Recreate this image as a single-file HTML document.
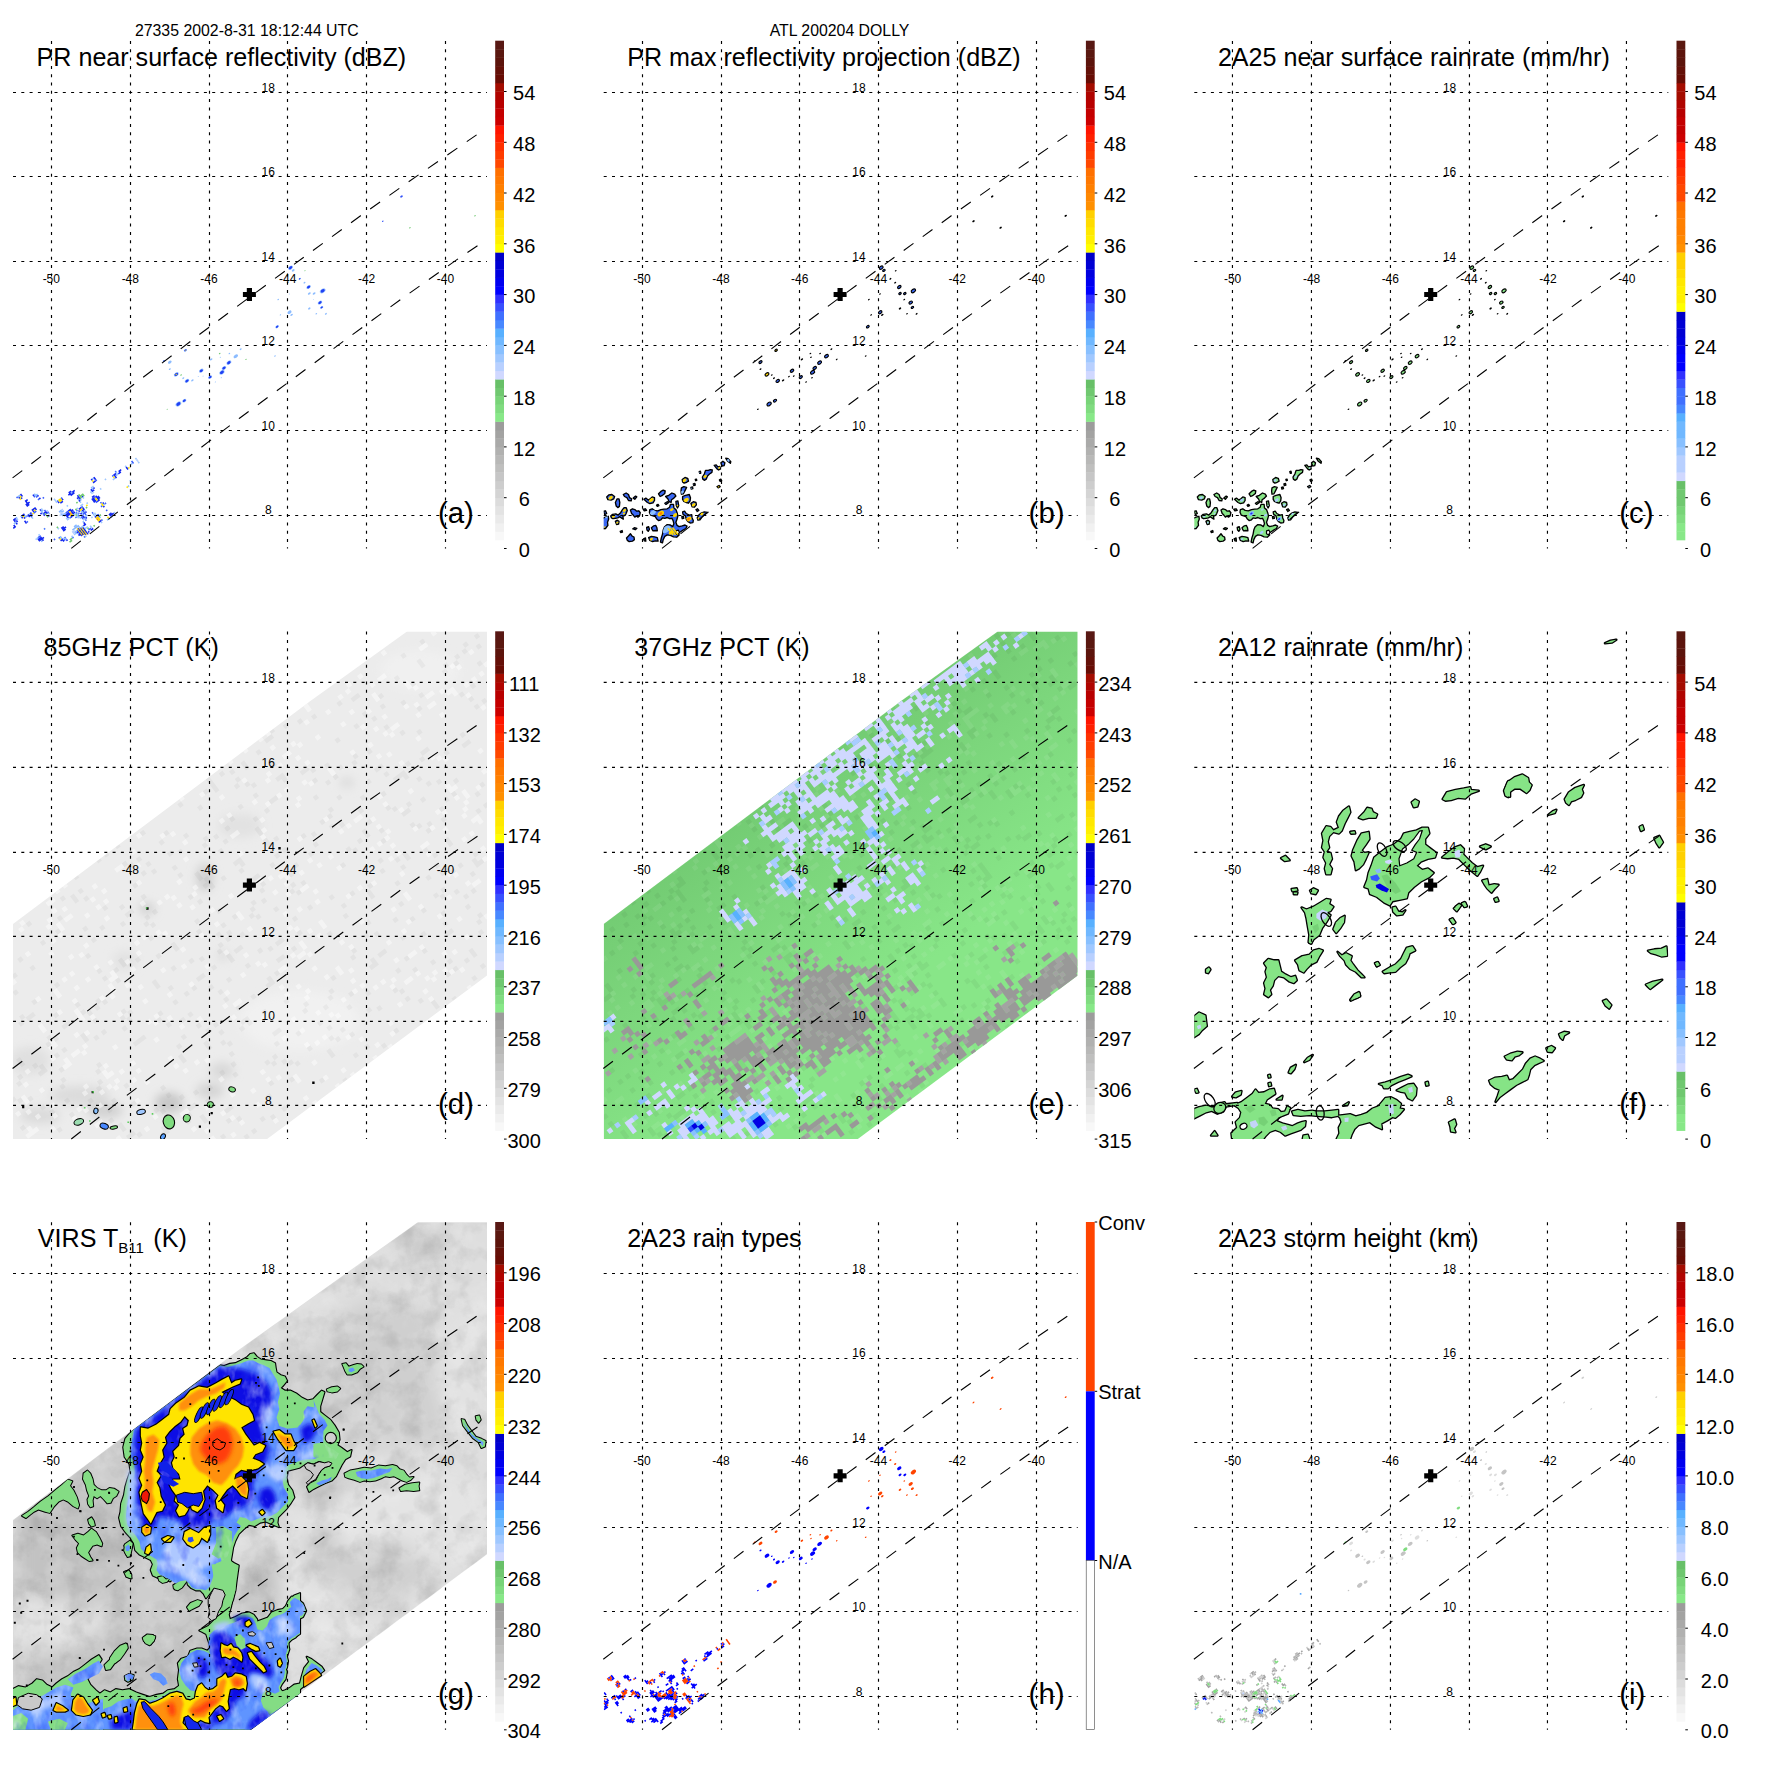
<!DOCTYPE html>
<html><head><meta charset="utf-8"><title>TRMM overpass</title>
<style>
html,body{margin:0;padding:0;background:#fff;}
svg{display:block;font-family:"Liberation Sans",sans-serif;}
.g{stroke:#000;stroke-width:1.15;stroke-dasharray:3 5.3;fill:none}
.sw{stroke:#000;stroke-width:1.1;stroke-dasharray:12.1 11.45;fill:none;stroke-linejoin:round}
.tk{stroke:#000;stroke-width:1}
.gl{font-size:12px;fill:#000}
.cl{font-size:20px;fill:#000}
.tt{font-size:25.1px;fill:#000}
.pl{font-size:29.4px;fill:#000}
.hd{font-size:15.85px;fill:#000}
</style></head><body>
<svg width="1771" height="1771" viewBox="0 0 1771 1771">
<rect width="1771" height="1771" fill="#fff"/>
<defs><clipPath id="cp"><rect x="13" y="41" width="474" height="507.5"/></clipPath>
<filter id="nzd" x="0" y="0" width="100%" height="100%"><feTurbulence type="fractalNoise" baseFrequency="0.045" numOctaves="4" seed="4"/><feColorMatrix type="matrix" values="0 0 0 0 0  0 0 0 0 0  0 0 0 0 0  2.2 0 0 0 -0.95"/></filter>
<filter id="nzl" x="0" y="0" width="100%" height="100%"><feTurbulence type="fractalNoise" baseFrequency="0.045" numOctaves="4" seed="11"/><feColorMatrix type="matrix" values="0 0 0 0 1  0 0 0 0 1  0 0 0 0 1  0 2.2 0 0 -0.95"/></filter>
<filter id="nzb" x="0" y="0" width="100%" height="100%"><feTurbulence type="fractalNoise" baseFrequency="0.09 0.05" numOctaves="3" seed="7"/><feColorMatrix type="matrix" values="0 0 0 0 0.82  0 0 0 0 0.88  0 0 0 0 1  2.6 0 0 0 -1.25"/></filter>
<filter id="nzk" x="0" y="0" width="100%" height="100%"><feTurbulence type="fractalNoise" baseFrequency="0.08 0.05" numOctaves="3" seed="21"/><feColorMatrix type="matrix" values="0 0 0 0 0.02  0 0 0 0 0.05  0 0 0 0 0.9  0 2.6 0 0 -1.3"/></filter>
<filter id="b1" x="-20%" y="-20%" width="140%" height="140%"><feGaussianBlur stdDeviation="1"/></filter>
<filter id="b2" x="-20%" y="-20%" width="140%" height="140%"><feGaussianBlur stdDeviation="2.2"/></filter>
<filter id="b5" x="-30%" y="-30%" width="160%" height="160%"><feGaussianBlur stdDeviation="5"/></filter>
<filter id="b9" x="-40%" y="-40%" width="180%" height="180%"><feGaussianBlur stdDeviation="9"/></filter></defs>

<g transform="translate(0,0)">
<g clip-path="url(#cp)">
<g transform="rotate(-36.76)"><path d="M-284.8 408.0h1.6v1.6h-1.6zM-270.4 417.6h1.6v1.6h-1.6zM-268.8 419.2h1.6v1.6h-1.6zM-268.8 422.4h1.6v1.6h-1.6zM-264.0 424.0h1.6v1.6h-1.6zM-299.2 425.6h1.6v1.6h-1.6zM-283.2 430.4h1.6v1.6h-1.6zM-280.0 430.4h3.2v1.6h-3.2zM-284.8 432.0h1.6v1.6h-1.6zM-291.2 433.6h1.6v1.6h-1.6zM-270.4 435.2h1.6v1.6h-1.6zM-254.4 435.2h1.6v1.6h-1.6zM-249.6 435.2h1.6v1.6h-1.6zM-273.6 436.8h1.6v1.6h-1.6zM-268.8 438.4h1.6v1.6h-1.6zM-211.2 441.6h1.6v1.6h-1.6zM-195.2 448.0h1.6v1.6h-1.6zM-171.2 448.0h1.6v1.6h-1.6zM-254.4 449.6h3.2v1.6h-3.2zM-171.2 449.6h1.6v1.6h-1.6zM-291.2 452.8h3.2v1.6h-3.2zM-248.0 452.8h1.6v1.6h-1.6zM-238.4 454.4h1.6v1.6h-1.6zM-222.4 454.4h1.6v1.6h-1.6zM-254.4 456.0h1.6v1.6h-1.6zM-251.2 456.0h1.6v1.6h-1.6zM-240.0 459.2h1.6v1.6h-1.6zM-224.0 459.2h1.6v1.6h-1.6zM-241.6 460.8h3.2v1.6h-3.2zM-244.8 462.4h1.6v1.6h-1.6zM-240.0 462.4h1.6v1.6h-1.6zM-220.8 462.4h1.6v1.6h-1.6zM-280.0 464.0h1.6v1.6h-1.6zM-244.8 464.0h1.6v1.6h-1.6zM-275.2 465.6h1.6v1.6h-1.6zM-233.6 465.6h1.6v1.6h-1.6zM-222.4 465.6h1.6v1.6h-1.6zM-217.6 465.6h1.6v1.6h-1.6zM-272.0 470.4h1.6v1.6h-1.6zM-256.0 470.4h1.6v1.6h-1.6zM-232.0 470.4h1.6v1.6h-1.6zM-220.8 472.0h1.6v1.6h-1.6zM-246.4 476.8h3.2v1.6h-3.2zM-230.4 476.8h1.6v1.6h-1.6z" fill="#3c60ff"/><path d="M-283.2 408.0h3.2v1.6h-3.2zM-268.8 416.0h1.6v1.6h-1.6zM-268.8 417.6h3.2v1.6h-3.2zM-292.8 425.6h1.6v1.6h-1.6zM-302.4 427.2h3.2v1.6h-3.2zM-289.6 427.2h1.6v1.6h-1.6zM-289.6 428.8h1.6v1.6h-1.6zM-284.8 428.8h1.6v1.6h-1.6zM-273.6 433.6h3.2v1.6h-3.2zM-273.6 435.2h1.6v1.6h-1.6zM-238.4 436.8h1.6v1.6h-1.6zM-212.8 438.4h1.6v1.6h-1.6zM-268.8 440.0h1.6v1.6h-1.6zM-219.2 444.8h1.6v1.6h-1.6zM-236.8 446.4h1.6v1.6h-1.6zM-219.2 446.4h1.6v1.6h-1.6zM-235.2 448.0h1.6v1.6h-1.6zM-192.0 449.6h1.6v1.6h-1.6zM-172.8 449.6h1.6v1.6h-1.6zM-195.2 451.2h1.6v1.6h-1.6zM-292.8 452.8h1.6v1.6h-1.6zM-249.6 456.0h1.6v1.6h-1.6zM-291.2 457.6h1.6v1.6h-1.6zM-241.6 457.6h1.6v1.6h-1.6zM-241.6 459.2h1.6v1.6h-1.6zM-243.2 460.8h1.6v1.6h-1.6zM-184.0 462.4h1.6v1.6h-1.6zM-241.6 464.0h3.2v1.6h-3.2zM-273.6 465.6h1.6v1.6h-1.6zM-243.2 465.6h1.6v1.6h-1.6zM-219.2 465.6h1.6v1.6h-1.6zM-188.8 465.6h1.6v1.6h-1.6zM-273.6 467.2h1.6v1.6h-1.6zM-246.4 467.2h1.6v1.6h-1.6zM-233.6 467.2h1.6v1.6h-1.6zM-270.4 470.4h1.6v1.6h-1.6zM-257.6 473.6h1.6v1.6h-1.6zM-252.8 473.6h1.6v1.6h-1.6zM-230.4 473.6h1.6v1.6h-1.6zM-225.6 480.0h3.2v1.6h-3.2z" fill="#8cbcff"/><path d="M-280.0 408.0h1.6v1.6h-1.6zM-283.2 409.6h1.6v1.6h-1.6zM-280.0 409.6h1.6v1.6h-1.6zM-281.6 411.2h1.6v1.6h-1.6zM-280.0 416.0h3.2v1.6h-3.2zM-270.4 416.0h1.6v1.6h-1.6zM-280.0 417.6h1.6v1.6h-1.6zM-281.6 419.2h4.8v1.6h-4.8zM-267.2 419.2h1.6v1.6h-1.6zM-281.6 420.8h3.2v1.6h-3.2zM-267.2 422.4h1.6v1.6h-1.6zM-300.8 424.0h3.2v1.6h-3.2zM-300.8 425.6h1.6v1.6h-1.6zM-291.2 425.6h3.2v1.6h-3.2zM-299.2 427.2h1.6v1.6h-1.6zM-292.8 427.2h1.6v1.6h-1.6zM-280.0 427.2h4.8v1.6h-4.8zM-304.0 428.8h1.6v1.6h-1.6zM-300.8 428.8h1.6v1.6h-1.6zM-291.2 428.8h1.6v1.6h-1.6zM-286.4 428.8h1.6v1.6h-1.6zM-283.2 428.8h1.6v1.6h-1.6zM-280.0 428.8h1.6v1.6h-1.6zM-276.8 428.8h1.6v1.6h-1.6zM-305.6 430.4h3.2v1.6h-3.2zM-286.4 430.4h3.2v1.6h-3.2zM-292.8 432.0h1.6v1.6h-1.6zM-273.6 432.0h1.6v1.6h-1.6zM-292.8 433.6h1.6v1.6h-1.6zM-275.2 435.2h1.6v1.6h-1.6zM-240.0 435.2h3.2v1.6h-3.2zM-272.0 436.8h3.2v1.6h-3.2zM-254.4 436.8h1.6v1.6h-1.6zM-249.6 436.8h1.6v1.6h-1.6zM-241.6 436.8h3.2v1.6h-3.2zM-236.8 436.8h3.2v1.6h-3.2zM-273.6 438.4h1.6v1.6h-1.6zM-270.4 438.4h1.6v1.6h-1.6zM-252.8 438.4h3.2v1.6h-3.2zM-240.0 438.4h4.8v1.6h-4.8zM-214.4 438.4h1.6v1.6h-1.6zM-211.2 438.4h1.6v1.6h-1.6zM-211.2 440.0h1.6v1.6h-1.6zM-270.4 441.6h1.6v1.6h-1.6zM-214.4 441.6h3.2v1.6h-3.2zM-235.2 443.2h1.6v1.6h-1.6zM-236.8 444.8h3.2v1.6h-3.2zM-235.2 446.4h1.6v1.6h-1.6zM-232.0 446.4h1.6v1.6h-1.6zM-220.8 446.4h1.6v1.6h-1.6zM-217.6 446.4h1.6v1.6h-1.6zM-236.8 448.0h1.6v1.6h-1.6zM-220.8 448.0h3.2v1.6h-3.2zM-193.6 448.0h3.2v1.6h-3.2zM-187.2 448.0h3.2v1.6h-3.2zM-251.2 449.6h3.2v1.6h-3.2zM-193.6 449.6h1.6v1.6h-1.6zM-188.8 449.6h3.2v1.6h-3.2zM-179.2 449.6h1.6v1.6h-1.6zM-256.0 451.2h4.8v1.6h-4.8zM-249.6 451.2h3.2v1.6h-3.2zM-193.6 451.2h1.6v1.6h-1.6zM-179.2 451.2h1.6v1.6h-1.6zM-256.0 452.8h4.8v1.6h-4.8zM-249.6 452.8h1.6v1.6h-1.6zM-224.0 452.8h3.2v1.6h-3.2zM-292.8 454.4h4.8v1.6h-4.8zM-256.0 454.4h1.6v1.6h-1.6zM-249.6 454.4h3.2v1.6h-3.2zM-241.6 454.4h3.2v1.6h-3.2zM-225.6 454.4h3.2v1.6h-3.2zM-220.8 454.4h1.6v1.6h-1.6zM-292.8 456.0h6.4v1.6h-6.4zM-252.8 456.0h1.6v1.6h-1.6zM-243.2 456.0h1.6v1.6h-1.6zM-238.4 456.0h1.6v1.6h-1.6zM-225.6 456.0h3.2v1.6h-3.2zM-220.8 456.0h3.2v1.6h-3.2zM-289.6 457.6h1.6v1.6h-1.6zM-240.0 457.6h3.2v1.6h-3.2zM-225.6 457.6h3.2v1.6h-3.2zM-220.8 457.6h3.2v1.6h-3.2zM-267.2 459.2h3.2v1.6h-3.2zM-243.2 459.2h1.6v1.6h-1.6zM-222.4 459.2h3.2v1.6h-3.2zM-267.2 460.8h4.8v1.6h-4.8zM-238.4 460.8h1.6v1.6h-1.6zM-267.2 462.4h3.2v1.6h-3.2zM-243.2 462.4h1.6v1.6h-1.6zM-243.2 464.0h1.6v1.6h-1.6zM-219.2 464.0h1.6v1.6h-1.6zM-241.6 465.6h1.6v1.6h-1.6zM-220.8 467.2h1.6v1.6h-1.6zM-275.2 468.8h3.2v1.6h-3.2zM-246.4 468.8h1.6v1.6h-1.6zM-273.6 470.4h1.6v1.6h-1.6zM-248.0 470.4h3.2v1.6h-3.2zM-233.6 470.4h1.6v1.6h-1.6zM-230.4 470.4h1.6v1.6h-1.6zM-270.4 472.0h1.6v1.6h-1.6zM-257.6 472.0h6.4v1.6h-6.4zM-230.4 472.0h1.6v1.6h-1.6zM-256.0 473.6h1.6v1.6h-1.6zM-257.6 475.2h3.2v1.6h-3.2zM-252.8 475.2h3.2v1.6h-3.2zM-256.0 476.8h4.8v1.6h-4.8zM-233.6 476.8h3.2v1.6h-3.2zM-220.8 476.8h3.2v1.6h-3.2zM-248.0 478.4h1.6v1.6h-1.6zM-244.8 478.4h3.2v1.6h-3.2zM-220.8 478.4h4.8v1.6h-4.8z" fill="#1428f0"/><path d="M-281.6 409.6h1.6v1.6h-1.6zM-283.2 411.2h1.6v1.6h-1.6zM-291.2 427.2h1.6v1.6h-1.6zM-278.4 428.8h1.6v1.6h-1.6zM-281.6 430.4h1.6v1.6h-1.6zM-252.8 435.2h3.2v1.6h-3.2zM-252.8 436.8h3.2v1.6h-3.2zM-214.4 440.0h1.6v1.6h-1.6zM-195.2 449.6h1.6v1.6h-1.6zM-177.6 451.2h1.6v1.6h-1.6zM-241.6 456.0h3.2v1.6h-3.2zM-233.6 456.0h1.6v1.6h-1.6zM-222.4 456.0h1.6v1.6h-1.6zM-222.4 457.6h1.6v1.6h-1.6zM-220.8 464.0h1.6v1.6h-1.6zM-220.8 465.6h1.6v1.6h-1.6zM-190.4 465.6h1.6v1.6h-1.6zM-275.2 467.2h1.6v1.6h-1.6zM-254.4 473.6h1.6v1.6h-1.6zM-224.0 478.4h1.6v1.6h-1.6z" fill="#ffe400"/><path d="M-297.6 424.0h1.6v1.6h-1.6zM-259.2 444.8h3.2v1.6h-3.2zM-257.6 446.4h3.2v1.6h-3.2zM-259.2 448.0h1.6v1.6h-1.6zM-222.4 448.0h1.6v1.6h-1.6zM-259.2 449.6h4.8v1.6h-4.8zM-256.0 465.6h3.2v1.6h-3.2zM-259.2 467.2h8.0v1.6h-8.0zM-252.8 468.8h1.6v1.6h-1.6zM-259.2 470.4h3.2v1.6h-3.2zM-252.8 470.4h1.6v1.6h-1.6zM-259.2 472.0h1.6v1.6h-1.6z" fill="#88b8ff"/><path d="M-297.6 425.6h1.6v1.6h-1.6zM-272.0 432.0h1.6v1.6h-1.6zM-256.0 432.0h1.6v1.6h-1.6zM-284.8 433.6h1.6v1.6h-1.6zM-256.0 433.6h1.6v1.6h-1.6zM-256.0 435.2h1.6v1.6h-1.6zM-268.8 436.8h1.6v1.6h-1.6zM-249.6 444.8h1.6v1.6h-1.6zM-217.6 444.8h1.6v1.6h-1.6zM-203.2 446.4h1.6v1.6h-1.6zM-232.0 448.0h1.6v1.6h-1.6zM-190.4 448.0h1.6v1.6h-1.6zM-179.2 448.0h1.6v1.6h-1.6zM-166.4 448.0h1.6v1.6h-1.6zM-236.8 449.6h1.6v1.6h-1.6zM-190.4 449.6h1.6v1.6h-1.6zM-289.6 451.2h1.6v1.6h-1.6zM-257.6 451.2h1.6v1.6h-1.6zM-212.8 451.2h1.6v1.6h-1.6zM-196.8 451.2h1.6v1.6h-1.6zM-294.4 452.8h1.6v1.6h-1.6zM-243.2 452.8h1.6v1.6h-1.6zM-238.4 452.8h3.2v1.6h-3.2zM-166.4 452.8h1.6v1.6h-1.6zM-257.6 454.4h1.6v1.6h-1.6zM-232.0 454.4h1.6v1.6h-1.6zM-257.6 456.0h3.2v1.6h-3.2zM-248.0 456.0h1.6v1.6h-1.6zM-270.4 457.6h1.6v1.6h-1.6zM-246.4 457.6h1.6v1.6h-1.6zM-248.0 459.2h1.6v1.6h-1.6zM-238.4 459.2h1.6v1.6h-1.6zM-248.0 460.8h3.2v1.6h-3.2zM-246.4 462.4h1.6v1.6h-1.6zM-244.8 465.6h1.6v1.6h-1.6zM-232.0 467.2h1.6v1.6h-1.6zM-272.0 468.8h1.6v1.6h-1.6zM-236.8 468.8h1.6v1.6h-1.6zM-233.6 468.8h3.2v1.6h-3.2zM-251.2 470.4h3.2v1.6h-3.2zM-264.0 472.0h1.6v1.6h-1.6zM-260.8 472.0h1.6v1.6h-1.6zM-249.6 472.0h1.6v1.6h-1.6zM-249.6 473.6h4.8v1.6h-4.8zM-249.6 475.2h1.6v1.6h-1.6zM-243.2 475.2h1.6v1.6h-1.6zM-243.2 476.8h1.6v1.6h-1.6zM-232.0 478.4h1.6v1.6h-1.6zM-216.0 478.4h1.6v1.6h-1.6zM-252.8 480.0h1.6v1.6h-1.6zM-220.8 480.0h1.6v1.6h-1.6z" fill="#a0c8ff"/><path d="M-288.0 428.8h1.6v1.6h-1.6zM-190.4 446.4h1.6v1.6h-1.6zM-281.6 449.6h1.6v1.6h-1.6zM-244.8 454.4h1.6v1.6h-1.6zM-246.4 456.0h1.6v1.6h-1.6zM-244.8 457.6h1.6v1.6h-1.6zM-249.6 459.2h1.6v1.6h-1.6zM-246.4 459.2h1.6v1.6h-1.6zM-243.2 467.2h1.6v1.6h-1.6zM-270.4 468.8h1.6v1.6h-1.6zM-264.0 473.6h1.6v1.6h-1.6zM-254.4 480.0h1.6v1.6h-1.6z" fill="#4878ff"/><path d="M-272.0 438.4h1.6v1.6h-1.6zM-272.0 441.6h1.6v1.6h-1.6zM-233.6 443.2h1.6v1.6h-1.6zM-233.6 444.8h4.8v1.6h-4.8zM-233.6 446.4h1.6v1.6h-1.6zM-230.4 446.4h1.6v1.6h-1.6zM-240.0 448.0h1.6v1.6h-1.6zM-244.8 452.8h1.6v1.6h-1.6zM-270.4 456.0h1.6v1.6h-1.6zM-248.0 457.6h1.6v1.6h-1.6zM-235.2 457.6h1.6v1.6h-1.6zM-251.2 472.0h1.6v1.6h-1.6zM-228.8 472.0h1.6v1.6h-1.6zM-267.2 473.6h3.2v1.6h-3.2zM-268.8 475.2h3.2v1.6h-3.2zM-246.4 475.2h1.6v1.6h-1.6zM-240.0 476.8h1.6v1.6h-1.6z" fill="#70c870"/><path d="M-256.0 444.8h1.6v1.6h-1.6zM-259.2 446.4h1.6v1.6h-1.6zM-260.8 448.0h1.6v1.6h-1.6zM-257.6 448.0h1.6v1.6h-1.6zM-222.4 449.6h3.2v1.6h-3.2zM-166.4 449.6h1.6v1.6h-1.6zM-166.4 451.2h1.6v1.6h-1.6zM-260.8 468.8h3.2v1.6h-3.2zM-254.4 468.8h1.6v1.6h-1.6zM-260.8 470.4h1.6v1.6h-1.6z" fill="#b8d0ff"/><path d="M-251.2 451.2h1.6v1.6h-1.6zM-252.8 454.4h3.2v1.6h-3.2zM-233.6 472.0h3.2v1.6h-3.2zM-232.0 473.6h1.6v1.6h-1.6zM-233.6 475.2h3.2v1.6h-3.2z" fill="#ffd800"/><path d="M-251.2 452.8h1.6v1.6h-1.6zM-233.6 473.6h1.6v1.6h-1.6z" fill="#ff9000"/></g>
<polygon points="76.5,528.5 77.4,528.1 82.8,534.9 81.9,535.5" fill="#ffd800"/>
<polygon points="77.7,528.4 78.6,527.9 84.0,534.7 83.1,535.3" fill="#0a1ce0"/>
<polygon points="78.9,528.2 79.8,527.7 85.2,534.5 84.2,535.2" fill="#ffd800"/>
<polygon points="80.1,528.1 81.0,527.6 86.4,534.4 85.4,535.0" fill="#0a1ce0"/>
<polygon points="81.2,527.9 82.2,527.4 87.6,534.2 86.6,534.9" fill="#ffd800"/>
<polygon points="82.4,527.7 83.4,527.3 88.7,534.1 87.8,534.7" fill="#0a1ce0"/>
<ellipse cx="185.4" cy="350.3" rx="1.78" ry="1.14" transform="rotate(-35 185.4 350.3)" fill="#9cc4ff"/>
<ellipse cx="185.4" cy="350.3" rx="1.28" ry="0.82" transform="rotate(-35 185.4 350.3)" fill="#2040f4"/>
<ellipse cx="185.4" cy="350.3" rx="0.56" ry="0.36" transform="rotate(-35 185.4 350.3)" fill="#ffe000"/>
<ellipse cx="163.9" cy="361.0" rx="1.27" ry="0.82" transform="rotate(-35 163.9 361.0)" fill="#9cc4ff"/>
<ellipse cx="163.9" cy="361.0" rx="0.91" ry="0.58" transform="rotate(-35 163.9 361.0)" fill="#2040f4"/>
<ellipse cx="169.8" cy="362.1" rx="2.05" ry="1.31" transform="rotate(-35 169.8 362.1)" fill="#8cbcff"/>
<ellipse cx="169.8" cy="369.1" rx="1.14" ry="0.73" transform="rotate(-35 169.8 369.1)" fill="#8cbcff"/>
<ellipse cx="176.3" cy="374.4" rx="2.8" ry="1.79" transform="rotate(-35 176.3 374.4)" fill="#9cc4ff"/>
<ellipse cx="176.3" cy="374.4" rx="2.01" ry="1.28" transform="rotate(-35 176.3 374.4)" fill="#2040f4"/>
<ellipse cx="176.3" cy="374.4" rx="0.89" ry="0.57" transform="rotate(-35 176.3 374.4)" fill="#ffe000"/>
<ellipse cx="181.1" cy="375.0" rx="0.91" ry="0.58" transform="rotate(-35 181.1 375.0)" fill="#70c870"/>
<ellipse cx="183.3" cy="378.2" rx="1.14" ry="0.73" transform="rotate(-35 183.3 378.2)" fill="#8cbcff"/>
<ellipse cx="187.0" cy="380.9" rx="2.55" ry="1.63" transform="rotate(-35 187.0 380.9)" fill="#9cc4ff"/>
<ellipse cx="187.0" cy="380.9" rx="1.82" ry="1.17" transform="rotate(-35 187.0 380.9)" fill="#2040f4"/>
<ellipse cx="192.4" cy="380.4" rx="1.37" ry="0.88" transform="rotate(-35 192.4 380.4)" fill="#8cbcff"/>
<ellipse cx="201.3" cy="370.7" rx="2.55" ry="1.63" transform="rotate(-35 201.3 370.7)" fill="#9cc4ff"/>
<ellipse cx="201.3" cy="370.7" rx="1.82" ry="1.17" transform="rotate(-35 201.3 370.7)" fill="#2040f4"/>
<ellipse cx="210.1" cy="377.1" rx="2.29" ry="1.47" transform="rotate(-35 210.1 377.1)" fill="#9cc4ff"/>
<ellipse cx="210.1" cy="377.1" rx="1.64" ry="1.05" transform="rotate(-35 210.1 377.1)" fill="#2040f4"/>
<ellipse cx="211.2" cy="359.4" rx="1.37" ry="0.88" transform="rotate(-35 211.2 359.4)" fill="#8cbcff"/>
<ellipse cx="219.7" cy="353.5" rx="0.91" ry="0.58" transform="rotate(-35 219.7 353.5)" fill="#70c870"/>
<ellipse cx="220.3" cy="357.3" rx="0.68" ry="0.44" transform="rotate(-35 220.3 357.3)" fill="#8cbcff"/>
<ellipse cx="221.9" cy="372.3" rx="3.06" ry="1.96" transform="rotate(-35 221.9 372.3)" fill="#9cc4ff"/>
<ellipse cx="221.9" cy="372.3" rx="2.19" ry="1.4" transform="rotate(-35 221.9 372.3)" fill="#2040f4"/>
<ellipse cx="224.0" cy="368.0" rx="2.55" ry="1.63" transform="rotate(-35 224.0 368.0)" fill="#9cc4ff"/>
<ellipse cx="224.0" cy="368.0" rx="1.82" ry="1.17" transform="rotate(-35 224.0 368.0)" fill="#2040f4"/>
<ellipse cx="228.9" cy="362.6" rx="2.8" ry="1.79" transform="rotate(-35 228.9 362.6)" fill="#9cc4ff"/>
<ellipse cx="228.9" cy="362.6" rx="2.01" ry="1.28" transform="rotate(-35 228.9 362.6)" fill="#2040f4"/>
<ellipse cx="229.4" cy="353.5" rx="0.91" ry="0.58" transform="rotate(-35 229.4 353.5)" fill="#8cbcff"/>
<ellipse cx="235.8" cy="356.2" rx="2.51" ry="1.6" transform="rotate(-35 235.8 356.2)" fill="#8cbcff"/>
<ellipse cx="240.7" cy="349.2" rx="1.14" ry="0.73" transform="rotate(-35 240.7 349.2)" fill="#8cbcff"/>
<ellipse cx="246.0" cy="359.4" rx="0.8" ry="0.51" transform="rotate(-35 246.0 359.4)" fill="#70c870"/>
<ellipse cx="215.4" cy="382.0" rx="0.68" ry="0.44" transform="rotate(-35 215.4 382.0)" fill="#8cbcff"/>
<ellipse cx="221.3" cy="377.7" rx="0.68" ry="0.44" transform="rotate(-35 221.3 377.7)" fill="#8cbcff"/>
<ellipse cx="198.3" cy="376.6" rx="0.57" ry="0.36" transform="rotate(-35 198.3 376.6)" fill="#8cbcff"/>
<ellipse cx="203.1" cy="376.1" rx="0.57" ry="0.36" transform="rotate(-35 203.1 376.1)" fill="#8cbcff"/>
<ellipse cx="178.4" cy="404.0" rx="3.19" ry="2.04" transform="rotate(-35 178.4 404.0)" fill="#9cc4ff"/>
<ellipse cx="178.4" cy="404.0" rx="2.28" ry="1.46" transform="rotate(-35 178.4 404.0)" fill="#2040f4"/>
<ellipse cx="184.3" cy="400.7" rx="2.29" ry="1.47" transform="rotate(-35 184.3 400.7)" fill="#9cc4ff"/>
<ellipse cx="184.3" cy="400.7" rx="1.64" ry="1.05" transform="rotate(-35 184.3 400.7)" fill="#2040f4"/>
<ellipse cx="167.2" cy="409.3" rx="0.68" ry="0.44" transform="rotate(-35 167.2 409.3)" fill="#70c870"/>
<ellipse cx="290.5" cy="267.7" rx="2.8" ry="1.79" transform="rotate(-35 290.5 267.7)" fill="#9cc4ff"/>
<ellipse cx="290.5" cy="267.7" rx="2.01" ry="1.28" transform="rotate(-35 290.5 267.7)" fill="#2040f4"/>
<ellipse cx="293.2" cy="270.4" rx="1.6" ry="1.02" transform="rotate(-35 293.2 270.4)" fill="#8cbcff"/>
<ellipse cx="305.0" cy="270.7" rx="0.68" ry="0.44" transform="rotate(-35 305.0 270.7)" fill="#70c870"/>
<ellipse cx="299.7" cy="278.8" rx="1.27" ry="0.82" transform="rotate(-35 299.7 278.8)" fill="#9cc4ff"/>
<ellipse cx="299.7" cy="278.8" rx="0.91" ry="0.58" transform="rotate(-35 299.7 278.8)" fill="#2040f4"/>
<ellipse cx="304.5" cy="282.7" rx="1.14" ry="0.73" transform="rotate(-35 304.5 282.7)" fill="#8cbcff"/>
<ellipse cx="308.6" cy="287.0" rx="2.55" ry="1.63" transform="rotate(-35 308.6 287.0)" fill="#9cc4ff"/>
<ellipse cx="308.6" cy="287.0" rx="1.82" ry="1.17" transform="rotate(-35 308.6 287.0)" fill="#2040f4"/>
<ellipse cx="309.3" cy="293.5" rx="1.6" ry="1.02" transform="rotate(-35 309.3 293.5)" fill="#8cbcff"/>
<ellipse cx="314.1" cy="293.5" rx="1.6" ry="1.02" transform="rotate(-35 314.1 293.5)" fill="#8cbcff"/>
<ellipse cx="322.7" cy="290.8" rx="3.19" ry="2.04" transform="rotate(-35 322.7 290.8)" fill="#9cc4ff"/>
<ellipse cx="322.7" cy="290.8" rx="2.28" ry="1.46" transform="rotate(-35 322.7 290.8)" fill="#2040f4"/>
<ellipse cx="320.0" cy="302.6" rx="2.55" ry="1.63" transform="rotate(-35 320.0 302.6)" fill="#9cc4ff"/>
<ellipse cx="320.0" cy="302.6" rx="1.82" ry="1.17" transform="rotate(-35 320.0 302.6)" fill="#2040f4"/>
<ellipse cx="321.7" cy="307.4" rx="1.78" ry="1.14" transform="rotate(-35 321.7 307.4)" fill="#9cc4ff"/>
<ellipse cx="321.7" cy="307.4" rx="1.28" ry="0.82" transform="rotate(-35 321.7 307.4)" fill="#2040f4"/>
<ellipse cx="309.3" cy="308.5" rx="1.37" ry="0.88" transform="rotate(-35 309.3 308.5)" fill="#8cbcff"/>
<ellipse cx="316.3" cy="313.8" rx="0.91" ry="0.58" transform="rotate(-35 316.3 313.8)" fill="#8cbcff"/>
<ellipse cx="325.9" cy="313.8" rx="1.14" ry="0.73" transform="rotate(-35 325.9 313.8)" fill="#8cbcff"/>
<ellipse cx="289.5" cy="312.2" rx="2.28" ry="1.46" transform="rotate(-35 289.5 312.2)" fill="#8cbcff"/>
<ellipse cx="291.6" cy="314.9" rx="1.37" ry="0.88" transform="rotate(-35 291.6 314.9)" fill="#8cbcff"/>
<ellipse cx="280.4" cy="314.9" rx="0.8" ry="0.51" transform="rotate(-35 280.4 314.9)" fill="#8cbcff"/>
<ellipse cx="278.2" cy="299.6" rx="0.91" ry="0.58" transform="rotate(-35 278.2 299.6)" fill="#8cbcff"/>
<ellipse cx="289.3" cy="294.0" rx="0.57" ry="0.36" transform="rotate(-35 289.3 294.0)" fill="#8cbcff"/>
<ellipse cx="277.1" cy="326.7" rx="2.04" ry="1.3" transform="rotate(-35 277.1 326.7)" fill="#9cc4ff"/>
<ellipse cx="277.1" cy="326.7" rx="1.46" ry="0.93" transform="rotate(-35 277.1 326.7)" fill="#2040f4"/>
<ellipse cx="275.0" cy="356.0" rx="0.91" ry="0.58" transform="rotate(-35 275.0 356.0)" fill="#8cbcff"/>
<ellipse cx="313.6" cy="299.6" rx="0.46" ry="0.29" transform="rotate(-35 313.6 299.6)" fill="#8cbcff"/>
<ellipse cx="401.5" cy="196.5" rx="1.48" ry="0.95" transform="rotate(-35 401.5 196.5)" fill="#3050f8"/>
<ellipse cx="382.8" cy="221.2" rx="0.85" ry="0.54" transform="rotate(-35 382.8 221.2)" fill="#3050f8"/>
<ellipse cx="409.9" cy="227.7" rx="0.85" ry="0.54" transform="rotate(-35 409.9 227.7)" fill="#70c870"/>
<ellipse cx="475.0" cy="215.8" rx="0.85" ry="0.54" transform="rotate(-35 475.0 215.8)" fill="#70c870"/>
</g>
<line x1="51.50" y1="41" x2="51.50" y2="548.5" class="g"/>
<line x1="130.50" y1="41" x2="130.50" y2="548.5" class="g"/>
<line x1="209.50" y1="41" x2="209.50" y2="548.5" class="g"/>
<line x1="287.50" y1="41" x2="287.50" y2="548.5" class="g"/>
<line x1="366.50" y1="41" x2="366.50" y2="548.5" class="g"/>
<line x1="445.50" y1="41" x2="445.50" y2="548.5" class="g"/>
<line x1="13" y1="92.50" x2="487" y2="92.50" class="g"/>
<line x1="13" y1="176.50" x2="487" y2="176.50" class="g"/>
<line x1="13" y1="261.50" x2="487" y2="261.50" class="g"/>
<line x1="13" y1="345.50" x2="487" y2="345.50" class="g"/>
<line x1="13" y1="430.50" x2="487" y2="430.50" class="g"/>
<line x1="13" y1="515.50" x2="487" y2="515.50" class="g"/>
<polyline points="12.6,477.9 59.5,442.4 96.7,413 134,384.2 171.3,356 199.7,334.3 246.3,299.6 303.8,257.2 360.6,215.7 418.2,175.1 476.6,134.9" class="sw"/>
<polyline points="71.3,548.4 127.2,504.5 154.9,483.6 192.2,454.2 239.5,418.2 286.9,383.4 343.7,341.1 400.4,299.6 458,258.9 477.5,245.7" class="sw"/>
<text x="51.3" y="283.3" class="gl" text-anchor="middle">-50</text>
<text x="130.3" y="283.3" class="gl" text-anchor="middle">-48</text>
<text x="209" y="283.3" class="gl" text-anchor="middle">-46</text>
<text x="287.7" y="283.3" class="gl" text-anchor="middle">-44</text>
<text x="366.6" y="283.3" class="gl" text-anchor="middle">-42</text>
<text x="445.5" y="283.3" class="gl" text-anchor="middle">-40</text>
<text x="268.3" y="91.7" class="gl" text-anchor="middle">18</text>
<text x="268.3" y="176.2" class="gl" text-anchor="middle">16</text>
<text x="268.3" y="260.8" class="gl" text-anchor="middle">14</text>
<text x="268.3" y="345.3" class="gl" text-anchor="middle">12</text>
<text x="268.3" y="429.9" class="gl" text-anchor="middle">10</text>
<text x="268.3" y="514.4" class="gl" text-anchor="middle">8</text>
<path d="M242.9 294.5H255.9M249.4 288V301" stroke="#000" stroke-width="5.2" fill="none"/>
<text x="36.6" y="65.9" class="tt">PR near surface reflectivity (dBZ)</text>
<text x="437.9" y="523.0" class="pl">(a)</text>
<rect x="495.2" y="531.57" width="8.8" height="8.76" fill="#f8f8f8"/>
<rect x="495.2" y="523.11" width="8.8" height="8.76" fill="#f1f1f1"/>
<rect x="495.2" y="514.65" width="8.8" height="8.76" fill="#eaeaea"/>
<rect x="495.2" y="506.18" width="8.8" height="8.76" fill="#e3e3e3"/>
<rect x="495.2" y="497.72" width="8.8" height="8.76" fill="#dcdcdc"/>
<rect x="495.2" y="489.26" width="8.8" height="8.76" fill="#d4d4d4"/>
<rect x="495.2" y="480.79" width="8.8" height="8.76" fill="#cdcdcd"/>
<rect x="495.2" y="472.33" width="8.8" height="8.76" fill="#c6c6c6"/>
<rect x="495.2" y="463.87" width="8.8" height="8.76" fill="#bfbfbe"/>
<rect x="495.2" y="455.40" width="8.8" height="8.76" fill="#b8b8b7"/>
<rect x="495.2" y="446.94" width="8.8" height="8.76" fill="#b1b1b0"/>
<rect x="495.2" y="438.48" width="8.8" height="8.76" fill="#aaaaa9"/>
<rect x="495.2" y="430.01" width="8.8" height="8.76" fill="#a3a3a2"/>
<rect x="495.2" y="421.55" width="8.8" height="8.76" fill="#9c9c9b"/>
<rect x="495.2" y="413.09" width="8.8" height="8.76" fill="#88e888"/>
<rect x="495.2" y="404.62" width="8.8" height="8.76" fill="#80dc80"/>
<rect x="495.2" y="396.16" width="8.8" height="8.76" fill="#78d478"/>
<rect x="495.2" y="387.70" width="8.8" height="8.76" fill="#70c870"/>
<rect x="495.2" y="379.23" width="8.8" height="8.76" fill="#68c068"/>
<rect x="495.2" y="370.77" width="8.8" height="8.76" fill="#d0d8ff"/>
<rect x="495.2" y="362.31" width="8.8" height="8.76" fill="#b8d0ff"/>
<rect x="495.2" y="353.84" width="8.8" height="8.76" fill="#a0c8ff"/>
<rect x="495.2" y="345.38" width="8.8" height="8.76" fill="#88c0ff"/>
<rect x="495.2" y="336.92" width="8.8" height="8.76" fill="#70b8ff"/>
<rect x="495.2" y="328.45" width="8.8" height="8.76" fill="#58b0ff"/>
<rect x="495.2" y="319.99" width="8.8" height="8.76" fill="#4888ff"/>
<rect x="495.2" y="311.53" width="8.8" height="8.76" fill="#4070ff"/>
<rect x="495.2" y="303.06" width="8.8" height="8.76" fill="#3850ff"/>
<rect x="495.2" y="294.60" width="8.8" height="8.76" fill="#3030ff"/>
<rect x="495.2" y="286.14" width="8.8" height="8.76" fill="#0000ff"/>
<rect x="495.2" y="277.67" width="8.8" height="8.76" fill="#0000f0"/>
<rect x="495.2" y="269.21" width="8.8" height="8.76" fill="#0000e0"/>
<rect x="495.2" y="260.75" width="8.8" height="8.76" fill="#0000d4"/>
<rect x="495.2" y="252.28" width="8.8" height="8.76" fill="#0000c8"/>
<rect x="495.2" y="243.82" width="8.8" height="8.76" fill="#ffff00"/>
<rect x="495.2" y="235.36" width="8.8" height="8.76" fill="#fff000"/>
<rect x="495.2" y="226.89" width="8.8" height="8.76" fill="#ffe800"/>
<rect x="495.2" y="218.43" width="8.8" height="8.76" fill="#ffdc00"/>
<rect x="495.2" y="209.97" width="8.8" height="8.76" fill="#ffd000"/>
<rect x="495.2" y="201.50" width="8.8" height="8.76" fill="#ff9000"/>
<rect x="495.2" y="193.04" width="8.8" height="8.76" fill="#ff8800"/>
<rect x="495.2" y="184.58" width="8.8" height="8.76" fill="#ff8000"/>
<rect x="495.2" y="176.11" width="8.8" height="8.76" fill="#ff7800"/>
<rect x="495.2" y="167.65" width="8.8" height="8.76" fill="#ff7000"/>
<rect x="495.2" y="159.19" width="8.8" height="8.76" fill="#ff4800"/>
<rect x="495.2" y="150.72" width="8.8" height="8.76" fill="#ff3c00"/>
<rect x="495.2" y="142.26" width="8.8" height="8.76" fill="#ff3000"/>
<rect x="495.2" y="133.80" width="8.8" height="8.76" fill="#ff2000"/>
<rect x="495.2" y="125.33" width="8.8" height="8.76" fill="#ff1400"/>
<rect x="495.2" y="116.87" width="8.8" height="8.76" fill="#cc0000"/>
<rect x="495.2" y="108.41" width="8.8" height="8.76" fill="#c40000"/>
<rect x="495.2" y="99.94" width="8.8" height="8.76" fill="#b80000"/>
<rect x="495.2" y="91.48" width="8.8" height="8.76" fill="#b00400"/>
<rect x="495.2" y="83.02" width="8.8" height="8.76" fill="#a40c00"/>
<rect x="495.2" y="74.55" width="8.8" height="8.76" fill="#680c04"/>
<rect x="495.2" y="66.09" width="8.8" height="8.76" fill="#641008"/>
<rect x="495.2" y="57.63" width="8.8" height="8.76" fill="#5c140c"/>
<rect x="495.2" y="49.16" width="8.8" height="8.76" fill="#5a1810"/>
<rect x="495.2" y="40.70" width="8.8" height="8.76" fill="#581814"/>
<line x1="504" y1="548.5" x2="506.6" y2="548.5" class="tk"/>
<text x="524.2" y="557.2" class="cl" text-anchor="middle">0</text>
<line x1="504" y1="497.7" x2="506.6" y2="497.7" class="tk"/>
<text x="524.2" y="506.4" class="cl" text-anchor="middle">6</text>
<line x1="504" y1="446.9" x2="506.6" y2="446.9" class="tk"/>
<text x="524.2" y="455.6" class="cl" text-anchor="middle">12</text>
<line x1="504" y1="396.2" x2="506.6" y2="396.2" class="tk"/>
<text x="524.2" y="404.9" class="cl" text-anchor="middle">18</text>
<line x1="504" y1="345.4" x2="506.6" y2="345.4" class="tk"/>
<text x="524.2" y="354.1" class="cl" text-anchor="middle">24</text>
<line x1="504" y1="294.6" x2="506.6" y2="294.6" class="tk"/>
<text x="524.2" y="303.3" class="cl" text-anchor="middle">30</text>
<line x1="504" y1="243.8" x2="506.6" y2="243.8" class="tk"/>
<text x="524.2" y="252.5" class="cl" text-anchor="middle">36</text>
<line x1="504" y1="193.0" x2="506.6" y2="193.0" class="tk"/>
<text x="524.2" y="201.7" class="cl" text-anchor="middle">42</text>
<line x1="504" y1="142.3" x2="506.6" y2="142.3" class="tk"/>
<text x="524.2" y="151.0" class="cl" text-anchor="middle">48</text>
<line x1="504" y1="91.5" x2="506.6" y2="91.5" class="tk"/>
<text x="524.2" y="100.2" class="cl" text-anchor="middle">54</text>
</g>
<g transform="translate(590.7,0)">
<g clip-path="url(#cp)">
<polygon points="16.0,496.9 18.0,494.9 21.2,494.5 23.9,496.5 23.1,498.9 20.4,500.1 17.2,499.7" fill="#3a68f4" stroke="#000" stroke-width="1.35" stroke-linejoin="round"/>
<polygon points="32.6,494.5 35.4,493.0 37.8,494.5 38.9,497.7 40.9,498.9 40.5,500.9 37.8,500.5 36.2,497.7 33.8,496.5" fill="#3a68f4" stroke="#000" stroke-width="1.35" stroke-linejoin="round"/>
<polygon points="42.5,498.1 44.9,496.1 46.1,496.9 44.1,499.3" fill="#3a68f4" stroke="#000" stroke-width="1.35" stroke-linejoin="round"/>
<polygon points="24.7,502.5 26.3,498.9 28.3,498.9 29.1,502.5 28.7,506.4 27.1,507.6 25.5,506.0" fill="#3a68f4" stroke="#000" stroke-width="1.35" stroke-linejoin="round"/>
<polygon points="20.0,515.9 21.9,514.3 25.1,513.9 27.5,515.1 29.9,512.7 31.8,509.6 33.4,507.6 35.4,507.6 36.6,510.4 35.4,513.5 34.6,515.1 32.2,516.3 32.6,519.1 30.6,517.9 29.1,516.7 27.1,517.9 24.7,518.3 22.3,518.7 20.8,517.9" fill="#3a68f4" stroke="#000" stroke-width="1.35" stroke-linejoin="round"/>
<polygon points="39.7,510.0 41.7,508.8 44.1,509.6 45.7,511.1 48.0,510.8 49.6,512.7 48.8,515.9 47.2,517.1 45.7,515.9 44.1,517.1 42.5,515.1 40.9,513.5" fill="#3a68f4" stroke="#000" stroke-width="1.35" stroke-linejoin="round"/>
<polygon points="12.9,511.1 14.8,510.8 16.0,513.5 14.0,514.7" fill="#3a68f4" stroke="#000" stroke-width="1.35" stroke-linejoin="round"/>
<polygon points="11.7,518.3 14.8,517.1 17.6,516.3 18.0,519.1 16.8,522.2 17.2,525.4 14.8,528.5 11.7,528.9" fill="#3a68f4" stroke="#000" stroke-width="1.35" stroke-linejoin="round"/>
<polygon points="24.7,521.4 26.3,520.2 28.3,521.4 27.9,524.2 25.9,524.6" fill="#3a68f4" stroke="#000" stroke-width="1.35" stroke-linejoin="round"/>
<polygon points="53.2,499.3 55.1,498.1 57.5,500.1 59.9,498.5 61.5,496.9 63.8,497.7 63.8,500.5 62.3,502.8 59.1,503.6 56.7,502.5" fill="#3a68f4" stroke="#000" stroke-width="1.35" stroke-linejoin="round"/>
<polygon points="67.8,493.8 70.2,491.4 72.5,490.2 74.5,491.0 74.1,493.4 71.8,495.3 69.4,496.5" fill="#3a68f4" stroke="#000" stroke-width="1.35" stroke-linejoin="round"/>
<polygon points="74.9,496.5 78.1,495.3 81.2,493.0 84.0,494.2 85.2,496.1 83.2,498.1 80.8,499.7 80.4,502.5 78.1,501.3 77.3,498.9" fill="#3a68f4" stroke="#000" stroke-width="1.35" stroke-linejoin="round"/>
<polygon points="74.1,503.2 76.5,501.7 78.1,502.5 75.3,504.4" fill="#3a68f4" stroke="#000" stroke-width="1.35" stroke-linejoin="round"/>
<polygon points="65.8,505.2 67.4,504.4 68.2,505.6 66.6,506.4" fill="#3a68f4" stroke="#000" stroke-width="1.35" stroke-linejoin="round"/>
<polygon points="59.1,509.6 61.5,508.8 63.8,510.4 67.0,510.8 70.2,509.6 73.3,509.2 76.5,508.8 78.9,507.2 79.7,504.4 82.8,504.4 83.2,508.0 85.2,509.6 86.4,512.7 87.2,515.9 86.4,519.1 85.2,522.2 86.4,525.4 88.4,526.6 91.5,525.8 94.3,525.0 96.3,526.2 95.1,528.5 92.3,530.1 89.9,531.7 87.6,533.3 88.4,534.9 86.0,537.2 82.8,536.8 79.7,535.3 76.5,534.9 74.1,536.4 72.5,539.6 71.8,542.8 69.8,542.0 70.6,538.0 71.8,534.1 72.5,530.1 73.7,527.0 76.5,524.6 79.7,525.0 82.0,526.6 83.2,523.8 82.4,520.6 81.2,518.3 78.9,518.7 76.5,517.5 74.1,518.3 71.8,517.9 70.2,519.8 67.8,520.6 65.8,518.7 64.6,516.7 62.3,515.9 59.9,515.1 58.7,512.3" fill="#3a68f4" stroke="#000" stroke-width="1.35" stroke-linejoin="round"/>
<polygon points="85.2,501.3 87.2,500.9 88.0,505.6 86.8,508.0 85.6,505.6" fill="#3a68f4" stroke="#000" stroke-width="1.35" stroke-linejoin="round"/>
<polygon points="91.5,479.5 94.3,477.5 97.0,478.3 97.8,481.1 95.9,482.3 93.5,483.1 91.9,481.9" fill="#3a68f4" stroke="#000" stroke-width="1.35" stroke-linejoin="round"/>
<polygon points="90.7,487.8 93.1,486.6 95.9,487.4 94.3,490.6 92.7,493.8 90.7,494.2 90.3,491.0" fill="#3a68f4" stroke="#000" stroke-width="1.35" stroke-linejoin="round"/>
<polygon points="91.9,496.5 94.7,495.3 98.6,494.5 99.8,497.7 99.4,500.9 97.8,503.2 95.5,502.5 93.1,501.3 91.9,499.3" fill="#3a68f4" stroke="#000" stroke-width="1.35" stroke-linejoin="round"/>
<polygon points="100.2,503.2 102.6,501.7 105.3,502.5 105.7,504.8 103.8,507.2 101.4,506.8" fill="#3a68f4" stroke="#000" stroke-width="1.35" stroke-linejoin="round"/>
<polygon points="105.3,509.6 106.9,508.8 108.1,510.4 106.5,511.5" fill="#3a68f4" stroke="#000" stroke-width="1.35" stroke-linejoin="round"/>
<polygon points="91.9,511.9 93.9,511.1 95.5,513.5 98.6,515.1 101.0,514.7 101.4,517.9 102.6,520.6 102.2,522.6 99.4,523.0 97.0,521.4 95.5,519.1 94.7,515.9 92.3,514.3" fill="#3a68f4" stroke="#000" stroke-width="1.35" stroke-linejoin="round"/>
<polygon points="106.5,517.9 108.1,515.1 110.5,513.1 113.6,511.9 116.8,512.3 113.6,514.7 111.3,517.1 109.3,519.8 107.3,520.2" fill="#3a68f4" stroke="#000" stroke-width="1.35" stroke-linejoin="round"/>
<polygon points="91.1,516.7 92.7,516.3 93.1,518.3 91.5,518.7" fill="#3a68f4" stroke="#000" stroke-width="1.35" stroke-linejoin="round"/>
<polygon points="111.7,477.2 113.6,474.0 114.8,470.4 117.6,470.4 119.6,469.6 121.6,470.0 121.2,472.4 118.8,474.0 116.8,476.0 115.6,479.1 113.6,480.3 112.1,479.1" fill="#3a68f4" stroke="#000" stroke-width="1.35" stroke-linejoin="round"/>
<polygon points="108.5,471.6 109.7,471.2 110.1,473.2 108.9,473.2" fill="#3a68f4" stroke="#000" stroke-width="1.35" stroke-linejoin="round"/>
<polygon points="123.5,465.3 125.5,464.9 127.1,466.9 129.1,466.5 129.9,468.9 127.9,470.0 126.3,468.9" fill="#3a68f4" stroke="#000" stroke-width="1.35" stroke-linejoin="round"/>
<polygon points="130.2,462.9 132.2,461.3 134.2,462.9 133.4,465.7 131.4,466.1" fill="#3a68f4" stroke="#000" stroke-width="1.35" stroke-linejoin="round"/>
<polygon points="135.0,458.2 137.4,458.6 140.1,461.7 139.7,463.3 137.0,461.3" fill="#3a68f4" stroke="#000" stroke-width="1.35" stroke-linejoin="round"/>
<polygon points="128.7,479.9 130.2,479.1 131.0,480.7 129.5,481.5" fill="#3a68f4" stroke="#000" stroke-width="1.35" stroke-linejoin="round"/>
<polygon points="126.3,486.6 128.3,485.5 129.5,486.6 127.5,487.8" fill="#3a68f4" stroke="#000" stroke-width="1.35" stroke-linejoin="round"/>
<polygon points="104.6,479.5 105.7,479.1 106.1,480.3 105.0,480.7" fill="#3a68f4" stroke="#000" stroke-width="1.35" stroke-linejoin="round"/>
<polygon points="102.6,483.9 104.2,483.5 104.6,485.1 103.0,485.5" fill="#3a68f4" stroke="#000" stroke-width="1.35" stroke-linejoin="round"/>
<polygon points="100.2,487.4 101.8,487.0 102.2,488.6 100.6,489.0" fill="#3a68f4" stroke="#000" stroke-width="1.35" stroke-linejoin="round"/>
<polygon points="35.8,538.0 37.8,536.0 39.7,533.7 41.3,536.0 43.3,537.2 43.7,539.6 41.7,541.2 38.5,541.6 36.6,540.4" fill="#3a68f4" stroke="#000" stroke-width="1.35" stroke-linejoin="round"/>
<polygon points="55.9,527.4 57.9,526.6 58.7,529.3 57.5,531.3 56.3,530.1" fill="#3a68f4" stroke="#000" stroke-width="1.35" stroke-linejoin="round"/>
<polygon points="60.7,527.7 63.1,525.8 65.0,525.4 66.2,527.7 66.6,530.9 64.6,530.5 62.3,530.9 61.5,529.7" fill="#3a68f4" stroke="#000" stroke-width="1.35" stroke-linejoin="round"/>
<polygon points="57.9,537.6 60.7,536.4 63.8,536.8 66.6,537.6 67.4,541.2 64.6,540.8 61.9,541.6 59.1,540.4" fill="#3a68f4" stroke="#000" stroke-width="1.35" stroke-linejoin="round"/>
<polygon points="52.8,538.8 54.8,538.0 55.1,541.2 53.6,540.8" fill="#3a68f4" stroke="#000" stroke-width="1.35" stroke-linejoin="round"/>
<polygon points="42.1,528.9 43.7,527.7 46.1,528.5 44.5,529.7" fill="#3a68f4" stroke="#000" stroke-width="1.35" stroke-linejoin="round"/>
<polygon points="29.5,531.3 31.4,530.5 31.8,532.1 30.0,532.6" fill="#3a68f4" stroke="#000" stroke-width="1.35" stroke-linejoin="round"/>
<polygon points="52.4,509.2 54.8,508.8 55.9,510.4 53.6,510.8" fill="#3a68f4" stroke="#000" stroke-width="1.35" stroke-linejoin="round"/>
<polygon points="85.2,530.9 87.6,530.1 88.7,532.5 87.2,534.9 85.2,533.7" fill="#fff" stroke="#000" stroke-width="1.2" stroke-linejoin="round"/>
<clipPath id="cpb"><polygon points="16.0,496.9 18.0,494.9 21.2,494.5 23.9,496.5 23.1,498.9 20.4,500.1 17.2,499.7"/> <polygon points="32.6,494.5 35.4,493.0 37.8,494.5 38.9,497.7 40.9,498.9 40.5,500.9 37.8,500.5 36.2,497.7 33.8,496.5"/> <polygon points="42.5,498.1 44.9,496.1 46.1,496.9 44.1,499.3"/> <polygon points="24.7,502.5 26.3,498.9 28.3,498.9 29.1,502.5 28.7,506.4 27.1,507.6 25.5,506.0"/> <polygon points="20.0,515.9 21.9,514.3 25.1,513.9 27.5,515.1 29.9,512.7 31.8,509.6 33.4,507.6 35.4,507.6 36.6,510.4 35.4,513.5 34.6,515.1 32.2,516.3 32.6,519.1 30.6,517.9 29.1,516.7 27.1,517.9 24.7,518.3 22.3,518.7 20.8,517.9"/> <polygon points="39.7,510.0 41.7,508.8 44.1,509.6 45.7,511.1 48.0,510.8 49.6,512.7 48.8,515.9 47.2,517.1 45.7,515.9 44.1,517.1 42.5,515.1 40.9,513.5"/> <polygon points="12.9,511.1 14.8,510.8 16.0,513.5 14.0,514.7"/> <polygon points="11.7,518.3 14.8,517.1 17.6,516.3 18.0,519.1 16.8,522.2 17.2,525.4 14.8,528.5 11.7,528.9"/> <polygon points="24.7,521.4 26.3,520.2 28.3,521.4 27.9,524.2 25.9,524.6"/> <polygon points="53.2,499.3 55.1,498.1 57.5,500.1 59.9,498.5 61.5,496.9 63.8,497.7 63.8,500.5 62.3,502.8 59.1,503.6 56.7,502.5"/> <polygon points="67.8,493.8 70.2,491.4 72.5,490.2 74.5,491.0 74.1,493.4 71.8,495.3 69.4,496.5"/> <polygon points="74.9,496.5 78.1,495.3 81.2,493.0 84.0,494.2 85.2,496.1 83.2,498.1 80.8,499.7 80.4,502.5 78.1,501.3 77.3,498.9"/> <polygon points="74.1,503.2 76.5,501.7 78.1,502.5 75.3,504.4"/> <polygon points="65.8,505.2 67.4,504.4 68.2,505.6 66.6,506.4"/> <polygon points="59.1,509.6 61.5,508.8 63.8,510.4 67.0,510.8 70.2,509.6 73.3,509.2 76.5,508.8 78.9,507.2 79.7,504.4 82.8,504.4 83.2,508.0 85.2,509.6 86.4,512.7 87.2,515.9 86.4,519.1 85.2,522.2 86.4,525.4 88.4,526.6 91.5,525.8 94.3,525.0 96.3,526.2 95.1,528.5 92.3,530.1 89.9,531.7 87.6,533.3 88.4,534.9 86.0,537.2 82.8,536.8 79.7,535.3 76.5,534.9 74.1,536.4 72.5,539.6 71.8,542.8 69.8,542.0 70.6,538.0 71.8,534.1 72.5,530.1 73.7,527.0 76.5,524.6 79.7,525.0 82.0,526.6 83.2,523.8 82.4,520.6 81.2,518.3 78.9,518.7 76.5,517.5 74.1,518.3 71.8,517.9 70.2,519.8 67.8,520.6 65.8,518.7 64.6,516.7 62.3,515.9 59.9,515.1 58.7,512.3"/> <polygon points="85.2,501.3 87.2,500.9 88.0,505.6 86.8,508.0 85.6,505.6"/> <polygon points="91.5,479.5 94.3,477.5 97.0,478.3 97.8,481.1 95.9,482.3 93.5,483.1 91.9,481.9"/> <polygon points="90.7,487.8 93.1,486.6 95.9,487.4 94.3,490.6 92.7,493.8 90.7,494.2 90.3,491.0"/> <polygon points="91.9,496.5 94.7,495.3 98.6,494.5 99.8,497.7 99.4,500.9 97.8,503.2 95.5,502.5 93.1,501.3 91.9,499.3"/> <polygon points="100.2,503.2 102.6,501.7 105.3,502.5 105.7,504.8 103.8,507.2 101.4,506.8"/> <polygon points="105.3,509.6 106.9,508.8 108.1,510.4 106.5,511.5"/> <polygon points="91.9,511.9 93.9,511.1 95.5,513.5 98.6,515.1 101.0,514.7 101.4,517.9 102.6,520.6 102.2,522.6 99.4,523.0 97.0,521.4 95.5,519.1 94.7,515.9 92.3,514.3"/> <polygon points="106.5,517.9 108.1,515.1 110.5,513.1 113.6,511.9 116.8,512.3 113.6,514.7 111.3,517.1 109.3,519.8 107.3,520.2"/> <polygon points="91.1,516.7 92.7,516.3 93.1,518.3 91.5,518.7"/> <polygon points="111.7,477.2 113.6,474.0 114.8,470.4 117.6,470.4 119.6,469.6 121.6,470.0 121.2,472.4 118.8,474.0 116.8,476.0 115.6,479.1 113.6,480.3 112.1,479.1"/> <polygon points="108.5,471.6 109.7,471.2 110.1,473.2 108.9,473.2"/> <polygon points="123.5,465.3 125.5,464.9 127.1,466.9 129.1,466.5 129.9,468.9 127.9,470.0 126.3,468.9"/> <polygon points="130.2,462.9 132.2,461.3 134.2,462.9 133.4,465.7 131.4,466.1"/> <polygon points="135.0,458.2 137.4,458.6 140.1,461.7 139.7,463.3 137.0,461.3"/> <polygon points="128.7,479.9 130.2,479.1 131.0,480.7 129.5,481.5"/> <polygon points="126.3,486.6 128.3,485.5 129.5,486.6 127.5,487.8"/> <polygon points="104.6,479.5 105.7,479.1 106.1,480.3 105.0,480.7"/> <polygon points="102.6,483.9 104.2,483.5 104.6,485.1 103.0,485.5"/> <polygon points="100.2,487.4 101.8,487.0 102.2,488.6 100.6,489.0"/> <polygon points="35.8,538.0 37.8,536.0 39.7,533.7 41.3,536.0 43.3,537.2 43.7,539.6 41.7,541.2 38.5,541.6 36.6,540.4"/> <polygon points="55.9,527.4 57.9,526.6 58.7,529.3 57.5,531.3 56.3,530.1"/> <polygon points="60.7,527.7 63.1,525.8 65.0,525.4 66.2,527.7 66.6,530.9 64.6,530.5 62.3,530.9 61.5,529.7"/> <polygon points="57.9,537.6 60.7,536.4 63.8,536.8 66.6,537.6 67.4,541.2 64.6,540.8 61.9,541.6 59.1,540.4"/> <polygon points="52.8,538.8 54.8,538.0 55.1,541.2 53.6,540.8"/> <polygon points="42.1,528.9 43.7,527.7 46.1,528.5 44.5,529.7"/> <polygon points="29.5,531.3 31.4,530.5 31.8,532.1 30.0,532.6"/> <polygon points="52.4,509.2 54.8,508.8 55.9,510.4 53.6,510.8"/></clipPath><g clip-path="url(#cpb)">
<ellipse cx="19.9" cy="497.7" rx="2.45" ry="1.57" transform="rotate(-35 19.9 497.7)" fill="#ffd800"/>
<ellipse cx="33.7" cy="510.4" rx="1.9" ry="1.22" transform="rotate(-35 33.7 510.4)" fill="#ffd800"/>
<ellipse cx="23.0" cy="516.3" rx="1.9" ry="1.22" transform="rotate(-35 23.0 516.3)" fill="#ffd800"/>
<ellipse cx="33.3" cy="513.5" rx="1.36" ry="0.87" transform="rotate(-35 33.3 513.5)" fill="#ffd800"/>
<ellipse cx="26.6" cy="522.6" rx="1.36" ry="0.87" transform="rotate(-35 26.6 522.6)" fill="#ffd800"/>
<ellipse cx="14.0" cy="527.0" rx="0.98" ry="0.63" transform="rotate(-35 14.0 527.0)" fill="#ffd800"/>
<ellipse cx="15.9" cy="517.1" rx="1.58" ry="1.01" transform="rotate(-35 15.9 517.1)" fill="#8cc0ff"/>
<ellipse cx="60.6" cy="500.1" rx="2.72" ry="1.74" transform="rotate(-35 60.6 500.1)" fill="#ffd800"/>
<ellipse cx="93.8" cy="480.3" rx="2.17" ry="1.39" transform="rotate(-35 93.8 480.3)" fill="#ffd800"/>
<ellipse cx="91.4" cy="492.2" rx="1.98" ry="1.26" transform="rotate(-35 91.4 492.2)" fill="#8cc0ff"/>
<ellipse cx="114.4" cy="476.4" rx="1.9" ry="1.22" transform="rotate(-35 114.4 476.4)" fill="#ffd800"/>
<ellipse cx="128.6" cy="467.7" rx="1.36" ry="0.87" transform="rotate(-35 128.6 467.7)" fill="#ffd800"/>
<ellipse cx="137.3" cy="460.6" rx="1.98" ry="1.26" transform="rotate(-35 137.3 460.6)" fill="#8cc0ff"/>
<ellipse cx="127.8" cy="487.0" rx="0.98" ry="0.63" transform="rotate(-35 127.8 487.0)" fill="#ffd800"/>
<ellipse cx="95.4" cy="500.1" rx="2.99" ry="1.91" transform="rotate(-35 95.4 500.1)" fill="#ffd800"/>
<ellipse cx="102.9" cy="504.8" rx="2.17" ry="1.39" transform="rotate(-35 102.9 504.8)" fill="#ffd800"/>
<ellipse cx="111.2" cy="513.9" rx="1.9" ry="1.22" transform="rotate(-35 111.2 513.9)" fill="#ffd800"/>
<ellipse cx="108.0" cy="518.3" rx="1.36" ry="0.87" transform="rotate(-35 108.0 518.3)" fill="#ffd800"/>
<ellipse cx="70.1" cy="513.5" rx="3.56" ry="2.28" transform="rotate(-35 70.1 513.5)" fill="#ffd000"/>
<ellipse cx="70.1" cy="513.5" rx="1.78" ry="1.14" transform="rotate(-35 70.1 513.5)" fill="#ff8000"/>
<ellipse cx="62.2" cy="512.7" rx="3.16" ry="2.02" transform="rotate(-35 62.2 512.7)" fill="#8cc0ff"/>
<ellipse cx="81.1" cy="509.6" rx="1.9" ry="1.22" transform="rotate(-35 81.1 509.6)" fill="#ffd800"/>
<ellipse cx="84.3" cy="515.1" rx="2.45" ry="1.57" transform="rotate(-35 84.3 515.1)" fill="#ffd800"/>
<ellipse cx="86.7" cy="505.6" rx="1.09" ry="0.7" transform="rotate(-35 86.7 505.6)" fill="#ffd800"/>
<ellipse cx="97.8" cy="519.1" rx="3.26" ry="2.09" transform="rotate(-35 97.8 519.1)" fill="#ffd000"/>
<ellipse cx="97.8" cy="519.1" rx="1.63" ry="1.04" transform="rotate(-35 97.8 519.1)" fill="#ff8000"/>
<ellipse cx="75.6" cy="529.3" rx="4.74" ry="3.04" transform="rotate(-35 75.6 529.3)" fill="#8cc0ff"/>
<ellipse cx="80.4" cy="532.5" rx="2.72" ry="1.74" transform="rotate(-35 80.4 532.5)" fill="#ffd800"/>
<ellipse cx="89.8" cy="534.9" rx="1.09" ry="0.7" transform="rotate(-35 89.8 534.9)" fill="#ffd800"/>
<ellipse cx="60.6" cy="539.2" rx="1.9" ry="1.22" transform="rotate(-35 60.6 539.2)" fill="#ffd800"/>
<ellipse cx="42.4" cy="529.7" rx="0.79" ry="0.51" transform="rotate(-35 42.4 529.7)" fill="#8cc0ff"/>
<ellipse cx="102.5" cy="485.1" rx="0.79" ry="0.51" transform="rotate(-35 102.5 485.1)" fill="#8cc0ff"/>
<ellipse cx="100.9" cy="488.2" rx="0.79" ry="0.51" transform="rotate(-35 100.9 488.2)" fill="#8cc0ff"/>
<ellipse cx="108.8" cy="472.4" rx="0.79" ry="0.51" transform="rotate(-35 108.8 472.4)" fill="#8cc0ff"/>
<polygon points="76.5,528.5 77.8,527.9 83.1,534.7 81.9,535.5" fill="#ffd800"/>
<polygon points="78.9,528.2 80.1,527.6 85.5,534.4 84.2,535.2" fill="#ffd800"/>
<polygon points="81.2,527.9 82.5,527.3 87.9,534.1 86.6,534.9" fill="#ffd800"/>
</g>
<ellipse cx="185.4" cy="350.3" rx="1.35" ry="0.87" transform="rotate(-35 185.4 350.3)" fill="#ffd800" stroke="#000" stroke-width="1.15"/>
<ellipse cx="163.9" cy="361.0" rx="1.14" ry="0.73" transform="rotate(-35 163.9 361.0)" fill="#000"/>
<ellipse cx="169.8" cy="362.1" rx="1.74" ry="1.11" transform="rotate(-35 169.8 362.1)" fill="#3a68f4" stroke="#000" stroke-width="1.15"/>
<ellipse cx="169.8" cy="369.1" rx="1.14" ry="0.73" transform="rotate(-35 169.8 369.1)" fill="#000"/>
<ellipse cx="176.3" cy="374.4" rx="2.12" ry="1.36" transform="rotate(-35 176.3 374.4)" fill="#ffd800" stroke="#000" stroke-width="1.15"/>
<ellipse cx="181.1" cy="375.0" rx="1.0" ry="0.64" transform="rotate(-35 181.1 375.0)" fill="#000"/>
<ellipse cx="183.3" cy="378.2" rx="1.14" ry="0.73" transform="rotate(-35 183.3 378.2)" fill="#000"/>
<ellipse cx="187.0" cy="380.9" rx="1.93" ry="1.24" transform="rotate(-35 187.0 380.9)" fill="#3a68f4" stroke="#000" stroke-width="1.15"/>
<ellipse cx="192.4" cy="380.4" rx="1.37" ry="0.88" transform="rotate(-35 192.4 380.4)" fill="#000"/>
<ellipse cx="201.3" cy="370.7" rx="1.93" ry="1.24" transform="rotate(-35 201.3 370.7)" fill="#3a68f4" stroke="#000" stroke-width="1.15"/>
<ellipse cx="210.1" cy="377.1" rx="1.74" ry="1.11" transform="rotate(-35 210.1 377.1)" fill="#3a68f4" stroke="#000" stroke-width="1.15"/>
<ellipse cx="211.2" cy="359.4" rx="1.37" ry="0.88" transform="rotate(-35 211.2 359.4)" fill="#000"/>
<ellipse cx="219.7" cy="353.5" rx="1.0" ry="0.64" transform="rotate(-35 219.7 353.5)" fill="#000"/>
<ellipse cx="220.3" cy="357.3" rx="1.0" ry="0.64" transform="rotate(-35 220.3 357.3)" fill="#000"/>
<ellipse cx="221.9" cy="372.3" rx="2.32" ry="1.48" transform="rotate(-35 221.9 372.3)" fill="#3a68f4" stroke="#000" stroke-width="1.15"/>
<ellipse cx="224.0" cy="368.0" rx="1.93" ry="1.24" transform="rotate(-35 224.0 368.0)" fill="#3a68f4" stroke="#000" stroke-width="1.15"/>
<ellipse cx="228.9" cy="362.6" rx="2.12" ry="1.36" transform="rotate(-35 228.9 362.6)" fill="#3a68f4" stroke="#000" stroke-width="1.15"/>
<ellipse cx="229.4" cy="353.5" rx="1.0" ry="0.64" transform="rotate(-35 229.4 353.5)" fill="#000"/>
<ellipse cx="235.8" cy="356.2" rx="2.12" ry="1.36" transform="rotate(-35 235.8 356.2)" fill="#3a68f4" stroke="#000" stroke-width="1.15"/>
<ellipse cx="240.7" cy="349.2" rx="1.14" ry="0.73" transform="rotate(-35 240.7 349.2)" fill="#000"/>
<ellipse cx="246.0" cy="359.4" rx="1.0" ry="0.64" transform="rotate(-35 246.0 359.4)" fill="#000"/>
<ellipse cx="215.4" cy="382.0" rx="1.0" ry="0.64" transform="rotate(-35 215.4 382.0)" fill="#000"/>
<ellipse cx="221.3" cy="377.7" rx="1.0" ry="0.64" transform="rotate(-35 221.3 377.7)" fill="#000"/>
<ellipse cx="198.3" cy="376.6" rx="1.0" ry="0.64" transform="rotate(-35 198.3 376.6)" fill="#000"/>
<ellipse cx="203.1" cy="376.1" rx="1.0" ry="0.64" transform="rotate(-35 203.1 376.1)" fill="#000"/>
<ellipse cx="178.4" cy="404.0" rx="2.41" ry="1.54" transform="rotate(-35 178.4 404.0)" fill="#3a68f4" stroke="#000" stroke-width="1.15"/>
<ellipse cx="184.3" cy="400.7" rx="1.74" ry="1.11" transform="rotate(-35 184.3 400.7)" fill="#3a68f4" stroke="#000" stroke-width="1.15"/>
<ellipse cx="167.2" cy="409.3" rx="1.0" ry="0.64" transform="rotate(-35 167.2 409.3)" fill="#000"/>
<ellipse cx="290.5" cy="267.7" rx="2.12" ry="1.36" transform="rotate(-35 290.5 267.7)" fill="#3a68f4" stroke="#000" stroke-width="1.15"/>
<ellipse cx="293.2" cy="270.4" rx="1.35" ry="0.87" transform="rotate(-35 293.2 270.4)" fill="#3a68f4" stroke="#000" stroke-width="1.15"/>
<ellipse cx="305.0" cy="270.7" rx="1.0" ry="0.64" transform="rotate(-35 305.0 270.7)" fill="#000"/>
<ellipse cx="299.7" cy="278.8" rx="1.14" ry="0.73" transform="rotate(-35 299.7 278.8)" fill="#000"/>
<ellipse cx="304.5" cy="282.7" rx="1.14" ry="0.73" transform="rotate(-35 304.5 282.7)" fill="#000"/>
<ellipse cx="308.6" cy="287.0" rx="1.93" ry="1.24" transform="rotate(-35 308.6 287.0)" fill="#3a68f4" stroke="#000" stroke-width="1.15"/>
<ellipse cx="309.3" cy="293.5" rx="1.35" ry="0.87" transform="rotate(-35 309.3 293.5)" fill="#3a68f4" stroke="#000" stroke-width="1.15"/>
<ellipse cx="314.1" cy="293.5" rx="1.35" ry="0.87" transform="rotate(-35 314.1 293.5)" fill="#3a68f4" stroke="#000" stroke-width="1.15"/>
<ellipse cx="322.7" cy="290.8" rx="2.41" ry="1.54" transform="rotate(-35 322.7 290.8)" fill="#3a68f4" stroke="#000" stroke-width="1.15"/>
<ellipse cx="320.0" cy="302.6" rx="1.93" ry="1.24" transform="rotate(-35 320.0 302.6)" fill="#3a68f4" stroke="#000" stroke-width="1.15"/>
<ellipse cx="321.7" cy="307.4" rx="1.35" ry="0.87" transform="rotate(-35 321.7 307.4)" fill="#3a68f4" stroke="#000" stroke-width="1.15"/>
<ellipse cx="309.3" cy="308.5" rx="1.37" ry="0.88" transform="rotate(-35 309.3 308.5)" fill="#000"/>
<ellipse cx="316.3" cy="313.8" rx="1.0" ry="0.64" transform="rotate(-35 316.3 313.8)" fill="#000"/>
<ellipse cx="325.9" cy="313.8" rx="1.14" ry="0.73" transform="rotate(-35 325.9 313.8)" fill="#000"/>
<ellipse cx="289.5" cy="312.2" rx="1.93" ry="1.24" transform="rotate(-35 289.5 312.2)" fill="#3a68f4" stroke="#000" stroke-width="1.15"/>
<ellipse cx="291.6" cy="314.9" rx="1.37" ry="0.88" transform="rotate(-35 291.6 314.9)" fill="#000"/>
<ellipse cx="280.4" cy="314.9" rx="1.0" ry="0.64" transform="rotate(-35 280.4 314.9)" fill="#000"/>
<ellipse cx="278.2" cy="299.6" rx="1.0" ry="0.64" transform="rotate(-35 278.2 299.6)" fill="#000"/>
<ellipse cx="289.3" cy="294.0" rx="1.0" ry="0.64" transform="rotate(-35 289.3 294.0)" fill="#000"/>
<ellipse cx="277.1" cy="326.7" rx="1.54" ry="0.99" transform="rotate(-35 277.1 326.7)" fill="#3a68f4" stroke="#000" stroke-width="1.15"/>
<ellipse cx="275.0" cy="356.0" rx="1.0" ry="0.64" transform="rotate(-35 275.0 356.0)" fill="#000"/>
<ellipse cx="313.6" cy="299.6" rx="1.0" ry="0.64" transform="rotate(-35 313.6 299.6)" fill="#000"/>
<ellipse cx="401.5" cy="196.5" rx="1.38" ry="0.88" transform="rotate(-35 401.5 196.5)" fill="#000"/>
<ellipse cx="382.8" cy="221.2" rx="1.38" ry="0.88" transform="rotate(-35 382.8 221.2)" fill="#000"/>
<ellipse cx="409.9" cy="227.7" rx="1.38" ry="0.88" transform="rotate(-35 409.9 227.7)" fill="#000"/>
<ellipse cx="475.0" cy="215.8" rx="1.38" ry="0.88" transform="rotate(-35 475.0 215.8)" fill="#000"/>
</g>
<line x1="51.80" y1="41" x2="51.80" y2="548.5" class="g"/>
<line x1="130.80" y1="41" x2="130.80" y2="548.5" class="g"/>
<line x1="208.80" y1="41" x2="208.80" y2="548.5" class="g"/>
<line x1="287.80" y1="41" x2="287.80" y2="548.5" class="g"/>
<line x1="366.80" y1="41" x2="366.80" y2="548.5" class="g"/>
<line x1="445.80" y1="41" x2="445.80" y2="548.5" class="g"/>
<line x1="13" y1="92.50" x2="487" y2="92.50" class="g"/>
<line x1="13" y1="176.50" x2="487" y2="176.50" class="g"/>
<line x1="13" y1="261.50" x2="487" y2="261.50" class="g"/>
<line x1="13" y1="345.50" x2="487" y2="345.50" class="g"/>
<line x1="13" y1="430.50" x2="487" y2="430.50" class="g"/>
<line x1="13" y1="515.50" x2="487" y2="515.50" class="g"/>
<polyline points="12.6,477.9 59.5,442.4 96.7,413 134,384.2 171.3,356 199.7,334.3 246.3,299.6 303.8,257.2 360.6,215.7 418.2,175.1 476.6,134.9" class="sw"/>
<polyline points="71.3,548.4 127.2,504.5 154.9,483.6 192.2,454.2 239.5,418.2 286.9,383.4 343.7,341.1 400.4,299.6 458,258.9 477.5,245.7" class="sw"/>
<text x="51.3" y="283.3" class="gl" text-anchor="middle">-50</text>
<text x="130.3" y="283.3" class="gl" text-anchor="middle">-48</text>
<text x="209" y="283.3" class="gl" text-anchor="middle">-46</text>
<text x="287.7" y="283.3" class="gl" text-anchor="middle">-44</text>
<text x="366.6" y="283.3" class="gl" text-anchor="middle">-42</text>
<text x="445.5" y="283.3" class="gl" text-anchor="middle">-40</text>
<text x="268.3" y="91.7" class="gl" text-anchor="middle">18</text>
<text x="268.3" y="176.2" class="gl" text-anchor="middle">16</text>
<text x="268.3" y="260.8" class="gl" text-anchor="middle">14</text>
<text x="268.3" y="345.3" class="gl" text-anchor="middle">12</text>
<text x="268.3" y="429.9" class="gl" text-anchor="middle">10</text>
<text x="268.3" y="514.4" class="gl" text-anchor="middle">8</text>
<path d="M242.9 294.5H255.9M249.4 288V301" stroke="#000" stroke-width="5.2" fill="none"/>
<text x="36.6" y="65.9" class="tt">PR max reflectivity projection (dBZ)</text>
<text x="437.9" y="523.0" class="pl">(b)</text>
<rect x="495.2" y="531.57" width="8.8" height="8.76" fill="#f8f8f8"/>
<rect x="495.2" y="523.11" width="8.8" height="8.76" fill="#f1f1f1"/>
<rect x="495.2" y="514.65" width="8.8" height="8.76" fill="#eaeaea"/>
<rect x="495.2" y="506.18" width="8.8" height="8.76" fill="#e3e3e3"/>
<rect x="495.2" y="497.72" width="8.8" height="8.76" fill="#dcdcdc"/>
<rect x="495.2" y="489.26" width="8.8" height="8.76" fill="#d4d4d4"/>
<rect x="495.2" y="480.79" width="8.8" height="8.76" fill="#cdcdcd"/>
<rect x="495.2" y="472.33" width="8.8" height="8.76" fill="#c6c6c6"/>
<rect x="495.2" y="463.87" width="8.8" height="8.76" fill="#bfbfbe"/>
<rect x="495.2" y="455.40" width="8.8" height="8.76" fill="#b8b8b7"/>
<rect x="495.2" y="446.94" width="8.8" height="8.76" fill="#b1b1b0"/>
<rect x="495.2" y="438.48" width="8.8" height="8.76" fill="#aaaaa9"/>
<rect x="495.2" y="430.01" width="8.8" height="8.76" fill="#a3a3a2"/>
<rect x="495.2" y="421.55" width="8.8" height="8.76" fill="#9c9c9b"/>
<rect x="495.2" y="413.09" width="8.8" height="8.76" fill="#88e888"/>
<rect x="495.2" y="404.62" width="8.8" height="8.76" fill="#80dc80"/>
<rect x="495.2" y="396.16" width="8.8" height="8.76" fill="#78d478"/>
<rect x="495.2" y="387.70" width="8.8" height="8.76" fill="#70c870"/>
<rect x="495.2" y="379.23" width="8.8" height="8.76" fill="#68c068"/>
<rect x="495.2" y="370.77" width="8.8" height="8.76" fill="#d0d8ff"/>
<rect x="495.2" y="362.31" width="8.8" height="8.76" fill="#b8d0ff"/>
<rect x="495.2" y="353.84" width="8.8" height="8.76" fill="#a0c8ff"/>
<rect x="495.2" y="345.38" width="8.8" height="8.76" fill="#88c0ff"/>
<rect x="495.2" y="336.92" width="8.8" height="8.76" fill="#70b8ff"/>
<rect x="495.2" y="328.45" width="8.8" height="8.76" fill="#58b0ff"/>
<rect x="495.2" y="319.99" width="8.8" height="8.76" fill="#4888ff"/>
<rect x="495.2" y="311.53" width="8.8" height="8.76" fill="#4070ff"/>
<rect x="495.2" y="303.06" width="8.8" height="8.76" fill="#3850ff"/>
<rect x="495.2" y="294.60" width="8.8" height="8.76" fill="#3030ff"/>
<rect x="495.2" y="286.14" width="8.8" height="8.76" fill="#0000ff"/>
<rect x="495.2" y="277.67" width="8.8" height="8.76" fill="#0000f0"/>
<rect x="495.2" y="269.21" width="8.8" height="8.76" fill="#0000e0"/>
<rect x="495.2" y="260.75" width="8.8" height="8.76" fill="#0000d4"/>
<rect x="495.2" y="252.28" width="8.8" height="8.76" fill="#0000c8"/>
<rect x="495.2" y="243.82" width="8.8" height="8.76" fill="#ffff00"/>
<rect x="495.2" y="235.36" width="8.8" height="8.76" fill="#fff000"/>
<rect x="495.2" y="226.89" width="8.8" height="8.76" fill="#ffe800"/>
<rect x="495.2" y="218.43" width="8.8" height="8.76" fill="#ffdc00"/>
<rect x="495.2" y="209.97" width="8.8" height="8.76" fill="#ffd000"/>
<rect x="495.2" y="201.50" width="8.8" height="8.76" fill="#ff9000"/>
<rect x="495.2" y="193.04" width="8.8" height="8.76" fill="#ff8800"/>
<rect x="495.2" y="184.58" width="8.8" height="8.76" fill="#ff8000"/>
<rect x="495.2" y="176.11" width="8.8" height="8.76" fill="#ff7800"/>
<rect x="495.2" y="167.65" width="8.8" height="8.76" fill="#ff7000"/>
<rect x="495.2" y="159.19" width="8.8" height="8.76" fill="#ff4800"/>
<rect x="495.2" y="150.72" width="8.8" height="8.76" fill="#ff3c00"/>
<rect x="495.2" y="142.26" width="8.8" height="8.76" fill="#ff3000"/>
<rect x="495.2" y="133.80" width="8.8" height="8.76" fill="#ff2000"/>
<rect x="495.2" y="125.33" width="8.8" height="8.76" fill="#ff1400"/>
<rect x="495.2" y="116.87" width="8.8" height="8.76" fill="#cc0000"/>
<rect x="495.2" y="108.41" width="8.8" height="8.76" fill="#c40000"/>
<rect x="495.2" y="99.94" width="8.8" height="8.76" fill="#b80000"/>
<rect x="495.2" y="91.48" width="8.8" height="8.76" fill="#b00400"/>
<rect x="495.2" y="83.02" width="8.8" height="8.76" fill="#a40c00"/>
<rect x="495.2" y="74.55" width="8.8" height="8.76" fill="#680c04"/>
<rect x="495.2" y="66.09" width="8.8" height="8.76" fill="#641008"/>
<rect x="495.2" y="57.63" width="8.8" height="8.76" fill="#5c140c"/>
<rect x="495.2" y="49.16" width="8.8" height="8.76" fill="#5a1810"/>
<rect x="495.2" y="40.70" width="8.8" height="8.76" fill="#581814"/>
<line x1="504" y1="548.5" x2="506.6" y2="548.5" class="tk"/>
<text x="524.2" y="557.2" class="cl" text-anchor="middle">0</text>
<line x1="504" y1="497.7" x2="506.6" y2="497.7" class="tk"/>
<text x="524.2" y="506.4" class="cl" text-anchor="middle">6</text>
<line x1="504" y1="446.9" x2="506.6" y2="446.9" class="tk"/>
<text x="524.2" y="455.6" class="cl" text-anchor="middle">12</text>
<line x1="504" y1="396.2" x2="506.6" y2="396.2" class="tk"/>
<text x="524.2" y="404.9" class="cl" text-anchor="middle">18</text>
<line x1="504" y1="345.4" x2="506.6" y2="345.4" class="tk"/>
<text x="524.2" y="354.1" class="cl" text-anchor="middle">24</text>
<line x1="504" y1="294.6" x2="506.6" y2="294.6" class="tk"/>
<text x="524.2" y="303.3" class="cl" text-anchor="middle">30</text>
<line x1="504" y1="243.8" x2="506.6" y2="243.8" class="tk"/>
<text x="524.2" y="252.5" class="cl" text-anchor="middle">36</text>
<line x1="504" y1="193.0" x2="506.6" y2="193.0" class="tk"/>
<text x="524.2" y="201.7" class="cl" text-anchor="middle">42</text>
<line x1="504" y1="142.3" x2="506.6" y2="142.3" class="tk"/>
<text x="524.2" y="151.0" class="cl" text-anchor="middle">48</text>
<line x1="504" y1="91.5" x2="506.6" y2="91.5" class="tk"/>
<text x="524.2" y="100.2" class="cl" text-anchor="middle">54</text>
</g>
<g transform="translate(1181.3,0)">
<g clip-path="url(#cp)">
<polygon points="16.0,496.9 18.0,494.9 21.2,494.5 23.9,496.5 23.1,498.9 20.4,500.1 17.2,499.7" fill="#86e486" stroke="#000" stroke-width="1.35" stroke-linejoin="round"/>
<polygon points="32.6,494.5 35.4,493.0 37.8,494.5 38.9,497.7 40.9,498.9 40.5,500.9 37.8,500.5 36.2,497.7 33.8,496.5" fill="#86e486" stroke="#000" stroke-width="1.35" stroke-linejoin="round"/>
<polygon points="42.5,498.1 44.9,496.1 46.1,496.9 44.1,499.3" fill="#86e486" stroke="#000" stroke-width="1.35" stroke-linejoin="round"/>
<polygon points="24.7,502.5 26.3,498.9 28.3,498.9 29.1,502.5 28.7,506.4 27.1,507.6 25.5,506.0" fill="#86e486" stroke="#000" stroke-width="1.35" stroke-linejoin="round"/>
<polygon points="20.0,515.9 21.9,514.3 25.1,513.9 27.5,515.1 29.9,512.7 31.8,509.6 33.4,507.6 35.4,507.6 36.6,510.4 35.4,513.5 34.6,515.1 32.2,516.3 32.6,519.1 30.6,517.9 29.1,516.7 27.1,517.9 24.7,518.3 22.3,518.7 20.8,517.9" fill="#86e486" stroke="#000" stroke-width="1.35" stroke-linejoin="round"/>
<polygon points="39.7,510.0 41.7,508.8 44.1,509.6 45.7,511.1 48.0,510.8 49.6,512.7 48.8,515.9 47.2,517.1 45.7,515.9 44.1,517.1 42.5,515.1 40.9,513.5" fill="#86e486" stroke="#000" stroke-width="1.35" stroke-linejoin="round"/>
<polygon points="12.9,511.1 14.8,510.8 16.0,513.5 14.0,514.7" fill="#86e486" stroke="#000" stroke-width="1.35" stroke-linejoin="round"/>
<polygon points="11.7,518.3 14.8,517.1 17.6,516.3 18.0,519.1 16.8,522.2 17.2,525.4 14.8,528.5 11.7,528.9" fill="#86e486" stroke="#000" stroke-width="1.35" stroke-linejoin="round"/>
<polygon points="24.7,521.4 26.3,520.2 28.3,521.4 27.9,524.2 25.9,524.6" fill="#86e486" stroke="#000" stroke-width="1.35" stroke-linejoin="round"/>
<polygon points="53.2,499.3 55.1,498.1 57.5,500.1 59.9,498.5 61.5,496.9 63.8,497.7 63.8,500.5 62.3,502.8 59.1,503.6 56.7,502.5" fill="#86e486" stroke="#000" stroke-width="1.35" stroke-linejoin="round"/>
<polygon points="67.8,493.8 70.2,491.4 72.5,490.2 74.5,491.0 74.1,493.4 71.8,495.3 69.4,496.5" fill="#86e486" stroke="#000" stroke-width="1.35" stroke-linejoin="round"/>
<polygon points="74.9,496.5 78.1,495.3 81.2,493.0 84.0,494.2 85.2,496.1 83.2,498.1 80.8,499.7 80.4,502.5 78.1,501.3 77.3,498.9" fill="#86e486" stroke="#000" stroke-width="1.35" stroke-linejoin="round"/>
<polygon points="74.1,503.2 76.5,501.7 78.1,502.5 75.3,504.4" fill="#86e486" stroke="#000" stroke-width="1.35" stroke-linejoin="round"/>
<polygon points="65.8,505.2 67.4,504.4 68.2,505.6 66.6,506.4" fill="#86e486" stroke="#000" stroke-width="1.35" stroke-linejoin="round"/>
<polygon points="59.1,509.6 61.5,508.8 63.8,510.4 67.0,510.8 70.2,509.6 73.3,509.2 76.5,508.8 78.9,507.2 79.7,504.4 82.8,504.4 83.2,508.0 85.2,509.6 86.4,512.7 87.2,515.9 86.4,519.1 85.2,522.2 86.4,525.4 88.4,526.6 91.5,525.8 94.3,525.0 96.3,526.2 95.1,528.5 92.3,530.1 89.9,531.7 87.6,533.3 88.4,534.9 86.0,537.2 82.8,536.8 79.7,535.3 76.5,534.9 74.1,536.4 72.5,539.6 71.8,542.8 69.8,542.0 70.6,538.0 71.8,534.1 72.5,530.1 73.7,527.0 76.5,524.6 79.7,525.0 82.0,526.6 83.2,523.8 82.4,520.6 81.2,518.3 78.9,518.7 76.5,517.5 74.1,518.3 71.8,517.9 70.2,519.8 67.8,520.6 65.8,518.7 64.6,516.7 62.3,515.9 59.9,515.1 58.7,512.3" fill="#86e486" stroke="#000" stroke-width="1.35" stroke-linejoin="round"/>
<polygon points="85.2,501.3 87.2,500.9 88.0,505.6 86.8,508.0 85.6,505.6" fill="#86e486" stroke="#000" stroke-width="1.35" stroke-linejoin="round"/>
<polygon points="91.5,479.5 94.3,477.5 97.0,478.3 97.8,481.1 95.9,482.3 93.5,483.1 91.9,481.9" fill="#86e486" stroke="#000" stroke-width="1.35" stroke-linejoin="round"/>
<polygon points="90.7,487.8 93.1,486.6 95.9,487.4 94.3,490.6 92.7,493.8 90.7,494.2 90.3,491.0" fill="#86e486" stroke="#000" stroke-width="1.35" stroke-linejoin="round"/>
<polygon points="91.9,496.5 94.7,495.3 98.6,494.5 99.8,497.7 99.4,500.9 97.8,503.2 95.5,502.5 93.1,501.3 91.9,499.3" fill="#86e486" stroke="#000" stroke-width="1.35" stroke-linejoin="round"/>
<polygon points="100.2,503.2 102.6,501.7 105.3,502.5 105.7,504.8 103.8,507.2 101.4,506.8" fill="#86e486" stroke="#000" stroke-width="1.35" stroke-linejoin="round"/>
<polygon points="105.3,509.6 106.9,508.8 108.1,510.4 106.5,511.5" fill="#86e486" stroke="#000" stroke-width="1.35" stroke-linejoin="round"/>
<polygon points="91.9,511.9 93.9,511.1 95.5,513.5 98.6,515.1 101.0,514.7 101.4,517.9 102.6,520.6 102.2,522.6 99.4,523.0 97.0,521.4 95.5,519.1 94.7,515.9 92.3,514.3" fill="#86e486" stroke="#000" stroke-width="1.35" stroke-linejoin="round"/>
<polygon points="106.5,517.9 108.1,515.1 110.5,513.1 113.6,511.9 116.8,512.3 113.6,514.7 111.3,517.1 109.3,519.8 107.3,520.2" fill="#86e486" stroke="#000" stroke-width="1.35" stroke-linejoin="round"/>
<polygon points="91.1,516.7 92.7,516.3 93.1,518.3 91.5,518.7" fill="#86e486" stroke="#000" stroke-width="1.35" stroke-linejoin="round"/>
<polygon points="111.7,477.2 113.6,474.0 114.8,470.4 117.6,470.4 119.6,469.6 121.6,470.0 121.2,472.4 118.8,474.0 116.8,476.0 115.6,479.1 113.6,480.3 112.1,479.1" fill="#86e486" stroke="#000" stroke-width="1.35" stroke-linejoin="round"/>
<polygon points="108.5,471.6 109.7,471.2 110.1,473.2 108.9,473.2" fill="#86e486" stroke="#000" stroke-width="1.35" stroke-linejoin="round"/>
<polygon points="123.5,465.3 125.5,464.9 127.1,466.9 129.1,466.5 129.9,468.9 127.9,470.0 126.3,468.9" fill="#86e486" stroke="#000" stroke-width="1.35" stroke-linejoin="round"/>
<polygon points="130.2,462.9 132.2,461.3 134.2,462.9 133.4,465.7 131.4,466.1" fill="#86e486" stroke="#000" stroke-width="1.35" stroke-linejoin="round"/>
<polygon points="135.0,458.2 137.4,458.6 140.1,461.7 139.7,463.3 137.0,461.3" fill="#86e486" stroke="#000" stroke-width="1.35" stroke-linejoin="round"/>
<polygon points="128.7,479.9 130.2,479.1 131.0,480.7 129.5,481.5" fill="#86e486" stroke="#000" stroke-width="1.35" stroke-linejoin="round"/>
<polygon points="126.3,486.6 128.3,485.5 129.5,486.6 127.5,487.8" fill="#86e486" stroke="#000" stroke-width="1.35" stroke-linejoin="round"/>
<polygon points="104.6,479.5 105.7,479.1 106.1,480.3 105.0,480.7" fill="#86e486" stroke="#000" stroke-width="1.35" stroke-linejoin="round"/>
<polygon points="102.6,483.9 104.2,483.5 104.6,485.1 103.0,485.5" fill="#86e486" stroke="#000" stroke-width="1.35" stroke-linejoin="round"/>
<polygon points="100.2,487.4 101.8,487.0 102.2,488.6 100.6,489.0" fill="#86e486" stroke="#000" stroke-width="1.35" stroke-linejoin="round"/>
<polygon points="35.8,538.0 37.8,536.0 39.7,533.7 41.3,536.0 43.3,537.2 43.7,539.6 41.7,541.2 38.5,541.6 36.6,540.4" fill="#86e486" stroke="#000" stroke-width="1.35" stroke-linejoin="round"/>
<polygon points="55.9,527.4 57.9,526.6 58.7,529.3 57.5,531.3 56.3,530.1" fill="#86e486" stroke="#000" stroke-width="1.35" stroke-linejoin="round"/>
<polygon points="60.7,527.7 63.1,525.8 65.0,525.4 66.2,527.7 66.6,530.9 64.6,530.5 62.3,530.9 61.5,529.7" fill="#86e486" stroke="#000" stroke-width="1.35" stroke-linejoin="round"/>
<polygon points="57.9,537.6 60.7,536.4 63.8,536.8 66.6,537.6 67.4,541.2 64.6,540.8 61.9,541.6 59.1,540.4" fill="#86e486" stroke="#000" stroke-width="1.35" stroke-linejoin="round"/>
<polygon points="52.8,538.8 54.8,538.0 55.1,541.2 53.6,540.8" fill="#86e486" stroke="#000" stroke-width="1.35" stroke-linejoin="round"/>
<polygon points="42.1,528.9 43.7,527.7 46.1,528.5 44.5,529.7" fill="#86e486" stroke="#000" stroke-width="1.35" stroke-linejoin="round"/>
<polygon points="29.5,531.3 31.4,530.5 31.8,532.1 30.0,532.6" fill="#86e486" stroke="#000" stroke-width="1.35" stroke-linejoin="round"/>
<polygon points="52.4,509.2 54.8,508.8 55.9,510.4 53.6,510.8" fill="#86e486" stroke="#000" stroke-width="1.35" stroke-linejoin="round"/>
<polygon points="85.2,530.9 87.6,530.1 88.7,532.5 87.2,534.9 85.2,533.7" fill="#fff" stroke="#000" stroke-width="1.2" stroke-linejoin="round"/>
<clipPath id="cpc"><polygon points="16.0,496.9 18.0,494.9 21.2,494.5 23.9,496.5 23.1,498.9 20.4,500.1 17.2,499.7"/> <polygon points="32.6,494.5 35.4,493.0 37.8,494.5 38.9,497.7 40.9,498.9 40.5,500.9 37.8,500.5 36.2,497.7 33.8,496.5"/> <polygon points="42.5,498.1 44.9,496.1 46.1,496.9 44.1,499.3"/> <polygon points="24.7,502.5 26.3,498.9 28.3,498.9 29.1,502.5 28.7,506.4 27.1,507.6 25.5,506.0"/> <polygon points="20.0,515.9 21.9,514.3 25.1,513.9 27.5,515.1 29.9,512.7 31.8,509.6 33.4,507.6 35.4,507.6 36.6,510.4 35.4,513.5 34.6,515.1 32.2,516.3 32.6,519.1 30.6,517.9 29.1,516.7 27.1,517.9 24.7,518.3 22.3,518.7 20.8,517.9"/> <polygon points="39.7,510.0 41.7,508.8 44.1,509.6 45.7,511.1 48.0,510.8 49.6,512.7 48.8,515.9 47.2,517.1 45.7,515.9 44.1,517.1 42.5,515.1 40.9,513.5"/> <polygon points="12.9,511.1 14.8,510.8 16.0,513.5 14.0,514.7"/> <polygon points="11.7,518.3 14.8,517.1 17.6,516.3 18.0,519.1 16.8,522.2 17.2,525.4 14.8,528.5 11.7,528.9"/> <polygon points="24.7,521.4 26.3,520.2 28.3,521.4 27.9,524.2 25.9,524.6"/> <polygon points="53.2,499.3 55.1,498.1 57.5,500.1 59.9,498.5 61.5,496.9 63.8,497.7 63.8,500.5 62.3,502.8 59.1,503.6 56.7,502.5"/> <polygon points="67.8,493.8 70.2,491.4 72.5,490.2 74.5,491.0 74.1,493.4 71.8,495.3 69.4,496.5"/> <polygon points="74.9,496.5 78.1,495.3 81.2,493.0 84.0,494.2 85.2,496.1 83.2,498.1 80.8,499.7 80.4,502.5 78.1,501.3 77.3,498.9"/> <polygon points="74.1,503.2 76.5,501.7 78.1,502.5 75.3,504.4"/> <polygon points="65.8,505.2 67.4,504.4 68.2,505.6 66.6,506.4"/> <polygon points="59.1,509.6 61.5,508.8 63.8,510.4 67.0,510.8 70.2,509.6 73.3,509.2 76.5,508.8 78.9,507.2 79.7,504.4 82.8,504.4 83.2,508.0 85.2,509.6 86.4,512.7 87.2,515.9 86.4,519.1 85.2,522.2 86.4,525.4 88.4,526.6 91.5,525.8 94.3,525.0 96.3,526.2 95.1,528.5 92.3,530.1 89.9,531.7 87.6,533.3 88.4,534.9 86.0,537.2 82.8,536.8 79.7,535.3 76.5,534.9 74.1,536.4 72.5,539.6 71.8,542.8 69.8,542.0 70.6,538.0 71.8,534.1 72.5,530.1 73.7,527.0 76.5,524.6 79.7,525.0 82.0,526.6 83.2,523.8 82.4,520.6 81.2,518.3 78.9,518.7 76.5,517.5 74.1,518.3 71.8,517.9 70.2,519.8 67.8,520.6 65.8,518.7 64.6,516.7 62.3,515.9 59.9,515.1 58.7,512.3"/> <polygon points="85.2,501.3 87.2,500.9 88.0,505.6 86.8,508.0 85.6,505.6"/> <polygon points="91.5,479.5 94.3,477.5 97.0,478.3 97.8,481.1 95.9,482.3 93.5,483.1 91.9,481.9"/> <polygon points="90.7,487.8 93.1,486.6 95.9,487.4 94.3,490.6 92.7,493.8 90.7,494.2 90.3,491.0"/> <polygon points="91.9,496.5 94.7,495.3 98.6,494.5 99.8,497.7 99.4,500.9 97.8,503.2 95.5,502.5 93.1,501.3 91.9,499.3"/> <polygon points="100.2,503.2 102.6,501.7 105.3,502.5 105.7,504.8 103.8,507.2 101.4,506.8"/> <polygon points="105.3,509.6 106.9,508.8 108.1,510.4 106.5,511.5"/> <polygon points="91.9,511.9 93.9,511.1 95.5,513.5 98.6,515.1 101.0,514.7 101.4,517.9 102.6,520.6 102.2,522.6 99.4,523.0 97.0,521.4 95.5,519.1 94.7,515.9 92.3,514.3"/> <polygon points="106.5,517.9 108.1,515.1 110.5,513.1 113.6,511.9 116.8,512.3 113.6,514.7 111.3,517.1 109.3,519.8 107.3,520.2"/> <polygon points="91.1,516.7 92.7,516.3 93.1,518.3 91.5,518.7"/> <polygon points="111.7,477.2 113.6,474.0 114.8,470.4 117.6,470.4 119.6,469.6 121.6,470.0 121.2,472.4 118.8,474.0 116.8,476.0 115.6,479.1 113.6,480.3 112.1,479.1"/> <polygon points="108.5,471.6 109.7,471.2 110.1,473.2 108.9,473.2"/> <polygon points="123.5,465.3 125.5,464.9 127.1,466.9 129.1,466.5 129.9,468.9 127.9,470.0 126.3,468.9"/> <polygon points="130.2,462.9 132.2,461.3 134.2,462.9 133.4,465.7 131.4,466.1"/> <polygon points="135.0,458.2 137.4,458.6 140.1,461.7 139.7,463.3 137.0,461.3"/> <polygon points="128.7,479.9 130.2,479.1 131.0,480.7 129.5,481.5"/> <polygon points="126.3,486.6 128.3,485.5 129.5,486.6 127.5,487.8"/> <polygon points="104.6,479.5 105.7,479.1 106.1,480.3 105.0,480.7"/> <polygon points="102.6,483.9 104.2,483.5 104.6,485.1 103.0,485.5"/> <polygon points="100.2,487.4 101.8,487.0 102.2,488.6 100.6,489.0"/> <polygon points="35.8,538.0 37.8,536.0 39.7,533.7 41.3,536.0 43.3,537.2 43.7,539.6 41.7,541.2 38.5,541.6 36.6,540.4"/> <polygon points="55.9,527.4 57.9,526.6 58.7,529.3 57.5,531.3 56.3,530.1"/> <polygon points="60.7,527.7 63.1,525.8 65.0,525.4 66.2,527.7 66.6,530.9 64.6,530.5 62.3,530.9 61.5,529.7"/> <polygon points="57.9,537.6 60.7,536.4 63.8,536.8 66.6,537.6 67.4,541.2 64.6,540.8 61.9,541.6 59.1,540.4"/> <polygon points="52.8,538.8 54.8,538.0 55.1,541.2 53.6,540.8"/> <polygon points="42.1,528.9 43.7,527.7 46.1,528.5 44.5,529.7"/> <polygon points="29.5,531.3 31.4,530.5 31.8,532.1 30.0,532.6"/> <polygon points="52.4,509.2 54.8,508.8 55.9,510.4 53.6,510.8"/></clipPath><g clip-path="url(#cpc)">
<ellipse cx="19.9" cy="497.7" rx="1.78" ry="1.14" transform="rotate(-35 19.9 497.7)" fill="#a8ccff"/>
<ellipse cx="33.7" cy="510.4" rx="1.38" ry="0.89" transform="rotate(-35 33.7 510.4)" fill="#a8ccff"/>
<ellipse cx="23.0" cy="516.3" rx="1.38" ry="0.89" transform="rotate(-35 23.0 516.3)" fill="#a8ccff"/>
<ellipse cx="33.3" cy="513.5" rx="0.99" ry="0.63" transform="rotate(-35 33.3 513.5)" fill="#a8ccff"/>
<ellipse cx="26.6" cy="522.6" rx="0.99" ry="0.63" transform="rotate(-35 26.6 522.6)" fill="#a8ccff"/>
<ellipse cx="14.0" cy="527.0" rx="0.71" ry="0.46" transform="rotate(-35 14.0 527.0)" fill="#a8ccff"/>
<ellipse cx="60.6" cy="500.1" rx="1.98" ry="1.26" transform="rotate(-35 60.6 500.1)" fill="#a8ccff"/>
<ellipse cx="93.8" cy="480.3" rx="1.58" ry="1.01" transform="rotate(-35 93.8 480.3)" fill="#a8ccff"/>
<ellipse cx="114.4" cy="476.4" rx="1.38" ry="0.89" transform="rotate(-35 114.4 476.4)" fill="#a8ccff"/>
<ellipse cx="128.6" cy="467.7" rx="0.99" ry="0.63" transform="rotate(-35 128.6 467.7)" fill="#a8ccff"/>
<ellipse cx="127.8" cy="487.0" rx="0.71" ry="0.46" transform="rotate(-35 127.8 487.0)" fill="#a8ccff"/>
<ellipse cx="95.4" cy="500.1" rx="2.17" ry="1.39" transform="rotate(-35 95.4 500.1)" fill="#a8ccff"/>
<ellipse cx="102.9" cy="504.8" rx="1.58" ry="1.01" transform="rotate(-35 102.9 504.8)" fill="#a8ccff"/>
<ellipse cx="111.2" cy="513.9" rx="1.38" ry="0.89" transform="rotate(-35 111.2 513.9)" fill="#a8ccff"/>
<ellipse cx="108.0" cy="518.3" rx="0.99" ry="0.63" transform="rotate(-35 108.0 518.3)" fill="#a8ccff"/>
<ellipse cx="70.1" cy="513.5" rx="2.96" ry="1.9" transform="rotate(-35 70.1 513.5)" fill="#88b8ff"/>
<ellipse cx="70.1" cy="513.5" rx="1.3" ry="0.83" transform="rotate(-35 70.1 513.5)" fill="#2030f0"/>
<ellipse cx="81.1" cy="509.6" rx="1.38" ry="0.89" transform="rotate(-35 81.1 509.6)" fill="#a8ccff"/>
<ellipse cx="84.3" cy="515.1" rx="1.78" ry="1.14" transform="rotate(-35 84.3 515.1)" fill="#a8ccff"/>
<ellipse cx="86.7" cy="505.6" rx="0.79" ry="0.51" transform="rotate(-35 86.7 505.6)" fill="#a8ccff"/>
<ellipse cx="97.8" cy="519.1" rx="2.72" ry="1.74" transform="rotate(-35 97.8 519.1)" fill="#88b8ff"/>
<ellipse cx="97.8" cy="519.1" rx="1.2" ry="0.77" transform="rotate(-35 97.8 519.1)" fill="#2030f0"/>
<ellipse cx="80.4" cy="532.5" rx="1.98" ry="1.26" transform="rotate(-35 80.4 532.5)" fill="#a8ccff"/>
<ellipse cx="89.8" cy="534.9" rx="0.79" ry="0.51" transform="rotate(-35 89.8 534.9)" fill="#a8ccff"/>
<ellipse cx="60.6" cy="539.2" rx="1.38" ry="0.89" transform="rotate(-35 60.6 539.2)" fill="#a8ccff"/>
</g>
<ellipse cx="185.4" cy="350.3" rx="1.35" ry="0.87" transform="rotate(-35 185.4 350.3)" fill="#86e486" stroke="#000" stroke-width="1.15"/>
<ellipse cx="163.9" cy="361.0" rx="1.14" ry="0.73" transform="rotate(-35 163.9 361.0)" fill="#000"/>
<ellipse cx="169.8" cy="362.1" rx="1.74" ry="1.11" transform="rotate(-35 169.8 362.1)" fill="#86e486" stroke="#000" stroke-width="1.15"/>
<ellipse cx="169.8" cy="369.1" rx="1.14" ry="0.73" transform="rotate(-35 169.8 369.1)" fill="#000"/>
<ellipse cx="176.3" cy="374.4" rx="2.12" ry="1.36" transform="rotate(-35 176.3 374.4)" fill="#86e486" stroke="#000" stroke-width="1.15"/>
<ellipse cx="181.1" cy="375.0" rx="1.0" ry="0.64" transform="rotate(-35 181.1 375.0)" fill="#000"/>
<ellipse cx="183.3" cy="378.2" rx="1.14" ry="0.73" transform="rotate(-35 183.3 378.2)" fill="#000"/>
<ellipse cx="187.0" cy="380.9" rx="1.93" ry="1.24" transform="rotate(-35 187.0 380.9)" fill="#86e486" stroke="#000" stroke-width="1.15"/>
<ellipse cx="192.4" cy="380.4" rx="1.37" ry="0.88" transform="rotate(-35 192.4 380.4)" fill="#000"/>
<ellipse cx="201.3" cy="370.7" rx="1.93" ry="1.24" transform="rotate(-35 201.3 370.7)" fill="#86e486" stroke="#000" stroke-width="1.15"/>
<ellipse cx="210.1" cy="377.1" rx="1.74" ry="1.11" transform="rotate(-35 210.1 377.1)" fill="#86e486" stroke="#000" stroke-width="1.15"/>
<ellipse cx="211.2" cy="359.4" rx="1.37" ry="0.88" transform="rotate(-35 211.2 359.4)" fill="#000"/>
<ellipse cx="219.7" cy="353.5" rx="1.0" ry="0.64" transform="rotate(-35 219.7 353.5)" fill="#000"/>
<ellipse cx="220.3" cy="357.3" rx="1.0" ry="0.64" transform="rotate(-35 220.3 357.3)" fill="#000"/>
<ellipse cx="221.9" cy="372.3" rx="2.32" ry="1.48" transform="rotate(-35 221.9 372.3)" fill="#86e486" stroke="#000" stroke-width="1.15"/>
<ellipse cx="224.0" cy="368.0" rx="1.93" ry="1.24" transform="rotate(-35 224.0 368.0)" fill="#86e486" stroke="#000" stroke-width="1.15"/>
<ellipse cx="228.9" cy="362.6" rx="2.12" ry="1.36" transform="rotate(-35 228.9 362.6)" fill="#86e486" stroke="#000" stroke-width="1.15"/>
<ellipse cx="229.4" cy="353.5" rx="1.0" ry="0.64" transform="rotate(-35 229.4 353.5)" fill="#000"/>
<ellipse cx="235.8" cy="356.2" rx="2.12" ry="1.36" transform="rotate(-35 235.8 356.2)" fill="#86e486" stroke="#000" stroke-width="1.15"/>
<ellipse cx="240.7" cy="349.2" rx="1.14" ry="0.73" transform="rotate(-35 240.7 349.2)" fill="#000"/>
<ellipse cx="246.0" cy="359.4" rx="1.0" ry="0.64" transform="rotate(-35 246.0 359.4)" fill="#000"/>
<ellipse cx="215.4" cy="382.0" rx="1.0" ry="0.64" transform="rotate(-35 215.4 382.0)" fill="#000"/>
<ellipse cx="221.3" cy="377.7" rx="1.0" ry="0.64" transform="rotate(-35 221.3 377.7)" fill="#000"/>
<ellipse cx="198.3" cy="376.6" rx="1.0" ry="0.64" transform="rotate(-35 198.3 376.6)" fill="#000"/>
<ellipse cx="203.1" cy="376.1" rx="1.0" ry="0.64" transform="rotate(-35 203.1 376.1)" fill="#000"/>
<ellipse cx="178.4" cy="404.0" rx="2.41" ry="1.54" transform="rotate(-35 178.4 404.0)" fill="#86e486" stroke="#000" stroke-width="1.15"/>
<ellipse cx="184.3" cy="400.7" rx="1.74" ry="1.11" transform="rotate(-35 184.3 400.7)" fill="#86e486" stroke="#000" stroke-width="1.15"/>
<ellipse cx="167.2" cy="409.3" rx="1.0" ry="0.64" transform="rotate(-35 167.2 409.3)" fill="#000"/>
<ellipse cx="290.5" cy="267.7" rx="2.12" ry="1.36" transform="rotate(-35 290.5 267.7)" fill="#86e486" stroke="#000" stroke-width="1.15"/>
<ellipse cx="293.2" cy="270.4" rx="1.35" ry="0.87" transform="rotate(-35 293.2 270.4)" fill="#86e486" stroke="#000" stroke-width="1.15"/>
<ellipse cx="305.0" cy="270.7" rx="1.0" ry="0.64" transform="rotate(-35 305.0 270.7)" fill="#000"/>
<ellipse cx="299.7" cy="278.8" rx="1.14" ry="0.73" transform="rotate(-35 299.7 278.8)" fill="#000"/>
<ellipse cx="304.5" cy="282.7" rx="1.14" ry="0.73" transform="rotate(-35 304.5 282.7)" fill="#000"/>
<ellipse cx="308.6" cy="287.0" rx="1.93" ry="1.24" transform="rotate(-35 308.6 287.0)" fill="#86e486" stroke="#000" stroke-width="1.15"/>
<ellipse cx="309.3" cy="293.5" rx="1.35" ry="0.87" transform="rotate(-35 309.3 293.5)" fill="#86e486" stroke="#000" stroke-width="1.15"/>
<ellipse cx="314.1" cy="293.5" rx="1.35" ry="0.87" transform="rotate(-35 314.1 293.5)" fill="#86e486" stroke="#000" stroke-width="1.15"/>
<ellipse cx="322.7" cy="290.8" rx="2.41" ry="1.54" transform="rotate(-35 322.7 290.8)" fill="#86e486" stroke="#000" stroke-width="1.15"/>
<ellipse cx="320.0" cy="302.6" rx="1.93" ry="1.24" transform="rotate(-35 320.0 302.6)" fill="#86e486" stroke="#000" stroke-width="1.15"/>
<ellipse cx="321.7" cy="307.4" rx="1.35" ry="0.87" transform="rotate(-35 321.7 307.4)" fill="#86e486" stroke="#000" stroke-width="1.15"/>
<ellipse cx="309.3" cy="308.5" rx="1.37" ry="0.88" transform="rotate(-35 309.3 308.5)" fill="#000"/>
<ellipse cx="316.3" cy="313.8" rx="1.0" ry="0.64" transform="rotate(-35 316.3 313.8)" fill="#000"/>
<ellipse cx="325.9" cy="313.8" rx="1.14" ry="0.73" transform="rotate(-35 325.9 313.8)" fill="#000"/>
<ellipse cx="289.5" cy="312.2" rx="1.93" ry="1.24" transform="rotate(-35 289.5 312.2)" fill="#86e486" stroke="#000" stroke-width="1.15"/>
<ellipse cx="291.6" cy="314.9" rx="1.37" ry="0.88" transform="rotate(-35 291.6 314.9)" fill="#000"/>
<ellipse cx="280.4" cy="314.9" rx="1.0" ry="0.64" transform="rotate(-35 280.4 314.9)" fill="#000"/>
<ellipse cx="278.2" cy="299.6" rx="1.0" ry="0.64" transform="rotate(-35 278.2 299.6)" fill="#000"/>
<ellipse cx="289.3" cy="294.0" rx="1.0" ry="0.64" transform="rotate(-35 289.3 294.0)" fill="#000"/>
<ellipse cx="277.1" cy="326.7" rx="1.54" ry="0.99" transform="rotate(-35 277.1 326.7)" fill="#86e486" stroke="#000" stroke-width="1.15"/>
<ellipse cx="275.0" cy="356.0" rx="1.0" ry="0.64" transform="rotate(-35 275.0 356.0)" fill="#000"/>
<ellipse cx="313.6" cy="299.6" rx="1.0" ry="0.64" transform="rotate(-35 313.6 299.6)" fill="#000"/>
<ellipse cx="401.5" cy="196.5" rx="1.38" ry="0.88" transform="rotate(-35 401.5 196.5)" fill="#000"/>
<ellipse cx="382.8" cy="221.2" rx="1.38" ry="0.88" transform="rotate(-35 382.8 221.2)" fill="#000"/>
<ellipse cx="409.9" cy="227.7" rx="1.38" ry="0.88" transform="rotate(-35 409.9 227.7)" fill="#000"/>
<ellipse cx="475.0" cy="215.8" rx="1.38" ry="0.88" transform="rotate(-35 475.0 215.8)" fill="#000"/>
</g>
<line x1="51.15" y1="41" x2="51.15" y2="548.5" class="g"/>
<line x1="130.15" y1="41" x2="130.15" y2="548.5" class="g"/>
<line x1="209.15" y1="41" x2="209.15" y2="548.5" class="g"/>
<line x1="288.15" y1="41" x2="288.15" y2="548.5" class="g"/>
<line x1="366.15" y1="41" x2="366.15" y2="548.5" class="g"/>
<line x1="445.15" y1="41" x2="445.15" y2="548.5" class="g"/>
<line x1="13" y1="92.50" x2="487" y2="92.50" class="g"/>
<line x1="13" y1="176.50" x2="487" y2="176.50" class="g"/>
<line x1="13" y1="261.50" x2="487" y2="261.50" class="g"/>
<line x1="13" y1="345.50" x2="487" y2="345.50" class="g"/>
<line x1="13" y1="430.50" x2="487" y2="430.50" class="g"/>
<line x1="13" y1="515.50" x2="487" y2="515.50" class="g"/>
<polyline points="12.6,477.9 59.5,442.4 96.7,413 134,384.2 171.3,356 199.7,334.3 246.3,299.6 303.8,257.2 360.6,215.7 418.2,175.1 476.6,134.9" class="sw"/>
<polyline points="71.3,548.4 127.2,504.5 154.9,483.6 192.2,454.2 239.5,418.2 286.9,383.4 343.7,341.1 400.4,299.6 458,258.9 477.5,245.7" class="sw"/>
<text x="51.3" y="283.3" class="gl" text-anchor="middle">-50</text>
<text x="130.3" y="283.3" class="gl" text-anchor="middle">-48</text>
<text x="209" y="283.3" class="gl" text-anchor="middle">-46</text>
<text x="287.7" y="283.3" class="gl" text-anchor="middle">-44</text>
<text x="366.6" y="283.3" class="gl" text-anchor="middle">-42</text>
<text x="445.5" y="283.3" class="gl" text-anchor="middle">-40</text>
<text x="268.3" y="91.7" class="gl" text-anchor="middle">18</text>
<text x="268.3" y="176.2" class="gl" text-anchor="middle">16</text>
<text x="268.3" y="260.8" class="gl" text-anchor="middle">14</text>
<text x="268.3" y="345.3" class="gl" text-anchor="middle">12</text>
<text x="268.3" y="429.9" class="gl" text-anchor="middle">10</text>
<text x="268.3" y="514.4" class="gl" text-anchor="middle">8</text>
<path d="M242.9 294.5H255.9M249.4 288V301" stroke="#000" stroke-width="5.2" fill="none"/>
<text x="36.6" y="65.9" class="tt">2A25 near surface rainrate (mm/hr)</text>
<text x="437.9" y="523.0" class="pl">(c)</text>
<rect x="495.2" y="531.57" width="8.8" height="8.76" fill="#88e888"/>
<rect x="495.2" y="523.11" width="8.8" height="8.76" fill="#88e888"/>
<rect x="495.2" y="514.65" width="8.8" height="8.76" fill="#80dc80"/>
<rect x="495.2" y="506.18" width="8.8" height="8.76" fill="#78d478"/>
<rect x="495.2" y="497.72" width="8.8" height="8.76" fill="#70c870"/>
<rect x="495.2" y="489.26" width="8.8" height="8.76" fill="#70c870"/>
<rect x="495.2" y="480.79" width="8.8" height="8.76" fill="#68c068"/>
<rect x="495.2" y="472.33" width="8.8" height="8.76" fill="#d0d8ff"/>
<rect x="495.2" y="463.87" width="8.8" height="8.76" fill="#b8d0ff"/>
<rect x="495.2" y="455.40" width="8.8" height="8.76" fill="#b8d0ff"/>
<rect x="495.2" y="446.94" width="8.8" height="8.76" fill="#a0c8ff"/>
<rect x="495.2" y="438.48" width="8.8" height="8.76" fill="#88c0ff"/>
<rect x="495.2" y="430.01" width="8.8" height="8.76" fill="#70b8ff"/>
<rect x="495.2" y="421.55" width="8.8" height="8.76" fill="#70b8ff"/>
<rect x="495.2" y="413.09" width="8.8" height="8.76" fill="#58b0ff"/>
<rect x="495.2" y="404.62" width="8.8" height="8.76" fill="#4888ff"/>
<rect x="495.2" y="396.16" width="8.8" height="8.76" fill="#4070ff"/>
<rect x="495.2" y="387.70" width="8.8" height="8.76" fill="#4070ff"/>
<rect x="495.2" y="379.23" width="8.8" height="8.76" fill="#3850ff"/>
<rect x="495.2" y="370.77" width="8.8" height="8.76" fill="#3030ff"/>
<rect x="495.2" y="362.31" width="8.8" height="8.76" fill="#0000ff"/>
<rect x="495.2" y="353.84" width="8.8" height="8.76" fill="#0000ff"/>
<rect x="495.2" y="345.38" width="8.8" height="8.76" fill="#0000f0"/>
<rect x="495.2" y="336.92" width="8.8" height="8.76" fill="#0000e0"/>
<rect x="495.2" y="328.45" width="8.8" height="8.76" fill="#0000d4"/>
<rect x="495.2" y="319.99" width="8.8" height="8.76" fill="#0000d4"/>
<rect x="495.2" y="311.53" width="8.8" height="8.76" fill="#0000c8"/>
<rect x="495.2" y="303.06" width="8.8" height="8.76" fill="#ffff00"/>
<rect x="495.2" y="294.60" width="8.8" height="8.76" fill="#fff000"/>
<rect x="495.2" y="286.14" width="8.8" height="8.76" fill="#fff000"/>
<rect x="495.2" y="277.67" width="8.8" height="8.76" fill="#ffe800"/>
<rect x="495.2" y="269.21" width="8.8" height="8.76" fill="#ffdc00"/>
<rect x="495.2" y="260.75" width="8.8" height="8.76" fill="#ffd000"/>
<rect x="495.2" y="252.28" width="8.8" height="8.76" fill="#ffd000"/>
<rect x="495.2" y="243.82" width="8.8" height="8.76" fill="#ff9000"/>
<rect x="495.2" y="235.36" width="8.8" height="8.76" fill="#ff8800"/>
<rect x="495.2" y="226.89" width="8.8" height="8.76" fill="#ff8000"/>
<rect x="495.2" y="218.43" width="8.8" height="8.76" fill="#ff8000"/>
<rect x="495.2" y="209.97" width="8.8" height="8.76" fill="#ff7800"/>
<rect x="495.2" y="201.50" width="8.8" height="8.76" fill="#ff7000"/>
<rect x="495.2" y="193.04" width="8.8" height="8.76" fill="#ff4800"/>
<rect x="495.2" y="184.58" width="8.8" height="8.76" fill="#ff4800"/>
<rect x="495.2" y="176.11" width="8.8" height="8.76" fill="#ff3c00"/>
<rect x="495.2" y="167.65" width="8.8" height="8.76" fill="#ff3000"/>
<rect x="495.2" y="159.19" width="8.8" height="8.76" fill="#ff2000"/>
<rect x="495.2" y="150.72" width="8.8" height="8.76" fill="#ff2000"/>
<rect x="495.2" y="142.26" width="8.8" height="8.76" fill="#ff1400"/>
<rect x="495.2" y="133.80" width="8.8" height="8.76" fill="#cc0000"/>
<rect x="495.2" y="125.33" width="8.8" height="8.76" fill="#c40000"/>
<rect x="495.2" y="116.87" width="8.8" height="8.76" fill="#c40000"/>
<rect x="495.2" y="108.41" width="8.8" height="8.76" fill="#b80000"/>
<rect x="495.2" y="99.94" width="8.8" height="8.76" fill="#b00400"/>
<rect x="495.2" y="91.48" width="8.8" height="8.76" fill="#a40c00"/>
<rect x="495.2" y="83.02" width="8.8" height="8.76" fill="#a40c00"/>
<rect x="495.2" y="74.55" width="8.8" height="8.76" fill="#680c04"/>
<rect x="495.2" y="66.09" width="8.8" height="8.76" fill="#641008"/>
<rect x="495.2" y="57.63" width="8.8" height="8.76" fill="#5c140c"/>
<rect x="495.2" y="49.16" width="8.8" height="8.76" fill="#5c140c"/>
<rect x="495.2" y="40.70" width="8.8" height="8.76" fill="#5a1810"/>
<line x1="504" y1="548.5" x2="506.6" y2="548.5" class="tk"/>
<text x="524.2" y="557.2" class="cl" text-anchor="middle">0</text>
<line x1="504" y1="497.7" x2="506.6" y2="497.7" class="tk"/>
<text x="524.2" y="506.4" class="cl" text-anchor="middle">6</text>
<line x1="504" y1="446.9" x2="506.6" y2="446.9" class="tk"/>
<text x="524.2" y="455.6" class="cl" text-anchor="middle">12</text>
<line x1="504" y1="396.2" x2="506.6" y2="396.2" class="tk"/>
<text x="524.2" y="404.9" class="cl" text-anchor="middle">18</text>
<line x1="504" y1="345.4" x2="506.6" y2="345.4" class="tk"/>
<text x="524.2" y="354.1" class="cl" text-anchor="middle">24</text>
<line x1="504" y1="294.6" x2="506.6" y2="294.6" class="tk"/>
<text x="524.2" y="303.3" class="cl" text-anchor="middle">30</text>
<line x1="504" y1="243.8" x2="506.6" y2="243.8" class="tk"/>
<text x="524.2" y="252.5" class="cl" text-anchor="middle">36</text>
<line x1="504" y1="193.0" x2="506.6" y2="193.0" class="tk"/>
<text x="524.2" y="201.7" class="cl" text-anchor="middle">42</text>
<line x1="504" y1="142.3" x2="506.6" y2="142.3" class="tk"/>
<text x="524.2" y="151.0" class="cl" text-anchor="middle">48</text>
<line x1="504" y1="91.5" x2="506.6" y2="91.5" class="tk"/>
<text x="524.2" y="100.2" class="cl" text-anchor="middle">54</text>
</g>
<g transform="translate(0,590.6)">
<g clip-path="url(#cp)">
<clipPath id="swd"><polygon points="13.0,333.5 309.7,110.9 407.0,41.0 487.0,41.0 487.0,385.0 267.0,548.5 13.0,548.5"/></clipPath>
<polygon points="13.0,333.5 309.7,110.9 407.0,41.0 487.0,41.0 487.0,385.0 267.0,548.5 13.0,548.5" fill="#ececec"/>
<g clip-path="url(#swd)">
<g filter="url(#b5)">
<ellipse cx="205" cy="287" rx="9" ry="14" fill="#d2d2d2"/>
<ellipse cx="147" cy="318" rx="8" ry="6" fill="#d0d0d0"/>
<ellipse cx="347" cy="192" rx="7" ry="5" fill="#dadada"/>
<ellipse cx="223" cy="365" rx="6" ry="5" fill="#dcdcdc"/>
<ellipse cx="240" cy="235" rx="22" ry="12" fill="#e2e2e2"/>
<ellipse cx="169" cy="512" rx="14" ry="10" fill="#c8c8c8"/>
<ellipse cx="222" cy="480" rx="12" ry="8" fill="#d8d8d8"/>
<ellipse cx="80" cy="505" rx="30" ry="10" fill="#dcdcdc"/>
<ellipse cx="105" cy="520" rx="18" ry="8" fill="#d2d2d2"/>
<ellipse cx="30" cy="470" rx="20" ry="14" fill="#e0e0e0"/>
<ellipse cx="125" cy="370" rx="12" ry="10" fill="#e2e2e2"/>
<ellipse cx="210" cy="500" rx="14" ry="8" fill="#d4d4d4"/>
<ellipse cx="40" cy="525" rx="20" ry="8" fill="#dadada"/>
<ellipse cx="420" cy="80" rx="40" ry="20" fill="#f0f0f0"/>
<ellipse cx="300" cy="430" rx="60" ry="30" fill="#f1f1f1"/>
</g>
<g transform="rotate(-36.76)">
<path d="M-112.8 272.6h4.7v4.7h-4.7zM-84.6 272.6h4.7v4.7h-4.7zM-75.2 272.6h4.7v4.7h-4.7zM-61.1 272.6h4.7v4.7h-4.7zM51.7 272.6h4.7v4.7h-4.7zM131.6 272.6h4.7v4.7h-4.7zM-32.9 277.3h4.7v4.7h-4.7zM14.1 277.3h4.7v4.7h-4.7zM51.7 277.3h4.7v4.7h-4.7zM65.8 277.3h4.7v4.7h-4.7zM122.2 277.3h9.4v4.7h-9.4zM145.7 277.3h4.7v4.7h-4.7zM-178.6 282.0h4.7v4.7h-4.7zM-136.3 282.0h4.7v4.7h-4.7zM42.3 282.0h4.7v4.7h-4.7zM51.7 282.0h4.7v4.7h-4.7zM75.2 282.0h4.7v4.7h-4.7zM89.3 282.0h4.7v4.7h-4.7zM108.1 282.0h4.7v4.7h-4.7zM159.8 282.0h4.7v4.7h-4.7zM-126.9 286.7h4.7v4.7h-4.7zM-117.5 286.7h4.7v4.7h-4.7zM51.7 286.7h4.7v4.7h-4.7zM89.3 286.7h4.7v4.7h-4.7zM173.9 286.7h4.7v4.7h-4.7zM-126.9 291.4h4.7v4.7h-4.7zM-65.8 291.4h4.7v4.7h-4.7zM-14.1 291.4h4.7v4.7h-4.7zM28.2 291.4h4.7v4.7h-4.7zM75.2 291.4h4.7v4.7h-4.7zM202.1 291.4h4.7v4.7h-4.7zM282.0 291.4h4.7v4.7h-4.7zM305.5 291.4h4.7v4.7h-4.7zM-150.4 296.1h4.7v4.7h-4.7zM-117.5 296.1h4.7v4.7h-4.7zM-61.1 296.1h4.7v4.7h-4.7zM-51.7 296.1h4.7v4.7h-4.7zM-23.5 296.1h4.7v4.7h-4.7zM70.5 296.1h4.7v4.7h-4.7zM216.2 296.1h9.4v4.7h-9.4zM79.9 300.8h4.7v4.7h-4.7zM112.8 300.8h4.7v4.7h-4.7zM-206.8 305.5h4.7v4.7h-4.7zM-178.6 305.5h4.7v4.7h-4.7zM-159.8 305.5h4.7v4.7h-4.7zM-47.0 305.5h4.7v4.7h-4.7zM0.0 305.5h4.7v4.7h-4.7zM84.6 305.5h4.7v4.7h-4.7zM263.2 305.5h4.7v4.7h-4.7zM291.4 305.5h4.7v4.7h-4.7zM-56.4 310.2h4.7v4.7h-4.7zM-23.5 310.2h4.7v4.7h-4.7zM239.7 310.2h4.7v4.7h-4.7zM291.4 310.2h4.7v4.7h-4.7zM-220.9 314.9h4.7v4.7h-4.7zM-108.1 314.9h4.7v4.7h-4.7zM-70.5 314.9h4.7v4.7h-4.7zM-47.0 314.9h4.7v4.7h-4.7zM-14.1 314.9h4.7v4.7h-4.7zM61.1 314.9h4.7v4.7h-4.7zM79.9 314.9h4.7v4.7h-4.7zM108.1 314.9h9.4v4.7h-9.4zM216.2 314.9h4.7v4.7h-4.7zM-202.1 319.6h4.7v4.7h-4.7zM-136.3 319.6h4.7v4.7h-4.7zM14.1 319.6h4.7v4.7h-4.7zM47.0 319.6h4.7v4.7h-4.7zM112.8 319.6h4.7v4.7h-4.7zM178.6 319.6h4.7v4.7h-4.7zM202.1 319.6h4.7v4.7h-4.7zM235.0 319.6h4.7v4.7h-4.7zM272.6 319.6h4.7v4.7h-4.7zM338.4 319.6h4.7v4.7h-4.7zM352.5 319.6h4.7v4.7h-4.7zM-94.0 324.3h4.7v4.7h-4.7zM-28.2 324.3h4.7v4.7h-4.7zM9.4 324.3h4.7v4.7h-4.7zM23.5 324.3h4.7v4.7h-4.7zM37.6 324.3h4.7v4.7h-4.7zM131.6 324.3h9.4v4.7h-9.4zM220.9 324.3h4.7v4.7h-4.7zM310.2 324.3h4.7v4.7h-4.7zM324.3 324.3h4.7v4.7h-4.7zM333.7 324.3h4.7v4.7h-4.7zM-230.3 329.0h4.7v4.7h-4.7zM-122.2 329.0h4.7v4.7h-4.7zM-70.5 329.0h4.7v4.7h-4.7zM89.3 329.0h9.4v4.7h-9.4zM141.0 329.0h4.7v4.7h-4.7zM253.8 329.0h4.7v4.7h-4.7zM305.5 329.0h4.7v4.7h-4.7zM319.6 329.0h4.7v4.7h-4.7zM347.8 329.0h4.7v4.7h-4.7zM-136.3 333.7h4.7v4.7h-4.7zM-94.0 333.7h9.4v4.7h-9.4zM-28.2 333.7h4.7v4.7h-4.7zM28.2 333.7h4.7v4.7h-4.7zM65.8 333.7h4.7v4.7h-4.7zM79.9 333.7h4.7v4.7h-4.7zM155.1 333.7h4.7v4.7h-4.7zM272.6 333.7h4.7v4.7h-4.7zM-103.4 338.4h4.7v4.7h-4.7zM18.8 338.4h4.7v4.7h-4.7zM136.3 338.4h4.7v4.7h-4.7zM225.6 338.4h4.7v4.7h-4.7zM-150.4 343.1h4.7v4.7h-4.7zM-14.1 343.1h4.7v4.7h-4.7zM61.1 343.1h4.7v4.7h-4.7zM164.5 343.1h4.7v4.7h-4.7zM183.3 343.1h4.7v4.7h-4.7zM263.2 343.1h4.7v4.7h-4.7zM338.4 343.1h4.7v4.7h-4.7zM-220.9 347.8h4.7v4.7h-4.7zM-192.7 347.8h4.7v4.7h-4.7zM-79.9 347.8h4.7v4.7h-4.7zM-70.5 347.8h4.7v4.7h-4.7zM-14.1 347.8h4.7v4.7h-4.7zM0.0 347.8h4.7v4.7h-4.7zM61.1 347.8h4.7v4.7h-4.7zM145.7 347.8h4.7v4.7h-4.7zM155.1 347.8h4.7v4.7h-4.7zM178.6 347.8h4.7v4.7h-4.7zM197.4 347.8h4.7v4.7h-4.7zM-239.7 352.5h4.7v4.7h-4.7zM-84.6 352.5h4.7v4.7h-4.7zM-9.4 352.5h4.7v4.7h-4.7zM126.9 352.5h4.7v4.7h-4.7zM235.0 352.5h4.7v4.7h-4.7zM-244.4 357.2h4.7v4.7h-4.7zM-235.0 357.2h9.4v4.7h-9.4zM-79.9 357.2h4.7v4.7h-4.7zM-32.9 357.2h4.7v4.7h-4.7zM-14.1 357.2h9.4v4.7h-9.4zM23.5 357.2h9.4v4.7h-9.4zM61.1 357.2h4.7v4.7h-4.7zM305.5 357.2h4.7v4.7h-4.7zM319.6 357.2h4.7v4.7h-4.7zM-150.4 361.9h4.7v4.7h-4.7zM-9.4 361.9h4.7v4.7h-4.7zM4.7 361.9h4.7v4.7h-4.7zM28.2 361.9h4.7v4.7h-4.7zM61.1 361.9h4.7v4.7h-4.7zM70.5 361.9h4.7v4.7h-4.7zM249.1 361.9h4.7v4.7h-4.7zM-126.9 366.6h4.7v4.7h-4.7zM-89.3 366.6h4.7v4.7h-4.7zM-28.2 366.6h4.7v4.7h-4.7zM23.5 366.6h4.7v4.7h-4.7zM145.7 366.6h4.7v4.7h-4.7zM192.7 366.6h9.4v4.7h-9.4zM310.2 366.6h4.7v4.7h-4.7zM-211.5 371.3h4.7v4.7h-4.7zM-150.4 371.3h4.7v4.7h-4.7zM-136.3 371.3h4.7v4.7h-4.7zM-126.9 371.3h4.7v4.7h-4.7zM131.6 371.3h4.7v4.7h-4.7zM178.6 371.3h4.7v4.7h-4.7zM-188.0 376.0h4.7v4.7h-4.7zM-112.8 376.0h4.7v4.7h-4.7zM61.1 376.0h4.7v4.7h-4.7zM70.5 376.0h4.7v4.7h-4.7zM94.0 376.0h4.7v4.7h-4.7zM117.5 376.0h4.7v4.7h-4.7zM126.9 376.0h4.7v4.7h-4.7zM197.4 376.0h4.7v4.7h-4.7zM310.2 376.0h4.7v4.7h-4.7zM319.6 376.0h4.7v4.7h-4.7zM-141.0 380.7h4.7v4.7h-4.7zM-42.3 380.7h4.7v4.7h-4.7zM28.2 380.7h9.4v4.7h-9.4zM51.7 380.7h4.7v4.7h-4.7zM103.4 380.7h4.7v4.7h-4.7zM164.5 380.7h4.7v4.7h-4.7zM220.9 380.7h4.7v4.7h-4.7zM239.7 380.7h9.4v4.7h-9.4zM-267.9 385.4h4.7v4.7h-4.7zM-230.3 385.4h4.7v4.7h-4.7zM-211.5 385.4h9.4v4.7h-9.4zM-188.0 385.4h4.7v4.7h-4.7zM-169.2 385.4h4.7v4.7h-4.7zM-94.0 385.4h4.7v4.7h-4.7zM-75.2 385.4h4.7v4.7h-4.7zM-18.8 385.4h4.7v4.7h-4.7zM122.2 385.4h4.7v4.7h-4.7zM202.1 385.4h14.1v4.7h-14.1zM235.0 385.4h4.7v4.7h-4.7zM-267.9 390.1h4.7v4.7h-4.7zM-235.0 390.1h4.7v4.7h-4.7zM-225.6 390.1h4.7v4.7h-4.7zM-183.3 390.1h4.7v4.7h-4.7zM-173.9 390.1h4.7v4.7h-4.7zM-164.5 390.1h4.7v4.7h-4.7zM-75.2 390.1h4.7v4.7h-4.7zM-47.0 390.1h4.7v4.7h-4.7zM32.9 390.1h4.7v4.7h-4.7zM98.7 390.1h4.7v4.7h-4.7zM131.6 390.1h4.7v4.7h-4.7zM155.1 390.1h4.7v4.7h-4.7zM183.3 390.1h4.7v4.7h-4.7zM211.5 390.1h4.7v4.7h-4.7zM282.0 390.1h4.7v4.7h-4.7zM28.2 394.8h4.7v4.7h-4.7zM70.5 394.8h4.7v4.7h-4.7zM89.3 394.8h4.7v4.7h-4.7zM258.5 394.8h4.7v4.7h-4.7zM-277.3 399.5h4.7v4.7h-4.7zM-258.5 399.5h4.7v4.7h-4.7zM-183.3 399.5h4.7v4.7h-4.7zM-23.5 399.5h4.7v4.7h-4.7zM-9.4 399.5h4.7v4.7h-4.7zM14.1 399.5h4.7v4.7h-4.7zM61.1 399.5h4.7v4.7h-4.7zM220.9 399.5h4.7v4.7h-4.7zM277.3 399.5h9.4v4.7h-9.4zM-282.0 404.2h4.7v4.7h-4.7zM-253.8 404.2h4.7v4.7h-4.7zM-235.0 404.2h4.7v4.7h-4.7zM-225.6 404.2h4.7v4.7h-4.7zM-202.1 404.2h4.7v4.7h-4.7zM-112.8 404.2h4.7v4.7h-4.7zM-89.3 404.2h4.7v4.7h-4.7zM-32.9 404.2h4.7v4.7h-4.7zM9.4 404.2h4.7v4.7h-4.7zM23.5 404.2h4.7v4.7h-4.7zM155.1 404.2h4.7v4.7h-4.7zM178.6 404.2h4.7v4.7h-4.7zM-258.5 408.9h9.4v4.7h-9.4zM-202.1 408.9h4.7v4.7h-4.7zM-155.1 408.9h4.7v4.7h-4.7zM-112.8 408.9h4.7v4.7h-4.7zM-70.5 408.9h4.7v4.7h-4.7zM-23.5 408.9h4.7v4.7h-4.7zM4.7 408.9h4.7v4.7h-4.7zM56.4 408.9h4.7v4.7h-4.7zM145.7 408.9h4.7v4.7h-4.7zM183.3 408.9h4.7v4.7h-4.7zM225.6 408.9h4.7v4.7h-4.7zM-296.1 413.6h4.7v4.7h-4.7zM-192.7 413.6h4.7v4.7h-4.7zM-183.3 413.6h4.7v4.7h-4.7zM-159.8 413.6h4.7v4.7h-4.7zM-150.4 413.6h4.7v4.7h-4.7zM-61.1 413.6h4.7v4.7h-4.7zM-37.6 413.6h4.7v4.7h-4.7zM-28.2 413.6h4.7v4.7h-4.7zM9.4 413.6h4.7v4.7h-4.7zM51.7 413.6h4.7v4.7h-4.7zM65.8 413.6h4.7v4.7h-4.7zM122.2 413.6h4.7v4.7h-4.7zM136.3 413.6h4.7v4.7h-4.7zM145.7 413.6h4.7v4.7h-4.7zM197.4 413.6h4.7v4.7h-4.7zM235.0 413.6h4.7v4.7h-4.7zM-291.4 418.3h4.7v4.7h-4.7zM-239.7 418.3h4.7v4.7h-4.7zM-155.1 418.3h4.7v4.7h-4.7zM-103.4 418.3h4.7v4.7h-4.7zM-42.3 418.3h4.7v4.7h-4.7zM-14.1 418.3h4.7v4.7h-4.7zM28.2 418.3h4.7v4.7h-4.7zM56.4 418.3h4.7v4.7h-4.7zM126.9 418.3h4.7v4.7h-4.7zM159.8 418.3h4.7v4.7h-4.7zM188.0 418.3h9.4v4.7h-9.4zM211.5 418.3h4.7v4.7h-4.7zM-282.0 423.0h4.7v4.7h-4.7zM-164.5 423.0h4.7v4.7h-4.7zM108.1 423.0h4.7v4.7h-4.7zM249.1 423.0h4.7v4.7h-4.7zM-244.4 427.7h4.7v4.7h-4.7zM-75.2 427.7h9.4v4.7h-9.4zM-56.4 427.7h4.7v4.7h-4.7zM-37.6 427.7h4.7v4.7h-4.7zM-28.2 427.7h9.4v4.7h-9.4zM155.1 427.7h4.7v4.7h-4.7zM-249.1 432.4h4.7v4.7h-4.7zM-126.9 432.4h4.7v4.7h-4.7zM-108.1 432.4h4.7v4.7h-4.7zM-94.0 432.4h4.7v4.7h-4.7zM-84.6 432.4h4.7v4.7h-4.7zM-37.6 432.4h4.7v4.7h-4.7zM188.0 432.4h4.7v4.7h-4.7zM230.3 432.4h4.7v4.7h-4.7zM239.7 432.4h4.7v4.7h-4.7zM-277.3 437.1h4.7v4.7h-4.7zM-206.8 437.1h4.7v4.7h-4.7zM-131.6 437.1h4.7v4.7h-4.7zM37.6 437.1h4.7v4.7h-4.7zM56.4 437.1h4.7v4.7h-4.7zM192.7 437.1h4.7v4.7h-4.7zM220.9 437.1h4.7v4.7h-4.7zM-305.5 441.8h4.7v4.7h-4.7zM-211.5 441.8h4.7v4.7h-4.7zM-164.5 441.8h14.1v4.7h-14.1zM-70.5 441.8h4.7v4.7h-4.7zM-9.4 441.8h4.7v4.7h-4.7zM79.9 441.8h4.7v4.7h-4.7zM141.0 441.8h4.7v4.7h-4.7zM202.1 441.8h4.7v4.7h-4.7zM267.9 441.8h4.7v4.7h-4.7zM-272.6 446.5h4.7v4.7h-4.7zM-253.8 446.5h4.7v4.7h-4.7zM-126.9 446.5h4.7v4.7h-4.7zM-51.7 446.5h4.7v4.7h-4.7zM-28.2 446.5h4.7v4.7h-4.7zM0.0 446.5h4.7v4.7h-4.7zM9.4 446.5h9.4v4.7h-9.4zM197.4 446.5h4.7v4.7h-4.7zM216.2 446.5h4.7v4.7h-4.7zM258.5 446.5h4.7v4.7h-4.7zM-216.2 451.2h4.7v4.7h-4.7zM-112.8 451.2h4.7v4.7h-4.7zM-103.4 451.2h4.7v4.7h-4.7zM-65.8 451.2h4.7v4.7h-4.7zM32.9 451.2h4.7v4.7h-4.7zM98.7 451.2h4.7v4.7h-4.7zM136.3 451.2h4.7v4.7h-4.7zM155.1 451.2h4.7v4.7h-4.7zM164.5 451.2h4.7v4.7h-4.7zM-220.9 455.9h4.7v4.7h-4.7zM84.6 455.9h4.7v4.7h-4.7zM117.5 455.9h4.7v4.7h-4.7zM164.5 455.9h4.7v4.7h-4.7zM-258.5 460.6h4.7v4.7h-4.7zM-235.0 460.6h4.7v4.7h-4.7zM-65.8 460.6h4.7v4.7h-4.7zM0.0 460.6h9.4v4.7h-9.4zM18.8 460.6h4.7v4.7h-4.7zM112.8 460.6h4.7v4.7h-4.7zM155.1 460.6h4.7v4.7h-4.7zM183.3 460.6h4.7v4.7h-4.7zM249.1 460.6h4.7v4.7h-4.7zM258.5 460.6h4.7v4.7h-4.7zM-277.3 465.3h4.7v4.7h-4.7zM-122.2 465.3h4.7v4.7h-4.7zM-103.4 465.3h4.7v4.7h-4.7zM79.9 465.3h4.7v4.7h-4.7zM112.8 465.3h4.7v4.7h-4.7zM206.8 465.3h4.7v4.7h-4.7zM-197.4 470.0h4.7v4.7h-4.7zM-131.6 470.0h4.7v4.7h-4.7zM-18.8 470.0h4.7v4.7h-4.7zM-9.4 470.0h4.7v4.7h-4.7zM56.4 470.0h4.7v4.7h-4.7zM141.0 470.0h4.7v4.7h-4.7zM188.0 470.0h4.7v4.7h-4.7zM206.8 470.0h4.7v4.7h-4.7zM-216.2 474.7h4.7v4.7h-4.7zM-98.7 474.7h4.7v4.7h-4.7zM-89.3 474.7h4.7v4.7h-4.7zM-61.1 474.7h4.7v4.7h-4.7zM-42.3 474.7h4.7v4.7h-4.7zM-23.5 474.7h9.4v4.7h-9.4zM-225.6 479.4h4.7v4.7h-4.7zM-136.3 479.4h4.7v4.7h-4.7zM183.3 479.4h4.7v4.7h-4.7zM-136.3 484.1h4.7v4.7h-4.7zM-108.1 484.1h4.7v4.7h-4.7zM-89.3 484.1h4.7v4.7h-4.7zM94.0 484.1h4.7v4.7h-4.7zM169.2 484.1h4.7v4.7h-4.7zM-239.7 488.8h4.7v4.7h-4.7zM-230.3 488.8h4.7v4.7h-4.7zM-202.1 488.8h4.7v4.7h-4.7zM-108.1 488.8h4.7v4.7h-4.7zM-65.8 488.8h9.4v4.7h-9.4zM131.6 488.8h4.7v4.7h-4.7zM183.3 488.8h9.4v4.7h-9.4zM-169.2 493.5h4.7v4.7h-4.7zM-94.0 493.5h4.7v4.7h-4.7zM-70.5 493.5h4.7v4.7h-4.7zM-61.1 493.5h4.7v4.7h-4.7zM-42.3 493.5h4.7v4.7h-4.7zM84.6 493.5h4.7v4.7h-4.7zM192.7 493.5h4.7v4.7h-4.7zM202.1 493.5h4.7v4.7h-4.7zM220.9 493.5h4.7v4.7h-4.7zM-225.6 498.2h4.7v4.7h-4.7zM-89.3 498.2h4.7v4.7h-4.7zM-18.8 498.2h4.7v4.7h-4.7zM65.8 498.2h4.7v4.7h-4.7zM94.0 498.2h4.7v4.7h-4.7zM117.5 498.2h4.7v4.7h-4.7zM216.2 498.2h4.7v4.7h-4.7zM-225.6 502.9h4.7v4.7h-4.7zM-169.2 502.9h4.7v4.7h-4.7zM61.1 502.9h4.7v4.7h-4.7zM164.5 502.9h4.7v4.7h-4.7zM173.9 502.9h4.7v4.7h-4.7zM216.2 502.9h9.4v4.7h-9.4zM-188.0 507.6h4.7v4.7h-4.7zM-94.0 507.6h4.7v4.7h-4.7zM32.9 507.6h4.7v4.7h-4.7zM131.6 507.6h4.7v4.7h-4.7zM145.7 507.6h4.7v4.7h-4.7zM169.2 507.6h4.7v4.7h-4.7zM206.8 507.6h4.7v4.7h-4.7zM-225.6 512.3h9.4v4.7h-9.4zM-183.3 512.3h4.7v4.7h-4.7zM-159.8 512.3h4.7v4.7h-4.7zM-4.7 512.3h4.7v4.7h-4.7zM183.3 512.3h4.7v4.7h-4.7zM-216.2 517.0h4.7v4.7h-4.7zM-145.7 517.0h4.7v4.7h-4.7zM-112.8 517.0h4.7v4.7h-4.7zM-98.7 517.0h4.7v4.7h-4.7zM-47.0 517.0h9.4v4.7h-9.4zM-9.4 517.0h4.7v4.7h-4.7zM23.5 517.0h4.7v4.7h-4.7zM75.2 517.0h4.7v4.7h-4.7zM84.6 517.0h9.4v4.7h-9.4zM112.8 517.0h4.7v4.7h-4.7zM-188.0 521.7h4.7v4.7h-4.7zM-131.6 521.7h4.7v4.7h-4.7zM18.8 521.7h4.7v4.7h-4.7zM70.5 521.7h9.4v4.7h-9.4zM159.8 521.7h4.7v4.7h-4.7zM188.0 521.7h4.7v4.7h-4.7zM197.4 521.7h4.7v4.7h-4.7zM-192.7 526.4h4.7v4.7h-4.7zM-159.8 526.4h9.4v4.7h-9.4zM-103.4 526.4h4.7v4.7h-4.7zM-51.7 526.4h4.7v4.7h-4.7zM9.4 526.4h4.7v4.7h-4.7zM131.6 526.4h4.7v4.7h-4.7zM-197.4 531.1h9.4v4.7h-9.4zM-164.5 531.1h4.7v4.7h-4.7zM-141.0 531.1h4.7v4.7h-4.7zM-28.2 531.1h4.7v4.7h-4.7zM37.6 531.1h4.7v4.7h-4.7zM155.1 531.1h4.7v4.7h-4.7zM183.3 531.1h4.7v4.7h-4.7zM-169.2 535.8h4.7v4.7h-4.7zM-70.5 535.8h4.7v4.7h-4.7zM-61.1 535.8h4.7v4.7h-4.7zM-4.7 535.8h4.7v4.7h-4.7zM103.4 535.8h4.7v4.7h-4.7zM-155.1 540.5h4.7v4.7h-4.7zM-65.8 540.5h4.7v4.7h-4.7zM28.2 540.5h4.7v4.7h-4.7zM51.7 540.5h4.7v4.7h-4.7zM89.3 540.5h4.7v4.7h-4.7zM122.2 540.5h4.7v4.7h-4.7zM150.4 540.5h9.4v4.7h-9.4zM-155.1 545.2h4.7v4.7h-4.7zM-56.4 545.2h4.7v4.7h-4.7zM0.0 545.2h4.7v4.7h-4.7zM188.0 545.2h4.7v4.7h-4.7zM-131.6 549.9h9.4v4.7h-9.4zM-51.7 549.9h4.7v4.7h-4.7zM-28.2 549.9h4.7v4.7h-4.7zM103.4 549.9h4.7v4.7h-4.7zM183.3 549.9h4.7v4.7h-4.7zM-79.9 554.6h4.7v4.7h-4.7zM-47.0 554.6h4.7v4.7h-4.7zM-4.7 554.6h4.7v4.7h-4.7zM9.4 554.6h4.7v4.7h-4.7zM42.3 554.6h4.7v4.7h-4.7zM75.2 554.6h4.7v4.7h-4.7zM122.2 554.6h4.7v4.7h-4.7zM-136.3 559.3h4.7v4.7h-4.7zM0.0 559.3h4.7v4.7h-4.7zM51.7 559.3h4.7v4.7h-4.7zM79.9 559.3h4.7v4.7h-4.7zM178.6 559.3h4.7v4.7h-4.7zM-126.9 564.0h4.7v4.7h-4.7zM-89.3 564.0h4.7v4.7h-4.7zM-61.1 564.0h4.7v4.7h-4.7zM-14.1 564.0h4.7v4.7h-4.7zM14.1 564.0h4.7v4.7h-4.7zM136.3 564.0h4.7v4.7h-4.7zM-150.4 568.7h4.7v4.7h-4.7zM-14.1 568.7h4.7v4.7h-4.7zM79.9 568.7h4.7v4.7h-4.7zM159.8 568.7h4.7v4.7h-4.7zM126.9 573.4h4.7v4.7h-4.7zM136.3 573.4h4.7v4.7h-4.7zM150.4 573.4h4.7v4.7h-4.7zM159.8 573.4h4.7v4.7h-4.7zM-108.1 578.1h4.7v4.7h-4.7zM89.3 578.1h4.7v4.7h-4.7zM-131.6 582.8h4.7v4.7h-4.7zM-122.2 582.8h4.7v4.7h-4.7zM-98.7 582.8h4.7v4.7h-4.7zM-84.6 582.8h4.7v4.7h-4.7zM-37.6 582.8h4.7v4.7h-4.7zM4.7 582.8h4.7v4.7h-4.7zM18.8 582.8h4.7v4.7h-4.7zM51.7 587.5h4.7v4.7h-4.7zM98.7 587.5h4.7v4.7h-4.7zM159.8 587.5h4.7v4.7h-4.7zM32.9 592.2h4.7v4.7h-4.7zM98.7 592.2h4.7v4.7h-4.7zM145.7 592.2h4.7v4.7h-4.7zM-18.8 596.9h4.7v4.7h-4.7zM117.5 596.9h4.7v4.7h-4.7z" fill="#000" opacity="0.035"/>
<path d="M-136.3 272.6h4.7v4.7h-4.7zM-126.9 272.6h4.7v4.7h-4.7zM18.8 272.6h4.7v4.7h-4.7zM79.9 272.6h4.7v4.7h-4.7zM98.7 272.6h4.7v4.7h-4.7zM117.5 272.6h4.7v4.7h-4.7zM126.9 272.6h4.7v4.7h-4.7zM173.9 272.6h4.7v4.7h-4.7zM-183.3 277.3h4.7v4.7h-4.7zM-150.4 277.3h9.4v4.7h-9.4zM-37.6 277.3h4.7v4.7h-4.7zM173.9 277.3h4.7v4.7h-4.7zM267.9 277.3h4.7v4.7h-4.7zM-188.0 282.0h4.7v4.7h-4.7zM37.6 282.0h4.7v4.7h-4.7zM220.9 282.0h4.7v4.7h-4.7zM235.0 282.0h4.7v4.7h-4.7zM-150.4 286.7h4.7v4.7h-4.7zM-51.7 286.7h4.7v4.7h-4.7zM122.2 286.7h4.7v4.7h-4.7zM164.5 286.7h4.7v4.7h-4.7zM206.8 286.7h4.7v4.7h-4.7zM216.2 286.7h4.7v4.7h-4.7zM-159.8 291.4h4.7v4.7h-4.7zM-141.0 291.4h4.7v4.7h-4.7zM-103.4 291.4h4.7v4.7h-4.7zM-75.2 291.4h9.4v4.7h-9.4zM-18.8 291.4h4.7v4.7h-4.7zM188.0 291.4h4.7v4.7h-4.7zM319.6 291.4h4.7v4.7h-4.7zM-164.5 296.1h4.7v4.7h-4.7zM-9.4 296.1h4.7v4.7h-4.7zM51.7 296.1h4.7v4.7h-4.7zM79.9 296.1h4.7v4.7h-4.7zM141.0 296.1h4.7v4.7h-4.7zM239.7 296.1h4.7v4.7h-4.7zM249.1 296.1h9.4v4.7h-9.4zM300.8 296.1h9.4v4.7h-9.4zM-155.1 300.8h4.7v4.7h-4.7zM-145.7 300.8h9.4v4.7h-9.4zM-112.8 300.8h4.7v4.7h-4.7zM-98.7 300.8h4.7v4.7h-4.7zM-56.4 300.8h4.7v4.7h-4.7zM126.9 300.8h9.4v4.7h-9.4zM145.7 300.8h4.7v4.7h-4.7zM-197.4 305.5h4.7v4.7h-4.7zM-155.1 305.5h4.7v4.7h-4.7zM103.4 305.5h4.7v4.7h-4.7zM117.5 305.5h4.7v4.7h-4.7zM164.5 305.5h4.7v4.7h-4.7zM206.8 305.5h4.7v4.7h-4.7zM235.0 305.5h4.7v4.7h-4.7zM-169.2 310.2h4.7v4.7h-4.7zM-159.8 310.2h4.7v4.7h-4.7zM-126.9 310.2h4.7v4.7h-4.7zM-112.8 310.2h4.7v4.7h-4.7zM-103.4 310.2h4.7v4.7h-4.7zM-4.7 310.2h4.7v4.7h-4.7zM98.7 310.2h4.7v4.7h-4.7zM136.3 310.2h4.7v4.7h-4.7zM192.7 310.2h4.7v4.7h-4.7zM235.0 310.2h4.7v4.7h-4.7zM-65.8 314.9h4.7v4.7h-4.7zM37.6 314.9h4.7v4.7h-4.7zM47.0 314.9h4.7v4.7h-4.7zM220.9 314.9h4.7v4.7h-4.7zM267.9 314.9h4.7v4.7h-4.7zM-225.6 319.6h4.7v4.7h-4.7zM-178.6 319.6h4.7v4.7h-4.7zM75.2 319.6h4.7v4.7h-4.7zM141.0 319.6h4.7v4.7h-4.7zM267.9 319.6h4.7v4.7h-4.7zM-112.8 324.3h4.7v4.7h-4.7zM-14.1 324.3h4.7v4.7h-4.7zM206.8 324.3h4.7v4.7h-4.7zM272.6 324.3h4.7v4.7h-4.7zM84.6 329.0h4.7v4.7h-4.7zM98.7 329.0h4.7v4.7h-4.7zM108.1 329.0h4.7v4.7h-4.7zM230.3 329.0h4.7v4.7h-4.7zM314.9 329.0h4.7v4.7h-4.7zM338.4 329.0h4.7v4.7h-4.7zM-164.5 333.7h4.7v4.7h-4.7zM-145.7 333.7h4.7v4.7h-4.7zM-75.2 333.7h4.7v4.7h-4.7zM37.6 333.7h9.4v4.7h-9.4zM126.9 333.7h4.7v4.7h-4.7zM216.2 333.7h4.7v4.7h-4.7zM253.8 333.7h4.7v4.7h-4.7zM319.6 333.7h4.7v4.7h-4.7zM-155.1 338.4h4.7v4.7h-4.7zM-32.9 338.4h4.7v4.7h-4.7zM70.5 338.4h4.7v4.7h-4.7zM131.6 338.4h4.7v4.7h-4.7zM155.1 338.4h4.7v4.7h-4.7zM183.3 338.4h4.7v4.7h-4.7zM263.2 338.4h4.7v4.7h-4.7zM277.3 338.4h9.4v4.7h-9.4zM-61.1 343.1h4.7v4.7h-4.7zM-51.7 343.1h4.7v4.7h-4.7zM112.8 343.1h4.7v4.7h-4.7zM155.1 343.1h4.7v4.7h-4.7zM202.1 343.1h4.7v4.7h-4.7zM220.9 343.1h4.7v4.7h-4.7zM230.3 343.1h9.4v4.7h-9.4zM291.4 343.1h4.7v4.7h-4.7zM-216.2 347.8h4.7v4.7h-4.7zM-183.3 347.8h4.7v4.7h-4.7zM-173.9 347.8h4.7v4.7h-4.7zM-47.0 347.8h4.7v4.7h-4.7zM65.8 347.8h4.7v4.7h-4.7zM108.1 347.8h4.7v4.7h-4.7zM225.6 347.8h4.7v4.7h-4.7zM258.5 347.8h4.7v4.7h-4.7zM272.6 347.8h9.4v4.7h-9.4zM296.1 347.8h9.4v4.7h-9.4zM343.1 347.8h4.7v4.7h-4.7zM-197.4 352.5h4.7v4.7h-4.7zM-23.5 352.5h4.7v4.7h-4.7zM32.9 352.5h4.7v4.7h-4.7zM61.1 352.5h4.7v4.7h-4.7zM300.8 352.5h4.7v4.7h-4.7zM314.9 352.5h4.7v4.7h-4.7zM324.3 352.5h4.7v4.7h-4.7zM333.7 352.5h4.7v4.7h-4.7zM-197.4 357.2h4.7v4.7h-4.7zM-150.4 357.2h4.7v4.7h-4.7zM-47.0 357.2h4.7v4.7h-4.7zM-28.2 357.2h4.7v4.7h-4.7zM202.1 357.2h4.7v4.7h-4.7zM-178.6 361.9h4.7v4.7h-4.7zM-164.5 361.9h4.7v4.7h-4.7zM-136.3 361.9h4.7v4.7h-4.7zM-103.4 361.9h4.7v4.7h-4.7zM-94.0 361.9h4.7v4.7h-4.7zM211.5 361.9h4.7v4.7h-4.7zM277.3 361.9h4.7v4.7h-4.7zM310.2 361.9h4.7v4.7h-4.7zM-79.9 366.6h4.7v4.7h-4.7zM-37.6 366.6h4.7v4.7h-4.7zM244.4 366.6h4.7v4.7h-4.7zM-230.3 371.3h4.7v4.7h-4.7zM-206.8 371.3h4.7v4.7h-4.7zM-188.0 371.3h4.7v4.7h-4.7zM-141.0 371.3h4.7v4.7h-4.7zM-122.2 371.3h4.7v4.7h-4.7zM-108.1 371.3h4.7v4.7h-4.7zM-75.2 371.3h4.7v4.7h-4.7zM-230.3 376.0h4.7v4.7h-4.7zM-145.7 376.0h9.4v4.7h-9.4zM89.3 376.0h4.7v4.7h-4.7zM122.2 376.0h4.7v4.7h-4.7zM216.2 376.0h4.7v4.7h-4.7zM-192.7 380.7h4.7v4.7h-4.7zM-150.4 380.7h4.7v4.7h-4.7zM-122.2 380.7h4.7v4.7h-4.7zM-23.5 380.7h4.7v4.7h-4.7zM0.0 380.7h4.7v4.7h-4.7zM314.9 380.7h4.7v4.7h-4.7zM-192.7 385.4h4.7v4.7h-4.7zM-164.5 385.4h4.7v4.7h-4.7zM-150.4 385.4h4.7v4.7h-4.7zM32.9 385.4h4.7v4.7h-4.7zM-230.3 390.1h4.7v4.7h-4.7zM-192.7 390.1h4.7v4.7h-4.7zM-155.1 390.1h4.7v4.7h-4.7zM-136.3 390.1h4.7v4.7h-4.7zM42.3 390.1h4.7v4.7h-4.7zM178.6 390.1h4.7v4.7h-4.7zM244.4 390.1h4.7v4.7h-4.7zM-235.0 394.8h9.4v4.7h-9.4zM-183.3 394.8h4.7v4.7h-4.7zM-70.5 394.8h4.7v4.7h-4.7zM-47.0 394.8h4.7v4.7h-4.7zM-28.2 394.8h4.7v4.7h-4.7zM51.7 394.8h9.4v4.7h-9.4zM126.9 394.8h4.7v4.7h-4.7zM136.3 394.8h4.7v4.7h-4.7zM145.7 394.8h9.4v4.7h-9.4zM249.1 394.8h4.7v4.7h-4.7zM-267.9 399.5h4.7v4.7h-4.7zM-206.8 399.5h4.7v4.7h-4.7zM-126.9 399.5h4.7v4.7h-4.7zM-98.7 399.5h4.7v4.7h-4.7zM-4.7 399.5h4.7v4.7h-4.7zM56.4 399.5h4.7v4.7h-4.7zM84.6 399.5h4.7v4.7h-4.7zM178.6 399.5h4.7v4.7h-4.7zM253.8 399.5h4.7v4.7h-4.7zM-239.7 404.2h4.7v4.7h-4.7zM-197.4 404.2h4.7v4.7h-4.7zM-4.7 404.2h4.7v4.7h-4.7zM37.6 404.2h4.7v4.7h-4.7zM51.7 404.2h4.7v4.7h-4.7zM70.5 404.2h4.7v4.7h-4.7zM159.8 404.2h4.7v4.7h-4.7zM206.8 404.2h4.7v4.7h-4.7zM-277.3 408.9h4.7v4.7h-4.7zM-159.8 408.9h4.7v4.7h-4.7zM-79.9 408.9h4.7v4.7h-4.7zM89.3 408.9h4.7v4.7h-4.7zM103.4 408.9h4.7v4.7h-4.7zM-230.3 413.6h4.7v4.7h-4.7zM-220.9 413.6h9.4v4.7h-9.4zM-206.8 413.6h4.7v4.7h-4.7zM-131.6 413.6h4.7v4.7h-4.7zM47.0 413.6h4.7v4.7h-4.7zM159.8 413.6h4.7v4.7h-4.7zM188.0 413.6h4.7v4.7h-4.7zM286.7 413.6h4.7v4.7h-4.7zM-286.7 418.3h4.7v4.7h-4.7zM-235.0 418.3h9.4v4.7h-9.4zM-211.5 418.3h4.7v4.7h-4.7zM-4.7 418.3h4.7v4.7h-4.7zM61.1 418.3h9.4v4.7h-9.4zM-286.7 423.0h4.7v4.7h-4.7zM-267.9 423.0h4.7v4.7h-4.7zM-108.1 423.0h4.7v4.7h-4.7zM-61.1 423.0h4.7v4.7h-4.7zM-37.6 423.0h4.7v4.7h-4.7zM103.4 423.0h4.7v4.7h-4.7zM164.5 423.0h4.7v4.7h-4.7zM239.7 423.0h4.7v4.7h-4.7zM-300.8 427.7h4.7v4.7h-4.7zM-84.6 427.7h4.7v4.7h-4.7zM32.9 427.7h4.7v4.7h-4.7zM70.5 427.7h4.7v4.7h-4.7zM141.0 427.7h4.7v4.7h-4.7zM150.4 427.7h4.7v4.7h-4.7zM159.8 427.7h4.7v4.7h-4.7zM239.7 427.7h9.4v4.7h-9.4zM-291.4 432.4h4.7v4.7h-4.7zM-183.3 432.4h4.7v4.7h-4.7zM-141.0 432.4h4.7v4.7h-4.7zM-131.6 432.4h4.7v4.7h-4.7zM47.0 432.4h4.7v4.7h-4.7zM277.3 432.4h4.7v4.7h-4.7zM-136.3 437.1h4.7v4.7h-4.7zM-23.5 437.1h4.7v4.7h-4.7zM65.8 437.1h4.7v4.7h-4.7zM159.8 437.1h4.7v4.7h-4.7zM188.0 437.1h4.7v4.7h-4.7zM216.2 437.1h4.7v4.7h-4.7zM239.7 437.1h4.7v4.7h-4.7zM249.1 437.1h4.7v4.7h-4.7zM-286.7 441.8h4.7v4.7h-4.7zM-267.9 441.8h4.7v4.7h-4.7zM-202.1 441.8h4.7v4.7h-4.7zM-122.2 441.8h4.7v4.7h-4.7zM28.2 441.8h4.7v4.7h-4.7zM220.9 441.8h4.7v4.7h-4.7zM249.1 441.8h4.7v4.7h-4.7zM263.2 441.8h4.7v4.7h-4.7zM-300.8 446.5h4.7v4.7h-4.7zM-230.3 446.5h4.7v4.7h-4.7zM-206.8 446.5h4.7v4.7h-4.7zM32.9 446.5h4.7v4.7h-4.7zM150.4 446.5h4.7v4.7h-4.7zM159.8 446.5h4.7v4.7h-4.7zM202.1 446.5h4.7v4.7h-4.7zM244.4 446.5h4.7v4.7h-4.7zM-305.5 451.2h14.1v4.7h-14.1zM-272.6 451.2h4.7v4.7h-4.7zM-235.0 451.2h4.7v4.7h-4.7zM-206.8 451.2h9.4v4.7h-9.4zM-145.7 451.2h4.7v4.7h-4.7zM-37.6 451.2h4.7v4.7h-4.7zM-18.8 451.2h4.7v4.7h-4.7zM94.0 451.2h4.7v4.7h-4.7zM108.1 451.2h4.7v4.7h-4.7zM239.7 451.2h4.7v4.7h-4.7zM-192.7 455.9h4.7v4.7h-4.7zM-178.6 455.9h4.7v4.7h-4.7zM-117.5 455.9h4.7v4.7h-4.7zM-61.1 455.9h4.7v4.7h-4.7zM-14.1 455.9h4.7v4.7h-4.7zM14.1 455.9h4.7v4.7h-4.7zM42.3 455.9h4.7v4.7h-4.7zM56.4 455.9h4.7v4.7h-4.7zM122.2 455.9h4.7v4.7h-4.7zM183.3 455.9h9.4v4.7h-9.4zM211.5 455.9h4.7v4.7h-4.7zM235.0 455.9h4.7v4.7h-4.7zM-282.0 460.6h4.7v4.7h-4.7zM-249.1 460.6h4.7v4.7h-4.7zM-220.9 460.6h4.7v4.7h-4.7zM-211.5 460.6h4.7v4.7h-4.7zM-202.1 460.6h4.7v4.7h-4.7zM-98.7 460.6h4.7v4.7h-4.7zM28.2 460.6h4.7v4.7h-4.7zM56.4 460.6h4.7v4.7h-4.7zM-258.5 465.3h4.7v4.7h-4.7zM-244.4 465.3h4.7v4.7h-4.7zM-206.8 465.3h4.7v4.7h-4.7zM-178.6 465.3h4.7v4.7h-4.7zM-70.5 465.3h4.7v4.7h-4.7zM14.1 465.3h4.7v4.7h-4.7zM28.2 465.3h4.7v4.7h-4.7zM47.0 465.3h4.7v4.7h-4.7zM150.4 465.3h4.7v4.7h-4.7zM183.3 465.3h4.7v4.7h-4.7zM239.7 465.3h9.4v4.7h-9.4zM-230.3 470.0h4.7v4.7h-4.7zM-188.0 470.0h4.7v4.7h-4.7zM-61.1 470.0h9.4v4.7h-9.4zM-4.7 470.0h9.4v4.7h-9.4zM18.8 470.0h9.4v4.7h-9.4zM244.4 470.0h4.7v4.7h-4.7zM-145.7 474.7h4.7v4.7h-4.7zM28.2 474.7h4.7v4.7h-4.7zM220.9 474.7h4.7v4.7h-4.7zM230.3 474.7h4.7v4.7h-4.7zM-178.6 479.4h4.7v4.7h-4.7zM-70.5 479.4h4.7v4.7h-4.7zM89.3 479.4h4.7v4.7h-4.7zM-244.4 484.1h9.4v4.7h-9.4zM-145.7 484.1h4.7v4.7h-4.7zM-14.1 484.1h4.7v4.7h-4.7zM61.1 484.1h4.7v4.7h-4.7zM141.0 484.1h4.7v4.7h-4.7zM-197.4 488.8h4.7v4.7h-4.7zM23.5 488.8h4.7v4.7h-4.7zM122.2 488.8h4.7v4.7h-4.7zM141.0 488.8h4.7v4.7h-4.7zM-141.0 493.5h4.7v4.7h-4.7zM-126.9 493.5h4.7v4.7h-4.7zM-14.1 493.5h4.7v4.7h-4.7zM0.0 493.5h4.7v4.7h-4.7zM65.8 493.5h4.7v4.7h-4.7zM188.0 493.5h4.7v4.7h-4.7zM230.3 493.5h4.7v4.7h-4.7zM-117.5 498.2h4.7v4.7h-4.7zM-47.0 498.2h4.7v4.7h-4.7zM192.7 498.2h4.7v4.7h-4.7zM4.7 502.9h4.7v4.7h-4.7zM28.2 502.9h4.7v4.7h-4.7zM42.3 502.9h4.7v4.7h-4.7zM145.7 502.9h4.7v4.7h-4.7zM225.6 502.9h4.7v4.7h-4.7zM-235.0 507.6h4.7v4.7h-4.7zM0.0 507.6h4.7v4.7h-4.7zM42.3 507.6h4.7v4.7h-4.7zM126.9 507.6h4.7v4.7h-4.7zM-192.7 512.3h4.7v4.7h-4.7zM51.7 512.3h4.7v4.7h-4.7zM98.7 512.3h4.7v4.7h-4.7zM117.5 512.3h4.7v4.7h-4.7zM173.9 512.3h4.7v4.7h-4.7zM197.4 512.3h4.7v4.7h-4.7zM-206.8 517.0h4.7v4.7h-4.7zM-23.5 517.0h4.7v4.7h-4.7zM202.1 517.0h9.4v4.7h-9.4zM-117.5 521.7h4.7v4.7h-4.7zM47.0 521.7h4.7v4.7h-4.7zM155.1 521.7h4.7v4.7h-4.7zM-169.2 526.4h9.4v4.7h-9.4zM-42.3 526.4h4.7v4.7h-4.7zM0.0 526.4h4.7v4.7h-4.7zM-23.5 531.1h4.7v4.7h-4.7zM28.2 531.1h4.7v4.7h-4.7zM42.3 531.1h4.7v4.7h-4.7zM51.7 531.1h4.7v4.7h-4.7zM94.0 531.1h4.7v4.7h-4.7zM-145.7 535.8h4.7v4.7h-4.7zM9.4 535.8h4.7v4.7h-4.7zM108.1 535.8h9.4v4.7h-9.4zM122.2 535.8h4.7v4.7h-4.7zM169.2 535.8h4.7v4.7h-4.7zM-117.5 540.5h4.7v4.7h-4.7zM-79.9 540.5h4.7v4.7h-4.7zM14.1 540.5h4.7v4.7h-4.7zM61.1 540.5h4.7v4.7h-4.7zM70.5 540.5h4.7v4.7h-4.7zM-169.2 545.2h4.7v4.7h-4.7zM-28.2 545.2h4.7v4.7h-4.7zM79.9 545.2h4.7v4.7h-4.7zM-136.3 549.9h4.7v4.7h-4.7zM-98.7 549.9h4.7v4.7h-4.7zM-79.9 549.9h4.7v4.7h-4.7zM-18.8 549.9h4.7v4.7h-4.7zM-9.4 549.9h4.7v4.7h-4.7zM75.2 549.9h4.7v4.7h-4.7zM192.7 549.9h4.7v4.7h-4.7zM-159.8 554.6h4.7v4.7h-4.7zM-70.5 554.6h4.7v4.7h-4.7zM89.3 554.6h9.4v4.7h-9.4zM103.4 554.6h4.7v4.7h-4.7zM136.3 554.6h4.7v4.7h-4.7zM164.5 554.6h4.7v4.7h-4.7zM-131.6 559.3h4.7v4.7h-4.7zM145.7 559.3h4.7v4.7h-4.7zM-159.8 564.0h4.7v4.7h-4.7zM-103.4 564.0h4.7v4.7h-4.7zM-56.4 564.0h4.7v4.7h-4.7zM-32.9 564.0h4.7v4.7h-4.7zM9.4 564.0h4.7v4.7h-4.7zM108.1 564.0h4.7v4.7h-4.7zM117.5 564.0h4.7v4.7h-4.7zM-126.9 568.7h4.7v4.7h-4.7zM-56.4 568.7h4.7v4.7h-4.7zM70.5 568.7h4.7v4.7h-4.7zM112.8 568.7h4.7v4.7h-4.7zM126.9 568.7h4.7v4.7h-4.7zM-141.0 573.4h4.7v4.7h-4.7zM18.8 573.4h4.7v4.7h-4.7zM98.7 573.4h4.7v4.7h-4.7zM131.6 573.4h4.7v4.7h-4.7zM51.7 578.1h4.7v4.7h-4.7zM141.0 578.1h4.7v4.7h-4.7zM-32.9 582.8h4.7v4.7h-4.7zM98.7 582.8h4.7v4.7h-4.7zM-98.7 587.5h4.7v4.7h-4.7zM-61.1 587.5h4.7v4.7h-4.7zM-14.1 587.5h4.7v4.7h-4.7zM28.2 587.5h4.7v4.7h-4.7zM47.0 587.5h4.7v4.7h-4.7zM-56.4 596.9h4.7v4.7h-4.7zM-28.2 596.9h4.7v4.7h-4.7zM-9.4 596.9h4.7v4.7h-4.7zM18.8 596.9h4.7v4.7h-4.7zM37.6 596.9h4.7v4.7h-4.7zM136.3 596.9h4.7v4.7h-4.7z" fill="#fff" opacity="0.45"/>
</g></g>
<ellipse cx="78.8" cy="531.3" rx="5" ry="3" transform="rotate(-20 78.8 531.3)" fill="#9adcb0" stroke="#000" stroke-width="1.0"/>
<ellipse cx="95.9" cy="520.3" rx="2.2" ry="2.8" transform="rotate(10 95.9 520.3)" fill="#88c0ff" stroke="#000" stroke-width="1.0"/>
<ellipse cx="104.2" cy="535.5" rx="4.3" ry="2.8" transform="rotate(20 104.2 535.5)" fill="#4888ff" stroke="#000" stroke-width="1.0"/>
<ellipse cx="113.8" cy="536.9" rx="3.8" ry="1.5" transform="rotate(-10 113.8 536.9)" fill="#80dc80" stroke="#000" stroke-width="1.0"/>
<ellipse cx="141.1" cy="521.3" rx="4.4" ry="2.4" transform="rotate(-15 141.1 521.3)" fill="#a0c8ff" stroke="#000" stroke-width="1.0"/>
<ellipse cx="168.9" cy="531.3" rx="5.6" ry="7" transform="rotate(-15 168.9 531.3)" fill="#80dc80" stroke="#000" stroke-width="1.1"/>
<ellipse cx="186.8" cy="527.6" rx="3.5" ry="3.8" transform="rotate(20 186.8 527.6)" fill="#80dc80" stroke="#000" stroke-width="1.0"/>
<ellipse cx="210.4" cy="514.0" rx="3.2" ry="3" transform="rotate(0 210.4 514.0)" fill="#80dc80" stroke="#000" stroke-width="1.0"/>
<ellipse cx="232.1" cy="498.8" rx="3.4" ry="2.4" transform="rotate(20 232.1 498.8)" fill="#80dc80" stroke="#000" stroke-width="1.0"/>
<ellipse cx="163.0" cy="546.0" rx="2.2" ry="3" transform="rotate(30 163.0 546.0)" fill="#58a0ff" stroke="#000" stroke-width="1.0"/>
<path d="M22.1 515.4h2.2v2.2h-2.2zM198.8 534.9h2.2v2.2h-2.2zM210.6 521.4h2.2v2.2h-2.2zM91.6 500.5h2.2v2.2h-2.2z" fill="#000"/>
<path d="M83.9 516.4h1.6v1.6h-1.6zM89.0 529.6h1.6v1.6h-1.6zM127.4 530.8h1.6v1.6h-1.6zM151.7 522.5h1.6v1.6h-1.6z" fill="#60d060"/>
<path d="M278.3 256.4h2.4v2.4h-2.4zM146.2 316.7h2.4v2.4h-2.4zM312.2 490.9h2.4v2.4h-2.4z" fill="#000"/>
<path d="M92.4 500.5h1.6v1.6h-1.6zM145.8 316.6h1.6v1.6h-1.6z" fill="#50c850"/>
</g>
<line x1="51.50" y1="41" x2="51.50" y2="548.5" class="g"/>
<line x1="130.50" y1="41" x2="130.50" y2="548.5" class="g"/>
<line x1="209.50" y1="41" x2="209.50" y2="548.5" class="g"/>
<line x1="287.50" y1="41" x2="287.50" y2="548.5" class="g"/>
<line x1="366.50" y1="41" x2="366.50" y2="548.5" class="g"/>
<line x1="445.50" y1="41" x2="445.50" y2="548.5" class="g"/>
<line x1="13" y1="91.85" x2="487" y2="91.85" class="g"/>
<line x1="13" y1="176.85" x2="487" y2="176.85" class="g"/>
<line x1="13" y1="261.85" x2="487" y2="261.85" class="g"/>
<line x1="13" y1="345.85" x2="487" y2="345.85" class="g"/>
<line x1="13" y1="430.85" x2="487" y2="430.85" class="g"/>
<line x1="13" y1="514.85" x2="487" y2="514.85" class="g"/>
<polyline points="12.6,477.9 59.5,442.4 96.7,413 134,384.2 171.3,356 199.7,334.3 246.3,299.6 303.8,257.2 360.6,215.7 418.2,175.1 476.6,134.9" class="sw"/>
<polyline points="71.3,548.4 127.2,504.5 154.9,483.6 192.2,454.2 239.5,418.2 286.9,383.4 343.7,341.1 400.4,299.6 458,258.9 477.5,245.7" class="sw"/>
<text x="51.3" y="283.3" class="gl" text-anchor="middle">-50</text>
<text x="130.3" y="283.3" class="gl" text-anchor="middle">-48</text>
<text x="209" y="283.3" class="gl" text-anchor="middle">-46</text>
<text x="287.7" y="283.3" class="gl" text-anchor="middle">-44</text>
<text x="366.6" y="283.3" class="gl" text-anchor="middle">-42</text>
<text x="445.5" y="283.3" class="gl" text-anchor="middle">-40</text>
<text x="268.3" y="91.7" class="gl" text-anchor="middle">18</text>
<text x="268.3" y="176.2" class="gl" text-anchor="middle">16</text>
<text x="268.3" y="260.8" class="gl" text-anchor="middle">14</text>
<text x="268.3" y="345.3" class="gl" text-anchor="middle">12</text>
<text x="268.3" y="429.9" class="gl" text-anchor="middle">10</text>
<text x="268.3" y="514.4" class="gl" text-anchor="middle">8</text>
<path d="M242.9 294.5H255.9M249.4 288V301" stroke="#000" stroke-width="5.2" fill="none"/>
<text x="43.6" y="65.9" class="tt">85GHz PCT (K)</text>
<text x="437.9" y="523.0" class="pl">(d)</text>
<rect x="495.2" y="531.57" width="8.8" height="8.76" fill="#f8f8f8"/>
<rect x="495.2" y="523.11" width="8.8" height="8.76" fill="#f1f1f1"/>
<rect x="495.2" y="514.65" width="8.8" height="8.76" fill="#eaeaea"/>
<rect x="495.2" y="506.18" width="8.8" height="8.76" fill="#e3e3e3"/>
<rect x="495.2" y="497.72" width="8.8" height="8.76" fill="#dcdcdc"/>
<rect x="495.2" y="489.26" width="8.8" height="8.76" fill="#d4d4d4"/>
<rect x="495.2" y="480.79" width="8.8" height="8.76" fill="#cdcdcd"/>
<rect x="495.2" y="472.33" width="8.8" height="8.76" fill="#c6c6c6"/>
<rect x="495.2" y="463.87" width="8.8" height="8.76" fill="#bfbfbe"/>
<rect x="495.2" y="455.40" width="8.8" height="8.76" fill="#b8b8b7"/>
<rect x="495.2" y="446.94" width="8.8" height="8.76" fill="#b1b1b0"/>
<rect x="495.2" y="438.48" width="8.8" height="8.76" fill="#aaaaa9"/>
<rect x="495.2" y="430.01" width="8.8" height="8.76" fill="#a3a3a2"/>
<rect x="495.2" y="421.55" width="8.8" height="8.76" fill="#9c9c9b"/>
<rect x="495.2" y="413.09" width="8.8" height="8.76" fill="#88e888"/>
<rect x="495.2" y="404.62" width="8.8" height="8.76" fill="#80dc80"/>
<rect x="495.2" y="396.16" width="8.8" height="8.76" fill="#78d478"/>
<rect x="495.2" y="387.70" width="8.8" height="8.76" fill="#70c870"/>
<rect x="495.2" y="379.23" width="8.8" height="8.76" fill="#68c068"/>
<rect x="495.2" y="370.77" width="8.8" height="8.76" fill="#d0d8ff"/>
<rect x="495.2" y="362.31" width="8.8" height="8.76" fill="#b8d0ff"/>
<rect x="495.2" y="353.84" width="8.8" height="8.76" fill="#a0c8ff"/>
<rect x="495.2" y="345.38" width="8.8" height="8.76" fill="#88c0ff"/>
<rect x="495.2" y="336.92" width="8.8" height="8.76" fill="#70b8ff"/>
<rect x="495.2" y="328.45" width="8.8" height="8.76" fill="#58b0ff"/>
<rect x="495.2" y="319.99" width="8.8" height="8.76" fill="#4888ff"/>
<rect x="495.2" y="311.53" width="8.8" height="8.76" fill="#4070ff"/>
<rect x="495.2" y="303.06" width="8.8" height="8.76" fill="#3850ff"/>
<rect x="495.2" y="294.60" width="8.8" height="8.76" fill="#3030ff"/>
<rect x="495.2" y="286.14" width="8.8" height="8.76" fill="#0000ff"/>
<rect x="495.2" y="277.67" width="8.8" height="8.76" fill="#0000f0"/>
<rect x="495.2" y="269.21" width="8.8" height="8.76" fill="#0000e0"/>
<rect x="495.2" y="260.75" width="8.8" height="8.76" fill="#0000d4"/>
<rect x="495.2" y="252.28" width="8.8" height="8.76" fill="#0000c8"/>
<rect x="495.2" y="243.82" width="8.8" height="8.76" fill="#ffff00"/>
<rect x="495.2" y="235.36" width="8.8" height="8.76" fill="#fff000"/>
<rect x="495.2" y="226.89" width="8.8" height="8.76" fill="#ffe800"/>
<rect x="495.2" y="218.43" width="8.8" height="8.76" fill="#ffdc00"/>
<rect x="495.2" y="209.97" width="8.8" height="8.76" fill="#ffd000"/>
<rect x="495.2" y="201.50" width="8.8" height="8.76" fill="#ff9000"/>
<rect x="495.2" y="193.04" width="8.8" height="8.76" fill="#ff8800"/>
<rect x="495.2" y="184.58" width="8.8" height="8.76" fill="#ff8000"/>
<rect x="495.2" y="176.11" width="8.8" height="8.76" fill="#ff7800"/>
<rect x="495.2" y="167.65" width="8.8" height="8.76" fill="#ff7000"/>
<rect x="495.2" y="159.19" width="8.8" height="8.76" fill="#ff4800"/>
<rect x="495.2" y="150.72" width="8.8" height="8.76" fill="#ff3c00"/>
<rect x="495.2" y="142.26" width="8.8" height="8.76" fill="#ff3000"/>
<rect x="495.2" y="133.80" width="8.8" height="8.76" fill="#ff2000"/>
<rect x="495.2" y="125.33" width="8.8" height="8.76" fill="#ff1400"/>
<rect x="495.2" y="116.87" width="8.8" height="8.76" fill="#cc0000"/>
<rect x="495.2" y="108.41" width="8.8" height="8.76" fill="#c40000"/>
<rect x="495.2" y="99.94" width="8.8" height="8.76" fill="#b80000"/>
<rect x="495.2" y="91.48" width="8.8" height="8.76" fill="#b00400"/>
<rect x="495.2" y="83.02" width="8.8" height="8.76" fill="#a40c00"/>
<rect x="495.2" y="74.55" width="8.8" height="8.76" fill="#680c04"/>
<rect x="495.2" y="66.09" width="8.8" height="8.76" fill="#641008"/>
<rect x="495.2" y="57.63" width="8.8" height="8.76" fill="#5c140c"/>
<rect x="495.2" y="49.16" width="8.8" height="8.76" fill="#5a1810"/>
<rect x="495.2" y="40.70" width="8.8" height="8.76" fill="#581814"/>
<line x1="504" y1="548.5" x2="506.6" y2="548.5" class="tk"/>
<text x="524.2" y="557.2" class="cl" text-anchor="middle">300</text>
<line x1="504" y1="497.7" x2="506.6" y2="497.7" class="tk"/>
<text x="524.2" y="506.4" class="cl" text-anchor="middle">279</text>
<line x1="504" y1="446.9" x2="506.6" y2="446.9" class="tk"/>
<text x="524.2" y="455.6" class="cl" text-anchor="middle">258</text>
<line x1="504" y1="396.2" x2="506.6" y2="396.2" class="tk"/>
<text x="524.2" y="404.9" class="cl" text-anchor="middle">237</text>
<line x1="504" y1="345.4" x2="506.6" y2="345.4" class="tk"/>
<text x="524.2" y="354.1" class="cl" text-anchor="middle">216</text>
<line x1="504" y1="294.6" x2="506.6" y2="294.6" class="tk"/>
<text x="524.2" y="303.3" class="cl" text-anchor="middle">195</text>
<line x1="504" y1="243.8" x2="506.6" y2="243.8" class="tk"/>
<text x="524.2" y="252.5" class="cl" text-anchor="middle">174</text>
<line x1="504" y1="193.0" x2="506.6" y2="193.0" class="tk"/>
<text x="524.2" y="201.7" class="cl" text-anchor="middle">153</text>
<line x1="504" y1="142.3" x2="506.6" y2="142.3" class="tk"/>
<text x="524.2" y="151.0" class="cl" text-anchor="middle">132</text>
<line x1="504" y1="91.5" x2="506.6" y2="91.5" class="tk"/>
<text x="524.2" y="100.2" class="cl" text-anchor="middle">111</text>
</g>
<g transform="translate(590.7,590.6)">
<g clip-path="url(#cp)">
<linearGradient id="eg" gradientUnits="userSpaceOnUse" x1="160" y1="180" x2="315.6" y2="388.3"><stop offset="0" stop-color="#70c870"/><stop offset="0.45" stop-color="#7cd67c"/><stop offset="1" stop-color="#88e688"/></linearGradient>
<clipPath id="swe"><polygon points="13.0,333.5 309.7,110.9 407.0,41.0 487.0,41.0 487.0,385.0 267.0,548.5 13.0,548.5"/></clipPath>
<polygon points="13.0,333.5 309.7,110.9 407.0,41.0 487.0,41.0 487.0,385.0 267.0,548.5 13.0,548.5" fill="url(#eg)"/>
<g clip-path="url(#swe)"><g transform="rotate(-36.76)">
<path d="M-155.1 272.6h4.9v4.9h-4.9zM-136.3 272.6h4.9v4.9h-4.9zM4.7 272.6h4.9v4.9h-4.9zM-169.2 277.3h4.9v4.9h-4.9zM-14.1 277.3h4.9v4.9h-4.9zM296.1 277.3h4.9v4.9h-4.9zM-188.0 282.0h4.9v4.9h-4.9zM-145.7 282.0h4.9v4.9h-4.9zM-131.6 282.0h4.9v4.9h-4.9zM-103.4 282.0h4.9v4.9h-4.9zM-61.1 282.0h4.9v4.9h-4.9zM136.3 282.0h4.9v4.9h-4.9zM305.5 282.0h4.9v4.9h-4.9zM-173.9 286.7h4.9v4.9h-4.9zM-159.8 286.7h4.9v4.9h-4.9zM-117.5 286.7h4.9v4.9h-4.9zM-108.1 286.7h9.6v4.9h-9.6zM-61.1 286.7h4.9v4.9h-4.9zM-14.1 286.7h4.9v4.9h-4.9zM188.0 286.7h4.9v4.9h-4.9zM296.1 286.7h4.9v4.9h-4.9zM-155.1 291.4h4.9v4.9h-4.9zM-131.6 291.4h4.9v4.9h-4.9zM-122.2 291.4h4.9v4.9h-4.9zM-112.8 291.4h4.9v4.9h-4.9zM-79.9 291.4h4.9v4.9h-4.9zM-51.7 291.4h4.9v4.9h-4.9zM4.7 291.4h4.9v4.9h-4.9zM112.8 291.4h4.9v4.9h-4.9zM282.0 291.4h4.9v4.9h-4.9zM-188.0 296.1h4.9v4.9h-4.9zM-159.8 296.1h4.9v4.9h-4.9zM-150.4 296.1h4.9v4.9h-4.9zM-112.8 296.1h4.9v4.9h-4.9zM145.7 296.1h4.9v4.9h-4.9zM296.1 296.1h4.9v4.9h-4.9zM324.3 296.1h4.9v4.9h-4.9zM-202.1 300.8h4.9v4.9h-4.9zM-112.8 300.8h4.9v4.9h-4.9zM-84.6 300.8h4.9v4.9h-4.9zM4.7 300.8h4.9v4.9h-4.9zM14.1 300.8h9.6v4.9h-9.6zM98.7 300.8h4.9v4.9h-4.9zM155.1 300.8h4.9v4.9h-4.9zM310.2 300.8h4.9v4.9h-4.9zM324.3 300.8h4.9v4.9h-4.9zM-122.2 305.5h4.9v4.9h-4.9zM-89.3 305.5h4.9v4.9h-4.9zM-32.9 305.5h4.9v4.9h-4.9zM-23.5 305.5h4.9v4.9h-4.9zM117.5 305.5h4.9v4.9h-4.9zM188.0 305.5h4.9v4.9h-4.9zM220.9 305.5h4.9v4.9h-4.9zM244.4 305.5h4.9v4.9h-4.9zM258.5 305.5h4.9v4.9h-4.9zM272.6 305.5h4.9v4.9h-4.9zM296.1 305.5h4.9v4.9h-4.9zM-173.9 310.2h4.9v4.9h-4.9zM-145.7 310.2h4.9v4.9h-4.9zM-9.4 310.2h4.9v4.9h-4.9zM56.4 310.2h4.9v4.9h-4.9zM122.2 310.2h4.9v4.9h-4.9zM272.6 310.2h4.9v4.9h-4.9zM-183.3 314.9h4.9v4.9h-4.9zM-112.8 314.9h4.9v4.9h-4.9zM-94.0 314.9h4.9v4.9h-4.9zM28.2 314.9h4.9v4.9h-4.9zM145.7 314.9h4.9v4.9h-4.9zM169.2 314.9h4.9v4.9h-4.9zM220.9 314.9h4.9v4.9h-4.9zM343.1 314.9h4.9v4.9h-4.9zM-206.8 319.6h4.9v4.9h-4.9zM-164.5 319.6h4.9v4.9h-4.9zM-141.0 319.6h4.9v4.9h-4.9zM-131.6 319.6h4.9v4.9h-4.9zM-122.2 319.6h4.9v4.9h-4.9zM-32.9 319.6h4.9v4.9h-4.9zM56.4 319.6h4.9v4.9h-4.9zM173.9 319.6h4.9v4.9h-4.9zM225.6 319.6h9.6v4.9h-9.6zM253.8 319.6h4.9v4.9h-4.9zM314.9 319.6h4.9v4.9h-4.9zM-225.6 324.3h4.9v4.9h-4.9zM-141.0 324.3h9.6v4.9h-9.6zM42.3 324.3h4.9v4.9h-4.9zM51.7 324.3h4.9v4.9h-4.9zM159.8 324.3h4.9v4.9h-4.9zM169.2 324.3h4.9v4.9h-4.9zM211.5 324.3h4.9v4.9h-4.9zM272.6 324.3h4.9v4.9h-4.9zM-225.6 329.0h4.9v4.9h-4.9zM-145.7 329.0h4.9v4.9h-4.9zM-122.2 329.0h4.9v4.9h-4.9zM-89.3 329.0h9.6v4.9h-9.6zM-70.5 329.0h4.9v4.9h-4.9zM-4.7 329.0h4.9v4.9h-4.9zM23.5 329.0h4.9v4.9h-4.9zM164.5 329.0h14.3v4.9h-14.3zM300.8 329.0h4.9v4.9h-4.9zM310.2 329.0h4.9v4.9h-4.9zM324.3 329.0h4.9v4.9h-4.9zM-235.0 333.7h9.6v4.9h-9.6zM-150.4 333.7h4.9v4.9h-4.9zM-126.9 333.7h4.9v4.9h-4.9zM-9.4 333.7h4.9v4.9h-4.9zM159.8 333.7h4.9v4.9h-4.9zM239.7 333.7h4.9v4.9h-4.9zM272.6 333.7h4.9v4.9h-4.9zM-108.1 338.4h4.9v4.9h-4.9zM-42.3 338.4h4.9v4.9h-4.9zM75.2 338.4h4.9v4.9h-4.9zM112.8 338.4h4.9v4.9h-4.9zM216.2 338.4h9.6v4.9h-9.6zM244.4 338.4h4.9v4.9h-4.9zM296.1 338.4h4.9v4.9h-4.9zM347.8 338.4h4.9v4.9h-4.9zM-206.8 343.1h4.9v4.9h-4.9zM-183.3 343.1h4.9v4.9h-4.9zM-164.5 343.1h4.9v4.9h-4.9zM-155.1 343.1h4.9v4.9h-4.9zM-136.3 343.1h4.9v4.9h-4.9zM-94.0 343.1h4.9v4.9h-4.9zM4.7 343.1h4.9v4.9h-4.9zM112.8 343.1h4.9v4.9h-4.9zM136.3 343.1h4.9v4.9h-4.9zM159.8 343.1h4.9v4.9h-4.9zM202.1 343.1h4.9v4.9h-4.9zM216.2 343.1h4.9v4.9h-4.9zM244.4 343.1h4.9v4.9h-4.9zM296.1 343.1h4.9v4.9h-4.9zM314.9 343.1h4.9v4.9h-4.9zM338.4 343.1h4.9v4.9h-4.9zM-211.5 347.8h4.9v4.9h-4.9zM-188.0 347.8h4.9v4.9h-4.9zM-136.3 347.8h9.6v4.9h-9.6zM-56.4 347.8h4.9v4.9h-4.9zM-47.0 347.8h4.9v4.9h-4.9zM-4.7 347.8h4.9v4.9h-4.9zM202.1 347.8h4.9v4.9h-4.9zM263.2 347.8h4.9v4.9h-4.9zM282.0 347.8h4.9v4.9h-4.9zM310.2 347.8h9.6v4.9h-9.6zM-202.1 352.5h4.9v4.9h-4.9zM-159.8 352.5h9.6v4.9h-9.6zM136.3 352.5h4.9v4.9h-4.9zM169.2 352.5h4.9v4.9h-4.9zM230.3 352.5h4.9v4.9h-4.9zM-192.7 357.2h4.9v4.9h-4.9zM-150.4 357.2h4.9v4.9h-4.9zM94.0 357.2h4.9v4.9h-4.9zM173.9 357.2h4.9v4.9h-4.9zM291.4 357.2h4.9v4.9h-4.9zM314.9 357.2h4.9v4.9h-4.9zM-197.4 361.9h4.9v4.9h-4.9zM-164.5 361.9h4.9v4.9h-4.9zM61.1 361.9h4.9v4.9h-4.9zM122.2 361.9h4.9v4.9h-4.9zM197.4 361.9h4.9v4.9h-4.9zM244.4 361.9h4.9v4.9h-4.9zM324.3 361.9h9.6v4.9h-9.6zM-258.5 366.6h4.9v4.9h-4.9zM-235.0 366.6h4.9v4.9h-4.9zM-192.7 366.6h4.9v4.9h-4.9zM-141.0 366.6h4.9v4.9h-4.9zM65.8 366.6h4.9v4.9h-4.9zM103.4 366.6h4.9v4.9h-4.9zM188.0 366.6h4.9v4.9h-4.9zM-216.2 371.3h4.9v4.9h-4.9zM-192.7 371.3h9.6v4.9h-9.6zM-145.7 371.3h4.9v4.9h-4.9zM-89.3 371.3h4.9v4.9h-4.9zM-42.3 371.3h4.9v4.9h-4.9zM-23.5 371.3h4.9v4.9h-4.9zM56.4 371.3h4.9v4.9h-4.9zM94.0 371.3h4.9v4.9h-4.9zM164.5 371.3h4.9v4.9h-4.9zM178.6 371.3h4.9v4.9h-4.9zM263.2 371.3h4.9v4.9h-4.9zM296.1 371.3h9.6v4.9h-9.6zM-183.3 376.0h4.9v4.9h-4.9zM-173.9 376.0h4.9v4.9h-4.9zM-164.5 376.0h4.9v4.9h-4.9zM-94.0 376.0h4.9v4.9h-4.9zM-37.6 376.0h4.9v4.9h-4.9zM-18.8 376.0h4.9v4.9h-4.9zM-4.7 376.0h4.9v4.9h-4.9zM117.5 376.0h4.9v4.9h-4.9zM164.5 376.0h4.9v4.9h-4.9zM286.7 376.0h9.6v4.9h-9.6zM-206.8 380.7h4.9v4.9h-4.9zM-145.7 380.7h4.9v4.9h-4.9zM-89.3 380.7h4.9v4.9h-4.9zM-32.9 380.7h4.9v4.9h-4.9zM47.0 380.7h4.9v4.9h-4.9zM220.9 380.7h4.9v4.9h-4.9zM282.0 380.7h4.9v4.9h-4.9zM296.1 380.7h4.9v4.9h-4.9zM-188.0 385.4h9.6v4.9h-9.6zM-159.8 385.4h4.9v4.9h-4.9zM-150.4 385.4h4.9v4.9h-4.9zM-94.0 385.4h4.9v4.9h-4.9zM-42.3 385.4h4.9v4.9h-4.9zM70.5 385.4h4.9v4.9h-4.9zM122.2 385.4h4.9v4.9h-4.9zM183.3 385.4h4.9v4.9h-4.9zM192.7 385.4h4.9v4.9h-4.9zM206.8 385.4h4.9v4.9h-4.9zM-192.7 390.1h4.9v4.9h-4.9zM-178.6 390.1h4.9v4.9h-4.9zM89.3 390.1h4.9v4.9h-4.9zM122.2 390.1h9.6v4.9h-9.6zM169.2 390.1h9.6v4.9h-9.6zM244.4 390.1h4.9v4.9h-4.9zM-272.6 394.8h4.9v4.9h-4.9zM-235.0 394.8h4.9v4.9h-4.9zM-122.2 394.8h4.9v4.9h-4.9zM-94.0 394.8h4.9v4.9h-4.9zM-70.5 394.8h9.6v4.9h-9.6zM56.4 394.8h4.9v4.9h-4.9zM103.4 394.8h9.6v4.9h-9.6zM117.5 394.8h4.9v4.9h-4.9zM188.0 394.8h4.9v4.9h-4.9zM206.8 394.8h4.9v4.9h-4.9zM216.2 394.8h4.9v4.9h-4.9zM230.3 394.8h4.9v4.9h-4.9zM-239.7 399.5h4.9v4.9h-4.9zM-173.9 399.5h4.9v4.9h-4.9zM-136.3 399.5h4.9v4.9h-4.9zM-117.5 399.5h4.9v4.9h-4.9zM-61.1 399.5h4.9v4.9h-4.9zM-37.6 399.5h4.9v4.9h-4.9zM-23.5 399.5h4.9v4.9h-4.9zM75.2 399.5h4.9v4.9h-4.9zM98.7 399.5h4.9v4.9h-4.9zM117.5 399.5h9.6v4.9h-9.6zM131.6 399.5h4.9v4.9h-4.9zM197.4 399.5h4.9v4.9h-4.9zM300.8 399.5h4.9v4.9h-4.9zM-202.1 404.2h4.9v4.9h-4.9zM-169.2 404.2h4.9v4.9h-4.9zM-141.0 404.2h4.9v4.9h-4.9zM-4.7 404.2h4.9v4.9h-4.9zM47.0 404.2h4.9v4.9h-4.9zM141.0 404.2h4.9v4.9h-4.9zM197.4 404.2h4.9v4.9h-4.9zM267.9 404.2h4.9v4.9h-4.9zM291.4 404.2h4.9v4.9h-4.9zM-286.7 408.9h4.9v4.9h-4.9zM-272.6 408.9h4.9v4.9h-4.9zM-263.2 408.9h4.9v4.9h-4.9zM-239.7 408.9h4.9v4.9h-4.9zM-220.9 408.9h4.9v4.9h-4.9zM-183.3 408.9h4.9v4.9h-4.9zM-65.8 408.9h9.6v4.9h-9.6zM51.7 408.9h4.9v4.9h-4.9zM164.5 408.9h9.6v4.9h-9.6zM211.5 408.9h4.9v4.9h-4.9zM220.9 408.9h4.9v4.9h-4.9zM-249.1 413.6h4.9v4.9h-4.9zM-131.6 413.6h4.9v4.9h-4.9zM-108.1 413.6h4.9v4.9h-4.9zM-98.7 413.6h4.9v4.9h-4.9zM-84.6 413.6h4.9v4.9h-4.9zM-65.8 413.6h4.9v4.9h-4.9zM-4.7 413.6h4.9v4.9h-4.9zM4.7 413.6h4.9v4.9h-4.9zM47.0 413.6h4.9v4.9h-4.9zM117.5 413.6h4.9v4.9h-4.9zM141.0 413.6h4.9v4.9h-4.9zM211.5 413.6h4.9v4.9h-4.9zM225.6 413.6h4.9v4.9h-4.9zM-253.8 418.3h4.9v4.9h-4.9zM-230.3 418.3h4.9v4.9h-4.9zM-155.1 418.3h4.9v4.9h-4.9zM-136.3 418.3h4.9v4.9h-4.9zM-108.1 418.3h4.9v4.9h-4.9zM-51.7 418.3h4.9v4.9h-4.9zM23.5 418.3h4.9v4.9h-4.9zM75.2 418.3h4.9v4.9h-4.9zM98.7 418.3h4.9v4.9h-4.9zM126.9 418.3h4.9v4.9h-4.9zM141.0 418.3h4.9v4.9h-4.9zM169.2 418.3h4.9v4.9h-4.9zM-267.9 423.0h4.9v4.9h-4.9zM-211.5 423.0h9.6v4.9h-9.6zM-169.2 423.0h4.9v4.9h-4.9zM-141.0 423.0h4.9v4.9h-4.9zM-117.5 423.0h4.9v4.9h-4.9zM9.4 423.0h9.6v4.9h-9.6zM70.5 423.0h9.6v4.9h-9.6zM150.4 423.0h4.9v4.9h-4.9zM178.6 423.0h4.9v4.9h-4.9zM225.6 423.0h4.9v4.9h-4.9zM-305.5 427.7h4.9v4.9h-4.9zM-249.1 427.7h4.9v4.9h-4.9zM-159.8 427.7h4.9v4.9h-4.9zM-141.0 427.7h4.9v4.9h-4.9zM-89.3 427.7h4.9v4.9h-4.9zM42.3 427.7h4.9v4.9h-4.9zM56.4 427.7h4.9v4.9h-4.9zM145.7 427.7h4.9v4.9h-4.9zM159.8 427.7h4.9v4.9h-4.9zM183.3 427.7h4.9v4.9h-4.9zM202.1 427.7h4.9v4.9h-4.9zM253.8 427.7h4.9v4.9h-4.9zM-225.6 432.4h4.9v4.9h-4.9zM-141.0 432.4h4.9v4.9h-4.9zM-9.4 432.4h4.9v4.9h-4.9zM75.2 432.4h4.9v4.9h-4.9zM112.8 432.4h4.9v4.9h-4.9zM141.0 432.4h4.9v4.9h-4.9zM150.4 432.4h9.6v4.9h-9.6zM169.2 432.4h4.9v4.9h-4.9zM272.6 432.4h4.9v4.9h-4.9zM-305.5 437.1h4.9v4.9h-4.9zM-272.6 437.1h4.9v4.9h-4.9zM-258.5 437.1h4.9v4.9h-4.9zM-216.2 437.1h4.9v4.9h-4.9zM-192.7 437.1h4.9v4.9h-4.9zM-159.8 437.1h4.9v4.9h-4.9zM-136.3 437.1h9.6v4.9h-9.6zM-9.4 437.1h4.9v4.9h-4.9zM23.5 437.1h4.9v4.9h-4.9zM89.3 437.1h4.9v4.9h-4.9zM253.8 437.1h4.9v4.9h-4.9zM-173.9 441.8h4.9v4.9h-4.9zM-136.3 441.8h4.9v4.9h-4.9zM-112.8 441.8h4.9v4.9h-4.9zM-94.0 441.8h4.9v4.9h-4.9zM37.6 441.8h4.9v4.9h-4.9zM126.9 441.8h4.9v4.9h-4.9zM244.4 441.8h4.9v4.9h-4.9zM263.2 441.8h4.9v4.9h-4.9zM-267.9 446.5h4.9v4.9h-4.9zM89.3 446.5h4.9v4.9h-4.9zM164.5 446.5h4.9v4.9h-4.9zM183.3 446.5h4.9v4.9h-4.9zM-300.8 451.2h4.9v4.9h-4.9zM-272.6 451.2h4.9v4.9h-4.9zM-197.4 451.2h4.9v4.9h-4.9zM-117.5 451.2h4.9v4.9h-4.9zM18.8 451.2h4.9v4.9h-4.9zM37.6 451.2h9.6v4.9h-9.6zM94.0 451.2h4.9v4.9h-4.9zM136.3 451.2h4.9v4.9h-4.9zM145.7 451.2h4.9v4.9h-4.9zM192.7 451.2h4.9v4.9h-4.9zM263.2 451.2h4.9v4.9h-4.9zM-300.8 455.9h4.9v4.9h-4.9zM-263.2 455.9h4.9v4.9h-4.9zM-235.0 455.9h9.6v4.9h-9.6zM-220.9 455.9h4.9v4.9h-4.9zM-192.7 455.9h4.9v4.9h-4.9zM-4.7 455.9h4.9v4.9h-4.9zM145.7 455.9h4.9v4.9h-4.9zM164.5 455.9h4.9v4.9h-4.9zM197.4 455.9h9.6v4.9h-9.6zM84.6 460.6h4.9v4.9h-4.9zM126.9 460.6h4.9v4.9h-4.9zM136.3 460.6h4.9v4.9h-4.9zM145.7 460.6h4.9v4.9h-4.9zM211.5 460.6h4.9v4.9h-4.9zM235.0 460.6h9.6v4.9h-9.6zM-277.3 465.3h4.9v4.9h-4.9zM-253.8 465.3h4.9v4.9h-4.9zM-220.9 465.3h4.9v4.9h-4.9zM-173.9 465.3h4.9v4.9h-4.9zM-164.5 465.3h4.9v4.9h-4.9zM-18.8 465.3h4.9v4.9h-4.9zM103.4 465.3h4.9v4.9h-4.9zM141.0 465.3h9.6v4.9h-9.6zM249.1 465.3h4.9v4.9h-4.9zM-277.3 470.0h4.9v4.9h-4.9zM-249.1 470.0h14.3v4.9h-14.3zM-164.5 470.0h4.9v4.9h-4.9zM-141.0 470.0h4.9v4.9h-4.9zM18.8 470.0h4.9v4.9h-4.9zM28.2 470.0h4.9v4.9h-4.9zM37.6 470.0h4.9v4.9h-4.9zM65.8 470.0h4.9v4.9h-4.9zM136.3 470.0h4.9v4.9h-4.9zM-272.6 474.7h4.9v4.9h-4.9zM-126.9 474.7h4.9v4.9h-4.9zM-108.1 474.7h4.9v4.9h-4.9zM18.8 474.7h4.9v4.9h-4.9zM42.3 474.7h4.9v4.9h-4.9zM79.9 474.7h4.9v4.9h-4.9zM117.5 474.7h4.9v4.9h-4.9zM220.9 474.7h4.9v4.9h-4.9zM-267.9 479.4h4.9v4.9h-4.9zM-220.9 479.4h4.9v4.9h-4.9zM-211.5 479.4h4.9v4.9h-4.9zM-37.6 479.4h4.9v4.9h-4.9zM150.4 479.4h4.9v4.9h-4.9zM169.2 479.4h4.9v4.9h-4.9zM188.0 479.4h4.9v4.9h-4.9zM216.2 479.4h4.9v4.9h-4.9zM235.0 479.4h4.9v4.9h-4.9zM-159.8 484.1h4.9v4.9h-4.9zM14.1 484.1h4.9v4.9h-4.9zM37.6 484.1h4.9v4.9h-4.9zM65.8 484.1h4.9v4.9h-4.9zM206.8 484.1h9.6v4.9h-9.6zM-216.2 488.8h4.9v4.9h-4.9zM28.2 488.8h4.9v4.9h-4.9zM61.1 488.8h4.9v4.9h-4.9zM108.1 488.8h4.9v4.9h-4.9zM145.7 488.8h4.9v4.9h-4.9zM178.6 488.8h9.6v4.9h-9.6zM-32.9 493.5h4.9v4.9h-4.9zM37.6 493.5h4.9v4.9h-4.9zM94.0 493.5h4.9v4.9h-4.9zM150.4 493.5h4.9v4.9h-4.9zM202.1 493.5h4.9v4.9h-4.9zM-169.2 498.2h4.9v4.9h-4.9zM4.7 498.2h4.9v4.9h-4.9zM18.8 498.2h4.9v4.9h-4.9zM28.2 498.2h4.9v4.9h-4.9zM37.6 498.2h9.6v4.9h-9.6zM117.5 498.2h4.9v4.9h-4.9zM206.8 498.2h9.6v4.9h-9.6zM230.3 498.2h4.9v4.9h-4.9zM-206.8 502.9h4.9v4.9h-4.9zM-108.1 502.9h4.9v4.9h-4.9zM84.6 502.9h4.9v4.9h-4.9zM126.9 502.9h4.9v4.9h-4.9zM136.3 502.9h4.9v4.9h-4.9zM159.8 502.9h4.9v4.9h-4.9zM178.6 502.9h4.9v4.9h-4.9zM-117.5 507.6h4.9v4.9h-4.9zM-4.7 507.6h4.9v4.9h-4.9zM37.6 507.6h4.9v4.9h-4.9zM70.5 507.6h4.9v4.9h-4.9zM173.9 507.6h4.9v4.9h-4.9zM188.0 507.6h4.9v4.9h-4.9zM-197.4 512.3h4.9v4.9h-4.9zM-32.9 512.3h4.9v4.9h-4.9zM0.0 512.3h4.9v4.9h-4.9zM14.1 512.3h4.9v4.9h-4.9zM28.2 512.3h4.9v4.9h-4.9zM108.1 512.3h4.9v4.9h-4.9zM188.0 512.3h4.9v4.9h-4.9zM-155.1 517.0h4.9v4.9h-4.9zM-131.6 517.0h4.9v4.9h-4.9zM-108.1 517.0h4.9v4.9h-4.9zM-14.1 517.0h4.9v4.9h-4.9zM32.9 517.0h4.9v4.9h-4.9zM84.6 517.0h4.9v4.9h-4.9zM112.8 517.0h4.9v4.9h-4.9zM136.3 517.0h4.9v4.9h-4.9zM159.8 517.0h4.9v4.9h-4.9zM173.9 517.0h4.9v4.9h-4.9zM211.5 517.0h4.9v4.9h-4.9zM-216.2 521.7h4.9v4.9h-4.9zM-117.5 521.7h4.9v4.9h-4.9zM-14.1 521.7h4.9v4.9h-4.9zM0.0 521.7h4.9v4.9h-4.9zM122.2 521.7h4.9v4.9h-4.9zM136.3 521.7h4.9v4.9h-4.9zM202.1 521.7h4.9v4.9h-4.9zM-202.1 526.4h4.9v4.9h-4.9zM-159.8 526.4h4.9v4.9h-4.9zM-122.2 526.4h4.9v4.9h-4.9zM-23.5 526.4h4.9v4.9h-4.9zM-14.1 526.4h4.9v4.9h-4.9zM4.7 526.4h4.9v4.9h-4.9zM32.9 526.4h4.9v4.9h-4.9zM89.3 526.4h9.6v4.9h-9.6zM-18.8 531.1h4.9v4.9h-4.9zM-4.7 531.1h9.6v4.9h-9.6zM9.4 531.1h4.9v4.9h-4.9zM164.5 531.1h4.9v4.9h-4.9zM-173.9 535.8h4.9v4.9h-4.9zM-136.3 535.8h14.3v4.9h-14.3zM-65.8 535.8h4.9v4.9h-4.9zM-47.0 535.8h4.9v4.9h-4.9zM-4.7 535.8h4.9v4.9h-4.9zM4.7 535.8h9.6v4.9h-9.6zM32.9 535.8h4.9v4.9h-4.9zM65.8 535.8h4.9v4.9h-4.9zM89.3 535.8h4.9v4.9h-4.9zM112.8 535.8h4.9v4.9h-4.9zM126.9 535.8h4.9v4.9h-4.9zM145.7 535.8h4.9v4.9h-4.9zM155.1 535.8h4.9v4.9h-4.9zM164.5 535.8h4.9v4.9h-4.9zM192.7 535.8h4.9v4.9h-4.9zM-4.7 540.5h4.9v4.9h-4.9zM14.1 540.5h4.9v4.9h-4.9zM32.9 540.5h4.9v4.9h-4.9zM70.5 540.5h4.9v4.9h-4.9zM155.1 540.5h4.9v4.9h-4.9zM169.2 540.5h4.9v4.9h-4.9zM183.3 540.5h4.9v4.9h-4.9zM-145.7 545.2h4.9v4.9h-4.9zM-131.6 545.2h4.9v4.9h-4.9zM-51.7 545.2h4.9v4.9h-4.9zM-28.2 545.2h4.9v4.9h-4.9zM70.5 545.2h4.9v4.9h-4.9zM178.6 545.2h4.9v4.9h-4.9zM-159.8 549.9h4.9v4.9h-4.9zM-32.9 549.9h4.9v4.9h-4.9zM117.5 549.9h4.9v4.9h-4.9zM150.4 549.9h4.9v4.9h-4.9zM169.2 549.9h4.9v4.9h-4.9zM188.0 549.9h4.9v4.9h-4.9zM-79.9 554.6h4.9v4.9h-4.9zM-70.5 554.6h4.9v4.9h-4.9zM-32.9 554.6h9.6v4.9h-9.6zM47.0 554.6h4.9v4.9h-4.9zM79.9 554.6h4.9v4.9h-4.9zM164.5 554.6h4.9v4.9h-4.9zM178.6 554.6h4.9v4.9h-4.9zM-94.0 559.3h4.9v4.9h-4.9zM-23.5 559.3h4.9v4.9h-4.9zM56.4 559.3h4.9v4.9h-4.9zM103.4 559.3h4.9v4.9h-4.9zM37.6 564.0h4.9v4.9h-4.9zM70.5 564.0h4.9v4.9h-4.9zM131.6 564.0h4.9v4.9h-4.9zM169.2 564.0h4.9v4.9h-4.9zM-141.0 568.7h4.9v4.9h-4.9zM-117.5 568.7h4.9v4.9h-4.9zM-98.7 568.7h4.9v4.9h-4.9zM-65.8 568.7h4.9v4.9h-4.9zM65.8 568.7h4.9v4.9h-4.9zM-117.5 573.4h4.9v4.9h-4.9zM-37.6 573.4h4.9v4.9h-4.9zM14.1 573.4h4.9v4.9h-4.9zM-112.8 578.1h4.9v4.9h-4.9zM-75.2 578.1h4.9v4.9h-4.9zM-61.1 578.1h4.9v4.9h-4.9zM-18.8 578.1h4.9v4.9h-4.9zM23.5 582.8h4.9v4.9h-4.9zM-117.5 587.5h4.9v4.9h-4.9zM-89.3 587.5h4.9v4.9h-4.9zM-98.7 592.2h4.9v4.9h-4.9zM-32.9 592.2h4.9v4.9h-4.9zM70.5 596.9h4.9v4.9h-4.9zM94.0 596.9h4.9v4.9h-4.9z" fill="#000" opacity="0.045"/>
<path d="M-103.4 272.6h4.9v4.9h-4.9zM-51.7 272.6h4.9v4.9h-4.9zM-23.5 272.6h4.9v4.9h-4.9zM65.8 272.6h4.9v4.9h-4.9zM173.9 272.6h4.9v4.9h-4.9zM-79.9 277.3h4.9v4.9h-4.9zM-51.7 277.3h4.9v4.9h-4.9zM112.8 277.3h4.9v4.9h-4.9zM136.3 277.3h4.9v4.9h-4.9zM263.2 277.3h4.9v4.9h-4.9zM-112.8 282.0h4.9v4.9h-4.9zM-84.6 282.0h4.9v4.9h-4.9zM-51.7 282.0h4.9v4.9h-4.9zM-14.1 282.0h4.9v4.9h-4.9zM75.2 282.0h4.9v4.9h-4.9zM159.8 282.0h4.9v4.9h-4.9zM-150.4 286.7h4.9v4.9h-4.9zM89.3 286.7h4.9v4.9h-4.9zM131.6 286.7h4.9v4.9h-4.9zM310.2 286.7h4.9v4.9h-4.9zM-141.0 291.4h9.6v4.9h-9.6zM-75.2 291.4h4.9v4.9h-4.9zM-65.8 291.4h4.9v4.9h-4.9zM-37.6 291.4h4.9v4.9h-4.9zM0.0 291.4h4.9v4.9h-4.9zM61.1 291.4h4.9v4.9h-4.9zM131.6 291.4h4.9v4.9h-4.9zM-117.5 296.1h4.9v4.9h-4.9zM-51.7 296.1h4.9v4.9h-4.9zM-42.3 296.1h4.9v4.9h-4.9zM-32.9 296.1h4.9v4.9h-4.9zM-14.1 296.1h4.9v4.9h-4.9zM9.4 296.1h9.6v4.9h-9.6zM32.9 296.1h4.9v4.9h-4.9zM56.4 296.1h4.9v4.9h-4.9zM192.7 296.1h4.9v4.9h-4.9zM-211.5 300.8h4.9v4.9h-4.9zM-192.7 300.8h4.9v4.9h-4.9zM-173.9 300.8h4.9v4.9h-4.9zM159.8 300.8h4.9v4.9h-4.9zM220.9 300.8h4.9v4.9h-4.9zM239.7 300.8h4.9v4.9h-4.9zM-145.7 305.5h4.9v4.9h-4.9zM-131.6 305.5h4.9v4.9h-4.9zM-70.5 305.5h4.9v4.9h-4.9zM-51.7 305.5h4.9v4.9h-4.9zM28.2 305.5h4.9v4.9h-4.9zM75.2 305.5h4.9v4.9h-4.9zM216.2 305.5h4.9v4.9h-4.9zM305.5 305.5h9.6v4.9h-9.6zM-164.5 310.2h4.9v4.9h-4.9zM-94.0 310.2h9.6v4.9h-9.6zM51.7 310.2h4.9v4.9h-4.9zM230.3 310.2h4.9v4.9h-4.9zM319.6 310.2h14.3v4.9h-14.3zM-136.3 314.9h4.9v4.9h-4.9zM-122.2 314.9h4.9v4.9h-4.9zM-75.2 314.9h4.9v4.9h-4.9zM-65.8 314.9h4.9v4.9h-4.9zM-42.3 314.9h4.9v4.9h-4.9zM-18.8 314.9h4.9v4.9h-4.9zM117.5 314.9h4.9v4.9h-4.9zM216.2 314.9h4.9v4.9h-4.9zM253.8 314.9h4.9v4.9h-4.9zM329.0 314.9h4.9v4.9h-4.9zM338.4 314.9h4.9v4.9h-4.9zM-94.0 319.6h4.9v4.9h-4.9zM-9.4 319.6h4.9v4.9h-4.9zM32.9 319.6h9.6v4.9h-9.6zM51.7 319.6h4.9v4.9h-4.9zM84.6 319.6h4.9v4.9h-4.9zM117.5 319.6h4.9v4.9h-4.9zM206.8 319.6h4.9v4.9h-4.9zM347.8 319.6h4.9v4.9h-4.9zM-211.5 324.3h4.9v4.9h-4.9zM-98.7 324.3h4.9v4.9h-4.9zM-42.3 324.3h4.9v4.9h-4.9zM9.4 324.3h4.9v4.9h-4.9zM37.6 324.3h4.9v4.9h-4.9zM94.0 324.3h4.9v4.9h-4.9zM117.5 324.3h4.9v4.9h-4.9zM164.5 324.3h4.9v4.9h-4.9zM220.9 324.3h18.9v4.9h-18.9zM-159.8 329.0h4.9v4.9h-4.9zM-136.3 329.0h9.6v4.9h-9.6zM42.3 329.0h4.9v4.9h-4.9zM197.4 329.0h4.9v4.9h-4.9zM220.9 329.0h4.9v4.9h-4.9zM249.1 329.0h4.9v4.9h-4.9zM277.3 329.0h4.9v4.9h-4.9zM-225.6 333.7h4.9v4.9h-4.9zM-211.5 333.7h4.9v4.9h-4.9zM-197.4 333.7h4.9v4.9h-4.9zM-183.3 333.7h9.6v4.9h-9.6zM-131.6 333.7h4.9v4.9h-4.9zM155.1 333.7h4.9v4.9h-4.9zM220.9 333.7h4.9v4.9h-4.9zM305.5 333.7h4.9v4.9h-4.9zM-230.3 338.4h4.9v4.9h-4.9zM-188.0 338.4h4.9v4.9h-4.9zM-94.0 338.4h4.9v4.9h-4.9zM-47.0 338.4h4.9v4.9h-4.9zM-14.1 338.4h4.9v4.9h-4.9zM9.4 338.4h4.9v4.9h-4.9zM61.1 338.4h4.9v4.9h-4.9zM79.9 338.4h4.9v4.9h-4.9zM235.0 338.4h4.9v4.9h-4.9zM258.5 338.4h9.6v4.9h-9.6zM282.0 338.4h4.9v4.9h-4.9zM319.6 338.4h4.9v4.9h-4.9zM-188.0 343.1h4.9v4.9h-4.9zM-131.6 343.1h4.9v4.9h-4.9zM-122.2 343.1h9.6v4.9h-9.6zM-65.8 343.1h4.9v4.9h-4.9zM-42.3 343.1h4.9v4.9h-4.9zM14.1 343.1h4.9v4.9h-4.9zM220.9 343.1h4.9v4.9h-4.9zM230.3 343.1h4.9v4.9h-4.9zM258.5 343.1h4.9v4.9h-4.9zM267.9 343.1h4.9v4.9h-4.9zM319.6 343.1h4.9v4.9h-4.9zM-239.7 347.8h4.9v4.9h-4.9zM-230.3 347.8h4.9v4.9h-4.9zM-197.4 347.8h4.9v4.9h-4.9zM-126.9 347.8h4.9v4.9h-4.9zM-51.7 347.8h4.9v4.9h-4.9zM-32.9 347.8h4.9v4.9h-4.9zM197.4 347.8h4.9v4.9h-4.9zM206.8 347.8h4.9v4.9h-4.9zM291.4 347.8h4.9v4.9h-4.9zM343.1 347.8h4.9v4.9h-4.9zM-216.2 352.5h4.9v4.9h-4.9zM-178.6 352.5h4.9v4.9h-4.9zM-94.0 352.5h4.9v4.9h-4.9zM-47.0 352.5h14.3v4.9h-14.3zM9.4 352.5h9.6v4.9h-9.6zM28.2 352.5h4.9v4.9h-4.9zM75.2 352.5h4.9v4.9h-4.9zM126.9 352.5h4.9v4.9h-4.9zM202.1 352.5h4.9v4.9h-4.9zM286.7 352.5h4.9v4.9h-4.9zM-183.3 357.2h4.9v4.9h-4.9zM-164.5 357.2h4.9v4.9h-4.9zM-155.1 357.2h4.9v4.9h-4.9zM-117.5 357.2h4.9v4.9h-4.9zM-94.0 357.2h4.9v4.9h-4.9zM-56.4 357.2h4.9v4.9h-4.9zM155.1 357.2h9.6v4.9h-9.6zM206.8 357.2h4.9v4.9h-4.9zM319.6 357.2h9.6v4.9h-9.6zM-206.8 361.9h9.6v4.9h-9.6zM-188.0 361.9h4.9v4.9h-4.9zM-145.7 361.9h9.6v4.9h-9.6zM-131.6 361.9h4.9v4.9h-4.9zM-61.1 361.9h4.9v4.9h-4.9zM-42.3 361.9h4.9v4.9h-4.9zM42.3 361.9h4.9v4.9h-4.9zM136.3 361.9h4.9v4.9h-4.9zM155.1 361.9h4.9v4.9h-4.9zM169.2 361.9h9.6v4.9h-9.6zM267.9 361.9h4.9v4.9h-4.9zM282.0 361.9h9.6v4.9h-9.6zM305.5 361.9h4.9v4.9h-4.9zM314.9 361.9h4.9v4.9h-4.9zM-206.8 366.6h9.6v4.9h-9.6zM-4.7 366.6h4.9v4.9h-4.9zM47.0 366.6h4.9v4.9h-4.9zM112.8 366.6h4.9v4.9h-4.9zM169.2 366.6h4.9v4.9h-4.9zM235.0 366.6h4.9v4.9h-4.9zM18.8 371.3h4.9v4.9h-4.9zM108.1 371.3h4.9v4.9h-4.9zM197.4 371.3h4.9v4.9h-4.9zM244.4 371.3h4.9v4.9h-4.9zM291.4 371.3h4.9v4.9h-4.9zM-178.6 376.0h4.9v4.9h-4.9zM-126.9 376.0h4.9v4.9h-4.9zM-84.6 376.0h4.9v4.9h-4.9zM-32.9 376.0h4.9v4.9h-4.9zM-14.1 376.0h4.9v4.9h-4.9zM75.2 376.0h4.9v4.9h-4.9zM89.3 376.0h4.9v4.9h-4.9zM159.8 376.0h4.9v4.9h-4.9zM178.6 376.0h4.9v4.9h-4.9zM216.2 376.0h4.9v4.9h-4.9zM244.4 376.0h4.9v4.9h-4.9zM258.5 376.0h4.9v4.9h-4.9zM-216.2 380.7h4.9v4.9h-4.9zM-98.7 380.7h4.9v4.9h-4.9zM-65.8 380.7h4.9v4.9h-4.9zM-51.7 380.7h4.9v4.9h-4.9zM0.0 380.7h4.9v4.9h-4.9zM37.6 380.7h4.9v4.9h-4.9zM112.8 380.7h4.9v4.9h-4.9zM164.5 380.7h4.9v4.9h-4.9zM263.2 380.7h4.9v4.9h-4.9zM-32.9 385.4h9.6v4.9h-9.6zM65.8 385.4h4.9v4.9h-4.9zM126.9 385.4h4.9v4.9h-4.9zM216.2 385.4h4.9v4.9h-4.9zM225.6 385.4h4.9v4.9h-4.9zM235.0 385.4h4.9v4.9h-4.9zM277.3 385.4h4.9v4.9h-4.9zM314.9 385.4h4.9v4.9h-4.9zM-141.0 390.1h4.9v4.9h-4.9zM-131.6 390.1h4.9v4.9h-4.9zM-61.1 390.1h9.6v4.9h-9.6zM65.8 390.1h4.9v4.9h-4.9zM141.0 390.1h4.9v4.9h-4.9zM155.1 390.1h4.9v4.9h-4.9zM178.6 390.1h9.6v4.9h-9.6zM192.7 390.1h4.9v4.9h-4.9zM206.8 390.1h9.6v4.9h-9.6zM277.3 390.1h4.9v4.9h-4.9zM-225.6 394.8h4.9v4.9h-4.9zM-155.1 394.8h4.9v4.9h-4.9zM-136.3 394.8h4.9v4.9h-4.9zM-14.1 394.8h4.9v4.9h-4.9zM-4.7 394.8h4.9v4.9h-4.9zM42.3 394.8h4.9v4.9h-4.9zM169.2 394.8h4.9v4.9h-4.9zM192.7 394.8h4.9v4.9h-4.9zM235.0 394.8h4.9v4.9h-4.9zM-164.5 399.5h4.9v4.9h-4.9zM-84.6 399.5h4.9v4.9h-4.9zM-65.8 399.5h4.9v4.9h-4.9zM-18.8 399.5h4.9v4.9h-4.9zM108.1 399.5h4.9v4.9h-4.9zM173.9 399.5h4.9v4.9h-4.9zM244.4 399.5h4.9v4.9h-4.9zM272.6 399.5h9.6v4.9h-9.6zM-206.8 404.2h4.9v4.9h-4.9zM-188.0 404.2h4.9v4.9h-4.9zM-108.1 404.2h4.9v4.9h-4.9zM-56.4 404.2h4.9v4.9h-4.9zM79.9 404.2h4.9v4.9h-4.9zM131.6 404.2h4.9v4.9h-4.9zM150.4 404.2h4.9v4.9h-4.9zM253.8 404.2h4.9v4.9h-4.9zM263.2 404.2h4.9v4.9h-4.9zM-253.8 408.9h4.9v4.9h-4.9zM-230.3 408.9h4.9v4.9h-4.9zM-136.3 408.9h4.9v4.9h-4.9zM-51.7 408.9h4.9v4.9h-4.9zM117.5 408.9h4.9v4.9h-4.9zM145.7 408.9h4.9v4.9h-4.9zM202.1 408.9h4.9v4.9h-4.9zM216.2 408.9h4.9v4.9h-4.9zM225.6 408.9h4.9v4.9h-4.9zM-296.1 413.6h4.9v4.9h-4.9zM-216.2 413.6h4.9v4.9h-4.9zM-202.1 413.6h9.6v4.9h-9.6zM-145.7 413.6h4.9v4.9h-4.9zM-103.4 413.6h4.9v4.9h-4.9zM122.2 413.6h4.9v4.9h-4.9zM216.2 413.6h9.6v4.9h-9.6zM239.7 413.6h4.9v4.9h-4.9zM249.1 413.6h4.9v4.9h-4.9zM-103.4 418.3h4.9v4.9h-4.9zM51.7 418.3h4.9v4.9h-4.9zM103.4 418.3h4.9v4.9h-4.9zM145.7 418.3h4.9v4.9h-4.9zM230.3 418.3h4.9v4.9h-4.9zM272.6 418.3h4.9v4.9h-4.9zM-286.7 423.0h9.6v4.9h-9.6zM-216.2 423.0h4.9v4.9h-4.9zM-202.1 423.0h4.9v4.9h-4.9zM-145.7 423.0h4.9v4.9h-4.9zM-65.8 423.0h4.9v4.9h-4.9zM-42.3 423.0h4.9v4.9h-4.9zM-23.5 423.0h4.9v4.9h-4.9zM37.6 423.0h4.9v4.9h-4.9zM183.3 423.0h4.9v4.9h-4.9zM235.0 423.0h4.9v4.9h-4.9zM258.5 423.0h4.9v4.9h-4.9zM-253.8 427.7h4.9v4.9h-4.9zM-169.2 427.7h4.9v4.9h-4.9zM-150.4 427.7h4.9v4.9h-4.9zM-136.3 427.7h4.9v4.9h-4.9zM-126.9 427.7h4.9v4.9h-4.9zM-37.6 427.7h4.9v4.9h-4.9zM14.1 427.7h4.9v4.9h-4.9zM136.3 427.7h4.9v4.9h-4.9zM258.5 427.7h4.9v4.9h-4.9zM282.0 427.7h4.9v4.9h-4.9zM103.4 432.4h4.9v4.9h-4.9zM-188.0 437.1h4.9v4.9h-4.9zM-155.1 437.1h14.3v4.9h-14.3zM-4.7 437.1h4.9v4.9h-4.9zM42.3 437.1h4.9v4.9h-4.9zM131.6 437.1h4.9v4.9h-4.9zM239.7 437.1h4.9v4.9h-4.9zM-291.4 441.8h4.9v4.9h-4.9zM-272.6 441.8h4.9v4.9h-4.9zM-244.4 441.8h4.9v4.9h-4.9zM-169.2 441.8h9.6v4.9h-9.6zM4.7 441.8h4.9v4.9h-4.9zM75.2 441.8h4.9v4.9h-4.9zM84.6 441.8h4.9v4.9h-4.9zM272.6 441.8h4.9v4.9h-4.9zM-225.6 446.5h4.9v4.9h-4.9zM-136.3 446.5h4.9v4.9h-4.9zM84.6 446.5h4.9v4.9h-4.9zM141.0 446.5h4.9v4.9h-4.9zM202.1 446.5h4.9v4.9h-4.9zM-286.7 451.2h4.9v4.9h-4.9zM-183.3 451.2h4.9v4.9h-4.9zM-98.7 451.2h4.9v4.9h-4.9zM9.4 451.2h4.9v4.9h-4.9zM173.9 451.2h4.9v4.9h-4.9zM230.3 451.2h4.9v4.9h-4.9zM-277.3 455.9h4.9v4.9h-4.9zM-258.5 455.9h4.9v4.9h-4.9zM-117.5 455.9h4.9v4.9h-4.9zM75.2 455.9h4.9v4.9h-4.9zM103.4 455.9h4.9v4.9h-4.9zM-131.6 460.6h4.9v4.9h-4.9zM32.9 460.6h4.9v4.9h-4.9zM-272.6 465.3h9.6v4.9h-9.6zM-112.8 465.3h4.9v4.9h-4.9zM-23.5 465.3h4.9v4.9h-4.9zM51.7 465.3h4.9v4.9h-4.9zM65.8 465.3h9.6v4.9h-9.6zM136.3 465.3h4.9v4.9h-4.9zM-216.2 470.0h4.9v4.9h-4.9zM-131.6 470.0h4.9v4.9h-4.9zM-14.1 470.0h4.9v4.9h-4.9zM56.4 470.0h4.9v4.9h-4.9zM89.3 470.0h4.9v4.9h-4.9zM131.6 470.0h4.9v4.9h-4.9zM206.8 470.0h4.9v4.9h-4.9zM220.9 470.0h4.9v4.9h-4.9zM249.1 470.0h4.9v4.9h-4.9zM-244.4 474.7h4.9v4.9h-4.9zM-202.1 474.7h4.9v4.9h-4.9zM-98.7 474.7h4.9v4.9h-4.9zM51.7 474.7h4.9v4.9h-4.9zM211.5 474.7h4.9v4.9h-4.9zM-272.6 479.4h4.9v4.9h-4.9zM-253.8 479.4h4.9v4.9h-4.9zM-28.2 479.4h4.9v4.9h-4.9zM28.2 479.4h4.9v4.9h-4.9zM65.8 479.4h4.9v4.9h-4.9zM145.7 479.4h4.9v4.9h-4.9zM159.8 479.4h4.9v4.9h-4.9zM244.4 479.4h4.9v4.9h-4.9zM-192.7 484.1h4.9v4.9h-4.9zM108.1 484.1h4.9v4.9h-4.9zM150.4 484.1h4.9v4.9h-4.9zM178.6 484.1h9.6v4.9h-9.6zM47.0 488.8h4.9v4.9h-4.9zM56.4 488.8h4.9v4.9h-4.9zM122.2 488.8h4.9v4.9h-4.9zM131.6 488.8h4.9v4.9h-4.9zM155.1 488.8h4.9v4.9h-4.9zM230.3 488.8h4.9v4.9h-4.9zM-155.1 493.5h4.9v4.9h-4.9zM14.1 493.5h4.9v4.9h-4.9zM23.5 493.5h14.3v4.9h-14.3zM84.6 493.5h4.9v4.9h-4.9zM112.8 493.5h4.9v4.9h-4.9zM141.0 493.5h4.9v4.9h-4.9zM-141.0 498.2h4.9v4.9h-4.9zM9.4 498.2h4.9v4.9h-4.9zM23.5 498.2h4.9v4.9h-4.9zM126.9 498.2h4.9v4.9h-4.9zM173.9 498.2h4.9v4.9h-4.9zM220.9 498.2h4.9v4.9h-4.9zM-112.8 502.9h4.9v4.9h-4.9zM-4.7 502.9h4.9v4.9h-4.9zM117.5 502.9h9.6v4.9h-9.6zM-150.4 507.6h4.9v4.9h-4.9zM-122.2 507.6h4.9v4.9h-4.9zM51.7 507.6h9.6v4.9h-9.6zM65.8 507.6h4.9v4.9h-4.9zM164.5 507.6h4.9v4.9h-4.9zM-220.9 512.3h4.9v4.9h-4.9zM-23.5 512.3h4.9v4.9h-4.9zM23.5 512.3h4.9v4.9h-4.9zM94.0 512.3h4.9v4.9h-4.9zM131.6 512.3h4.9v4.9h-4.9zM150.4 512.3h4.9v4.9h-4.9zM211.5 512.3h4.9v4.9h-4.9zM-89.3 517.0h4.9v4.9h-4.9zM4.7 517.0h4.9v4.9h-4.9zM79.9 517.0h4.9v4.9h-4.9zM108.1 517.0h4.9v4.9h-4.9zM164.5 517.0h4.9v4.9h-4.9zM75.2 521.7h4.9v4.9h-4.9zM98.7 521.7h4.9v4.9h-4.9zM-79.9 526.4h4.9v4.9h-4.9zM28.2 526.4h4.9v4.9h-4.9zM84.6 526.4h4.9v4.9h-4.9zM131.6 526.4h4.9v4.9h-4.9zM-202.1 531.1h4.9v4.9h-4.9zM-65.8 531.1h4.9v4.9h-4.9zM14.1 531.1h4.9v4.9h-4.9zM122.2 531.1h4.9v4.9h-4.9zM178.6 531.1h4.9v4.9h-4.9zM-122.2 535.8h4.9v4.9h-4.9zM-98.7 535.8h4.9v4.9h-4.9zM-89.3 535.8h4.9v4.9h-4.9zM-70.5 535.8h4.9v4.9h-4.9zM23.5 535.8h9.6v4.9h-9.6zM79.9 535.8h4.9v4.9h-4.9zM169.2 535.8h4.9v4.9h-4.9zM-145.7 540.5h4.9v4.9h-4.9zM-70.5 540.5h4.9v4.9h-4.9zM192.7 540.5h4.9v4.9h-4.9zM-164.5 545.2h4.9v4.9h-4.9zM-155.1 545.2h4.9v4.9h-4.9zM-122.2 545.2h4.9v4.9h-4.9zM-47.0 545.2h4.9v4.9h-4.9zM9.4 545.2h4.9v4.9h-4.9zM84.6 545.2h4.9v4.9h-4.9zM126.9 545.2h4.9v4.9h-4.9zM-108.1 549.9h4.9v4.9h-4.9zM-9.4 549.9h4.9v4.9h-4.9zM9.4 549.9h4.9v4.9h-4.9zM75.2 549.9h4.9v4.9h-4.9zM98.7 549.9h4.9v4.9h-4.9zM145.7 549.9h4.9v4.9h-4.9zM-117.5 554.6h4.9v4.9h-4.9zM-108.1 554.6h4.9v4.9h-4.9zM-75.2 554.6h4.9v4.9h-4.9zM37.6 554.6h9.6v4.9h-9.6zM98.7 554.6h4.9v4.9h-4.9zM-159.8 559.3h4.9v4.9h-4.9zM-89.3 559.3h4.9v4.9h-4.9zM-98.7 564.0h4.9v4.9h-4.9zM-56.4 564.0h9.6v4.9h-9.6zM-42.3 564.0h9.6v4.9h-9.6zM-14.1 564.0h4.9v4.9h-4.9zM65.8 564.0h4.9v4.9h-4.9zM112.8 564.0h4.9v4.9h-4.9zM155.1 564.0h4.9v4.9h-4.9zM178.6 564.0h4.9v4.9h-4.9zM-150.4 568.7h4.9v4.9h-4.9zM-23.5 568.7h4.9v4.9h-4.9zM42.3 568.7h4.9v4.9h-4.9zM61.1 568.7h4.9v4.9h-4.9zM131.6 568.7h4.9v4.9h-4.9zM-141.0 573.4h4.9v4.9h-4.9zM-94.0 573.4h4.9v4.9h-4.9zM0.0 573.4h4.9v4.9h-4.9zM42.3 573.4h4.9v4.9h-4.9zM-103.4 578.1h4.9v4.9h-4.9zM-103.4 582.8h4.9v4.9h-4.9zM-75.2 582.8h4.9v4.9h-4.9zM-108.1 587.5h4.9v4.9h-4.9zM-51.7 592.2h4.9v4.9h-4.9zM-28.2 592.2h4.9v4.9h-4.9zM28.2 592.2h4.9v4.9h-4.9zM-37.6 596.9h4.9v4.9h-4.9zM37.6 596.9h4.9v4.9h-4.9zM61.1 596.9h4.9v4.9h-4.9zM112.8 596.9h4.9v4.9h-4.9zM131.6 596.9h4.9v4.9h-4.9z" fill="#fff" opacity="0.07"/>
<path d="M18.8 272.6h9.6v4.9h-9.6zM32.9 272.6h18.9v4.9h-18.9zM56.4 272.6h9.6v4.9h-9.6zM70.5 272.6h4.9v4.9h-4.9zM79.9 272.6h4.9v4.9h-4.9zM89.3 272.6h4.9v4.9h-4.9zM98.7 272.6h4.9v4.9h-4.9zM117.5 272.6h9.6v4.9h-9.6zM136.3 272.6h9.6v4.9h-9.6zM150.4 272.6h4.9v4.9h-4.9zM164.5 272.6h4.9v4.9h-4.9zM178.6 272.6h4.9v4.9h-4.9zM192.7 272.6h9.6v4.9h-9.6zM206.8 272.6h9.6v4.9h-9.6zM-4.7 277.3h4.9v4.9h-4.9zM4.7 277.3h4.9v4.9h-4.9zM14.1 277.3h18.9v4.9h-18.9zM37.6 277.3h9.6v4.9h-9.6zM51.7 277.3h9.6v4.9h-9.6zM65.8 277.3h14.3v4.9h-14.3zM84.6 277.3h23.6v4.9h-23.6zM145.7 277.3h9.6v4.9h-9.6zM159.8 277.3h4.9v4.9h-4.9zM169.2 277.3h23.6v4.9h-23.6zM197.4 277.3h4.9v4.9h-4.9zM220.9 277.3h33.0v4.9h-33.0zM277.3 277.3h9.6v4.9h-9.6zM0.0 282.0h4.9v4.9h-4.9zM23.5 282.0h4.9v4.9h-4.9zM42.3 282.0h14.3v4.9h-14.3zM61.1 282.0h4.9v4.9h-4.9zM70.5 282.0h4.9v4.9h-4.9zM84.6 282.0h9.6v4.9h-9.6zM98.7 282.0h33.0v4.9h-33.0zM150.4 282.0h4.9v4.9h-4.9zM164.5 282.0h23.6v4.9h-23.6zM192.7 282.0h9.6v4.9h-9.6zM216.2 282.0h4.9v4.9h-4.9zM230.3 282.0h4.9v4.9h-4.9zM239.7 282.0h14.3v4.9h-14.3zM258.5 282.0h9.6v4.9h-9.6zM282.0 282.0h4.9v4.9h-4.9zM291.4 282.0h4.9v4.9h-4.9zM300.8 282.0h4.9v4.9h-4.9zM0.0 286.7h9.6v4.9h-9.6zM18.8 286.7h4.9v4.9h-4.9zM28.2 286.7h4.9v4.9h-4.9zM42.3 286.7h4.9v4.9h-4.9zM51.7 286.7h4.9v4.9h-4.9zM61.1 286.7h23.6v4.9h-23.6zM94.0 286.7h4.9v4.9h-4.9zM103.4 286.7h9.6v4.9h-9.6zM126.9 286.7h4.9v4.9h-4.9zM136.3 286.7h18.9v4.9h-18.9zM159.8 286.7h4.9v4.9h-4.9zM169.2 286.7h4.9v4.9h-4.9zM192.7 286.7h4.9v4.9h-4.9zM202.1 286.7h9.6v4.9h-9.6zM230.3 286.7h23.6v4.9h-23.6zM258.5 286.7h23.6v4.9h-23.6zM286.7 286.7h4.9v4.9h-4.9zM-28.2 291.4h4.9v4.9h-4.9zM-4.7 291.4h4.9v4.9h-4.9zM23.5 291.4h4.9v4.9h-4.9zM37.6 291.4h4.9v4.9h-4.9zM47.0 291.4h9.6v4.9h-9.6zM75.2 291.4h33.0v4.9h-33.0zM117.5 291.4h14.3v4.9h-14.3zM145.7 291.4h4.9v4.9h-4.9zM159.8 291.4h9.6v4.9h-9.6zM192.7 291.4h9.6v4.9h-9.6zM211.5 291.4h4.9v4.9h-4.9zM239.7 291.4h9.6v4.9h-9.6zM253.8 291.4h4.9v4.9h-4.9zM263.2 291.4h4.9v4.9h-4.9zM272.6 291.4h9.6v4.9h-9.6zM314.9 291.4h4.9v4.9h-4.9zM-9.4 296.1h18.9v4.9h-18.9zM37.6 296.1h9.6v4.9h-9.6zM51.7 296.1h4.9v4.9h-4.9zM70.5 296.1h4.9v4.9h-4.9zM79.9 296.1h4.9v4.9h-4.9zM98.7 296.1h4.9v4.9h-4.9zM108.1 296.1h4.9v4.9h-4.9zM117.5 296.1h14.3v4.9h-14.3zM136.3 296.1h9.6v4.9h-9.6zM150.4 296.1h4.9v4.9h-4.9zM164.5 296.1h9.6v4.9h-9.6zM202.1 296.1h4.9v4.9h-4.9zM220.9 296.1h4.9v4.9h-4.9zM239.7 296.1h4.9v4.9h-4.9zM277.3 296.1h4.9v4.9h-4.9zM305.5 296.1h4.9v4.9h-4.9zM-4.7 300.8h4.9v4.9h-4.9zM32.9 300.8h37.8v4.9h-37.8zM75.2 300.8h4.9v4.9h-4.9zM108.1 300.8h9.6v4.9h-9.6zM122.2 300.8h4.9v4.9h-4.9zM131.6 300.8h14.3v4.9h-14.3zM150.4 300.8h4.9v4.9h-4.9zM164.5 300.8h9.6v4.9h-9.6zM188.0 300.8h4.9v4.9h-4.9zM216.2 300.8h4.9v4.9h-4.9zM253.8 300.8h4.9v4.9h-4.9zM-4.7 305.5h28.4v4.9h-28.4zM42.3 305.5h4.9v4.9h-4.9zM51.7 305.5h23.6v4.9h-23.6zM89.3 305.5h4.9v4.9h-4.9zM103.4 305.5h4.9v4.9h-4.9zM112.8 305.5h4.9v4.9h-4.9zM126.9 305.5h18.9v4.9h-18.9zM150.4 305.5h9.6v4.9h-9.6zM164.5 305.5h9.6v4.9h-9.6zM183.3 305.5h4.9v4.9h-4.9zM202.1 305.5h4.9v4.9h-4.9zM211.5 305.5h4.9v4.9h-4.9zM0.0 310.2h14.3v4.9h-14.3zM18.8 310.2h4.9v4.9h-4.9zM65.8 310.2h9.6v4.9h-9.6zM84.6 310.2h4.9v4.9h-4.9zM94.0 310.2h9.6v4.9h-9.6zM108.1 310.2h14.3v4.9h-14.3zM141.0 310.2h4.9v4.9h-4.9zM159.8 310.2h9.6v4.9h-9.6zM173.9 310.2h9.6v4.9h-9.6zM188.0 310.2h4.9v4.9h-4.9zM9.4 314.9h14.3v4.9h-14.3zM37.6 314.9h4.9v4.9h-4.9zM56.4 314.9h23.6v4.9h-23.6zM84.6 314.9h14.3v4.9h-14.3zM103.4 314.9h14.3v4.9h-14.3zM131.6 314.9h4.9v4.9h-4.9zM155.1 314.9h14.3v4.9h-14.3zM0.0 319.6h28.4v4.9h-28.4zM47.0 319.6h4.9v4.9h-4.9zM65.8 319.6h14.3v4.9h-14.3zM112.8 319.6h4.9v4.9h-4.9zM126.9 319.6h4.9v4.9h-4.9zM150.4 319.6h4.9v4.9h-4.9zM164.5 319.6h9.6v4.9h-9.6zM178.6 319.6h4.9v4.9h-4.9zM-23.5 324.3h4.9v4.9h-4.9zM-4.7 324.3h14.3v4.9h-14.3zM14.1 324.3h9.6v4.9h-9.6zM28.2 324.3h9.6v4.9h-9.6zM70.5 324.3h14.3v4.9h-14.3zM103.4 324.3h4.9v4.9h-4.9zM112.8 324.3h4.9v4.9h-4.9zM122.2 324.3h9.6v4.9h-9.6zM145.7 324.3h4.9v4.9h-4.9zM178.6 324.3h4.9v4.9h-4.9zM192.7 324.3h4.9v4.9h-4.9zM202.1 324.3h9.6v4.9h-9.6zM-28.2 329.0h4.9v4.9h-4.9zM0.0 329.0h4.9v4.9h-4.9zM9.4 329.0h9.6v4.9h-9.6zM47.0 329.0h9.6v4.9h-9.6zM61.1 329.0h4.9v4.9h-4.9zM75.2 329.0h9.6v4.9h-9.6zM112.8 329.0h14.3v4.9h-14.3zM136.3 329.0h18.9v4.9h-18.9zM206.8 329.0h4.9v4.9h-4.9zM-89.3 333.7h4.9v4.9h-4.9zM-70.5 333.7h4.9v4.9h-4.9zM0.0 333.7h4.9v4.9h-4.9zM9.4 333.7h4.9v4.9h-4.9zM28.2 333.7h4.9v4.9h-4.9zM37.6 333.7h14.3v4.9h-14.3zM61.1 333.7h9.6v4.9h-9.6zM94.0 333.7h4.9v4.9h-4.9zM103.4 333.7h4.9v4.9h-4.9zM117.5 333.7h9.6v4.9h-9.6zM131.6 333.7h4.9v4.9h-4.9zM145.7 333.7h4.9v4.9h-4.9zM206.8 333.7h4.9v4.9h-4.9zM-89.3 338.4h4.9v4.9h-4.9zM-75.2 338.4h4.9v4.9h-4.9zM-23.5 338.4h4.9v4.9h-4.9zM-4.7 338.4h4.9v4.9h-4.9zM23.5 338.4h4.9v4.9h-4.9zM32.9 338.4h9.6v4.9h-9.6zM47.0 338.4h9.6v4.9h-9.6zM84.6 338.4h14.3v4.9h-14.3zM117.5 338.4h9.6v4.9h-9.6zM155.1 338.4h9.6v4.9h-9.6zM-89.3 343.1h4.9v4.9h-4.9zM-32.9 343.1h4.9v4.9h-4.9zM-18.8 343.1h14.3v4.9h-14.3zM28.2 343.1h9.6v4.9h-9.6zM51.7 343.1h9.6v4.9h-9.6zM79.9 343.1h14.3v4.9h-14.3zM103.4 343.1h9.6v4.9h-9.6zM117.5 343.1h4.9v4.9h-4.9zM145.7 343.1h4.9v4.9h-4.9zM-70.5 347.8h4.9v4.9h-4.9zM-28.2 347.8h4.9v4.9h-4.9zM-9.4 347.8h4.9v4.9h-4.9zM0.0 347.8h4.9v4.9h-4.9zM28.2 347.8h4.9v4.9h-4.9zM37.6 347.8h4.9v4.9h-4.9zM61.1 347.8h4.9v4.9h-4.9zM79.9 347.8h9.6v4.9h-9.6zM94.0 347.8h4.9v4.9h-4.9zM103.4 347.8h4.9v4.9h-4.9zM117.5 347.8h4.9v4.9h-4.9zM136.3 347.8h4.9v4.9h-4.9zM173.9 347.8h4.9v4.9h-4.9zM183.3 347.8h4.9v4.9h-4.9zM-239.7 352.5h4.9v4.9h-4.9zM-84.6 352.5h4.9v4.9h-4.9zM-75.2 352.5h4.9v4.9h-4.9zM-32.9 352.5h9.6v4.9h-9.6zM-9.4 352.5h4.9v4.9h-4.9zM37.6 352.5h9.6v4.9h-9.6zM51.7 352.5h4.9v4.9h-4.9zM79.9 352.5h9.6v4.9h-9.6zM112.8 352.5h14.3v4.9h-14.3zM-253.8 357.2h9.6v4.9h-9.6zM-84.6 357.2h4.9v4.9h-4.9zM-70.5 357.2h4.9v4.9h-4.9zM-28.2 357.2h4.9v4.9h-4.9zM-14.1 357.2h14.3v4.9h-14.3zM32.9 357.2h14.3v4.9h-14.3zM84.6 357.2h4.9v4.9h-4.9zM122.2 357.2h4.9v4.9h-4.9zM-249.1 361.9h4.9v4.9h-4.9zM-70.5 361.9h4.9v4.9h-4.9zM-18.8 361.9h14.3v4.9h-14.3zM65.8 361.9h4.9v4.9h-4.9zM94.0 361.9h4.9v4.9h-4.9zM-18.8 366.6h4.9v4.9h-4.9zM28.2 366.6h4.9v4.9h-4.9zM70.5 366.6h9.6v4.9h-9.6zM84.6 366.6h4.9v4.9h-4.9zM-4.7 371.3h4.9v4.9h-4.9zM28.2 371.3h4.9v4.9h-4.9zM65.8 371.3h4.9v4.9h-4.9zM75.2 371.3h4.9v4.9h-4.9zM145.7 371.3h9.6v4.9h-9.6zM65.8 376.0h4.9v4.9h-4.9zM79.9 376.0h4.9v4.9h-4.9zM9.4 380.7h4.9v4.9h-4.9zM23.5 380.7h4.9v4.9h-4.9zM65.8 380.7h4.9v4.9h-4.9zM75.2 380.7h4.9v4.9h-4.9zM9.4 385.4h4.9v4.9h-4.9zM23.5 385.4h9.6v4.9h-9.6zM37.6 385.4h4.9v4.9h-4.9zM56.4 385.4h9.6v4.9h-9.6zM79.9 385.4h4.9v4.9h-4.9zM0.0 390.1h4.9v4.9h-4.9zM9.4 390.1h4.9v4.9h-4.9zM18.8 390.1h28.4v4.9h-28.4zM70.5 390.1h9.6v4.9h-9.6zM0.0 394.8h4.9v4.9h-4.9zM9.4 394.8h28.4v4.9h-28.4zM79.9 394.8h9.6v4.9h-9.6zM18.8 399.5h4.9v4.9h-4.9zM28.2 399.5h9.6v4.9h-9.6zM42.3 399.5h4.9v4.9h-4.9zM51.7 399.5h4.9v4.9h-4.9zM61.1 399.5h4.9v4.9h-4.9zM70.5 399.5h4.9v4.9h-4.9zM79.9 399.5h4.9v4.9h-4.9zM18.8 404.2h23.6v4.9h-23.6zM56.4 404.2h4.9v4.9h-4.9zM70.5 404.2h4.9v4.9h-4.9zM84.6 404.2h4.9v4.9h-4.9zM0.0 408.9h4.9v4.9h-4.9zM14.1 408.9h4.9v4.9h-4.9zM32.9 408.9h9.6v4.9h-9.6zM61.1 408.9h4.9v4.9h-4.9zM84.6 408.9h4.9v4.9h-4.9zM14.1 413.6h4.9v4.9h-4.9zM98.7 413.6h4.9v4.9h-4.9zM61.1 418.3h4.9v4.9h-4.9zM79.9 418.3h9.6v4.9h-9.6zM94.0 418.3h4.9v4.9h-4.9zM51.7 423.0h9.6v4.9h-9.6zM79.9 423.0h9.6v4.9h-9.6zM61.1 427.7h9.6v4.9h-9.6zM84.6 427.7h4.9v4.9h-4.9zM61.1 432.4h4.9v4.9h-4.9zM-239.7 437.1h4.9v4.9h-4.9zM51.7 437.1h4.9v4.9h-4.9zM-310.2 441.8h4.9v4.9h-4.9zM-263.2 441.8h4.9v4.9h-4.9zM-253.8 441.8h9.6v4.9h-9.6zM56.4 441.8h4.9v4.9h-4.9zM65.8 441.8h4.9v4.9h-4.9zM-291.4 446.5h9.6v4.9h-9.6zM-239.7 446.5h4.9v4.9h-4.9zM-230.3 446.5h4.9v4.9h-4.9zM-211.5 446.5h4.9v4.9h-4.9zM65.8 446.5h4.9v4.9h-4.9zM-291.4 451.2h4.9v4.9h-4.9zM-267.9 451.2h4.9v4.9h-4.9zM-258.5 451.2h14.3v4.9h-14.3zM-239.7 451.2h4.9v4.9h-4.9zM-225.6 451.2h4.9v4.9h-4.9zM-216.2 451.2h9.6v4.9h-9.6zM-291.4 455.9h4.9v4.9h-4.9zM-249.1 455.9h4.9v4.9h-4.9zM-263.2 470.0h4.9v4.9h-4.9zM-235.0 470.0h4.9v4.9h-4.9zM-230.3 474.7h4.9v4.9h-4.9zM-263.2 479.4h4.9v4.9h-4.9zM-249.1 479.4h18.9v4.9h-18.9zM-225.6 479.4h4.9v4.9h-4.9zM-253.8 484.1h9.6v4.9h-9.6zM-235.0 484.1h14.3v4.9h-14.3zM-253.8 488.8h9.6v4.9h-9.6zM-230.3 488.8h9.6v4.9h-9.6zM-173.9 488.8h4.9v4.9h-4.9zM-253.8 493.5h4.9v4.9h-4.9zM-225.6 493.5h9.6v4.9h-9.6zM-225.6 498.2h9.6v4.9h-9.6zM-202.1 498.2h4.9v4.9h-4.9zM-192.7 498.2h9.6v4.9h-9.6zM-239.7 502.9h4.9v4.9h-4.9zM-230.3 502.9h9.6v4.9h-9.6zM-202.1 502.9h9.6v4.9h-9.6zM-188.0 502.9h4.9v4.9h-4.9zM-178.6 502.9h4.9v4.9h-4.9zM-164.5 502.9h9.6v4.9h-9.6zM-225.6 507.6h4.9v4.9h-4.9zM-216.2 507.6h9.6v4.9h-9.6zM-202.1 507.6h9.6v4.9h-9.6zM-188.0 507.6h14.3v4.9h-14.3zM-131.6 507.6h4.9v4.9h-4.9zM-216.2 512.3h18.9v4.9h-18.9zM-192.7 512.3h33.0v4.9h-33.0zM-141.0 512.3h14.3v4.9h-14.3zM-216.2 517.0h23.6v4.9h-23.6zM-178.6 517.0h9.6v4.9h-9.6zM-136.3 517.0h4.9v4.9h-4.9zM-206.8 521.7h4.9v4.9h-4.9zM-197.4 521.7h4.9v4.9h-4.9zM-131.6 521.7h4.9v4.9h-4.9zM-206.8 526.4h4.9v4.9h-4.9zM-197.4 526.4h4.9v4.9h-4.9zM-173.9 526.4h4.9v4.9h-4.9zM-136.3 526.4h4.9v4.9h-4.9zM-197.4 531.1h4.9v4.9h-4.9zM-173.9 531.1h14.3v4.9h-14.3zM-141.0 531.1h18.9v4.9h-18.9zM-188.0 535.8h9.6v4.9h-9.6zM-164.5 535.8h9.6v4.9h-9.6zM-188.0 540.5h9.6v4.9h-9.6zM-141.0 540.5h4.9v4.9h-4.9zM-126.9 540.5h4.9v4.9h-4.9zM-117.5 540.5h4.9v4.9h-4.9z" fill="#d0d8ff"/>
<path d="M28.2 272.6h4.9v4.9h-4.9zM75.2 272.6h4.9v4.9h-4.9zM112.8 272.6h4.9v4.9h-4.9zM47.0 277.3h4.9v4.9h-4.9zM117.5 277.3h9.6v4.9h-9.6zM32.9 282.0h4.9v4.9h-4.9zM79.9 282.0h4.9v4.9h-4.9zM145.7 282.0h4.9v4.9h-4.9zM202.1 282.0h4.9v4.9h-4.9zM253.8 282.0h4.9v4.9h-4.9zM-4.7 286.7h4.9v4.9h-4.9zM14.1 286.7h4.9v4.9h-4.9zM178.6 286.7h4.9v4.9h-4.9zM42.3 291.4h4.9v4.9h-4.9zM70.5 291.4h4.9v4.9h-4.9zM108.1 291.4h4.9v4.9h-4.9zM136.3 291.4h4.9v4.9h-4.9zM249.1 291.4h4.9v4.9h-4.9zM258.5 291.4h4.9v4.9h-4.9zM296.1 291.4h4.9v4.9h-4.9zM310.2 291.4h4.9v4.9h-4.9zM319.6 291.4h4.9v4.9h-4.9zM103.4 296.1h4.9v4.9h-4.9zM159.8 296.1h4.9v4.9h-4.9zM206.8 296.1h4.9v4.9h-4.9zM103.4 300.8h4.9v4.9h-4.9zM117.5 300.8h4.9v4.9h-4.9zM145.7 300.8h4.9v4.9h-4.9zM173.9 300.8h4.9v4.9h-4.9zM206.8 300.8h4.9v4.9h-4.9zM267.9 300.8h4.9v4.9h-4.9zM32.9 305.5h4.9v4.9h-4.9zM159.8 305.5h4.9v4.9h-4.9zM145.7 310.2h4.9v4.9h-4.9zM4.7 314.9h4.9v4.9h-4.9zM98.7 314.9h4.9v4.9h-4.9zM136.3 314.9h4.9v4.9h-4.9zM183.3 314.9h4.9v4.9h-4.9zM61.1 319.6h4.9v4.9h-4.9zM136.3 319.6h4.9v4.9h-4.9zM-18.8 324.3h9.6v4.9h-9.6zM155.1 324.3h4.9v4.9h-4.9zM-18.8 329.0h4.9v4.9h-4.9zM37.6 329.0h4.9v4.9h-4.9zM108.1 333.7h9.6v4.9h-9.6zM141.0 333.7h4.9v4.9h-4.9zM56.4 338.4h4.9v4.9h-4.9zM65.8 338.4h4.9v4.9h-4.9zM108.1 338.4h4.9v4.9h-4.9zM-23.5 343.1h4.9v4.9h-4.9zM32.9 347.8h4.9v4.9h-4.9zM-70.5 352.5h4.9v4.9h-4.9zM-244.4 357.2h4.9v4.9h-4.9zM-23.5 357.2h4.9v4.9h-4.9zM108.1 357.2h9.6v4.9h-9.6zM32.9 361.9h4.9v4.9h-4.9zM136.3 376.0h4.9v4.9h-4.9zM32.9 380.7h4.9v4.9h-4.9zM14.1 385.4h4.9v4.9h-4.9zM23.5 399.5h4.9v4.9h-4.9zM51.7 404.2h4.9v4.9h-4.9zM61.1 404.2h4.9v4.9h-4.9zM94.0 408.9h4.9v4.9h-4.9zM0.0 413.6h4.9v4.9h-4.9zM94.0 423.0h4.9v4.9h-4.9zM-300.8 441.8h4.9v4.9h-4.9zM-282.0 446.5h4.9v4.9h-4.9zM70.5 446.5h4.9v4.9h-4.9zM-258.5 488.8h4.9v4.9h-4.9zM-206.8 488.8h4.9v4.9h-4.9zM-188.0 493.5h4.9v4.9h-4.9zM-244.4 498.2h4.9v4.9h-4.9zM-220.9 507.6h4.9v4.9h-4.9zM-192.7 507.6h4.9v4.9h-4.9zM-173.9 507.6h4.9v4.9h-4.9zM-164.5 507.6h4.9v4.9h-4.9zM-173.9 521.7h9.6v4.9h-9.6zM-136.3 521.7h4.9v4.9h-4.9zM-169.2 526.4h4.9v4.9h-4.9zM-192.7 535.8h4.9v4.9h-4.9zM-122.2 540.5h4.9v4.9h-4.9z" fill="#a8ccff"/>
<path d="M-188.0 319.6h4.9v4.9h-4.9zM-197.4 324.3h4.9v4.9h-4.9zM-188.0 324.3h4.9v4.9h-4.9zM-188.0 329.0h4.9v4.9h-4.9zM-192.7 333.7h4.9v4.9h-4.9zM-173.9 361.9h9.6v4.9h-9.6zM-211.5 366.6h4.9v4.9h-4.9zM-239.7 371.3h9.6v4.9h-9.6zM-183.3 371.3h4.9v4.9h-4.9zM-235.0 376.0h4.9v4.9h-4.9zM-206.8 376.0h4.9v4.9h-4.9zM-192.7 376.0h4.9v4.9h-4.9zM-155.1 376.0h23.6v4.9h-23.6zM-122.2 376.0h4.9v4.9h-4.9zM-239.7 380.7h4.9v4.9h-4.9zM-230.3 380.7h4.9v4.9h-4.9zM-164.5 380.7h4.9v4.9h-4.9zM-225.6 385.4h4.9v4.9h-4.9zM-239.7 390.1h4.9v4.9h-4.9zM-164.5 390.1h4.9v4.9h-4.9zM-164.5 394.8h4.9v4.9h-4.9zM-235.0 399.5h4.9v4.9h-4.9zM-216.2 399.5h4.9v4.9h-4.9zM-211.5 404.2h4.9v4.9h-4.9zM-197.4 404.2h4.9v4.9h-4.9zM-183.3 404.2h4.9v4.9h-4.9zM-89.3 404.2h4.9v4.9h-4.9zM-51.7 404.2h4.9v4.9h-4.9zM-197.4 408.9h9.6v4.9h-9.6zM-84.6 408.9h4.9v4.9h-4.9zM-56.4 413.6h4.9v4.9h-4.9zM-89.3 418.3h4.9v4.9h-4.9zM-79.9 418.3h4.9v4.9h-4.9zM-65.8 418.3h4.9v4.9h-4.9zM-47.0 418.3h9.6v4.9h-9.6zM-249.1 423.0h4.9v4.9h-4.9zM-178.6 423.0h4.9v4.9h-4.9zM-164.5 423.0h4.9v4.9h-4.9zM-155.1 423.0h9.6v4.9h-9.6zM-89.3 423.0h9.6v4.9h-9.6zM-61.1 423.0h4.9v4.9h-4.9zM-51.7 423.0h4.9v4.9h-4.9zM-197.4 427.7h4.9v4.9h-4.9zM-183.3 427.7h9.6v4.9h-9.6zM-94.0 427.7h4.9v4.9h-4.9zM-84.6 427.7h9.6v4.9h-9.6zM-216.2 432.4h4.9v4.9h-4.9zM-206.8 432.4h4.9v4.9h-4.9zM-192.7 432.4h4.9v4.9h-4.9zM-131.6 432.4h4.9v4.9h-4.9zM-112.8 432.4h4.9v4.9h-4.9zM-103.4 432.4h4.9v4.9h-4.9zM-79.9 432.4h28.4v4.9h-28.4zM-47.0 432.4h4.9v4.9h-4.9zM-206.8 437.1h4.9v4.9h-4.9zM-117.5 437.1h4.9v4.9h-4.9zM-98.7 437.1h4.9v4.9h-4.9zM-89.3 437.1h9.6v4.9h-9.6zM-70.5 437.1h4.9v4.9h-4.9zM-56.4 437.1h9.6v4.9h-9.6zM-122.2 441.8h9.6v4.9h-9.6zM-98.7 441.8h4.9v4.9h-4.9zM-89.3 441.8h4.9v4.9h-4.9zM-79.9 441.8h9.6v4.9h-9.6zM-65.8 441.8h9.6v4.9h-9.6zM-51.7 441.8h18.9v4.9h-18.9zM-23.5 441.8h4.9v4.9h-4.9zM-206.8 446.5h4.9v4.9h-4.9zM-197.4 446.5h4.9v4.9h-4.9zM-188.0 446.5h9.6v4.9h-9.6zM-169.2 446.5h14.3v4.9h-14.3zM-131.6 446.5h9.6v4.9h-9.6zM-94.0 446.5h4.9v4.9h-4.9zM-84.6 446.5h9.6v4.9h-9.6zM-70.5 446.5h18.9v4.9h-18.9zM-47.0 446.5h14.3v4.9h-14.3zM-192.7 451.2h9.6v4.9h-9.6zM-178.6 451.2h4.9v4.9h-4.9zM-169.2 451.2h28.4v4.9h-28.4zM-112.8 451.2h9.6v4.9h-9.6zM-89.3 451.2h4.9v4.9h-4.9zM-79.9 451.2h18.9v4.9h-18.9zM-56.4 451.2h14.3v4.9h-14.3zM-32.9 451.2h4.9v4.9h-4.9zM-23.5 451.2h4.9v4.9h-4.9zM-216.2 455.9h4.9v4.9h-4.9zM-202.1 455.9h9.6v4.9h-9.6zM-188.0 455.9h4.9v4.9h-4.9zM-173.9 455.9h33.0v4.9h-33.0zM-136.3 455.9h9.6v4.9h-9.6zM-122.2 455.9h4.9v4.9h-4.9zM-103.4 455.9h4.9v4.9h-4.9zM-94.0 455.9h4.9v4.9h-4.9zM-84.6 455.9h9.6v4.9h-9.6zM-70.5 455.9h4.9v4.9h-4.9zM-61.1 455.9h14.3v4.9h-14.3zM-42.3 455.9h18.9v4.9h-18.9zM-18.8 455.9h4.9v4.9h-4.9zM-206.8 460.6h4.9v4.9h-4.9zM-192.7 460.6h14.3v4.9h-14.3zM-164.5 460.6h23.6v4.9h-23.6zM-136.3 460.6h4.9v4.9h-4.9zM-122.2 460.6h4.9v4.9h-4.9zM-112.8 460.6h9.6v4.9h-9.6zM-98.7 460.6h23.6v4.9h-23.6zM-70.5 460.6h9.6v4.9h-9.6zM-56.4 460.6h9.6v4.9h-9.6zM-42.3 460.6h28.4v4.9h-28.4zM-197.4 465.3h9.6v4.9h-9.6zM-183.3 465.3h9.6v4.9h-9.6zM-169.2 465.3h4.9v4.9h-4.9zM-155.1 465.3h4.9v4.9h-4.9zM-145.7 465.3h9.6v4.9h-9.6zM-103.4 465.3h4.9v4.9h-4.9zM-75.2 465.3h4.9v4.9h-4.9zM-65.8 465.3h4.9v4.9h-4.9zM-56.4 465.3h4.9v4.9h-4.9zM-42.3 465.3h4.9v4.9h-4.9zM-32.9 465.3h9.6v4.9h-9.6zM-14.1 465.3h9.6v4.9h-9.6zM-192.7 470.0h9.6v4.9h-9.6zM-178.6 470.0h4.9v4.9h-4.9zM-169.2 470.0h4.9v4.9h-4.9zM-155.1 470.0h9.6v4.9h-9.6zM-112.8 470.0h28.4v4.9h-28.4zM-79.9 470.0h9.6v4.9h-9.6zM-61.1 470.0h14.3v4.9h-14.3zM-42.3 470.0h4.9v4.9h-4.9zM-32.9 470.0h4.9v4.9h-4.9zM-4.7 470.0h9.6v4.9h-9.6zM-178.6 474.7h9.6v4.9h-9.6zM-164.5 474.7h4.9v4.9h-4.9zM-155.1 474.7h14.3v4.9h-14.3zM-136.3 474.7h9.6v4.9h-9.6zM-117.5 474.7h4.9v4.9h-4.9zM-103.4 474.7h4.9v4.9h-4.9zM-94.0 474.7h4.9v4.9h-4.9zM-84.6 474.7h4.9v4.9h-4.9zM-75.2 474.7h9.6v4.9h-9.6zM-56.4 474.7h4.9v4.9h-4.9zM-47.0 474.7h9.6v4.9h-9.6zM-23.5 474.7h4.9v4.9h-4.9zM-9.4 474.7h4.9v4.9h-4.9zM4.7 474.7h4.9v4.9h-4.9zM-192.7 479.4h4.9v4.9h-4.9zM-183.3 479.4h9.6v4.9h-9.6zM-159.8 479.4h4.9v4.9h-4.9zM-150.4 479.4h4.9v4.9h-4.9zM-141.0 479.4h4.9v4.9h-4.9zM-131.6 479.4h18.9v4.9h-18.9zM-108.1 479.4h4.9v4.9h-4.9zM-98.7 479.4h4.9v4.9h-4.9zM-84.6 479.4h14.3v4.9h-14.3zM-65.8 479.4h4.9v4.9h-4.9zM-56.4 479.4h9.6v4.9h-9.6zM-42.3 479.4h4.9v4.9h-4.9zM-23.5 479.4h4.9v4.9h-4.9zM-4.7 479.4h4.9v4.9h-4.9zM-188.0 484.1h18.9v4.9h-18.9zM-150.4 484.1h4.9v4.9h-4.9zM-131.6 484.1h9.6v4.9h-9.6zM-117.5 484.1h4.9v4.9h-4.9zM-108.1 484.1h14.3v4.9h-14.3zM-89.3 484.1h28.4v4.9h-28.4zM-51.7 484.1h9.6v4.9h-9.6zM-23.5 484.1h23.6v4.9h-23.6zM4.7 484.1h4.9v4.9h-4.9zM-192.7 488.8h4.9v4.9h-4.9zM-183.3 488.8h9.6v4.9h-9.6zM-164.5 488.8h4.9v4.9h-4.9zM-126.9 488.8h18.9v4.9h-18.9zM-103.4 488.8h18.9v4.9h-18.9zM-79.9 488.8h42.5v4.9h-42.5zM-32.9 488.8h4.9v4.9h-4.9zM-18.8 488.8h14.3v4.9h-14.3zM0.0 488.8h4.9v4.9h-4.9zM-183.3 493.5h14.3v4.9h-14.3zM-136.3 493.5h4.9v4.9h-4.9zM-126.9 493.5h4.9v4.9h-4.9zM-117.5 493.5h4.9v4.9h-4.9zM-108.1 493.5h28.4v4.9h-28.4zM-75.2 493.5h28.4v4.9h-28.4zM-14.1 493.5h4.9v4.9h-4.9zM0.0 493.5h4.9v4.9h-4.9zM-183.3 498.2h4.9v4.9h-4.9zM-145.7 498.2h4.9v4.9h-4.9zM-136.3 498.2h4.9v4.9h-4.9zM-126.9 498.2h9.6v4.9h-9.6zM-98.7 498.2h14.3v4.9h-14.3zM-79.9 498.2h4.9v4.9h-4.9zM-70.5 498.2h14.3v4.9h-14.3zM-51.7 498.2h18.9v4.9h-18.9zM-23.5 498.2h9.6v4.9h-9.6zM-9.4 498.2h4.9v4.9h-4.9zM0.0 498.2h4.9v4.9h-4.9zM-145.7 502.9h4.9v4.9h-4.9zM-131.6 502.9h4.9v4.9h-4.9zM-117.5 502.9h4.9v4.9h-4.9zM-103.4 502.9h4.9v4.9h-4.9zM-94.0 502.9h4.9v4.9h-4.9zM-84.6 502.9h28.4v4.9h-28.4zM-51.7 502.9h18.9v4.9h-18.9zM-23.5 502.9h9.6v4.9h-9.6zM-9.4 502.9h4.9v4.9h-4.9zM9.4 502.9h4.9v4.9h-4.9zM18.8 502.9h4.9v4.9h-4.9zM-136.3 507.6h4.9v4.9h-4.9zM-126.9 507.6h4.9v4.9h-4.9zM-112.8 507.6h9.6v4.9h-9.6zM-94.0 507.6h23.6v4.9h-23.6zM-65.8 507.6h33.0v4.9h-33.0zM-23.5 507.6h9.6v4.9h-9.6zM18.8 507.6h4.9v4.9h-4.9zM-108.1 512.3h4.9v4.9h-4.9zM-98.7 512.3h18.9v4.9h-18.9zM-75.2 512.3h9.6v4.9h-9.6zM-56.4 512.3h4.9v4.9h-4.9zM-47.0 512.3h14.3v4.9h-14.3zM-18.8 512.3h9.6v4.9h-9.6zM18.8 512.3h4.9v4.9h-4.9zM-98.7 517.0h9.6v4.9h-9.6zM-79.9 517.0h4.9v4.9h-4.9zM-56.4 517.0h9.6v4.9h-9.6zM-37.6 517.0h4.9v4.9h-4.9zM-23.5 517.0h4.9v4.9h-4.9zM0.0 517.0h4.9v4.9h-4.9zM-70.5 521.7h14.3v4.9h-14.3zM-51.7 521.7h9.6v4.9h-9.6zM-28.2 521.7h4.9v4.9h-4.9zM-61.1 526.4h4.9v4.9h-4.9zM-51.7 526.4h4.9v4.9h-4.9zM108.1 526.4h4.9v4.9h-4.9zM183.3 526.4h4.9v4.9h-4.9zM-42.3 531.1h4.9v4.9h-4.9zM-32.9 531.1h4.9v4.9h-4.9zM-51.7 535.8h4.9v4.9h-4.9zM117.5 535.8h4.9v4.9h-4.9zM-47.0 540.5h4.9v4.9h-4.9zM117.5 540.5h4.9v4.9h-4.9zM131.6 540.5h4.9v4.9h-4.9zM112.8 545.2h4.9v4.9h-4.9zM-155.1 554.6h9.6v4.9h-9.6zM-150.4 559.3h23.6v4.9h-23.6zM-51.7 559.3h4.9v4.9h-4.9zM9.4 559.3h9.6v4.9h-9.6zM79.9 559.3h4.9v4.9h-4.9zM89.3 559.3h4.9v4.9h-4.9zM98.7 559.3h4.9v4.9h-4.9zM-159.8 564.0h4.9v4.9h-4.9zM-122.2 564.0h4.9v4.9h-4.9zM-79.9 564.0h4.9v4.9h-4.9zM4.7 564.0h4.9v4.9h-4.9zM18.8 564.0h4.9v4.9h-4.9zM79.9 564.0h4.9v4.9h-4.9zM89.3 564.0h4.9v4.9h-4.9zM98.7 564.0h4.9v4.9h-4.9zM141.0 564.0h9.6v4.9h-9.6zM-112.8 568.7h4.9v4.9h-4.9zM-28.2 568.7h4.9v4.9h-4.9zM18.8 568.7h4.9v4.9h-4.9zM89.3 568.7h9.6v4.9h-9.6zM108.1 568.7h9.6v4.9h-9.6zM-145.7 573.4h4.9v4.9h-4.9zM-136.3 573.4h14.3v4.9h-14.3zM-108.1 573.4h4.9v4.9h-4.9zM-79.9 573.4h4.9v4.9h-4.9zM-65.8 573.4h4.9v4.9h-4.9zM-56.4 573.4h4.9v4.9h-4.9zM4.7 573.4h4.9v4.9h-4.9zM47.0 573.4h9.6v4.9h-9.6zM61.1 573.4h4.9v4.9h-4.9zM75.2 573.4h4.9v4.9h-4.9zM89.3 573.4h14.3v4.9h-14.3zM108.1 573.4h9.6v4.9h-9.6zM131.6 573.4h4.9v4.9h-4.9zM141.0 573.4h9.6v4.9h-9.6zM159.8 573.4h4.9v4.9h-4.9zM-126.9 578.1h4.9v4.9h-4.9zM-89.3 578.1h4.9v4.9h-4.9zM-51.7 578.1h4.9v4.9h-4.9zM-28.2 578.1h4.9v4.9h-4.9zM0.0 578.1h4.9v4.9h-4.9zM9.4 578.1h23.6v4.9h-23.6zM37.6 578.1h9.6v4.9h-9.6zM70.5 578.1h9.6v4.9h-9.6zM94.0 578.1h4.9v4.9h-4.9zM103.4 578.1h28.4v4.9h-28.4zM136.3 578.1h9.6v4.9h-9.6zM155.1 578.1h9.6v4.9h-9.6zM-126.9 582.8h4.9v4.9h-4.9zM-112.8 582.8h9.6v4.9h-9.6zM-79.9 582.8h4.9v4.9h-4.9zM-70.5 582.8h9.6v4.9h-9.6zM-56.4 582.8h4.9v4.9h-4.9zM-47.0 582.8h4.9v4.9h-4.9zM-37.6 582.8h9.6v4.9h-9.6zM-18.8 582.8h4.9v4.9h-4.9zM-9.4 582.8h4.9v4.9h-4.9zM0.0 582.8h23.6v4.9h-23.6zM32.9 582.8h47.1v4.9h-47.1zM84.6 582.8h9.6v4.9h-9.6zM98.7 582.8h9.6v4.9h-9.6zM112.8 582.8h28.4v4.9h-28.4zM145.7 582.8h18.9v4.9h-18.9zM-94.0 587.5h4.9v4.9h-4.9zM-65.8 587.5h4.9v4.9h-4.9zM-56.4 587.5h4.9v4.9h-4.9zM-42.3 587.5h18.9v4.9h-18.9zM-18.8 587.5h4.9v4.9h-4.9zM-9.4 587.5h4.9v4.9h-4.9zM14.1 587.5h9.6v4.9h-9.6zM28.2 587.5h28.4v4.9h-28.4zM61.1 587.5h4.9v4.9h-4.9zM70.5 587.5h23.6v4.9h-23.6zM98.7 587.5h14.3v4.9h-14.3zM117.5 587.5h28.4v4.9h-28.4zM150.4 587.5h14.3v4.9h-14.3zM-70.5 592.2h4.9v4.9h-4.9zM14.1 592.2h9.6v4.9h-9.6zM37.6 592.2h14.3v4.9h-14.3zM61.1 592.2h4.9v4.9h-4.9zM79.9 592.2h9.6v4.9h-9.6zM94.0 592.2h4.9v4.9h-4.9zM112.8 592.2h18.9v4.9h-18.9zM136.3 592.2h4.9v4.9h-4.9zM145.7 592.2h18.9v4.9h-18.9zM28.2 596.9h4.9v4.9h-4.9zM117.5 596.9h9.6v4.9h-9.6zM136.3 596.9h23.6v4.9h-23.6z" fill="#999998"/>
<path d="M-84.6 343.1h4.9v4.9h-4.9zM-75.2 343.1h4.9v4.9h-4.9zM-84.6 347.8h4.9v4.9h-4.9zM-75.2 347.8h4.9v4.9h-4.9zM-23.5 347.8h4.9v4.9h-4.9zM-14.1 347.8h4.9v4.9h-4.9zM-249.1 352.5h9.6v4.9h-9.6zM-79.9 352.5h4.9v4.9h-4.9zM-23.5 352.5h4.9v4.9h-4.9zM-14.1 352.5h4.9v4.9h-4.9zM-18.8 357.2h4.9v4.9h-4.9zM75.2 357.2h9.6v4.9h-9.6zM75.2 361.9h4.9v4.9h-4.9zM79.9 366.6h4.9v4.9h-4.9zM-267.9 437.1h9.6v4.9h-9.6zM-253.8 474.7h4.9v4.9h-4.9zM-244.4 493.5h4.9v4.9h-4.9zM-230.3 493.5h4.9v4.9h-4.9zM-206.8 493.5h4.9v4.9h-4.9zM-211.5 498.2h9.6v4.9h-9.6zM-192.7 517.0h4.9v4.9h-4.9zM-192.7 531.1h4.9v4.9h-4.9zM-178.6 531.1h4.9v4.9h-4.9z" fill="#88c0ff"/>
<path d="M-79.9 343.1h4.9v4.9h-4.9zM-79.9 347.8h4.9v4.9h-4.9zM-18.8 347.8h4.9v4.9h-4.9zM-18.8 352.5h4.9v4.9h-4.9zM79.9 361.9h4.9v4.9h-4.9zM-263.2 474.7h9.6v4.9h-9.6zM-244.4 484.1h9.6v4.9h-9.6zM-235.0 488.8h4.9v4.9h-4.9zM-239.7 493.5h4.9v4.9h-4.9zM-235.0 498.2h4.9v4.9h-4.9zM-188.0 517.0h9.6v4.9h-9.6zM-192.7 521.7h4.9v4.9h-4.9zM-178.6 521.7h4.9v4.9h-4.9zM-192.7 526.4h4.9v4.9h-4.9zM-178.6 526.4h4.9v4.9h-4.9zM-188.0 531.1h9.6v4.9h-9.6z" fill="#58b0ff"/>
<path d="M-183.3 366.6h4.9v4.9h-4.9zM-178.6 371.3h4.9v4.9h-4.9zM-244.4 376.0h4.9v4.9h-4.9zM-169.2 376.0h4.9v4.9h-4.9zM-258.5 380.7h4.9v4.9h-4.9zM-136.3 380.7h4.9v4.9h-4.9zM-277.3 394.8h4.9v4.9h-4.9zM-249.1 394.8h4.9v4.9h-4.9zM-230.3 394.8h4.9v4.9h-4.9zM-220.9 399.5h4.9v4.9h-4.9zM-183.3 399.5h4.9v4.9h-4.9zM-79.9 399.5h4.9v4.9h-4.9zM-164.5 404.2h4.9v4.9h-4.9zM-70.5 404.2h4.9v4.9h-4.9zM-150.4 413.6h4.9v4.9h-4.9zM-56.4 418.3h4.9v4.9h-4.9zM-188.0 423.0h4.9v4.9h-4.9zM-173.9 427.7h4.9v4.9h-4.9zM-108.1 427.7h4.9v4.9h-4.9zM-61.1 427.7h4.9v4.9h-4.9zM-42.3 427.7h4.9v4.9h-4.9zM-178.6 437.1h4.9v4.9h-4.9zM-94.0 437.1h4.9v4.9h-4.9zM-75.2 437.1h4.9v4.9h-4.9zM-192.7 441.8h9.6v4.9h-9.6zM-108.1 441.8h4.9v4.9h-4.9zM-70.5 441.8h4.9v4.9h-4.9zM-56.4 441.8h4.9v4.9h-4.9zM-155.1 446.5h14.3v4.9h-14.3zM-108.1 446.5h4.9v4.9h-4.9zM-89.3 446.5h4.9v4.9h-4.9zM-75.2 446.5h4.9v4.9h-4.9zM-51.7 446.5h4.9v4.9h-4.9zM-28.2 446.5h4.9v4.9h-4.9zM-173.9 451.2h4.9v4.9h-4.9zM-84.6 451.2h4.9v4.9h-4.9zM-61.1 451.2h4.9v4.9h-4.9zM-42.3 451.2h9.6v4.9h-9.6zM-206.8 455.9h4.9v4.9h-4.9zM-108.1 455.9h4.9v4.9h-4.9zM-89.3 455.9h4.9v4.9h-4.9zM-75.2 455.9h4.9v4.9h-4.9zM-65.8 455.9h4.9v4.9h-4.9zM-47.0 455.9h4.9v4.9h-4.9zM-202.1 460.6h4.9v4.9h-4.9zM-169.2 460.6h4.9v4.9h-4.9zM-141.0 460.6h4.9v4.9h-4.9zM-103.4 460.6h4.9v4.9h-4.9zM-75.2 460.6h4.9v4.9h-4.9zM-61.1 460.6h4.9v4.9h-4.9zM-47.0 460.6h4.9v4.9h-4.9zM-14.1 460.6h4.9v4.9h-4.9zM-211.5 465.3h4.9v4.9h-4.9zM-159.8 465.3h4.9v4.9h-4.9zM-136.3 465.3h4.9v4.9h-4.9zM-89.3 465.3h14.3v4.9h-14.3zM-70.5 465.3h4.9v4.9h-4.9zM-61.1 465.3h4.9v4.9h-4.9zM-51.7 465.3h9.6v4.9h-9.6zM-37.6 465.3h4.9v4.9h-4.9zM-145.7 470.0h4.9v4.9h-4.9zM-136.3 470.0h4.9v4.9h-4.9zM-84.6 470.0h4.9v4.9h-4.9zM-70.5 470.0h9.6v4.9h-9.6zM-47.0 470.0h4.9v4.9h-4.9zM-37.6 470.0h4.9v4.9h-4.9zM-9.4 470.0h4.9v4.9h-4.9zM-122.2 474.7h4.9v4.9h-4.9zM-89.3 474.7h4.9v4.9h-4.9zM-79.9 474.7h4.9v4.9h-4.9zM-65.8 474.7h9.6v4.9h-9.6zM-51.7 474.7h4.9v4.9h-4.9zM-32.9 474.7h4.9v4.9h-4.9zM0.0 474.7h4.9v4.9h-4.9zM-136.3 479.4h4.9v4.9h-4.9zM-112.8 479.4h4.9v4.9h-4.9zM-94.0 479.4h9.6v4.9h-9.6zM-70.5 479.4h4.9v4.9h-4.9zM-61.1 479.4h4.9v4.9h-4.9zM-47.0 479.4h4.9v4.9h-4.9zM-32.9 479.4h4.9v4.9h-4.9zM0.0 479.4h4.9v4.9h-4.9zM-169.2 484.1h9.6v4.9h-9.6zM-141.0 484.1h9.6v4.9h-9.6zM-122.2 484.1h4.9v4.9h-4.9zM-112.8 484.1h4.9v4.9h-4.9zM-94.0 484.1h4.9v4.9h-4.9zM-61.1 484.1h9.6v4.9h-9.6zM-42.3 484.1h9.6v4.9h-9.6zM-188.0 488.8h4.9v4.9h-4.9zM-159.8 488.8h9.6v4.9h-9.6zM-131.6 488.8h4.9v4.9h-4.9zM-84.6 488.8h4.9v4.9h-4.9zM-4.7 488.8h4.9v4.9h-4.9zM-145.7 493.5h4.9v4.9h-4.9zM-122.2 493.5h4.9v4.9h-4.9zM-79.9 493.5h4.9v4.9h-4.9zM-47.0 493.5h14.3v4.9h-14.3zM-9.4 493.5h4.9v4.9h-4.9zM-178.6 498.2h4.9v4.9h-4.9zM-155.1 498.2h4.9v4.9h-4.9zM-117.5 498.2h4.9v4.9h-4.9zM-84.6 498.2h4.9v4.9h-4.9zM-75.2 498.2h4.9v4.9h-4.9zM-56.4 498.2h4.9v4.9h-4.9zM-32.9 498.2h4.9v4.9h-4.9zM-122.2 502.9h4.9v4.9h-4.9zM-56.4 502.9h4.9v4.9h-4.9zM-98.7 507.6h4.9v4.9h-4.9zM-14.1 507.6h4.9v4.9h-4.9zM14.1 507.6h4.9v4.9h-4.9zM-65.8 512.3h9.6v4.9h-9.6zM-51.7 512.3h4.9v4.9h-4.9zM-65.8 517.0h9.6v4.9h-9.6zM-18.8 517.0h4.9v4.9h-4.9zM-108.1 521.7h9.6v4.9h-9.6zM-56.4 521.7h4.9v4.9h-4.9zM-28.2 526.4h4.9v4.9h-4.9zM-51.7 531.1h4.9v4.9h-4.9zM-56.4 535.8h4.9v4.9h-4.9zM-37.6 535.8h9.6v4.9h-9.6zM122.2 535.8h4.9v4.9h-4.9zM-28.2 540.5h4.9v4.9h-4.9zM108.1 540.5h4.9v4.9h-4.9zM0.0 554.6h4.9v4.9h-4.9zM-75.2 559.3h4.9v4.9h-4.9zM-155.1 564.0h4.9v4.9h-4.9zM-145.7 564.0h9.6v4.9h-9.6zM-131.6 564.0h4.9v4.9h-4.9zM23.5 564.0h4.9v4.9h-4.9zM84.6 564.0h4.9v4.9h-4.9zM-79.9 568.7h4.9v4.9h-4.9zM0.0 568.7h4.9v4.9h-4.9zM117.5 568.7h4.9v4.9h-4.9zM-75.2 573.4h4.9v4.9h-4.9zM9.4 573.4h4.9v4.9h-4.9zM18.8 573.4h9.6v4.9h-9.6zM136.3 573.4h4.9v4.9h-4.9zM150.4 573.4h9.6v4.9h-9.6zM-84.6 578.1h4.9v4.9h-4.9zM-65.8 578.1h4.9v4.9h-4.9zM-56.4 578.1h4.9v4.9h-4.9zM-23.5 578.1h4.9v4.9h-4.9zM-4.7 578.1h4.9v4.9h-4.9zM4.7 578.1h4.9v4.9h-4.9zM47.0 578.1h9.6v4.9h-9.6zM61.1 578.1h4.9v4.9h-4.9zM79.9 578.1h14.3v4.9h-14.3zM131.6 578.1h4.9v4.9h-4.9zM145.7 578.1h9.6v4.9h-9.6zM164.5 578.1h4.9v4.9h-4.9zM-61.1 582.8h4.9v4.9h-4.9zM-42.3 582.8h4.9v4.9h-4.9zM-14.1 582.8h4.9v4.9h-4.9zM-4.7 582.8h4.9v4.9h-4.9zM28.2 582.8h4.9v4.9h-4.9zM79.9 582.8h4.9v4.9h-4.9zM108.1 582.8h4.9v4.9h-4.9zM141.0 582.8h4.9v4.9h-4.9zM164.5 582.8h4.9v4.9h-4.9zM-75.2 587.5h4.9v4.9h-4.9zM0.0 587.5h4.9v4.9h-4.9zM56.4 587.5h4.9v4.9h-4.9zM112.8 587.5h4.9v4.9h-4.9zM145.7 587.5h4.9v4.9h-4.9zM164.5 587.5h4.9v4.9h-4.9zM131.6 592.2h4.9v4.9h-4.9zM141.0 592.2h4.9v4.9h-4.9zM-51.7 596.9h4.9v4.9h-4.9zM42.3 596.9h4.9v4.9h-4.9z" fill="#a3a3a2"/>
<path d="M-244.4 488.8h4.9v4.9h-4.9z" fill="#3050ff"/>
<path d="M-239.7 488.8h4.9v4.9h-4.9zM-235.0 493.5h4.9v4.9h-4.9zM-188.0 521.7h9.6v4.9h-9.6zM-188.0 526.4h9.6v4.9h-9.6z" fill="#0000e6"/>
</g></g>
</g>
<line x1="51.80" y1="41" x2="51.80" y2="548.5" class="g"/>
<line x1="130.80" y1="41" x2="130.80" y2="548.5" class="g"/>
<line x1="208.80" y1="41" x2="208.80" y2="548.5" class="g"/>
<line x1="287.80" y1="41" x2="287.80" y2="548.5" class="g"/>
<line x1="366.80" y1="41" x2="366.80" y2="548.5" class="g"/>
<line x1="445.80" y1="41" x2="445.80" y2="548.5" class="g"/>
<line x1="13" y1="91.85" x2="487" y2="91.85" class="g"/>
<line x1="13" y1="176.85" x2="487" y2="176.85" class="g"/>
<line x1="13" y1="261.85" x2="487" y2="261.85" class="g"/>
<line x1="13" y1="345.85" x2="487" y2="345.85" class="g"/>
<line x1="13" y1="430.85" x2="487" y2="430.85" class="g"/>
<line x1="13" y1="514.85" x2="487" y2="514.85" class="g"/>
<polyline points="12.6,477.9 59.5,442.4 96.7,413 134,384.2 171.3,356 199.7,334.3 246.3,299.6 303.8,257.2 360.6,215.7 418.2,175.1 476.6,134.9" class="sw"/>
<polyline points="71.3,548.4 127.2,504.5 154.9,483.6 192.2,454.2 239.5,418.2 286.9,383.4 343.7,341.1 400.4,299.6 458,258.9 477.5,245.7" class="sw"/>
<text x="51.3" y="283.3" class="gl" text-anchor="middle">-50</text>
<text x="130.3" y="283.3" class="gl" text-anchor="middle">-48</text>
<text x="209" y="283.3" class="gl" text-anchor="middle">-46</text>
<text x="287.7" y="283.3" class="gl" text-anchor="middle">-44</text>
<text x="366.6" y="283.3" class="gl" text-anchor="middle">-42</text>
<text x="445.5" y="283.3" class="gl" text-anchor="middle">-40</text>
<text x="268.3" y="91.7" class="gl" text-anchor="middle">18</text>
<text x="268.3" y="176.2" class="gl" text-anchor="middle">16</text>
<text x="268.3" y="260.8" class="gl" text-anchor="middle">14</text>
<text x="268.3" y="345.3" class="gl" text-anchor="middle">12</text>
<text x="268.3" y="429.9" class="gl" text-anchor="middle">10</text>
<text x="268.3" y="514.4" class="gl" text-anchor="middle">8</text>
<path d="M242.9 294.5H255.9M249.4 288V301" stroke="#000" stroke-width="5.2" fill="none"/>
<text x="43.6" y="65.9" class="tt">37GHz PCT (K)</text>
<text x="437.9" y="523.0" class="pl">(e)</text>
<rect x="495.2" y="531.57" width="8.8" height="8.76" fill="#f8f8f8"/>
<rect x="495.2" y="523.11" width="8.8" height="8.76" fill="#f1f1f1"/>
<rect x="495.2" y="514.65" width="8.8" height="8.76" fill="#eaeaea"/>
<rect x="495.2" y="506.18" width="8.8" height="8.76" fill="#e3e3e3"/>
<rect x="495.2" y="497.72" width="8.8" height="8.76" fill="#dcdcdc"/>
<rect x="495.2" y="489.26" width="8.8" height="8.76" fill="#d4d4d4"/>
<rect x="495.2" y="480.79" width="8.8" height="8.76" fill="#cdcdcd"/>
<rect x="495.2" y="472.33" width="8.8" height="8.76" fill="#c6c6c6"/>
<rect x="495.2" y="463.87" width="8.8" height="8.76" fill="#bfbfbe"/>
<rect x="495.2" y="455.40" width="8.8" height="8.76" fill="#b8b8b7"/>
<rect x="495.2" y="446.94" width="8.8" height="8.76" fill="#b1b1b0"/>
<rect x="495.2" y="438.48" width="8.8" height="8.76" fill="#aaaaa9"/>
<rect x="495.2" y="430.01" width="8.8" height="8.76" fill="#a3a3a2"/>
<rect x="495.2" y="421.55" width="8.8" height="8.76" fill="#9c9c9b"/>
<rect x="495.2" y="413.09" width="8.8" height="8.76" fill="#88e888"/>
<rect x="495.2" y="404.62" width="8.8" height="8.76" fill="#80dc80"/>
<rect x="495.2" y="396.16" width="8.8" height="8.76" fill="#78d478"/>
<rect x="495.2" y="387.70" width="8.8" height="8.76" fill="#70c870"/>
<rect x="495.2" y="379.23" width="8.8" height="8.76" fill="#68c068"/>
<rect x="495.2" y="370.77" width="8.8" height="8.76" fill="#d0d8ff"/>
<rect x="495.2" y="362.31" width="8.8" height="8.76" fill="#b8d0ff"/>
<rect x="495.2" y="353.84" width="8.8" height="8.76" fill="#a0c8ff"/>
<rect x="495.2" y="345.38" width="8.8" height="8.76" fill="#88c0ff"/>
<rect x="495.2" y="336.92" width="8.8" height="8.76" fill="#70b8ff"/>
<rect x="495.2" y="328.45" width="8.8" height="8.76" fill="#58b0ff"/>
<rect x="495.2" y="319.99" width="8.8" height="8.76" fill="#4888ff"/>
<rect x="495.2" y="311.53" width="8.8" height="8.76" fill="#4070ff"/>
<rect x="495.2" y="303.06" width="8.8" height="8.76" fill="#3850ff"/>
<rect x="495.2" y="294.60" width="8.8" height="8.76" fill="#3030ff"/>
<rect x="495.2" y="286.14" width="8.8" height="8.76" fill="#0000ff"/>
<rect x="495.2" y="277.67" width="8.8" height="8.76" fill="#0000f0"/>
<rect x="495.2" y="269.21" width="8.8" height="8.76" fill="#0000e0"/>
<rect x="495.2" y="260.75" width="8.8" height="8.76" fill="#0000d4"/>
<rect x="495.2" y="252.28" width="8.8" height="8.76" fill="#0000c8"/>
<rect x="495.2" y="243.82" width="8.8" height="8.76" fill="#ffff00"/>
<rect x="495.2" y="235.36" width="8.8" height="8.76" fill="#fff000"/>
<rect x="495.2" y="226.89" width="8.8" height="8.76" fill="#ffe800"/>
<rect x="495.2" y="218.43" width="8.8" height="8.76" fill="#ffdc00"/>
<rect x="495.2" y="209.97" width="8.8" height="8.76" fill="#ffd000"/>
<rect x="495.2" y="201.50" width="8.8" height="8.76" fill="#ff9000"/>
<rect x="495.2" y="193.04" width="8.8" height="8.76" fill="#ff8800"/>
<rect x="495.2" y="184.58" width="8.8" height="8.76" fill="#ff8000"/>
<rect x="495.2" y="176.11" width="8.8" height="8.76" fill="#ff7800"/>
<rect x="495.2" y="167.65" width="8.8" height="8.76" fill="#ff7000"/>
<rect x="495.2" y="159.19" width="8.8" height="8.76" fill="#ff4800"/>
<rect x="495.2" y="150.72" width="8.8" height="8.76" fill="#ff3c00"/>
<rect x="495.2" y="142.26" width="8.8" height="8.76" fill="#ff3000"/>
<rect x="495.2" y="133.80" width="8.8" height="8.76" fill="#ff2000"/>
<rect x="495.2" y="125.33" width="8.8" height="8.76" fill="#ff1400"/>
<rect x="495.2" y="116.87" width="8.8" height="8.76" fill="#cc0000"/>
<rect x="495.2" y="108.41" width="8.8" height="8.76" fill="#c40000"/>
<rect x="495.2" y="99.94" width="8.8" height="8.76" fill="#b80000"/>
<rect x="495.2" y="91.48" width="8.8" height="8.76" fill="#b00400"/>
<rect x="495.2" y="83.02" width="8.8" height="8.76" fill="#a40c00"/>
<rect x="495.2" y="74.55" width="8.8" height="8.76" fill="#680c04"/>
<rect x="495.2" y="66.09" width="8.8" height="8.76" fill="#641008"/>
<rect x="495.2" y="57.63" width="8.8" height="8.76" fill="#5c140c"/>
<rect x="495.2" y="49.16" width="8.8" height="8.76" fill="#5a1810"/>
<rect x="495.2" y="40.70" width="8.8" height="8.76" fill="#581814"/>
<line x1="504" y1="548.5" x2="506.6" y2="548.5" class="tk"/>
<text x="524.2" y="557.2" class="cl" text-anchor="middle">315</text>
<line x1="504" y1="497.7" x2="506.6" y2="497.7" class="tk"/>
<text x="524.2" y="506.4" class="cl" text-anchor="middle">306</text>
<line x1="504" y1="446.9" x2="506.6" y2="446.9" class="tk"/>
<text x="524.2" y="455.6" class="cl" text-anchor="middle">297</text>
<line x1="504" y1="396.2" x2="506.6" y2="396.2" class="tk"/>
<text x="524.2" y="404.9" class="cl" text-anchor="middle">288</text>
<line x1="504" y1="345.4" x2="506.6" y2="345.4" class="tk"/>
<text x="524.2" y="354.1" class="cl" text-anchor="middle">279</text>
<line x1="504" y1="294.6" x2="506.6" y2="294.6" class="tk"/>
<text x="524.2" y="303.3" class="cl" text-anchor="middle">270</text>
<line x1="504" y1="243.8" x2="506.6" y2="243.8" class="tk"/>
<text x="524.2" y="252.5" class="cl" text-anchor="middle">261</text>
<line x1="504" y1="193.0" x2="506.6" y2="193.0" class="tk"/>
<text x="524.2" y="201.7" class="cl" text-anchor="middle">252</text>
<line x1="504" y1="142.3" x2="506.6" y2="142.3" class="tk"/>
<text x="524.2" y="151.0" class="cl" text-anchor="middle">243</text>
<line x1="504" y1="91.5" x2="506.6" y2="91.5" class="tk"/>
<text x="524.2" y="100.2" class="cl" text-anchor="middle">234</text>
</g>
<g transform="translate(1181.3,590.6)">
<g clip-path="url(#cp)">
<g fill="none" stroke="#000" stroke-width="2.6" stroke-linejoin="round">
<polygon points="193.0,266.8 200.1,261.1 205.7,256.9 212.8,254.0 219.8,248.4 222.6,242.8 228.3,241.3 235.3,239.9 241.0,237.1 246.6,237.1 248.0,242.8 243.8,248.4 243.8,254.0 249.5,258.3 255.1,262.5 253.7,266.8 246.6,268.2 239.6,271.0 235.3,275.2 241.0,279.5 246.6,278.0 252.3,282.3 248.0,286.5 239.6,290.8 232.5,296.4 226.9,302.0 225.5,307.7 218.4,309.1 211.3,310.5 208.5,314.7 202.9,311.9 195.8,306.3 188.8,303.5 187.3,297.8 183.1,296.4 185.9,289.3 187.3,282.3 190.2,275.2"/>
<polygon points="171.8,259.7 176.1,249.8 180.3,242.8 187.3,241.3 188.1,248.4 184.5,254.0 180.3,259.7 183.1,262.5 187.3,261.8 184.5,268.2 181.7,273.8 177.5,278.0 174.6,279.5 173.2,271.0 170.4,265.3"/>
<polygon points="140.8,242.8 145.0,235.7 149.2,236.4 152.1,239.9 157.7,237.1 155.6,231.5 157.7,225.8 161.9,220.2 167.6,215.9 169.0,221.6 166.2,227.2 163.3,232.9 160.5,239.9 157.7,242.8 152.1,241.3 147.8,245.6 146.4,251.2 147.8,256.9 145.0,261.1 149.2,262.5 150.6,268.2 147.8,273.8 150.6,278.0 149.2,283.7 145.0,283.7 143.6,278.0 145.0,272.4 142.2,266.8 143.6,261.1 140.8,256.9 142.2,249.8"/>
<polygon points="177.5,227.2 183.1,221.6 185.9,217.3 190.2,218.1 191.6,221.6 195.8,223.7 194.4,227.2 187.3,227.2 181.7,228.6"/>
<polygon points="230.4,211.7 233.9,208.9 237.5,211.0 236.0,215.9 232.5,216.6"/>
<polygon points="323.6,199.0 327.1,190.5 328.7,190.5 328.7,206.1 325.0,205.3"/>
<polygon points="260.8,266.8 267.8,261.1 273.5,256.9 279.1,254.8 282.6,258.3 281.9,263.9 286.2,268.2 290.4,272.4 296.0,276.6 301.7,275.2 298.9,280.9 296.0,285.1 289.0,279.5 283.3,273.8 277.7,268.2 272.0,266.8 266.4,267.5"/>
<polygon points="301.0,290.0 305.9,288.6 307.3,295.0 313.0,293.6 317.2,294.3 313.0,298.5 310.2,302.0 305.9,297.8 303.1,293.6"/>
<polygon points="125.2,319.0 132.3,316.2 139.4,311.9 145.0,308.4 149.2,309.1 147.8,313.3 152.1,316.2 149.2,320.4 145.0,321.8 149.2,324.6 145.0,331.7 140.8,337.3 137.9,344.4 132.3,348.6 129.5,352.9 127.4,351.5 128.1,344.4 126.6,335.9 125.2,327.5 123.8,321.8 120.3,316.9"/>
<polygon points="152.1,338.7 154.9,331.7 159.1,327.5 163.3,325.3 162.6,331.7 159.1,337.3 154.9,342.3"/>
<polygon points="128.8,299.9 132.3,297.8 136.5,299.9 134.4,303.5 130.2,302.7"/>
<polygon points="99.8,267.5 104.1,265.3 108.3,269.6 103.4,270.3"/>
<polygon points="113.9,369.8 121.0,365.6 128.1,364.2 132.3,359.9 137.9,358.5 141.5,359.9 137.9,365.6 135.1,371.2 129.5,374.0 125.2,378.3 122.4,381.8 118.2,379.7 116.8,374.0"/>
<polygon points="82.9,372.6 87.1,368.4 92.8,369.8 97.0,369.8 98.4,375.4 99.8,381.1 104.1,383.9 109.7,386.7 113.9,385.3 115.4,389.6 112.5,392.4 108.3,391.0 102.6,386.7 97.0,385.3 92.8,389.6 91.4,395.2 88.5,399.4 89.9,403.7 87.1,406.5 82.9,403.7 84.3,398.0 82.9,392.4 85.7,386.7 84.3,381.1 85.7,376.9"/>
<polygon points="156.3,361.3 160.5,364.9 164.8,362.7 170.4,365.6 169.0,369.8 171.8,374.0 176.1,379.7 180.3,383.9 183.1,386.7 180.3,386.7 174.6,381.1 169.0,378.3 164.8,374.0 163.3,369.8 159.1,365.6"/>
<polygon points="201.5,381.1 208.5,376.9 214.2,374.0 219.8,368.4 222.6,362.7 225.5,357.1 231.1,355.7 233.9,359.9 228.3,362.7 226.9,367.0 224.0,372.6 218.4,376.9 214.2,381.1 207.1,381.8 202.9,382.5"/>
<polygon points="169.0,409.3 173.2,403.7 177.5,401.6 178.9,405.1 176.1,407.2"/>
<polygon points="211.3,316.9 214.2,316.2 217.0,321.1 221.2,321.8 224.0,319.7 221.2,323.9 215.6,324.6 212.0,321.1"/>
<polygon points="274.2,316.2 277.7,313.3 279.8,314.7 276.3,319.0"/>
<polygon points="281.2,312.6 284.0,311.9 285.5,315.5 283.3,316.2"/>
<polygon points="269.2,328.9 271.3,328.2 273.5,332.4 271.3,333.1"/>
<polygon points="313.0,308.4 315.8,307.0 317.2,310.5 314.4,311.2"/>
<polygon points="110.4,298.5 115.4,297.8 116.1,299.9 111.1,300.6"/>
<polygon points="112.5,302.0 116.1,302.0 115.6,303.7 112.5,303.5"/>
<polygon points="193.7,372.6 196.5,371.5 198.4,374.3 195.5,375.7"/>
<polygon points="169.0,241.3 173.2,240.6 173.9,242.8 169.7,243.0"/>
<polygon points="12.3,426.3 17.8,422.0 24.1,424.9 24.8,430.5 25.5,435.5 20.6,439.7 17.8,443.2 12.3,446.8"/>
<polygon points="24.8,379.0 27.6,376.9 29.1,379.0 26.9,382.5 24.8,381.8"/>
<polygon points="50.9,548.4 50.2,542.7 55.9,537.1 54.5,531.5 58.7,527.2 60.1,521.6 57.3,517.3 53.1,514.5 60.1,511.7 65.8,507.5 71.4,503.2 74.2,499.0 77.1,502.5 82.7,501.8 88.3,499.0 92.6,498.3 94.0,503.2 89.8,506.0 85.5,508.9 83.4,513.1 88.3,514.5 91.2,518.0 96.8,518.7 99.6,521.6 103.9,520.9 106.0,515.9 108.8,517.3 106.7,523.0 101.1,525.1 96.8,527.2 95.4,530.7 101.1,532.9 106.7,534.3 110.9,535.7 116.6,532.9 120.8,531.5 124.3,530.7 123.6,535.7 119.4,539.2 115.2,540.6 109.5,542.7 103.9,544.9 99.6,541.3 94.0,539.2 88.3,541.3 84.1,545.6 82.0,548.4"/>
<polygon points="12.3,518.7 17.8,516.6 24.8,515.2 31.9,516.6 37.5,513.1 43.2,511.7 44.6,513.8 55.9,512.4 56.2,513.8 44.6,515.9 41.8,520.9 36.1,523.0 30.5,520.2 24.8,521.6 19.2,524.4 12.3,527.9"/>
<polygon points="50.9,506.0 54.5,501.8 60.1,500.4 59.4,503.9 54.5,506.7"/>
<polygon points="110.9,520.9 116.6,519.5 123.6,520.9 130.7,520.2 134.9,520.9 143.4,520.9 150.5,520.2 156.8,519.5 156.8,525.1 150.5,526.5 144.8,525.8 134.9,525.1 127.9,524.4 119.4,525.1 112.3,524.4"/>
<polygon points="155.4,548.4 158.2,542.7 157.5,537.1 160.3,531.5 158.9,527.2 156.8,525.1 163.2,524.4 168.8,523.7 174.5,525.8 180.1,524.4 185.8,522.3 191.4,518.0 197.0,515.9 200.6,511.7 204.1,507.5 209.7,506.7 215.4,509.6 219.6,513.1 218.2,518.0 222.5,518.7 218.2,523.7 214.0,527.2 211.2,526.5 205.5,530.0 199.9,532.9 200.6,538.5 194.2,535.7 188.6,531.5 182.9,532.9 177.3,534.3 173.0,538.5 170.2,544.2 168.8,548.4"/>
<polygon points="197.7,493.3 204.1,491.9 212.6,489.1 219.6,486.3 226.7,484.2 230.2,485.6 223.9,488.4 216.8,491.2 209.7,494.7 206.9,497.6 202.7,497.6 201.3,494.7"/>
<polygon points="215.4,499.7 221.0,496.9 226.7,494.0 232.3,493.3 235.2,497.6 234.5,504.6 230.9,509.6 226.7,507.5 223.9,501.8 219.6,501.1"/>
<polygon points="107.4,482.0 109.5,477.1 114.5,474.3 113.1,478.5 109.5,482.7"/>
<polygon points="122.9,471.5 126.5,467.2 131.4,464.4 127.9,469.3"/>
<polygon points="169.5,410.1 173.0,405.1 178.0,401.9 178.7,405.8 174.5,407.5"/>
<polygon points="95.4,508.9 101.1,505.3 100.3,508.9"/>
<polygon points="161.8,515.2 167.4,511.7 166.0,514.5"/>
<polygon points="29.8,544.9 33.3,540.6 36.1,544.9"/>
<polygon points="121.5,548.4 122.2,544.9 126.5,544.2 127.9,548.4"/>
<polygon points="194.2,372.6 196.3,371.7 197.7,374.5 195.6,375.5"/>
<polygon points="13.5,499.0 15.6,498.3 17.1,501.8 14.9,502.1"/>
<polygon points="86.9,484.6 88.6,484.2 89.2,486.6 87.5,487.0"/>
<polygon points="87.2,492.6 89.2,492.2 89.8,495.0 87.8,495.5"/>
<polygon points="244.3,491.9 246.5,491.2 247.2,494.7 245.0,495.0"/>
<polygon points="127.9,349.4 131.4,349.4 130.0,352.9 127.9,352.2"/>
<polygon points="261.4,208.6 265.6,201.6 274.1,199.5 282.5,198.0 288.9,196.6 289.6,199.5 297.4,200.2 289.6,203.0 283.9,207.9 276.9,207.2 269.8,209.3 264.2,210.0"/>
<polygon points="322.8,200.2 326.3,191.7 333.3,186.7 341.1,183.9 346.8,187.5 347.5,191.7 350.3,194.5 348.2,199.5 345.3,202.3 339.0,198.0 333.3,198.0 329.1,200.9 326.3,204.4 327.0,206.5 324.2,205.1"/>
<polygon points="383.5,208.6 387.7,201.6 394.0,197.3 402.5,194.5 400.4,198.7 401.8,202.3 399.7,206.5 394.0,209.3 389.8,210.7 387.7,214.3 384.9,212.2"/>
<polygon points="367.2,224.2 371.5,220.6 375.0,219.2 373.6,222.5"/>
<polygon points="423.7,52.6 429.3,50.2 435.0,49.1 430.8,51.9"/>
<polygon points="473.1,247.4 478.0,245.3 481.6,251.7 478.0,256.6 475.2,252.4"/>
<polygon points="458.3,236.2 461.1,234.7 462.5,239.0 459.7,240.4"/>
<polygon points="298.8,255.9 304.4,253.8 309.4,255.9 304.4,258.7"/>
<polygon points="307.9,490.0 313.6,487.2 320.6,486.5 325.6,485.1 327.7,490.0 331.9,488.6 336.2,484.4 341.8,478.7 344.6,473.1 348.9,468.2 353.8,466.0 358.8,468.2 362.3,470.3 357.3,472.4 353.1,474.5 348.9,478.7 347.5,484.4 346.1,488.6 340.4,491.5 334.8,494.3 329.1,498.5 323.5,502.7 318.5,506.3 314.3,511.2 316.4,505.6 318.5,499.2 313.6,497.1 309.4,493.6"/>
<polygon points="323.5,466.0 329.1,463.2 336.2,461.1 341.1,461.8 337.6,464.6 333.3,466.0 330.5,469.6 325.6,468.9"/>
<polygon points="365.1,457.6 370.1,455.5 373.6,457.6 370.8,461.5 366.5,461.1"/>
<polygon points="377.8,443.5 382.8,441.3 387.7,442.0 382.8,444.9 381.3,449.1 379.2,447.0"/>
<polygon points="421.6,410.3 425.1,408.9 430.0,414.5 427.9,418.0 424.4,415.2"/>
<polygon points="466.7,360.2 473.1,358.8 480.2,358.1 485.1,355.9 485.8,365.1 480.2,365.8 474.5,363.7 469.6,362.3"/>
<polygon points="464.6,394.0 471.7,391.2 480.9,389.1 474.5,394.0 468.9,398.3 466.7,396.2"/>
<polygon points="267.7,531.7 273.4,528.9 274.8,533.8 272.6,538.0 274.1,541.6 269.8,540.9 269.1,535.9"/>
<polygon points="272.6,317.8 276.9,314.3 279.0,315.7 275.5,320.6"/>
<polygon points="280.4,312.9 283.2,311.5 285.4,315.7 283.2,316.4"/>
<polygon points="268.4,329.1 271.2,327.7 274.1,331.9 271.9,333.3"/>
</g>
<g fill="#86e486">
<polygon points="193.0,266.8 200.1,261.1 205.7,256.9 212.8,254.0 219.8,248.4 222.6,242.8 228.3,241.3 235.3,239.9 241.0,237.1 246.6,237.1 248.0,242.8 243.8,248.4 243.8,254.0 249.5,258.3 255.1,262.5 253.7,266.8 246.6,268.2 239.6,271.0 235.3,275.2 241.0,279.5 246.6,278.0 252.3,282.3 248.0,286.5 239.6,290.8 232.5,296.4 226.9,302.0 225.5,307.7 218.4,309.1 211.3,310.5 208.5,314.7 202.9,311.9 195.8,306.3 188.8,303.5 187.3,297.8 183.1,296.4 185.9,289.3 187.3,282.3 190.2,275.2"/>
<polygon points="171.8,259.7 176.1,249.8 180.3,242.8 187.3,241.3 188.1,248.4 184.5,254.0 180.3,259.7 183.1,262.5 187.3,261.8 184.5,268.2 181.7,273.8 177.5,278.0 174.6,279.5 173.2,271.0 170.4,265.3"/>
<polygon points="140.8,242.8 145.0,235.7 149.2,236.4 152.1,239.9 157.7,237.1 155.6,231.5 157.7,225.8 161.9,220.2 167.6,215.9 169.0,221.6 166.2,227.2 163.3,232.9 160.5,239.9 157.7,242.8 152.1,241.3 147.8,245.6 146.4,251.2 147.8,256.9 145.0,261.1 149.2,262.5 150.6,268.2 147.8,273.8 150.6,278.0 149.2,283.7 145.0,283.7 143.6,278.0 145.0,272.4 142.2,266.8 143.6,261.1 140.8,256.9 142.2,249.8"/>
<polygon points="177.5,227.2 183.1,221.6 185.9,217.3 190.2,218.1 191.6,221.6 195.8,223.7 194.4,227.2 187.3,227.2 181.7,228.6"/>
<polygon points="230.4,211.7 233.9,208.9 237.5,211.0 236.0,215.9 232.5,216.6"/>
<polygon points="323.6,199.0 327.1,190.5 328.7,190.5 328.7,206.1 325.0,205.3"/>
<polygon points="260.8,266.8 267.8,261.1 273.5,256.9 279.1,254.8 282.6,258.3 281.9,263.9 286.2,268.2 290.4,272.4 296.0,276.6 301.7,275.2 298.9,280.9 296.0,285.1 289.0,279.5 283.3,273.8 277.7,268.2 272.0,266.8 266.4,267.5"/>
<polygon points="301.0,290.0 305.9,288.6 307.3,295.0 313.0,293.6 317.2,294.3 313.0,298.5 310.2,302.0 305.9,297.8 303.1,293.6"/>
<polygon points="125.2,319.0 132.3,316.2 139.4,311.9 145.0,308.4 149.2,309.1 147.8,313.3 152.1,316.2 149.2,320.4 145.0,321.8 149.2,324.6 145.0,331.7 140.8,337.3 137.9,344.4 132.3,348.6 129.5,352.9 127.4,351.5 128.1,344.4 126.6,335.9 125.2,327.5 123.8,321.8 120.3,316.9"/>
<polygon points="152.1,338.7 154.9,331.7 159.1,327.5 163.3,325.3 162.6,331.7 159.1,337.3 154.9,342.3"/>
<polygon points="128.8,299.9 132.3,297.8 136.5,299.9 134.4,303.5 130.2,302.7"/>
<polygon points="99.8,267.5 104.1,265.3 108.3,269.6 103.4,270.3"/>
<polygon points="113.9,369.8 121.0,365.6 128.1,364.2 132.3,359.9 137.9,358.5 141.5,359.9 137.9,365.6 135.1,371.2 129.5,374.0 125.2,378.3 122.4,381.8 118.2,379.7 116.8,374.0"/>
<polygon points="82.9,372.6 87.1,368.4 92.8,369.8 97.0,369.8 98.4,375.4 99.8,381.1 104.1,383.9 109.7,386.7 113.9,385.3 115.4,389.6 112.5,392.4 108.3,391.0 102.6,386.7 97.0,385.3 92.8,389.6 91.4,395.2 88.5,399.4 89.9,403.7 87.1,406.5 82.9,403.7 84.3,398.0 82.9,392.4 85.7,386.7 84.3,381.1 85.7,376.9"/>
<polygon points="156.3,361.3 160.5,364.9 164.8,362.7 170.4,365.6 169.0,369.8 171.8,374.0 176.1,379.7 180.3,383.9 183.1,386.7 180.3,386.7 174.6,381.1 169.0,378.3 164.8,374.0 163.3,369.8 159.1,365.6"/>
<polygon points="201.5,381.1 208.5,376.9 214.2,374.0 219.8,368.4 222.6,362.7 225.5,357.1 231.1,355.7 233.9,359.9 228.3,362.7 226.9,367.0 224.0,372.6 218.4,376.9 214.2,381.1 207.1,381.8 202.9,382.5"/>
<polygon points="169.0,409.3 173.2,403.7 177.5,401.6 178.9,405.1 176.1,407.2"/>
<polygon points="211.3,316.9 214.2,316.2 217.0,321.1 221.2,321.8 224.0,319.7 221.2,323.9 215.6,324.6 212.0,321.1"/>
<polygon points="274.2,316.2 277.7,313.3 279.8,314.7 276.3,319.0"/>
<polygon points="281.2,312.6 284.0,311.9 285.5,315.5 283.3,316.2"/>
<polygon points="269.2,328.9 271.3,328.2 273.5,332.4 271.3,333.1"/>
<polygon points="313.0,308.4 315.8,307.0 317.2,310.5 314.4,311.2"/>
<polygon points="110.4,298.5 115.4,297.8 116.1,299.9 111.1,300.6"/>
<polygon points="112.5,302.0 116.1,302.0 115.6,303.7 112.5,303.5"/>
<polygon points="193.7,372.6 196.5,371.5 198.4,374.3 195.5,375.7"/>
<polygon points="169.0,241.3 173.2,240.6 173.9,242.8 169.7,243.0"/>
<polygon points="12.3,426.3 17.8,422.0 24.1,424.9 24.8,430.5 25.5,435.5 20.6,439.7 17.8,443.2 12.3,446.8"/>
<polygon points="24.8,379.0 27.6,376.9 29.1,379.0 26.9,382.5 24.8,381.8"/>
<polygon points="50.9,548.4 50.2,542.7 55.9,537.1 54.5,531.5 58.7,527.2 60.1,521.6 57.3,517.3 53.1,514.5 60.1,511.7 65.8,507.5 71.4,503.2 74.2,499.0 77.1,502.5 82.7,501.8 88.3,499.0 92.6,498.3 94.0,503.2 89.8,506.0 85.5,508.9 83.4,513.1 88.3,514.5 91.2,518.0 96.8,518.7 99.6,521.6 103.9,520.9 106.0,515.9 108.8,517.3 106.7,523.0 101.1,525.1 96.8,527.2 95.4,530.7 101.1,532.9 106.7,534.3 110.9,535.7 116.6,532.9 120.8,531.5 124.3,530.7 123.6,535.7 119.4,539.2 115.2,540.6 109.5,542.7 103.9,544.9 99.6,541.3 94.0,539.2 88.3,541.3 84.1,545.6 82.0,548.4"/>
<polygon points="12.3,518.7 17.8,516.6 24.8,515.2 31.9,516.6 37.5,513.1 43.2,511.7 44.6,513.8 55.9,512.4 56.2,513.8 44.6,515.9 41.8,520.9 36.1,523.0 30.5,520.2 24.8,521.6 19.2,524.4 12.3,527.9"/>
<polygon points="50.9,506.0 54.5,501.8 60.1,500.4 59.4,503.9 54.5,506.7"/>
<polygon points="110.9,520.9 116.6,519.5 123.6,520.9 130.7,520.2 134.9,520.9 143.4,520.9 150.5,520.2 156.8,519.5 156.8,525.1 150.5,526.5 144.8,525.8 134.9,525.1 127.9,524.4 119.4,525.1 112.3,524.4"/>
<polygon points="155.4,548.4 158.2,542.7 157.5,537.1 160.3,531.5 158.9,527.2 156.8,525.1 163.2,524.4 168.8,523.7 174.5,525.8 180.1,524.4 185.8,522.3 191.4,518.0 197.0,515.9 200.6,511.7 204.1,507.5 209.7,506.7 215.4,509.6 219.6,513.1 218.2,518.0 222.5,518.7 218.2,523.7 214.0,527.2 211.2,526.5 205.5,530.0 199.9,532.9 200.6,538.5 194.2,535.7 188.6,531.5 182.9,532.9 177.3,534.3 173.0,538.5 170.2,544.2 168.8,548.4"/>
<polygon points="197.7,493.3 204.1,491.9 212.6,489.1 219.6,486.3 226.7,484.2 230.2,485.6 223.9,488.4 216.8,491.2 209.7,494.7 206.9,497.6 202.7,497.6 201.3,494.7"/>
<polygon points="215.4,499.7 221.0,496.9 226.7,494.0 232.3,493.3 235.2,497.6 234.5,504.6 230.9,509.6 226.7,507.5 223.9,501.8 219.6,501.1"/>
<polygon points="107.4,482.0 109.5,477.1 114.5,474.3 113.1,478.5 109.5,482.7"/>
<polygon points="122.9,471.5 126.5,467.2 131.4,464.4 127.9,469.3"/>
<polygon points="169.5,410.1 173.0,405.1 178.0,401.9 178.7,405.8 174.5,407.5"/>
<polygon points="95.4,508.9 101.1,505.3 100.3,508.9"/>
<polygon points="161.8,515.2 167.4,511.7 166.0,514.5"/>
<polygon points="29.8,544.9 33.3,540.6 36.1,544.9"/>
<polygon points="121.5,548.4 122.2,544.9 126.5,544.2 127.9,548.4"/>
<polygon points="194.2,372.6 196.3,371.7 197.7,374.5 195.6,375.5"/>
<polygon points="13.5,499.0 15.6,498.3 17.1,501.8 14.9,502.1"/>
<polygon points="86.9,484.6 88.6,484.2 89.2,486.6 87.5,487.0"/>
<polygon points="87.2,492.6 89.2,492.2 89.8,495.0 87.8,495.5"/>
<polygon points="244.3,491.9 246.5,491.2 247.2,494.7 245.0,495.0"/>
<polygon points="127.9,349.4 131.4,349.4 130.0,352.9 127.9,352.2"/>
<polygon points="261.4,208.6 265.6,201.6 274.1,199.5 282.5,198.0 288.9,196.6 289.6,199.5 297.4,200.2 289.6,203.0 283.9,207.9 276.9,207.2 269.8,209.3 264.2,210.0"/>
<polygon points="322.8,200.2 326.3,191.7 333.3,186.7 341.1,183.9 346.8,187.5 347.5,191.7 350.3,194.5 348.2,199.5 345.3,202.3 339.0,198.0 333.3,198.0 329.1,200.9 326.3,204.4 327.0,206.5 324.2,205.1"/>
<polygon points="383.5,208.6 387.7,201.6 394.0,197.3 402.5,194.5 400.4,198.7 401.8,202.3 399.7,206.5 394.0,209.3 389.8,210.7 387.7,214.3 384.9,212.2"/>
<polygon points="367.2,224.2 371.5,220.6 375.0,219.2 373.6,222.5"/>
<polygon points="423.7,52.6 429.3,50.2 435.0,49.1 430.8,51.9"/>
<polygon points="473.1,247.4 478.0,245.3 481.6,251.7 478.0,256.6 475.2,252.4"/>
<polygon points="458.3,236.2 461.1,234.7 462.5,239.0 459.7,240.4"/>
<polygon points="298.8,255.9 304.4,253.8 309.4,255.9 304.4,258.7"/>
<polygon points="307.9,490.0 313.6,487.2 320.6,486.5 325.6,485.1 327.7,490.0 331.9,488.6 336.2,484.4 341.8,478.7 344.6,473.1 348.9,468.2 353.8,466.0 358.8,468.2 362.3,470.3 357.3,472.4 353.1,474.5 348.9,478.7 347.5,484.4 346.1,488.6 340.4,491.5 334.8,494.3 329.1,498.5 323.5,502.7 318.5,506.3 314.3,511.2 316.4,505.6 318.5,499.2 313.6,497.1 309.4,493.6"/>
<polygon points="323.5,466.0 329.1,463.2 336.2,461.1 341.1,461.8 337.6,464.6 333.3,466.0 330.5,469.6 325.6,468.9"/>
<polygon points="365.1,457.6 370.1,455.5 373.6,457.6 370.8,461.5 366.5,461.1"/>
<polygon points="377.8,443.5 382.8,441.3 387.7,442.0 382.8,444.9 381.3,449.1 379.2,447.0"/>
<polygon points="421.6,410.3 425.1,408.9 430.0,414.5 427.9,418.0 424.4,415.2"/>
<polygon points="466.7,360.2 473.1,358.8 480.2,358.1 485.1,355.9 485.8,365.1 480.2,365.8 474.5,363.7 469.6,362.3"/>
<polygon points="464.6,394.0 471.7,391.2 480.9,389.1 474.5,394.0 468.9,398.3 466.7,396.2"/>
<polygon points="267.7,531.7 273.4,528.9 274.8,533.8 272.6,538.0 274.1,541.6 269.8,540.9 269.1,535.9"/>
<polygon points="272.6,317.8 276.9,314.3 279.0,315.7 275.5,320.6"/>
<polygon points="280.4,312.9 283.2,311.5 285.4,315.7 283.2,316.4"/>
<polygon points="268.4,329.1 271.2,327.7 274.1,331.9 271.9,333.3"/>
</g>
<polygon points="221.2,258.3 226.9,254.0 232.5,248.4 238.2,240.6 241.0,239.9 238.2,248.4 233.9,254.0 230.4,259.7 235.3,261.8 232.5,268.2 225.5,272.4 218.4,275.2 217.7,268.2" fill="#fff" stroke="#000" stroke-width="1.2" stroke-linejoin="round"/>
<ellipse cx="62.2" cy="535.7" rx="3.6" ry="2.8" transform="rotate(-30 62.2 535.7)" fill="#fff" stroke="#000" stroke-width="1.2"/>
<polygon points="188.8,285.8 195.8,283.7 198.6,287.9 195.8,290.8 190.2,289.3" fill="#3458ff"/>
<polygon points="194.4,294.3 198.6,292.9 207.8,298.5 205.7,302.0 200.1,299.9 195.1,297.1" fill="#0000e6"/>
<polygon points="193.7,279.5 198.6,278.0 200.1,281.6 195.8,283.0" fill="#88b8ff"/>
<polygon points="203.6,270.3 208.5,268.9 211.3,271.0 207.8,273.5 204.3,272.7" fill="#d0d8ff"/>
<polygon points="272.7,261.1 277.7,259.0 280.5,261.8 278.4,266.8 274.2,266.8" fill="#d0d8ff"/>
<polygon points="135.1,323.2 140.8,319.0 146.4,321.1 145.0,327.5 139.4,330.3 135.1,327.5" fill="#c8d4ff"/>
<polygon points="68.6,531.5 74.2,529.3 77.1,534.3 72.8,537.8 69.3,535.7" fill="#c4d4f8"/>
<polygon points="99.6,536.4 104.6,535.0 106.0,538.5 101.8,540.2" fill="#c4d4f8"/>
<polygon points="206.9,514.5 211.9,513.1 212.6,523.0 208.3,524.4" fill="#c4d4f8"/>
<polygon points="163.2,527.5 167.4,526.9 167.1,531.2 163.4,531.5" fill="#c4d4f8"/>
<polygon points="226.7,497.6 230.9,496.2 231.6,501.1 228.1,502.5" fill="#c4d4f8"/>
<polygon points="15.6,435.5 19.2,434.0 19.9,437.6 16.6,438.6" fill="#c4d4f8"/>
<g opacity="0.5">
<polygon points="62.9,517.3 70.0,514.5 74.2,518.7 68.6,522.3" fill="#68c068"/>
<polygon points="77.1,527.2 82.7,525.8 86.9,531.5 82.7,535.7 77.8,532.9" fill="#68c068"/>
<polygon points="88.3,520.2 94.0,518.7 95.4,524.4 90.5,525.8" fill="#68c068"/>
<polygon points="200.1,285.1 205.7,283.7 214.2,292.2 219.8,300.6 214.2,303.5 205.7,296.4" fill="#68c068"/>
<polygon points="130.9,335.9 136.5,333.1 137.9,338.7 133.7,343.0" fill="#68c068"/>
</g>
<ellipse cx="200.8" cy="259.0" rx="3.9" ry="7.3" transform="rotate(-28 200.8 259.0)" fill="none" stroke="#000" stroke-width="1.3"/>
<ellipse cx="218.4" cy="255.5" rx="4.0" ry="7.6" transform="rotate(-55 218.4 255.5)" fill="none" stroke="#000" stroke-width="1.3"/>
<ellipse cx="145.0" cy="328.9" rx="4.0" ry="7.6" transform="rotate(-32 145.0 328.9)" fill="none" stroke="#000" stroke-width="1.3"/>
<ellipse cx="28.4" cy="509.6" rx="4.2" ry="7.6" transform="rotate(-35 28.4 509.6)" fill="none" stroke="#000" stroke-width="1.3"/>
<ellipse cx="38.5" cy="517.3" rx="6.2" ry="5.2" transform="rotate(-30 38.5 517.3)" fill="#86e486" stroke="#000" stroke-width="1.3"/>
<ellipse cx="138.9" cy="522.3" rx="3.9" ry="7.2" transform="rotate(-8 138.9 522.3)" fill="none" stroke="#000" stroke-width="1.3"/>
</g>
<line x1="51.15" y1="41" x2="51.15" y2="548.5" class="g"/>
<line x1="130.15" y1="41" x2="130.15" y2="548.5" class="g"/>
<line x1="209.15" y1="41" x2="209.15" y2="548.5" class="g"/>
<line x1="288.15" y1="41" x2="288.15" y2="548.5" class="g"/>
<line x1="366.15" y1="41" x2="366.15" y2="548.5" class="g"/>
<line x1="445.15" y1="41" x2="445.15" y2="548.5" class="g"/>
<line x1="13" y1="91.85" x2="487" y2="91.85" class="g"/>
<line x1="13" y1="176.85" x2="487" y2="176.85" class="g"/>
<line x1="13" y1="261.85" x2="487" y2="261.85" class="g"/>
<line x1="13" y1="345.85" x2="487" y2="345.85" class="g"/>
<line x1="13" y1="430.85" x2="487" y2="430.85" class="g"/>
<line x1="13" y1="514.85" x2="487" y2="514.85" class="g"/>
<polyline points="12.6,477.9 59.5,442.4 96.7,413 134,384.2 171.3,356 199.7,334.3 246.3,299.6 303.8,257.2 360.6,215.7 418.2,175.1 476.6,134.9" class="sw"/>
<polyline points="71.3,548.4 127.2,504.5 154.9,483.6 192.2,454.2 239.5,418.2 286.9,383.4 343.7,341.1 400.4,299.6 458,258.9 477.5,245.7" class="sw"/>
<text x="51.3" y="283.3" class="gl" text-anchor="middle">-50</text>
<text x="130.3" y="283.3" class="gl" text-anchor="middle">-48</text>
<text x="209" y="283.3" class="gl" text-anchor="middle">-46</text>
<text x="287.7" y="283.3" class="gl" text-anchor="middle">-44</text>
<text x="366.6" y="283.3" class="gl" text-anchor="middle">-42</text>
<text x="445.5" y="283.3" class="gl" text-anchor="middle">-40</text>
<text x="268.3" y="91.7" class="gl" text-anchor="middle">18</text>
<text x="268.3" y="176.2" class="gl" text-anchor="middle">16</text>
<text x="268.3" y="260.8" class="gl" text-anchor="middle">14</text>
<text x="268.3" y="345.3" class="gl" text-anchor="middle">12</text>
<text x="268.3" y="429.9" class="gl" text-anchor="middle">10</text>
<text x="268.3" y="514.4" class="gl" text-anchor="middle">8</text>
<path d="M242.9 294.5H255.9M249.4 288V301" stroke="#000" stroke-width="5.2" fill="none"/>
<text x="36.6" y="65.9" class="tt">2A12 rainrate (mm/hr)</text>
<text x="437.9" y="523.0" class="pl">(f)</text>
<rect x="495.2" y="531.57" width="8.8" height="8.76" fill="#88e888"/>
<rect x="495.2" y="523.11" width="8.8" height="8.76" fill="#88e888"/>
<rect x="495.2" y="514.65" width="8.8" height="8.76" fill="#80dc80"/>
<rect x="495.2" y="506.18" width="8.8" height="8.76" fill="#78d478"/>
<rect x="495.2" y="497.72" width="8.8" height="8.76" fill="#70c870"/>
<rect x="495.2" y="489.26" width="8.8" height="8.76" fill="#70c870"/>
<rect x="495.2" y="480.79" width="8.8" height="8.76" fill="#68c068"/>
<rect x="495.2" y="472.33" width="8.8" height="8.76" fill="#d0d8ff"/>
<rect x="495.2" y="463.87" width="8.8" height="8.76" fill="#b8d0ff"/>
<rect x="495.2" y="455.40" width="8.8" height="8.76" fill="#b8d0ff"/>
<rect x="495.2" y="446.94" width="8.8" height="8.76" fill="#a0c8ff"/>
<rect x="495.2" y="438.48" width="8.8" height="8.76" fill="#88c0ff"/>
<rect x="495.2" y="430.01" width="8.8" height="8.76" fill="#70b8ff"/>
<rect x="495.2" y="421.55" width="8.8" height="8.76" fill="#70b8ff"/>
<rect x="495.2" y="413.09" width="8.8" height="8.76" fill="#58b0ff"/>
<rect x="495.2" y="404.62" width="8.8" height="8.76" fill="#4888ff"/>
<rect x="495.2" y="396.16" width="8.8" height="8.76" fill="#4070ff"/>
<rect x="495.2" y="387.70" width="8.8" height="8.76" fill="#4070ff"/>
<rect x="495.2" y="379.23" width="8.8" height="8.76" fill="#3850ff"/>
<rect x="495.2" y="370.77" width="8.8" height="8.76" fill="#3030ff"/>
<rect x="495.2" y="362.31" width="8.8" height="8.76" fill="#0000ff"/>
<rect x="495.2" y="353.84" width="8.8" height="8.76" fill="#0000ff"/>
<rect x="495.2" y="345.38" width="8.8" height="8.76" fill="#0000f0"/>
<rect x="495.2" y="336.92" width="8.8" height="8.76" fill="#0000e0"/>
<rect x="495.2" y="328.45" width="8.8" height="8.76" fill="#0000d4"/>
<rect x="495.2" y="319.99" width="8.8" height="8.76" fill="#0000d4"/>
<rect x="495.2" y="311.53" width="8.8" height="8.76" fill="#0000c8"/>
<rect x="495.2" y="303.06" width="8.8" height="8.76" fill="#ffff00"/>
<rect x="495.2" y="294.60" width="8.8" height="8.76" fill="#fff000"/>
<rect x="495.2" y="286.14" width="8.8" height="8.76" fill="#fff000"/>
<rect x="495.2" y="277.67" width="8.8" height="8.76" fill="#ffe800"/>
<rect x="495.2" y="269.21" width="8.8" height="8.76" fill="#ffdc00"/>
<rect x="495.2" y="260.75" width="8.8" height="8.76" fill="#ffd000"/>
<rect x="495.2" y="252.28" width="8.8" height="8.76" fill="#ffd000"/>
<rect x="495.2" y="243.82" width="8.8" height="8.76" fill="#ff9000"/>
<rect x="495.2" y="235.36" width="8.8" height="8.76" fill="#ff8800"/>
<rect x="495.2" y="226.89" width="8.8" height="8.76" fill="#ff8000"/>
<rect x="495.2" y="218.43" width="8.8" height="8.76" fill="#ff8000"/>
<rect x="495.2" y="209.97" width="8.8" height="8.76" fill="#ff7800"/>
<rect x="495.2" y="201.50" width="8.8" height="8.76" fill="#ff7000"/>
<rect x="495.2" y="193.04" width="8.8" height="8.76" fill="#ff4800"/>
<rect x="495.2" y="184.58" width="8.8" height="8.76" fill="#ff4800"/>
<rect x="495.2" y="176.11" width="8.8" height="8.76" fill="#ff3c00"/>
<rect x="495.2" y="167.65" width="8.8" height="8.76" fill="#ff3000"/>
<rect x="495.2" y="159.19" width="8.8" height="8.76" fill="#ff2000"/>
<rect x="495.2" y="150.72" width="8.8" height="8.76" fill="#ff2000"/>
<rect x="495.2" y="142.26" width="8.8" height="8.76" fill="#ff1400"/>
<rect x="495.2" y="133.80" width="8.8" height="8.76" fill="#cc0000"/>
<rect x="495.2" y="125.33" width="8.8" height="8.76" fill="#c40000"/>
<rect x="495.2" y="116.87" width="8.8" height="8.76" fill="#c40000"/>
<rect x="495.2" y="108.41" width="8.8" height="8.76" fill="#b80000"/>
<rect x="495.2" y="99.94" width="8.8" height="8.76" fill="#b00400"/>
<rect x="495.2" y="91.48" width="8.8" height="8.76" fill="#a40c00"/>
<rect x="495.2" y="83.02" width="8.8" height="8.76" fill="#a40c00"/>
<rect x="495.2" y="74.55" width="8.8" height="8.76" fill="#680c04"/>
<rect x="495.2" y="66.09" width="8.8" height="8.76" fill="#641008"/>
<rect x="495.2" y="57.63" width="8.8" height="8.76" fill="#5c140c"/>
<rect x="495.2" y="49.16" width="8.8" height="8.76" fill="#5c140c"/>
<rect x="495.2" y="40.70" width="8.8" height="8.76" fill="#5a1810"/>
<line x1="504" y1="548.5" x2="506.6" y2="548.5" class="tk"/>
<text x="524.2" y="557.2" class="cl" text-anchor="middle">0</text>
<line x1="504" y1="497.7" x2="506.6" y2="497.7" class="tk"/>
<text x="524.2" y="506.4" class="cl" text-anchor="middle">6</text>
<line x1="504" y1="446.9" x2="506.6" y2="446.9" class="tk"/>
<text x="524.2" y="455.6" class="cl" text-anchor="middle">12</text>
<line x1="504" y1="396.2" x2="506.6" y2="396.2" class="tk"/>
<text x="524.2" y="404.9" class="cl" text-anchor="middle">18</text>
<line x1="504" y1="345.4" x2="506.6" y2="345.4" class="tk"/>
<text x="524.2" y="354.1" class="cl" text-anchor="middle">24</text>
<line x1="504" y1="294.6" x2="506.6" y2="294.6" class="tk"/>
<text x="524.2" y="303.3" class="cl" text-anchor="middle">30</text>
<line x1="504" y1="243.8" x2="506.6" y2="243.8" class="tk"/>
<text x="524.2" y="252.5" class="cl" text-anchor="middle">36</text>
<line x1="504" y1="193.0" x2="506.6" y2="193.0" class="tk"/>
<text x="524.2" y="201.7" class="cl" text-anchor="middle">42</text>
<line x1="504" y1="142.3" x2="506.6" y2="142.3" class="tk"/>
<text x="524.2" y="151.0" class="cl" text-anchor="middle">48</text>
<line x1="504" y1="91.5" x2="506.6" y2="91.5" class="tk"/>
<text x="524.2" y="100.2" class="cl" text-anchor="middle">54</text>
</g>
<g transform="translate(0,1181.3)">
<g clip-path="url(#cp)">
<polygon points="13.0,338.7 100.0,272.9 240.0,167.7 418.0,40.7 487.0,40.7 487.0,372.7 251.0,548.2 13.0,548.2" fill="#dedede"/>
<clipPath id="swg"><polygon points="13,339.2 100,273.4 240,168.2 418,41.2 487,41.2 487,373.2 251,548.7 13,548.7"/></clipPath><g clip-path="url(#swg)"><g filter="url(#b9)">
<polygon points="13.0,318.7 120.0,248.7 200.0,298.7 230.0,378.7 240.0,478.7 200.0,547.7 13.0,547.7" fill="#cdcdcd"/>
<polygon points="13.0,348.7 70.0,308.7 130.0,318.7 150.0,378.7 110.0,418.7 40.0,408.7 13.0,418.7" fill="#c2c2c2"/>
<polygon points="20.0,458.7 90.0,438.7 160.0,458.7 200.0,418.7 240.0,458.7 200.0,508.7 100.0,518.7 20.0,518.7" fill="#c6c6c6"/>
<polygon points="13.0,418.7 70.0,418.7 110.0,443.7 60.0,468.7 13.0,468.7" fill="#e2e2e2"/>
<polygon points="330.0,138.7 390.0,108.7 440.0,138.7 460.0,198.7 420.0,238.7 360.0,228.7 330.0,188.7" fill="#cfcfcf"/>
<polygon points="395.0,48.7 445.0,46.7 450.0,80.7 405.0,88.7" fill="#cccccc"/>
<polygon points="260.0,178.7 320.0,158.7 350.0,218.7 330.0,258.7 290.0,238.7" fill="#cecece"/>
<polygon points="300.0,318.7 380.0,288.7 470.0,298.7 487.0,358.7 400.0,428.7 330.0,468.7 290.0,438.7 270.0,378.7" fill="#e4e4e4"/>
<polygon points="430.0,148.7 487.0,118.7 487.0,238.7 440.0,248.7" fill="#e2e2e2"/>
<polygon points="330.0,378.7 400.0,358.7 440.0,388.7 400.0,428.7 340.0,428.7" fill="#d0d0d0"/>
<polygon points="340.0,218.7 440.0,213.7 450.0,258.7 350.0,268.7" fill="#d0d0d0"/>
<polygon points="300.0,358.7 330.0,338.7 345.0,378.7 320.0,408.7" fill="#cccccc"/>
<polygon points="280.0,283.7 330.0,273.7 360.0,308.7 310.0,328.7" fill="#c4c4c4"/>
<polygon points="245.0,378.7 275.0,363.7 280.0,418.7 255.0,458.7 240.0,428.7" fill="#c0c0c0"/>
</g></g>
<g clip-path="url(#swg)">
<rect x="13" y="41" width="474" height="508" filter="url(#nzd)" opacity="0.10"/>
<rect x="13" y="41" width="474" height="508" filter="url(#nzl)" opacity="0.20"/>
<g fill="none" stroke="#000" stroke-width="2.2" stroke-linejoin="round">
<polygon points="131.8,249.6 125.4,257.4 123.3,265.9 124.7,275.7 129.6,282.8 130.4,289.9 127.5,298.3 125.4,305.4 124.0,313.9 121.2,322.3 120.5,330.8 119.1,336.4 121.2,344.9 125.4,350.6 130.4,356.2 133.9,361.9 135.3,368.9 139.5,373.1 145.2,376.0 150.8,378.8 152.9,383.0 150.8,388.7 152.9,394.3 159.3,397.1 166.3,398.7 169.9,400.0 174.4,396.6 178.9,398.9 183.4,396.6 186.8,398.3 187.9,403.4 191.3,406.8 195.8,409.0 200.3,409.0 203.7,412.4 206.0,416.9 209.4,412.4 212.8,407.9 218.4,407.9 222.9,409.0 225.2,413.6 222.9,419.2 221.8,424.9 218.4,430.5 222.9,429.4 227.4,431.6 229.7,427.1 233.1,418.1 235.4,409.0 236.5,400.0 237.6,392.1 238.7,384.2 234.2,381.9 230.8,379.7 232.0,372.9 233.1,366.1 235.4,359.4 238.7,352.6 243.3,348.1 248.9,343.5 254.6,344.7 260.2,341.3 265.8,340.2 278.8,345.7 277.4,341.5 278.1,335.9 282.3,331.6 286.6,327.4 290.8,321.7 294.3,316.1 292.2,309.0 288.0,303.4 286.6,296.3 288.0,289.3 293.6,287.9 299.3,286.5 303.5,283.6 307.8,280.8 313.4,282.2 319.1,279.4 324.7,280.8 328.9,279.4 333.2,281.5 330.3,285.0 325.4,286.5 321.9,289.3 319.1,293.5 316.2,299.2 310.6,302.0 307.1,305.5 309.2,310.5 313.4,307.6 319.1,304.8 324.7,302.0 331.8,299.2 336.0,294.9 338.8,289.3 341.6,283.6 345.2,278.0 350.1,275.2 351.5,268.8 347.3,270.9 341.6,266.7 337.4,263.9 339.5,258.2 338.8,251.2 334.6,244.1 330.3,238.5 324.7,234.2 320.2,230.6 320.2,224.9 322.3,217.9 324.4,210.8 321.6,209.4 317.4,213.6 313.2,217.9 307.5,219.3 301.9,216.5 296.2,212.2 290.6,209.4 284.9,209.4 280.7,206.6 283.5,203.8 287.0,199.5 284.9,195.3 280.7,193.9 276.5,191.0 275.7,186.8 275.0,181.9 270.8,179.8 266.6,179.1 260.9,178.3 256.7,175.5 253.9,172.0 250.3,172.7 246.8,176.2 241.2,179.1 235.5,181.9 229.9,182.6 224.2,184.7 220.0,184.0"/>
<polygon points="100.0,512.4 104.5,509.0 110.2,511.3 115.8,507.9 122.6,509.0 129.4,507.9 136.1,511.3 142.9,513.6 149.7,515.8 156.5,513.6 163.2,512.4 167.8,509.0 174.5,507.9 179.1,504.5 177.9,497.8 179.1,488.7 177.9,481.9 181.3,477.4 188.1,475.2 190.3,469.5 197.1,467.3 201.6,467.3 207.3,469.5 210.7,466.1 208.4,459.4 206.2,452.6 201.6,450.3 199.4,449.2 203.9,446.9 208.4,444.7 212.9,440.2 217.4,435.6 222.0,432.3 224.2,425.5 223.1,418.7 232.1,418.7 231.0,425.5 228.7,433.4 229.9,437.9 235.5,435.6 242.3,432.3 249.1,431.1 253.6,433.4 257.0,437.9 258.1,443.5 262.6,444.7 266.0,440.2 268.3,435.6 271.7,431.1 277.3,428.9 282.9,427.7 287.5,423.2 289.7,418.7 294.2,414.2 300.0,411.9 300.0,452.6 296.5,454.8 292.0,457.7 288.6,460.5 288.0,467.3 286.3,472.9 288.0,479.7 286.9,486.5 283.5,492.1 281.3,498.9 279.6,505.7 281.8,510.2 285.2,509.0 289.7,506.8 294.2,503.4 300.0,502.3 300.0,512.4 250.2,548.3 100.0,548.3"/>
<polygon points="13.0,507.7 18.4,504.9 25.4,506.3 32.5,502.1 36.7,497.9 42.3,499.3 46.6,503.5 52.2,506.3 56.5,502.1 62.1,497.9 67.8,495.0 73.4,490.8 79.1,488.0 84.7,483.7 91.8,478.1 98.8,473.9 101.6,478.1 97.4,485.2 91.8,490.8 87.5,497.9 90.3,503.5 96.0,509.2 99.9,512.4 103.0,512.0 103.0,548.4 13.0,548.4"/>
<polygon points="269.4,435.7 274.4,432.0 281.9,430.7 285.6,425.8 288.1,419.6 291.8,415.2 296.8,417.1 303.0,422.1 306.1,429.5 303.0,435.7 298.0,438.2 299.3,445.7 299.3,451.9 295.5,456.2 291.8,458.1 288.1,461.8 289.3,468.0 286.8,475.5 284.3,482.9 286.8,490.4 285.6,497.8 281.9,502.8 279.4,507.8 284.3,511.5 289.3,510.3 294.3,505.3 299.3,505.3 301.7,495.3 304.2,486.7 309.2,480.4 306.7,475.5 311.7,478.0 316.6,481.7 321.6,485.4 324.1,489.1 301.7,506.5 249.6,548.1 217.3,548.1 217.3,470.5 242.1,445.7"/>
</g>
<g fill="#84dc84">
<polygon points="131.8,249.6 125.4,257.4 123.3,265.9 124.7,275.7 129.6,282.8 130.4,289.9 127.5,298.3 125.4,305.4 124.0,313.9 121.2,322.3 120.5,330.8 119.1,336.4 121.2,344.9 125.4,350.6 130.4,356.2 133.9,361.9 135.3,368.9 139.5,373.1 145.2,376.0 150.8,378.8 152.9,383.0 150.8,388.7 152.9,394.3 159.3,397.1 166.3,398.7 169.9,400.0 174.4,396.6 178.9,398.9 183.4,396.6 186.8,398.3 187.9,403.4 191.3,406.8 195.8,409.0 200.3,409.0 203.7,412.4 206.0,416.9 209.4,412.4 212.8,407.9 218.4,407.9 222.9,409.0 225.2,413.6 222.9,419.2 221.8,424.9 218.4,430.5 222.9,429.4 227.4,431.6 229.7,427.1 233.1,418.1 235.4,409.0 236.5,400.0 237.6,392.1 238.7,384.2 234.2,381.9 230.8,379.7 232.0,372.9 233.1,366.1 235.4,359.4 238.7,352.6 243.3,348.1 248.9,343.5 254.6,344.7 260.2,341.3 265.8,340.2 278.8,345.7 277.4,341.5 278.1,335.9 282.3,331.6 286.6,327.4 290.8,321.7 294.3,316.1 292.2,309.0 288.0,303.4 286.6,296.3 288.0,289.3 293.6,287.9 299.3,286.5 303.5,283.6 307.8,280.8 313.4,282.2 319.1,279.4 324.7,280.8 328.9,279.4 333.2,281.5 330.3,285.0 325.4,286.5 321.9,289.3 319.1,293.5 316.2,299.2 310.6,302.0 307.1,305.5 309.2,310.5 313.4,307.6 319.1,304.8 324.7,302.0 331.8,299.2 336.0,294.9 338.8,289.3 341.6,283.6 345.2,278.0 350.1,275.2 351.5,268.8 347.3,270.9 341.6,266.7 337.4,263.9 339.5,258.2 338.8,251.2 334.6,244.1 330.3,238.5 324.7,234.2 320.2,230.6 320.2,224.9 322.3,217.9 324.4,210.8 321.6,209.4 317.4,213.6 313.2,217.9 307.5,219.3 301.9,216.5 296.2,212.2 290.6,209.4 284.9,209.4 280.7,206.6 283.5,203.8 287.0,199.5 284.9,195.3 280.7,193.9 276.5,191.0 275.7,186.8 275.0,181.9 270.8,179.8 266.6,179.1 260.9,178.3 256.7,175.5 253.9,172.0 250.3,172.7 246.8,176.2 241.2,179.1 235.5,181.9 229.9,182.6 224.2,184.7 220.0,184.0"/>
<polygon points="100.0,512.4 104.5,509.0 110.2,511.3 115.8,507.9 122.6,509.0 129.4,507.9 136.1,511.3 142.9,513.6 149.7,515.8 156.5,513.6 163.2,512.4 167.8,509.0 174.5,507.9 179.1,504.5 177.9,497.8 179.1,488.7 177.9,481.9 181.3,477.4 188.1,475.2 190.3,469.5 197.1,467.3 201.6,467.3 207.3,469.5 210.7,466.1 208.4,459.4 206.2,452.6 201.6,450.3 199.4,449.2 203.9,446.9 208.4,444.7 212.9,440.2 217.4,435.6 222.0,432.3 224.2,425.5 223.1,418.7 232.1,418.7 231.0,425.5 228.7,433.4 229.9,437.9 235.5,435.6 242.3,432.3 249.1,431.1 253.6,433.4 257.0,437.9 258.1,443.5 262.6,444.7 266.0,440.2 268.3,435.6 271.7,431.1 277.3,428.9 282.9,427.7 287.5,423.2 289.7,418.7 294.2,414.2 300.0,411.9 300.0,452.6 296.5,454.8 292.0,457.7 288.6,460.5 288.0,467.3 286.3,472.9 288.0,479.7 286.9,486.5 283.5,492.1 281.3,498.9 279.6,505.7 281.8,510.2 285.2,509.0 289.7,506.8 294.2,503.4 300.0,502.3 300.0,512.4 250.2,548.3 100.0,548.3"/>
<polygon points="13.0,507.7 18.4,504.9 25.4,506.3 32.5,502.1 36.7,497.9 42.3,499.3 46.6,503.5 52.2,506.3 56.5,502.1 62.1,497.9 67.8,495.0 73.4,490.8 79.1,488.0 84.7,483.7 91.8,478.1 98.8,473.9 101.6,478.1 97.4,485.2 91.8,490.8 87.5,497.9 90.3,503.5 96.0,509.2 99.9,512.4 103.0,512.0 103.0,548.4 13.0,548.4"/>
<polygon points="269.4,435.7 274.4,432.0 281.9,430.7 285.6,425.8 288.1,419.6 291.8,415.2 296.8,417.1 303.0,422.1 306.1,429.5 303.0,435.7 298.0,438.2 299.3,445.7 299.3,451.9 295.5,456.2 291.8,458.1 288.1,461.8 289.3,468.0 286.8,475.5 284.3,482.9 286.8,490.4 285.6,497.8 281.9,502.8 279.4,507.8 284.3,511.5 289.3,510.3 294.3,505.3 299.3,505.3 301.7,495.3 304.2,486.7 309.2,480.4 306.7,475.5 311.7,478.0 316.6,481.7 321.6,485.4 324.1,489.1 301.7,506.5 249.6,548.1 217.3,548.1 217.3,470.5 242.1,445.7"/>
</g>
<g fill="none" stroke="#000" stroke-width="2.0" stroke-linejoin="round">
<polygon points="344.5,292.1 350.1,289.3 357.2,287.9 364.2,286.5 371.3,287.2 378.3,284.3 385.4,285.0 392.5,283.6 396.7,285.0 399.5,287.9 403.7,289.3 406.6,293.5 409.4,296.3 413.6,295.6 410.8,298.5 406.6,300.6 402.3,299.2 398.1,297.0 393.9,294.9 389.6,295.6 385.4,294.9 381.2,297.0 375.5,299.2 369.9,299.9 364.2,299.2 360.0,300.6 354.3,298.5 348.7,297.0 345.2,295.6"/>
<polygon points="399.5,306.9 405.2,303.4 412.2,302.0 419.3,301.3 418.6,304.8 419.3,309.0 413.6,309.8 406.6,309.0 400.9,309.8"/>
<polygon points="461.6,237.8 464.4,238.5 467.3,244.1 471.5,249.8 475.7,255.4 481.4,257.5 485.6,259.6 484.9,265.3 481.4,266.7 478.6,261.0 472.9,256.8 467.3,249.8 463.0,244.1"/>
<polygon points="475.7,234.9 479.3,234.2 480.7,238.5 478.6,241.3 476.4,238.5"/>
<polygon points="342.3,182.6 345.9,181.9 348.7,185.4 352.9,184.0 357.2,182.6 361.4,183.3 363.5,185.4 360.0,187.5 357.2,191.0 351.5,193.2 347.3,193.2 345.2,189.6 343.8,186.1"/>
<polygon points="326.8,208.0 331.8,205.9 337.4,205.2 340.2,207.3 337.4,210.1 331.8,211.1 327.5,210.1"/>
<polygon points="22.0,334.5 28.2,330.5 33.9,326.0 40.7,320.3 48.6,314.7 55.3,309.0 62.1,303.4 67.8,298.3 72.3,300.0 70.0,304.5 73.4,309.0 76.8,315.8 79.1,323.7 77.9,327.1 73.4,324.9 67.8,320.3 63.2,318.1 58.7,320.3 54.2,324.9 49.7,331.6 45.2,330.5 38.4,328.2 33.9,330.5 29.4,333.9 26.0,336.7"/>
<polygon points="83.6,292.1 87.5,289.3 90.3,292.1 92.6,297.8 93.7,303.4 97.1,306.8 101.6,309.0 106.2,309.0 109.5,306.8 114.1,307.4 118.6,310.2 116.3,314.7 112.9,316.9 110.7,321.5 107.3,322.0 103.9,318.1 100.5,314.7 97.1,316.9 93.7,314.7 92.6,319.2 93.2,324.9 90.3,326.0 88.1,322.6 87.5,318.1 89.2,314.7 87.0,309.0 85.8,303.4 83.0,297.8"/>
<polygon points="72.3,354.2 77.9,352.5 83.6,354.2 88.1,350.8 91.5,347.4 96.0,350.8 99.4,356.5 102.2,362.1 101.6,364.9 97.1,363.3 92.6,364.4 90.3,367.8 88.1,371.2 90.3,375.7 92.6,379.1 89.2,379.6 84.7,376.8 81.3,374.5 77.9,371.2 76.8,366.6 79.1,362.1 75.7,358.7"/>
<polygon points="88.1,338.4 91.5,336.1 93.7,339.5 94.9,344.1 91.5,345.2 89.2,342.4"/>
<polygon points="124.2,364.4 127.6,362.1 131.0,361.6 132.1,365.5 129.9,370.0 131.0,374.5 127.6,375.7 125.4,371.2 126.5,367.8"/>
<polygon points="124.2,390.9 128.7,389.2 131.0,392.6 131.6,397.1 128.7,396.0 126.5,393.7"/>
<polygon points="173.3,403.9 177.3,401.6 180.7,398.3 184.1,394.9 186.3,398.3 182.9,402.8 179.6,406.2 176.2,407.9 173.9,407.3"/>
<polygon points="158.1,396.0 162.6,394.9 166.0,398.3 169.4,397.1 167.1,400.5 162.6,401.6 159.2,399.4"/>
<polygon points="143.3,456.9 146.8,454.1 149.6,456.9 152.5,454.1 155.3,454.8 153.9,459.7 149.6,464.0 145.4,461.9"/>
<polygon points="124.2,390.6 128.5,389.2 131.3,393.4 130.6,396.9 126.3,395.5"/>
<polygon points="174.3,404.7 177.9,400.5 183.5,396.2 187.7,394.8 186.3,400.5 182.1,406.1 177.9,408.9 175.0,408.2"/>
<polygon points="187.0,425.9 190.6,421.6 197.6,418.8 201.9,420.2 199.0,424.5 193.4,427.3 189.2,429.4"/>
<polygon points="124.9,363.0 129.9,359.5 132.7,362.3 131.3,369.4 129.9,375.0 126.3,373.6 124.2,369.4"/>
<polygon points="104.5,483.7 110.1,478.1 115.8,472.4 121.4,465.4 127.0,462.6 127.8,466.8 124.2,472.4 120.0,478.1 114.3,482.3 110.1,488.0 105.9,488.7"/>
<polygon points="142.7,456.5 147.3,453.1 152.9,453.7 155.2,456.5 152.9,459.9 150.7,463.3 147.3,462.1 143.9,459.9"/>
<polygon points="110.0,476.8 114.5,470.0 120.2,464.4 125.8,462.1 126.9,465.5 123.6,470.0 120.2,476.8 115.6,481.3 112.3,482.4 110.0,481.3"/>
<polygon points="124.7,494.9 129.2,492.6 133.7,493.7 132.6,498.3 128.1,500.5 125.2,498.8"/>
</g>
<g fill="#84dc84">
<polygon points="344.5,292.1 350.1,289.3 357.2,287.9 364.2,286.5 371.3,287.2 378.3,284.3 385.4,285.0 392.5,283.6 396.7,285.0 399.5,287.9 403.7,289.3 406.6,293.5 409.4,296.3 413.6,295.6 410.8,298.5 406.6,300.6 402.3,299.2 398.1,297.0 393.9,294.9 389.6,295.6 385.4,294.9 381.2,297.0 375.5,299.2 369.9,299.9 364.2,299.2 360.0,300.6 354.3,298.5 348.7,297.0 345.2,295.6"/>
<polygon points="399.5,306.9 405.2,303.4 412.2,302.0 419.3,301.3 418.6,304.8 419.3,309.0 413.6,309.8 406.6,309.0 400.9,309.8"/>
<polygon points="461.6,237.8 464.4,238.5 467.3,244.1 471.5,249.8 475.7,255.4 481.4,257.5 485.6,259.6 484.9,265.3 481.4,266.7 478.6,261.0 472.9,256.8 467.3,249.8 463.0,244.1"/>
<polygon points="475.7,234.9 479.3,234.2 480.7,238.5 478.6,241.3 476.4,238.5"/>
<polygon points="342.3,182.6 345.9,181.9 348.7,185.4 352.9,184.0 357.2,182.6 361.4,183.3 363.5,185.4 360.0,187.5 357.2,191.0 351.5,193.2 347.3,193.2 345.2,189.6 343.8,186.1"/>
<polygon points="326.8,208.0 331.8,205.9 337.4,205.2 340.2,207.3 337.4,210.1 331.8,211.1 327.5,210.1"/>
<polygon points="22.0,334.5 28.2,330.5 33.9,326.0 40.7,320.3 48.6,314.7 55.3,309.0 62.1,303.4 67.8,298.3 72.3,300.0 70.0,304.5 73.4,309.0 76.8,315.8 79.1,323.7 77.9,327.1 73.4,324.9 67.8,320.3 63.2,318.1 58.7,320.3 54.2,324.9 49.7,331.6 45.2,330.5 38.4,328.2 33.9,330.5 29.4,333.9 26.0,336.7"/>
<polygon points="83.6,292.1 87.5,289.3 90.3,292.1 92.6,297.8 93.7,303.4 97.1,306.8 101.6,309.0 106.2,309.0 109.5,306.8 114.1,307.4 118.6,310.2 116.3,314.7 112.9,316.9 110.7,321.5 107.3,322.0 103.9,318.1 100.5,314.7 97.1,316.9 93.7,314.7 92.6,319.2 93.2,324.9 90.3,326.0 88.1,322.6 87.5,318.1 89.2,314.7 87.0,309.0 85.8,303.4 83.0,297.8"/>
<polygon points="72.3,354.2 77.9,352.5 83.6,354.2 88.1,350.8 91.5,347.4 96.0,350.8 99.4,356.5 102.2,362.1 101.6,364.9 97.1,363.3 92.6,364.4 90.3,367.8 88.1,371.2 90.3,375.7 92.6,379.1 89.2,379.6 84.7,376.8 81.3,374.5 77.9,371.2 76.8,366.6 79.1,362.1 75.7,358.7"/>
<polygon points="88.1,338.4 91.5,336.1 93.7,339.5 94.9,344.1 91.5,345.2 89.2,342.4"/>
<polygon points="124.2,364.4 127.6,362.1 131.0,361.6 132.1,365.5 129.9,370.0 131.0,374.5 127.6,375.7 125.4,371.2 126.5,367.8"/>
<polygon points="124.2,390.9 128.7,389.2 131.0,392.6 131.6,397.1 128.7,396.0 126.5,393.7"/>
<polygon points="173.3,403.9 177.3,401.6 180.7,398.3 184.1,394.9 186.3,398.3 182.9,402.8 179.6,406.2 176.2,407.9 173.9,407.3"/>
<polygon points="158.1,396.0 162.6,394.9 166.0,398.3 169.4,397.1 167.1,400.5 162.6,401.6 159.2,399.4"/>
<polygon points="143.3,456.9 146.8,454.1 149.6,456.9 152.5,454.1 155.3,454.8 153.9,459.7 149.6,464.0 145.4,461.9"/>
<polygon points="124.2,390.6 128.5,389.2 131.3,393.4 130.6,396.9 126.3,395.5"/>
<polygon points="174.3,404.7 177.9,400.5 183.5,396.2 187.7,394.8 186.3,400.5 182.1,406.1 177.9,408.9 175.0,408.2"/>
<polygon points="187.0,425.9 190.6,421.6 197.6,418.8 201.9,420.2 199.0,424.5 193.4,427.3 189.2,429.4"/>
<polygon points="124.9,363.0 129.9,359.5 132.7,362.3 131.3,369.4 129.9,375.0 126.3,373.6 124.2,369.4"/>
<polygon points="104.5,483.7 110.1,478.1 115.8,472.4 121.4,465.4 127.0,462.6 127.8,466.8 124.2,472.4 120.0,478.1 114.3,482.3 110.1,488.0 105.9,488.7"/>
<polygon points="142.7,456.5 147.3,453.1 152.9,453.7 155.2,456.5 152.9,459.9 150.7,463.3 147.3,462.1 143.9,459.9"/>
<polygon points="110.0,476.8 114.5,470.0 120.2,464.4 125.8,462.1 126.9,465.5 123.6,470.0 120.2,476.8 115.6,481.3 112.3,482.4 110.0,481.3"/>
<polygon points="124.7,494.9 129.2,492.6 133.7,493.7 132.6,498.3 128.1,500.5 125.2,498.8"/>
</g>
<clipPath id="gbl"><polygon points="133.9,248.2 132.5,256.0 130.4,265.9 131.1,275.7 134.6,284.2 134.6,292.7 131.8,301.2 130.4,309.6 128.2,318.1 126.8,326.6 126.1,335.0 127.5,343.5 131.1,349.2 136.0,354.8 139.5,360.4 140.9,367.5 145.2,371.7 150.8,374.6 156.5,378.1 157.9,383.0 156.5,388.7 159.3,392.9 164.9,395.7 170.6,398.7 175.5,402.3 180.0,400.0 185.7,398.9 189.1,402.3 191.3,405.7 195.8,407.9 201.5,407.9 206.0,409.0 209.4,405.7 211.6,400.0 213.9,393.2 212.8,386.5 216.2,381.9 221.8,379.7 227.4,375.2 229.7,368.4 232.0,361.6 234.2,354.8 237.6,349.2 241.0,344.7 236.5,341.3 239.9,335.6 245.5,336.8 251.2,340.2 256.8,337.9 262.5,335.6 271.1,334.5 276.7,331.6 282.3,326.0 288.0,320.3 288.0,313.3 283.8,306.2 282.3,297.8 283.8,289.3 288.0,283.6 296.5,280.8 304.9,278.0 313.4,278.0 321.9,275.2 330.3,276.6 336.0,278.0 338.8,272.3 333.2,268.1 327.5,265.3 323.3,261.0 323.3,249.8 327.5,244.1 324.7,238.5 319.1,232.8 316.2,225.8 313.4,218.7 314.6,226.3 307.5,224.9 303.3,230.6 303.3,239.0 297.6,246.1 287.7,247.5 279.3,244.7 276.5,236.2 279.3,227.8 277.9,220.7 280.0,212.2 278.6,205.2 276.5,198.1 272.9,192.5 269.4,186.8 263.7,184.0 258.1,181.9 253.2,179.1 248.2,179.1 241.2,181.9 234.1,184.0 227.0,186.1 220.0,184.7"/><polygon points="316.2,302.0 321.9,299.2 327.5,297.8 331.8,295.6 330.3,299.2 324.7,302.0 319.1,304.1"/><polygon points="209.5,453.7 214.1,449.2 220.8,446.9 227.6,443.5 234.4,441.3 241.2,437.9 247.9,435.6 252.5,436.8 255.8,442.4 257.5,448.1 262.6,449.2 267.1,444.7 269.4,439.0 273.9,435.6 280.7,433.4 285.2,431.1 289.7,426.6 294.2,424.3 300.0,423.2 300.0,451.4 295.4,454.8 290.9,457.1 287.5,460.5 286.9,467.3 285.2,472.9 286.9,479.7 285.8,486.5 282.4,492.1 280.1,498.9 278.4,505.7 279.6,510.2 275.0,512.4 269.4,510.2 265.4,507.9 262.6,512.4 260.9,519.2 263.2,526.0 267.7,530.5 269.4,535.0 258.1,542.9 250.2,548.3 188.1,548.3 185.8,545.2 182.4,541.8 183.6,536.1 179.1,520.3 185.8,518.1 190.3,519.2 194.9,516.9 196.0,510.2 198.2,504.5 201.6,502.3 208.4,497.8 212.9,486.5 210.7,475.2 208.4,463.9"/><polygon points="181.3,481.9 185.8,476.3 190.3,471.8 197.1,468.4 203.9,469.5 208.4,471.8 212.9,477.4 214.1,484.2 211.8,491.0 212.9,497.8 208.4,502.3 201.6,502.3 198.2,504.5 196.0,510.2 190.3,509.0 185.8,504.5 181.3,497.8 179.1,489.8"/><polygon points="100.0,548.3 100.0,531.6 104.5,527.1 111.3,524.9 118.1,520.3 124.8,518.1 131.6,516.9 136.1,520.3 140.7,518.1 147.4,520.3 156.5,518.1 163.2,514.7 170.0,511.3 179.1,509.0 183.6,513.6 185.8,520.3 183.6,536.1 185.8,548.3"/><polygon points="149.7,493.2 154.2,491.0 161.0,492.1 165.5,496.6 167.8,502.3 163.2,504.5 158.7,500.0 153.1,497.8"/><polygon points="124.8,494.4 129.4,492.1 133.9,494.4 132.7,497.8 127.1,500.0"/><polygon points="262.6,527.1 269.4,533.9 282.9,524.9 292.0,518.1 300.0,512.4 300.0,515.8 250.2,548.3 244.6,548.3 246.8,540.7 253.6,536.1 258.1,531.6"/><polygon points="13.0,528.9 19.8,523.3 28.2,520.4 36.7,517.6 46.6,512.0 56.5,506.3 64.9,503.5 73.4,506.3 70.6,513.4 76.2,520.4 84.7,523.3 93.2,520.4 103.0,517.6 103.0,548.4 13.0,548.4"/><polygon points="67.8,497.9 76.2,492.2 84.7,488.0 93.2,482.3 98.8,479.5 103.0,485.2 98.8,492.2 90.3,496.4 81.9,500.7 73.4,503.5"/><polygon points="271.9,438.2 276.9,434.5 283.1,433.2 286.8,429.5 289.3,433.2 294.3,438.2 297.4,444.4 297.4,450.6 294.3,454.4 290.6,456.8 286.8,460.6 287.5,468.0 285.0,475.5 282.5,482.9 285.0,490.4 283.7,496.6 280.6,501.6 278.1,506.5 274.4,507.8 271.9,495.3 270.7,470.5"/><polygon points="289.9,420.8 294.3,416.5 299.3,418.9 304.2,424.5 305.2,430.1 301.7,434.5 296.8,434.2 294.3,430.7 298.0,429.5 299.3,425.8 294.3,424.5 291.2,425.8"/><polygon points="303.0,505.3 304.2,495.3 306.7,487.9 311.7,481.7 316.6,484.2 321.0,487.3 322.9,489.8"/><polygon points="355.8,290.7 362.8,289.3 371.3,289.3 379.8,287.2 386.8,287.9 392.5,286.5 389.6,290.7 384.0,292.8 378.3,294.9 372.7,297.0 367.0,297.8 361.4,297.0 357.2,294.9"/><polygon points="463.7,241.3 466.6,245.5 471.5,252.6 477.2,257.5 483.5,261.0 482.8,264.6 478.6,260.3 472.9,256.1 467.3,249.1"/><polygon points="348.7,187.5 352.9,186.1 355.0,188.9 351.5,191.0 348.7,190.3"/><polygon points="125.4,365.5 128.7,363.3 130.4,366.6 128.7,370.0 125.9,369.5"/></clipPath>
<g fill="#5f94ff">
<polygon points="133.9,248.2 132.5,256.0 130.4,265.9 131.1,275.7 134.6,284.2 134.6,292.7 131.8,301.2 130.4,309.6 128.2,318.1 126.8,326.6 126.1,335.0 127.5,343.5 131.1,349.2 136.0,354.8 139.5,360.4 140.9,367.5 145.2,371.7 150.8,374.6 156.5,378.1 157.9,383.0 156.5,388.7 159.3,392.9 164.9,395.7 170.6,398.7 175.5,402.3 180.0,400.0 185.7,398.9 189.1,402.3 191.3,405.7 195.8,407.9 201.5,407.9 206.0,409.0 209.4,405.7 211.6,400.0 213.9,393.2 212.8,386.5 216.2,381.9 221.8,379.7 227.4,375.2 229.7,368.4 232.0,361.6 234.2,354.8 237.6,349.2 241.0,344.7 236.5,341.3 239.9,335.6 245.5,336.8 251.2,340.2 256.8,337.9 262.5,335.6 271.1,334.5 276.7,331.6 282.3,326.0 288.0,320.3 288.0,313.3 283.8,306.2 282.3,297.8 283.8,289.3 288.0,283.6 296.5,280.8 304.9,278.0 313.4,278.0 321.9,275.2 330.3,276.6 336.0,278.0 338.8,272.3 333.2,268.1 327.5,265.3 323.3,261.0 323.3,249.8 327.5,244.1 324.7,238.5 319.1,232.8 316.2,225.8 313.4,218.7 314.6,226.3 307.5,224.9 303.3,230.6 303.3,239.0 297.6,246.1 287.7,247.5 279.3,244.7 276.5,236.2 279.3,227.8 277.9,220.7 280.0,212.2 278.6,205.2 276.5,198.1 272.9,192.5 269.4,186.8 263.7,184.0 258.1,181.9 253.2,179.1 248.2,179.1 241.2,181.9 234.1,184.0 227.0,186.1 220.0,184.7"/>
<polygon points="316.2,302.0 321.9,299.2 327.5,297.8 331.8,295.6 330.3,299.2 324.7,302.0 319.1,304.1"/>
<polygon points="209.5,453.7 214.1,449.2 220.8,446.9 227.6,443.5 234.4,441.3 241.2,437.9 247.9,435.6 252.5,436.8 255.8,442.4 257.5,448.1 262.6,449.2 267.1,444.7 269.4,439.0 273.9,435.6 280.7,433.4 285.2,431.1 289.7,426.6 294.2,424.3 300.0,423.2 300.0,451.4 295.4,454.8 290.9,457.1 287.5,460.5 286.9,467.3 285.2,472.9 286.9,479.7 285.8,486.5 282.4,492.1 280.1,498.9 278.4,505.7 279.6,510.2 275.0,512.4 269.4,510.2 265.4,507.9 262.6,512.4 260.9,519.2 263.2,526.0 267.7,530.5 269.4,535.0 258.1,542.9 250.2,548.3 188.1,548.3 185.8,545.2 182.4,541.8 183.6,536.1 179.1,520.3 185.8,518.1 190.3,519.2 194.9,516.9 196.0,510.2 198.2,504.5 201.6,502.3 208.4,497.8 212.9,486.5 210.7,475.2 208.4,463.9"/>
<polygon points="181.3,481.9 185.8,476.3 190.3,471.8 197.1,468.4 203.9,469.5 208.4,471.8 212.9,477.4 214.1,484.2 211.8,491.0 212.9,497.8 208.4,502.3 201.6,502.3 198.2,504.5 196.0,510.2 190.3,509.0 185.8,504.5 181.3,497.8 179.1,489.8"/>
<polygon points="100.0,548.3 100.0,531.6 104.5,527.1 111.3,524.9 118.1,520.3 124.8,518.1 131.6,516.9 136.1,520.3 140.7,518.1 147.4,520.3 156.5,518.1 163.2,514.7 170.0,511.3 179.1,509.0 183.6,513.6 185.8,520.3 183.6,536.1 185.8,548.3"/>
<polygon points="149.7,493.2 154.2,491.0 161.0,492.1 165.5,496.6 167.8,502.3 163.2,504.5 158.7,500.0 153.1,497.8"/>
<polygon points="124.8,494.4 129.4,492.1 133.9,494.4 132.7,497.8 127.1,500.0"/>
<polygon points="262.6,527.1 269.4,533.9 282.9,524.9 292.0,518.1 300.0,512.4 300.0,515.8 250.2,548.3 244.6,548.3 246.8,540.7 253.6,536.1 258.1,531.6"/>
<polygon points="13.0,528.9 19.8,523.3 28.2,520.4 36.7,517.6 46.6,512.0 56.5,506.3 64.9,503.5 73.4,506.3 70.6,513.4 76.2,520.4 84.7,523.3 93.2,520.4 103.0,517.6 103.0,548.4 13.0,548.4"/>
<polygon points="67.8,497.9 76.2,492.2 84.7,488.0 93.2,482.3 98.8,479.5 103.0,485.2 98.8,492.2 90.3,496.4 81.9,500.7 73.4,503.5"/>
<polygon points="271.9,438.2 276.9,434.5 283.1,433.2 286.8,429.5 289.3,433.2 294.3,438.2 297.4,444.4 297.4,450.6 294.3,454.4 290.6,456.8 286.8,460.6 287.5,468.0 285.0,475.5 282.5,482.9 285.0,490.4 283.7,496.6 280.6,501.6 278.1,506.5 274.4,507.8 271.9,495.3 270.7,470.5"/>
<polygon points="289.9,420.8 294.3,416.5 299.3,418.9 304.2,424.5 305.2,430.1 301.7,434.5 296.8,434.2 294.3,430.7 298.0,429.5 299.3,425.8 294.3,424.5 291.2,425.8"/>
<polygon points="303.0,505.3 304.2,495.3 306.7,487.9 311.7,481.7 316.6,484.2 321.0,487.3 322.9,489.8"/>
<polygon points="355.8,290.7 362.8,289.3 371.3,289.3 379.8,287.2 386.8,287.9 392.5,286.5 389.6,290.7 384.0,292.8 378.3,294.9 372.7,297.0 367.0,297.8 361.4,297.0 357.2,294.9"/>
<polygon points="463.7,241.3 466.6,245.5 471.5,252.6 477.2,257.5 483.5,261.0 482.8,264.6 478.6,260.3 472.9,256.1 467.3,249.1"/>
<polygon points="348.7,187.5 352.9,186.1 355.0,188.9 351.5,191.0 348.7,190.3"/>
<polygon points="125.4,365.5 128.7,363.3 130.4,366.6 128.7,370.0 125.9,369.5"/>
</g>
<g filter="url(#b2)">
<polygon points="136.0,248.2 220.0,185.7 241.2,187.5 255.3,191.8 266.6,200.9 272.9,212.2 271.5,224.9 266.6,236.2 260.2,244.7 264.5,256.0 269.4,267.3 266.6,278.6 259.5,287.0 255.3,295.5 252.5,304.0 255.3,315.3 249.6,322.3 241.2,326.6 232.7,329.4 227.0,335.0 218.6,337.9 207.3,336.4 198.8,339.3 187.5,337.9 179.1,339.3 167.8,336.4 159.3,335.0 155.1,346.3 148.0,349.2 141.6,343.5 138.8,332.2 136.0,318.1 135.0,304.0 136.0,289.9 134.6,275.7 133.9,261.6" fill="#0c10e4"/>
<polygon points="260.9,308.2 269.4,305.4 275.0,312.4 276.5,322.3 269.4,329.4 262.3,326.6 258.1,318.1" fill="#0c10e4"/>
<polygon points="179.1,336.4 198.8,333.6 212.9,337.9 207.3,346.3 193.2,349.2 181.9,346.3" fill="#0c10e4"/>
<polygon points="300.5,247.5 308.9,241.9 317.4,247.5 311.7,258.8 303.3,261.6" fill="#0c10e4"/>
<polygon points="212.9,452.6 222.0,449.2 231.0,456.0 240.0,466.1 250.2,463.9 260.4,472.9 269.4,481.9 273.9,491.0 269.4,497.8 260.4,493.2 251.3,491.0 246.8,497.8 246.8,509.0 242.3,515.8 235.5,520.3 231.0,531.6 224.2,540.7 212.9,542.9 210.7,531.6 217.4,524.9 226.5,520.3 228.7,509.0 224.2,497.8 217.4,491.0 212.9,479.7 210.7,466.1" fill="#0c10e4"/>
<polygon points="194.9,477.4 201.6,475.2 208.4,481.9 208.4,493.2 201.6,497.8 197.1,491.0" fill="#0c10e4"/>
<polygon points="185.8,536.1 197.1,542.9 208.4,538.4 212.9,545.2 208.4,548.3 188.1,548.3" fill="#0c10e4"/>
<polygon points="111.3,538.4 122.6,531.6 133.9,529.4 133.9,548.3 111.3,548.3" fill="#0c10e4"/>
<polygon points="262.6,529.4 271.7,533.9 260.4,542.9 251.3,548.3 246.8,548.3 251.3,538.4" fill="#0c10e4"/>
<polygon points="233.3,435.6 246.8,434.5 253.6,441.3 246.8,445.8 237.8,443.5" fill="#0c10e4"/>
</g>
<g filter="url(#b2)">
<polygon points="128.2,289.9 134.6,287.0 136.0,304.0 133.2,325.2 131.8,346.3 136.0,356.2 130.4,354.1 126.1,339.3 127.1,318.1" fill="#aec8ff"/>
<polygon points="266.6,287.0 277.9,281.4 287.7,284.2 286.3,298.3 277.9,301.2 269.4,295.5" fill="#aec8ff"/>
<polygon points="249.6,325.2 260.9,329.4 275.0,333.6 266.6,337.9 253.9,335.0" fill="#aec8ff"/>
<polygon points="167.8,360.4 184.7,357.6 207.3,363.3 224.2,360.4 221.4,374.6 207.3,385.9 190.3,388.7 173.4,383.0 162.1,371.7" fill="#aec8ff"/>
<polygon points="262.3,227.8 269.4,224.9 273.6,233.4 269.4,244.7 263.7,239.0" fill="#aec8ff"/>
<polygon points="297.6,275.7 311.7,268.7 320.2,261.6 325.9,265.9 314.6,275.7 303.3,280.0" fill="#aec8ff"/>
<polygon points="252.5,181.2 263.7,185.4 272.2,195.3 276.5,208.0 272.9,199.5 266.6,191.0 255.3,185.4" fill="#aec8ff"/>
<polygon points="155.2,379.7 168.7,377.4 182.3,381.9 195.8,388.7 207.1,395.5 209.4,404.5 198.1,405.7 186.8,397.8 173.2,391.0 159.7,388.7" fill="#aec8ff"/>
<polygon points="212.9,443.5 224.2,440.2 233.3,441.3 224.2,448.1 215.2,451.4" fill="#aec8ff"/>
<polygon points="250.2,493.2 260.4,497.8 269.4,504.5 267.1,509.0 258.1,506.8 251.3,502.3" fill="#aec8ff"/>
<polygon points="182.4,488.7 188.1,481.9 193.7,486.5 190.3,497.8 184.7,500.0" fill="#aec8ff"/>
<polygon points="274.4,438.2 284.3,434.5 291.8,440.7 295.5,449.4 289.3,455.6 279.4,450.6" fill="#aec8ff"/>
<polygon points="253.3,492.9 264.5,495.3 269.4,505.3 264.5,512.7 254.5,507.8" fill="#aec8ff"/>
<polygon points="28.2,523.3 46.6,516.2 59.3,510.6 66.3,516.2 56.5,523.3 42.3,528.9 31.1,531.7" fill="#aec8ff"/>
</g>
<polygon points="282.1,224.9 289.2,222.1 297.6,223.5 303.3,227.8 304.7,236.2 300.5,243.3 292.0,246.1 283.5,244.7 279.3,239.0 280.0,230.6" fill="#84dc84"/>
<polygon points="215.8,357.6 227.0,356.2 232.7,363.3 229.9,374.6 232.7,385.9 227.0,394.3 221.4,398.7 212.9,398.7 215.8,388.7 221.4,380.2 220.0,368.9" fill="#84dc84"/>
<polygon points="313.4,262.5 324.7,261.0 336.0,265.3 344.5,272.3 341.6,280.8 336.0,285.0 327.5,282.2 319.1,279.4 313.4,275.2" fill="#84dc84"/>
<polygon points="211.6,383.1 222.9,381.9 236.5,384.2 235.4,409.0 232.0,420.3 227.4,431.6 218.4,431.6 222.9,420.3 225.2,411.3 218.4,407.9 211.6,406.8 213.9,397.8" fill="#84dc84"/>
<polygon points="216.2,345.8 222.9,344.7 232.0,350.3 232.0,363.9 227.4,372.9 218.4,377.4 211.6,372.9 216.2,361.6" fill="#84dc84"/>
<polygon points="13.0,534.6 21.2,531.7 28.2,537.4 25.4,548.4 13.0,548.4" fill="#84dc84"/>
<polygon points="48.0,540.2 59.3,537.4 67.8,541.6 64.9,548.4 50.8,548.4" fill="#84dc84"/>
<polygon points="234.4,456.0 240.0,452.6 244.6,457.1 245.7,466.1 241.2,468.4 236.6,463.9" fill="#84dc84"/>
<g clip-path="url(#gbl)"><rect x="13" y="41" width="474" height="508" filter="url(#nzb)" opacity="0.55"/><rect x="13" y="41" width="474" height="508" filter="url(#nzk)" opacity="0.45"/></g>
<g fill="none" stroke="#000" stroke-width="2.4" stroke-linejoin="round">
<polygon points="140.9,246.1 148.0,247.5 156.5,243.3 162.1,239.0 169.2,233.4 170.6,227.8 176.2,222.1 184.7,216.5 190.3,209.4 198.8,205.2 207.3,206.6 215.8,202.3 222.8,198.1 228.5,195.3 231.3,202.3 235.5,199.5 241.2,198.1 239.8,202.3 232.7,205.2 227.0,208.0 221.4,210.8 227.0,215.0 235.5,219.3 241.2,223.5 248.2,226.3 252.5,233.4 253.9,239.0 248.2,241.9 241.2,246.1 245.4,253.2 249.6,258.8 253.9,264.5 259.5,261.6 265.2,264.5 262.3,270.1 255.3,272.9 252.5,277.2 259.5,280.0 263.7,282.8 258.1,287.0 252.5,288.5 248.2,289.9 241.2,288.5 235.5,292.7 234.1,298.3 241.2,295.5 246.8,301.2 248.2,308.2 246.8,316.7 241.2,313.9 236.9,308.2 232.7,304.0 227.0,308.2 222.8,313.9 220.0,318.1 224.2,323.7 222.8,330.8 217.2,326.6 215.8,319.5 218.6,313.9 212.9,308.2 207.3,304.0 203.0,309.6 204.5,318.1 201.6,326.6 197.4,330.8 191.8,328.0 190.3,322.3 187.5,329.4 184.7,333.6 179.1,335.0 176.2,329.4 179.1,323.7 174.8,319.5 176.2,313.9 172.0,308.2 169.2,302.6 173.4,298.3 180.5,298.3 179.1,292.7 173.4,287.0 172.0,281.4 174.8,275.7 173.4,270.1 179.1,264.5 180.5,257.4 184.7,253.2 183.3,247.5 187.5,244.7 188.9,239.0 184.7,234.8 180.5,240.5 174.8,244.7 169.2,250.3 164.9,256.0 166.3,261.6 162.1,268.7 163.5,275.7 159.3,282.8 156.5,289.9 160.7,294.1 156.5,301.2 159.3,306.8 160.7,315.3 164.9,323.7 162.1,329.4 156.5,330.8 153.6,336.4 150.8,342.1 148.0,337.9 143.8,332.2 142.3,325.2 140.9,318.1 139.5,311.0 142.3,304.0 139.5,296.9 142.3,289.9 140.9,282.8 143.8,275.7 140.9,268.7 142.3,261.6 140.9,254.6"/>
<polygon points="273.6,250.3 279.3,248.9 284.9,253.2 290.6,253.2 293.4,260.2 296.2,264.5 293.4,268.7 286.3,268.7 282.1,263.0 277.9,257.4"/>
<polygon points="142.3,346.3 146.6,343.5 150.8,346.3 150.1,352.0 145.2,354.1 142.3,350.6"/>
<polygon points="162.1,357.6 167.8,354.8 173.4,356.2 170.6,360.4 164.9,360.4"/>
<polygon points="184.7,350.6 190.3,347.7 198.8,352.0 204.5,346.3 210.1,344.9 210.1,353.4 207.3,360.4 201.6,356.2 198.8,361.9 193.2,366.1 187.5,363.3 183.3,357.6"/>
<polygon points="146.6,366.1 150.1,363.3 150.8,368.9 148.7,373.1 145.2,371.7"/>
<polygon points="259.5,330.8 262.3,328.7 264.5,331.5 262.1,333.6"/>
<polygon points="312.5,239.0 313.9,238.3 316.7,244.7 315.3,246.1"/>
<polygon points="132.7,548.3 133.9,540.7 135.0,531.6 137.3,522.6 139.5,518.1 145.2,519.2 149.7,522.6 156.5,520.3 163.2,516.9 170.0,512.4 176.8,510.7 182.4,512.4 185.8,518.1 190.3,519.2 194.9,516.9 196.0,510.2 198.2,504.5 201.6,502.3 205.0,506.8 208.4,509.0 212.9,507.9 217.4,504.5 217.4,497.8 222.0,495.5 225.4,492.1 227.6,496.6 232.1,495.5 235.5,492.1 241.2,493.2 245.7,495.5 246.8,502.3 245.7,509.0 243.4,506.8 238.9,507.9 234.4,506.8 229.9,507.9 228.7,513.6 227.6,520.3 228.7,527.1 226.5,529.4 223.1,524.9 219.7,523.7 215.2,527.1 211.8,531.6 208.4,536.1 209.5,541.8 205.0,540.7 200.5,538.4 196.0,541.8 192.6,538.4 188.1,533.9 183.6,536.1 182.4,541.8 185.8,545.2 188.1,548.3"/>
<polygon points="221.4,462.2 224.2,463.9 227.6,465.0 231.0,462.7 233.3,466.1 237.8,467.3 241.2,471.8 242.3,476.3 241.7,480.2 237.8,477.4 233.3,475.2 229.9,477.4 225.4,475.2 222.0,475.7 220.8,469.5"/>
<polygon points="247.9,471.8 251.3,470.6 254.7,475.2 259.2,480.8 263.7,485.3 266.0,489.8 263.7,491.0 259.2,486.5 254.7,481.9 250.2,477.4"/>
<polygon points="277.9,479.7 280.1,477.4 281.8,481.9 280.1,485.3 278.4,484.2"/>
<polygon points="245.7,441.3 249.1,439.0 251.3,442.4 247.9,445.2 245.7,444.1"/>
<polygon points="217.4,535.0 220.8,533.9 223.1,537.3 219.7,539.5"/>
<polygon points="101.7,532.8 104.5,531.6 105.6,535.0 102.8,536.1"/>
<polygon points="107.9,534.5 110.7,533.9 111.3,536.7 109.0,537.3"/>
<polygon points="114.7,536.1 116.9,535.6 117.5,540.7 115.2,541.2"/>
<polygon points="123.7,527.1 126.5,526.0 127.1,529.9 124.3,530.5"/>
<polygon points="246.8,463.9 250.2,462.7 258.1,466.1 259.2,469.0 255.8,469.5 251.3,467.3"/>
<polygon points="53.6,528.9 56.5,521.9 62.1,524.7 67.8,528.9 64.9,530.3 56.5,530.3"/>
<polygon points="73.4,519.0 77.6,513.4 83.3,516.2 87.5,523.3 91.8,528.9 90.3,533.1 83.3,534.6 76.2,533.1 72.0,528.9"/>
<polygon points="93.2,519.0 97.4,516.2 98.8,520.4 96.0,523.3"/>
<polygon points="13.0,517.6 15.5,516.2 16.2,523.3 13.0,524.7"/>
<polygon points="304.2,505.3 304.2,495.3 310.4,490.4 315.4,487.9 319.1,491.6 321.0,493.9"/>
</g>
<g fill="#ffe400">
<polygon points="140.9,246.1 148.0,247.5 156.5,243.3 162.1,239.0 169.2,233.4 170.6,227.8 176.2,222.1 184.7,216.5 190.3,209.4 198.8,205.2 207.3,206.6 215.8,202.3 222.8,198.1 228.5,195.3 231.3,202.3 235.5,199.5 241.2,198.1 239.8,202.3 232.7,205.2 227.0,208.0 221.4,210.8 227.0,215.0 235.5,219.3 241.2,223.5 248.2,226.3 252.5,233.4 253.9,239.0 248.2,241.9 241.2,246.1 245.4,253.2 249.6,258.8 253.9,264.5 259.5,261.6 265.2,264.5 262.3,270.1 255.3,272.9 252.5,277.2 259.5,280.0 263.7,282.8 258.1,287.0 252.5,288.5 248.2,289.9 241.2,288.5 235.5,292.7 234.1,298.3 241.2,295.5 246.8,301.2 248.2,308.2 246.8,316.7 241.2,313.9 236.9,308.2 232.7,304.0 227.0,308.2 222.8,313.9 220.0,318.1 224.2,323.7 222.8,330.8 217.2,326.6 215.8,319.5 218.6,313.9 212.9,308.2 207.3,304.0 203.0,309.6 204.5,318.1 201.6,326.6 197.4,330.8 191.8,328.0 190.3,322.3 187.5,329.4 184.7,333.6 179.1,335.0 176.2,329.4 179.1,323.7 174.8,319.5 176.2,313.9 172.0,308.2 169.2,302.6 173.4,298.3 180.5,298.3 179.1,292.7 173.4,287.0 172.0,281.4 174.8,275.7 173.4,270.1 179.1,264.5 180.5,257.4 184.7,253.2 183.3,247.5 187.5,244.7 188.9,239.0 184.7,234.8 180.5,240.5 174.8,244.7 169.2,250.3 164.9,256.0 166.3,261.6 162.1,268.7 163.5,275.7 159.3,282.8 156.5,289.9 160.7,294.1 156.5,301.2 159.3,306.8 160.7,315.3 164.9,323.7 162.1,329.4 156.5,330.8 153.6,336.4 150.8,342.1 148.0,337.9 143.8,332.2 142.3,325.2 140.9,318.1 139.5,311.0 142.3,304.0 139.5,296.9 142.3,289.9 140.9,282.8 143.8,275.7 140.9,268.7 142.3,261.6 140.9,254.6"/>
<polygon points="273.6,250.3 279.3,248.9 284.9,253.2 290.6,253.2 293.4,260.2 296.2,264.5 293.4,268.7 286.3,268.7 282.1,263.0 277.9,257.4"/>
<polygon points="142.3,346.3 146.6,343.5 150.8,346.3 150.1,352.0 145.2,354.1 142.3,350.6"/>
<polygon points="162.1,357.6 167.8,354.8 173.4,356.2 170.6,360.4 164.9,360.4"/>
<polygon points="184.7,350.6 190.3,347.7 198.8,352.0 204.5,346.3 210.1,344.9 210.1,353.4 207.3,360.4 201.6,356.2 198.8,361.9 193.2,366.1 187.5,363.3 183.3,357.6"/>
<polygon points="146.6,366.1 150.1,363.3 150.8,368.9 148.7,373.1 145.2,371.7"/>
<polygon points="259.5,330.8 262.3,328.7 264.5,331.5 262.1,333.6"/>
<polygon points="312.5,239.0 313.9,238.3 316.7,244.7 315.3,246.1"/>
<polygon points="132.7,548.3 133.9,540.7 135.0,531.6 137.3,522.6 139.5,518.1 145.2,519.2 149.7,522.6 156.5,520.3 163.2,516.9 170.0,512.4 176.8,510.7 182.4,512.4 185.8,518.1 190.3,519.2 194.9,516.9 196.0,510.2 198.2,504.5 201.6,502.3 205.0,506.8 208.4,509.0 212.9,507.9 217.4,504.5 217.4,497.8 222.0,495.5 225.4,492.1 227.6,496.6 232.1,495.5 235.5,492.1 241.2,493.2 245.7,495.5 246.8,502.3 245.7,509.0 243.4,506.8 238.9,507.9 234.4,506.8 229.9,507.9 228.7,513.6 227.6,520.3 228.7,527.1 226.5,529.4 223.1,524.9 219.7,523.7 215.2,527.1 211.8,531.6 208.4,536.1 209.5,541.8 205.0,540.7 200.5,538.4 196.0,541.8 192.6,538.4 188.1,533.9 183.6,536.1 182.4,541.8 185.8,545.2 188.1,548.3"/>
<polygon points="221.4,462.2 224.2,463.9 227.6,465.0 231.0,462.7 233.3,466.1 237.8,467.3 241.2,471.8 242.3,476.3 241.7,480.2 237.8,477.4 233.3,475.2 229.9,477.4 225.4,475.2 222.0,475.7 220.8,469.5"/>
<polygon points="247.9,471.8 251.3,470.6 254.7,475.2 259.2,480.8 263.7,485.3 266.0,489.8 263.7,491.0 259.2,486.5 254.7,481.9 250.2,477.4"/>
<polygon points="277.9,479.7 280.1,477.4 281.8,481.9 280.1,485.3 278.4,484.2"/>
<polygon points="245.7,441.3 249.1,439.0 251.3,442.4 247.9,445.2 245.7,444.1"/>
<polygon points="217.4,535.0 220.8,533.9 223.1,537.3 219.7,539.5"/>
<polygon points="101.7,532.8 104.5,531.6 105.6,535.0 102.8,536.1"/>
<polygon points="107.9,534.5 110.7,533.9 111.3,536.7 109.0,537.3"/>
<polygon points="114.7,536.1 116.9,535.6 117.5,540.7 115.2,541.2"/>
<polygon points="123.7,527.1 126.5,526.0 127.1,529.9 124.3,530.5"/>
<polygon points="246.8,463.9 250.2,462.7 258.1,466.1 259.2,469.0 255.8,469.5 251.3,467.3"/>
<polygon points="53.6,528.9 56.5,521.9 62.1,524.7 67.8,528.9 64.9,530.3 56.5,530.3"/>
<polygon points="73.4,519.0 77.6,513.4 83.3,516.2 87.5,523.3 91.8,528.9 90.3,533.1 83.3,534.6 76.2,533.1 72.0,528.9"/>
<polygon points="93.2,519.0 97.4,516.2 98.8,520.4 96.0,523.3"/>
<polygon points="13.0,517.6 15.5,516.2 16.2,523.3 13.0,524.7"/>
<polygon points="304.2,505.3 304.2,495.3 310.4,490.4 315.4,487.9 319.1,491.6 321.0,493.9"/>
</g>
<g filter="url(#b1)">
<polygon points="191.8,256.0 198.8,247.5 207.3,241.9 217.2,239.0 227.0,241.9 235.5,247.5 241.2,256.0 244.0,265.9 242.6,275.7 238.3,284.2 232.7,289.9 227.0,298.3 221.4,304.0 212.9,301.2 207.3,294.1 198.8,289.9 193.2,282.8 190.3,272.9 190.3,264.5" fill="#ff9010"/>
<polygon points="179.1,222.1 187.5,215.0 198.8,208.0 210.1,208.0 220.0,203.8 225.6,200.9 224.2,206.6 215.8,212.2 207.3,215.0 198.8,219.3 191.8,224.9 184.7,229.2 179.1,229.2" fill="#ff9010"/>
<polygon points="146.6,256.0 153.6,253.2 159.3,258.8 157.9,268.7 155.1,278.6 152.2,289.9 153.6,301.2 152.2,311.0 155.1,320.9 152.2,330.8 148.0,329.4 145.2,320.9 143.8,311.0 145.2,301.2 143.8,289.9 145.2,278.6 145.2,267.3" fill="#ff9010"/>
<polygon points="235.5,296.9 241.2,296.2 246.8,302.6 246.8,315.3 241.2,312.4 236.9,305.4" fill="#ff9010"/>
<polygon points="276.5,251.7 283.5,254.6 290.6,256.0 294.1,264.5 287.7,267.3 282.1,261.6" fill="#ff9010"/>
<polygon points="143.1,347.0 146.6,344.9 149.7,347.0 149.4,351.3 145.2,353.1" fill="#ff9010"/>
<polygon points="135.0,548.3 136.1,536.1 138.4,524.9 145.2,521.5 151.9,524.9 158.7,522.6 167.8,518.1 176.8,513.6 181.3,515.8 183.6,522.6 181.3,531.6 180.2,540.7 183.6,548.3" fill="#ff9010"/>
<polygon points="188.1,529.4 194.9,520.3 201.6,515.8 206.2,511.3 212.9,510.2 217.4,506.8 219.7,500.0 224.2,496.6 226.5,500.0 224.2,509.0 222.0,518.1 217.4,522.6 210.7,527.1 205.0,536.1 199.4,536.1 193.7,536.1" fill="#ff9010"/>
<polygon points="229.9,497.8 235.5,494.4 242.3,496.6 244.6,502.3 240.0,505.7 233.3,505.7" fill="#ff9010"/>
<polygon points="223.1,466.1 229.9,467.3 235.5,469.5 240.0,474.0 240.0,477.4 233.3,473.5 226.5,473.5 223.1,471.8" fill="#ff9010"/>
<polygon points="55.1,528.2 57.2,524.0 62.1,526.1 65.6,528.9 57.9,529.6" fill="#ff9010"/>
<polygon points="74.8,520.4 78.3,515.5 82.6,517.6 86.1,524.0 89.6,528.9 88.2,531.7 83.3,533.1 76.9,531.7 74.1,528.2" fill="#ff9010"/>
<polygon points="304.8,504.0 305.5,496.0 311.1,491.6 315.4,489.8 319.8,493.5" fill="#ff9010"/>
</g>
<g filter="url(#b2)">
<polygon points="201.6,261.6 207.3,253.2 215.8,246.1 224.2,244.7 229.9,250.3 232.7,260.2 231.3,270.1 227.0,278.6 220.0,282.8 211.5,281.4 204.5,275.7 200.2,268.7" fill="#ff3c08"/>
<polygon points="170.0,520.3 174.5,522.6 175.7,531.6 172.3,536.1 168.9,531.6 167.8,524.9" fill="#ff3c08"/>
<polygon points="190.3,529.4 198.2,526.0 206.2,520.3 214.1,518.1 218.6,516.9 216.3,521.5 208.4,527.1 201.6,531.6 194.9,532.8" fill="#ff3c08"/>
<polygon points="233.3,498.9 238.3,497.8 241.2,501.7 239.5,504.5 235.0,504.8" fill="#ff3c08"/>
<polygon points="305.5,502.8 306.7,496.6 311.7,493.5 316.6,492.2" fill="#ff3c08"/>
</g>
<polygon points="142.3,311.0 146.6,308.2 149.4,312.4 148.7,318.1 146.6,322.3 142.3,319.5 140.9,315.3" fill="#f01808" stroke="#000" stroke-width="1.1" stroke-linejoin="round"/>
<polygon points="212.9,260.2 217.2,257.4 221.4,260.2 225.6,261.6 224.2,265.9 220.0,268.7 215.8,267.3 212.9,264.5" fill="none" stroke="#000" stroke-width="1.0" stroke-linejoin="round"/>
<ellipse cx="198.8" cy="233.4" rx="2.4" ry="8.5" transform="rotate(25 198.8 233.4)" fill="#1428ea" stroke="#000" stroke-width="0.9"/>
<ellipse cx="204.5" cy="229.2" rx="2.4" ry="8.5" transform="rotate(25 204.5 229.2)" fill="#1428ea" stroke="#000" stroke-width="0.9"/>
<ellipse cx="210.8" cy="225.6" rx="2.4" ry="8.5" transform="rotate(25 210.8 225.6)" fill="#1428ea" stroke="#000" stroke-width="0.9"/>
<ellipse cx="217.2" cy="222.1" rx="2.4" ry="8.5" transform="rotate(25 217.2 222.1)" fill="#1428ea" stroke="#000" stroke-width="0.9"/>
<ellipse cx="223.5" cy="218.6" rx="2.4" ry="8.5" transform="rotate(25 223.5 218.6)" fill="#1428ea" stroke="#000" stroke-width="0.9"/>
<ellipse cx="229.2" cy="215.8" rx="2.4" ry="8.5" transform="rotate(25 229.2 215.8)" fill="#1428ea" stroke="#000" stroke-width="0.9"/>
<polygon points="176.2,313.9 184.7,311.0 193.2,312.4 201.6,311.0 203.0,318.1 198.8,325.2 193.2,323.7 187.5,326.6 181.9,322.3 177.6,320.9" fill="#1020e8" stroke="#000" stroke-width="1.0" stroke-linejoin="round"/>
<polygon points="157.9,281.4 166.3,280.0 176.2,289.9 179.1,295.5 173.4,296.9 166.3,291.3 160.7,288.5" fill="#1020e8"/>
<polygon points="159.3,292.7 170.6,296.9 179.1,302.6 173.4,305.4 163.5,301.2" fill="#1020e8"/>
<polygon points="141.2,520.9 144.6,520.3 150.8,527.1 158.7,535.0 163.2,540.7 167.8,548.3 157.6,548.3 153.1,541.8 147.4,533.9 142.9,527.1" fill="#1428ea" stroke="#000" stroke-width="1.0" stroke-linejoin="round"/>
<polygon points="184.1,536.1 188.1,534.5 193.7,539.5 198.2,541.8 201.6,548.3 188.1,548.3 185.8,544.1" fill="#1428ea" stroke="#000" stroke-width="1.0" stroke-linejoin="round"/>
<polygon points="188.2,356.2 192.5,355.5 193.9,359.7 190.3,361.2 187.5,359.7" fill="#2a4cf0"/>
<ellipse cx="330.8" cy="256.7" rx="5.6" ry="5.6" transform="rotate(0 330.8 256.7)" fill="#cfcfcf" stroke="#000" stroke-width="1.1"/>
<polygon points="304.2,283.9 307.8,281.5 313.4,282.9 319.1,280.4 324.7,281.5 328.7,280.4 332.0,281.9 329.8,284.8 324.7,286.2 321.3,289.0 318.5,293.2 315.7,298.0 310.6,300.9 307.8,303.4 306.3,301.3 310.6,297.8 313.4,293.5 310.6,290.0 306.3,287.9" fill="#c8c8c8" stroke="#000" stroke-width="1.0" stroke-linejoin="round"/>
<polygon points="208.2,418.1 211.6,411.3 213.9,406.8 218.4,407.9 222.9,409.0 225.2,413.6 222.9,419.2 221.8,424.9 218.4,430.5 216.2,437.3 211.6,439.5 208.2,436.1 209.4,429.4 208.2,423.7" fill="#c6c6c6" stroke="#000" stroke-width="1.0" stroke-linejoin="round"/>
<polygon points="18.4,516.2 28.2,512.0 36.7,513.4 42.3,517.6 39.5,526.1 31.1,528.9 22.6,527.5 16.9,523.3" fill="#c9c9c9" stroke="#000" stroke-width="1.0" stroke-linejoin="round"/>
<polygon points="201.6,571.2 205.0,570.0 208.4,576.8 209.0,583.6 206.2,584.7 203.3,579.1" fill="#c9c9c9"/>
<polygon points="247.9,451.4 252.5,450.3 255.8,452.6 253.6,454.8 249.1,454.3" fill="#c6c6c6" stroke="#000" stroke-width="0.9" stroke-linejoin="round"/>
<polygon points="266.0,461.6 271.7,461.0 273.9,466.1 269.4,467.3" fill="#c6c6c6" stroke="#000" stroke-width="0.9" stroke-linejoin="round"/>
<polygon points="192.6,481.9 197.1,481.4 198.2,485.3 194.3,485.9" fill="#c6c6c6" stroke="#000" stroke-width="0.9" stroke-linejoin="round"/>
<path d="M189.4 221.9h1.8v1.8h-1.8zM183.1 276.3h1.8v1.8h-1.8zM175.3 275.6h1.8v1.8h-1.8zM217.7 288.7h1.8v1.8h-1.8zM238.9 260.0h1.8v1.8h-1.8zM159.8 320.0h1.8v1.8h-1.8zM146.4 298.1h1.8v1.8h-1.8zM265.7 245.2h1.8v1.8h-1.8zM257.2 195.1h1.8v1.8h-1.8zM255.1 200.7h1.8v1.8h-1.8zM257.9 203.6h1.8v1.8h-1.8zM293.9 221.2h1.8v1.8h-1.8zM262.8 293.2h1.8v1.8h-1.8zM281.2 289.0h1.8v1.8h-1.8zM254.4 311.5h1.8v1.8h-1.8zM237.4 320.7h1.8v1.8h-1.8zM219.8 364.5h1.8v1.8h-1.8zM182.4 382.8h1.8v1.8h-1.8zM117.5 383.5h1.8v1.8h-1.8zM299.6 281.2h1.8v1.8h-1.8zM313.7 283.3h1.8v1.8h-1.8zM329.2 315.8h1.8v1.8h-1.8zM284.0 320.0h1.8v1.8h-1.8zM108.3 310.8h1.8v1.8h-1.8zM342.6 247.3h1.8v1.8h-1.8zM129.5 269.2h1.8v1.8h-1.8z" fill="#000"/>
<path d="M229.5 467.5h1.8v1.8h-1.8zM167.4 524.0h1.8v1.8h-1.8zM192.3 532.4h1.8v1.8h-1.8zM222.8 513.2h1.8v1.8h-1.8zM197.9 476.0h1.8v1.8h-1.8zM203.6 477.1h1.8v1.8h-1.8zM191.7 488.4h1.8v1.8h-1.8zM199.6 483.9h1.8v1.8h-1.8zM207.5 490.1h1.8v1.8h-1.8zM225.6 482.7h1.8v1.8h-1.8zM232.4 485.0h1.8v1.8h-1.8zM242.0 486.1h1.8v1.8h-1.8zM254.9 486.1h1.8v1.8h-1.8zM263.4 470.9h1.8v1.8h-1.8zM268.5 483.3h1.8v1.8h-1.8zM274.7 472.0h1.8v1.8h-1.8zM280.4 490.1h1.8v1.8h-1.8zM242.0 448.3h1.8v1.8h-1.8zM235.7 452.8h1.8v1.8h-1.8zM134.7 490.1h1.8v1.8h-1.8zM103.1 467.5h1.8v1.8h-1.8zM179.3 429.1h1.8v1.8h-1.8z" fill="#000"/>
<path d="M73.1 304.8h1.8v1.8h-1.8zM94.0 307.6h1.8v1.8h-1.8zM108.1 310.4h1.8v1.8h-1.8zM79.3 329.0h1.8v1.8h-1.8zM56.1 335.8h1.8v1.8h-1.8zM101.3 346.0h1.8v1.8h-1.8zM73.1 354.4h1.8v1.8h-1.8zM76.5 372.0h1.8v1.8h-1.8zM96.2 377.6h1.8v1.8h-1.8zM108.1 378.7h1.8v1.8h-1.8zM122.2 352.2h1.8v1.8h-1.8zM121.6 368.0h1.8v1.8h-1.8zM142.5 395.7h1.8v1.8h-1.8zM130.1 381.0h1.8v1.8h-1.8z" fill="#000"/>
<path d="M26.5 418.5h2.0v2.0h-2.0zM18.8 421.3h2.0v2.0h-2.0zM20.2 430.5h2.0v2.0h-2.0zM13.8 440.4h2.0v2.0h-2.0zM79.5 328.9h2.0v2.0h-2.0zM78.8 475.7h2.0v2.0h-2.0zM25.8 503.2h2.0v2.0h-2.0zM179.7 429.1h2.0v2.0h-2.0zM102.0 345.8h2.0v2.0h-2.0zM96.4 377.6h2.0v2.0h-2.0z" fill="#000"/>
<path d="M342.9 247.4h1.8v1.8h-1.8zM329.4 315.2h1.8v1.8h-1.8zM372.5 309.6h1.8v1.8h-1.8zM392.3 308.1h1.8v1.8h-1.8zM323.8 292.6h1.8v1.8h-1.8zM331.6 285.6h1.8v1.8h-1.8zM341.4 461.3h1.8v1.8h-1.8zM303.3 371.0h1.8v1.8h-1.8z" fill="#000"/>
</g>
</g>
<line x1="51.50" y1="41" x2="51.50" y2="548.5" class="g"/>
<line x1="130.50" y1="41" x2="130.50" y2="548.5" class="g"/>
<line x1="209.50" y1="41" x2="209.50" y2="548.5" class="g"/>
<line x1="287.50" y1="41" x2="287.50" y2="548.5" class="g"/>
<line x1="366.50" y1="41" x2="366.50" y2="548.5" class="g"/>
<line x1="445.50" y1="41" x2="445.50" y2="548.5" class="g"/>
<line x1="13" y1="92.20" x2="487" y2="92.20" class="g"/>
<line x1="13" y1="177.20" x2="487" y2="177.20" class="g"/>
<line x1="13" y1="261.20" x2="487" y2="261.20" class="g"/>
<line x1="13" y1="346.20" x2="487" y2="346.20" class="g"/>
<line x1="13" y1="430.20" x2="487" y2="430.20" class="g"/>
<line x1="13" y1="515.20" x2="487" y2="515.20" class="g"/>
<polyline points="12.6,477.9 59.5,442.4 96.7,413 134,384.2 171.3,356 199.7,334.3 246.3,299.6 303.8,257.2 360.6,215.7 418.2,175.1 476.6,134.9" class="sw"/>
<polyline points="71.3,548.4 127.2,504.5 154.9,483.6 192.2,454.2 239.5,418.2 286.9,383.4 343.7,341.1 400.4,299.6 458,258.9 477.5,245.7" class="sw"/>
<text x="51.3" y="283.3" class="gl" text-anchor="middle">-50</text>
<text x="130.3" y="283.3" class="gl" text-anchor="middle">-48</text>
<text x="209" y="283.3" class="gl" text-anchor="middle">-46</text>
<text x="287.7" y="283.3" class="gl" text-anchor="middle">-44</text>
<text x="366.6" y="283.3" class="gl" text-anchor="middle">-42</text>
<text x="445.5" y="283.3" class="gl" text-anchor="middle">-40</text>
<text x="268.3" y="91.7" class="gl" text-anchor="middle">18</text>
<text x="268.3" y="176.2" class="gl" text-anchor="middle">16</text>
<text x="268.3" y="260.8" class="gl" text-anchor="middle">14</text>
<text x="268.3" y="345.3" class="gl" text-anchor="middle">12</text>
<text x="268.3" y="429.9" class="gl" text-anchor="middle">10</text>
<text x="268.3" y="514.4" class="gl" text-anchor="middle">8</text>
<path d="M242.9 294.5H255.9M249.4 288V301" stroke="#000" stroke-width="5.2" fill="none"/>
<text x="37.8" y="65.9" class="tt">VIRS T<tspan dy="6" font-size="15">B11</tspan><tspan dy="-6" dx="2.6"> (K)</tspan></text>
<text x="437.9" y="523.0" class="pl">(g)</text>
<rect x="495.2" y="531.57" width="8.8" height="8.76" fill="#f8f8f8"/>
<rect x="495.2" y="523.11" width="8.8" height="8.76" fill="#f1f1f1"/>
<rect x="495.2" y="514.65" width="8.8" height="8.76" fill="#eaeaea"/>
<rect x="495.2" y="506.18" width="8.8" height="8.76" fill="#e3e3e3"/>
<rect x="495.2" y="497.72" width="8.8" height="8.76" fill="#dcdcdc"/>
<rect x="495.2" y="489.26" width="8.8" height="8.76" fill="#d4d4d4"/>
<rect x="495.2" y="480.79" width="8.8" height="8.76" fill="#cdcdcd"/>
<rect x="495.2" y="472.33" width="8.8" height="8.76" fill="#c6c6c6"/>
<rect x="495.2" y="463.87" width="8.8" height="8.76" fill="#bfbfbe"/>
<rect x="495.2" y="455.40" width="8.8" height="8.76" fill="#b8b8b7"/>
<rect x="495.2" y="446.94" width="8.8" height="8.76" fill="#b1b1b0"/>
<rect x="495.2" y="438.48" width="8.8" height="8.76" fill="#aaaaa9"/>
<rect x="495.2" y="430.01" width="8.8" height="8.76" fill="#a3a3a2"/>
<rect x="495.2" y="421.55" width="8.8" height="8.76" fill="#9c9c9b"/>
<rect x="495.2" y="413.09" width="8.8" height="8.76" fill="#88e888"/>
<rect x="495.2" y="404.62" width="8.8" height="8.76" fill="#80dc80"/>
<rect x="495.2" y="396.16" width="8.8" height="8.76" fill="#78d478"/>
<rect x="495.2" y="387.70" width="8.8" height="8.76" fill="#70c870"/>
<rect x="495.2" y="379.23" width="8.8" height="8.76" fill="#68c068"/>
<rect x="495.2" y="370.77" width="8.8" height="8.76" fill="#d0d8ff"/>
<rect x="495.2" y="362.31" width="8.8" height="8.76" fill="#b8d0ff"/>
<rect x="495.2" y="353.84" width="8.8" height="8.76" fill="#a0c8ff"/>
<rect x="495.2" y="345.38" width="8.8" height="8.76" fill="#88c0ff"/>
<rect x="495.2" y="336.92" width="8.8" height="8.76" fill="#70b8ff"/>
<rect x="495.2" y="328.45" width="8.8" height="8.76" fill="#58b0ff"/>
<rect x="495.2" y="319.99" width="8.8" height="8.76" fill="#4888ff"/>
<rect x="495.2" y="311.53" width="8.8" height="8.76" fill="#4070ff"/>
<rect x="495.2" y="303.06" width="8.8" height="8.76" fill="#3850ff"/>
<rect x="495.2" y="294.60" width="8.8" height="8.76" fill="#3030ff"/>
<rect x="495.2" y="286.14" width="8.8" height="8.76" fill="#0000ff"/>
<rect x="495.2" y="277.67" width="8.8" height="8.76" fill="#0000f0"/>
<rect x="495.2" y="269.21" width="8.8" height="8.76" fill="#0000e0"/>
<rect x="495.2" y="260.75" width="8.8" height="8.76" fill="#0000d4"/>
<rect x="495.2" y="252.28" width="8.8" height="8.76" fill="#0000c8"/>
<rect x="495.2" y="243.82" width="8.8" height="8.76" fill="#ffff00"/>
<rect x="495.2" y="235.36" width="8.8" height="8.76" fill="#fff000"/>
<rect x="495.2" y="226.89" width="8.8" height="8.76" fill="#ffe800"/>
<rect x="495.2" y="218.43" width="8.8" height="8.76" fill="#ffdc00"/>
<rect x="495.2" y="209.97" width="8.8" height="8.76" fill="#ffd000"/>
<rect x="495.2" y="201.50" width="8.8" height="8.76" fill="#ff9000"/>
<rect x="495.2" y="193.04" width="8.8" height="8.76" fill="#ff8800"/>
<rect x="495.2" y="184.58" width="8.8" height="8.76" fill="#ff8000"/>
<rect x="495.2" y="176.11" width="8.8" height="8.76" fill="#ff7800"/>
<rect x="495.2" y="167.65" width="8.8" height="8.76" fill="#ff7000"/>
<rect x="495.2" y="159.19" width="8.8" height="8.76" fill="#ff4800"/>
<rect x="495.2" y="150.72" width="8.8" height="8.76" fill="#ff3c00"/>
<rect x="495.2" y="142.26" width="8.8" height="8.76" fill="#ff3000"/>
<rect x="495.2" y="133.80" width="8.8" height="8.76" fill="#ff2000"/>
<rect x="495.2" y="125.33" width="8.8" height="8.76" fill="#ff1400"/>
<rect x="495.2" y="116.87" width="8.8" height="8.76" fill="#cc0000"/>
<rect x="495.2" y="108.41" width="8.8" height="8.76" fill="#c40000"/>
<rect x="495.2" y="99.94" width="8.8" height="8.76" fill="#b80000"/>
<rect x="495.2" y="91.48" width="8.8" height="8.76" fill="#b00400"/>
<rect x="495.2" y="83.02" width="8.8" height="8.76" fill="#a40c00"/>
<rect x="495.2" y="74.55" width="8.8" height="8.76" fill="#680c04"/>
<rect x="495.2" y="66.09" width="8.8" height="8.76" fill="#641008"/>
<rect x="495.2" y="57.63" width="8.8" height="8.76" fill="#5c140c"/>
<rect x="495.2" y="49.16" width="8.8" height="8.76" fill="#5a1810"/>
<rect x="495.2" y="40.70" width="8.8" height="8.76" fill="#581814"/>
<line x1="504" y1="548.5" x2="506.6" y2="548.5" class="tk"/>
<text x="524.2" y="557.2" class="cl" text-anchor="middle">304</text>
<line x1="504" y1="497.7" x2="506.6" y2="497.7" class="tk"/>
<text x="524.2" y="506.4" class="cl" text-anchor="middle">292</text>
<line x1="504" y1="446.9" x2="506.6" y2="446.9" class="tk"/>
<text x="524.2" y="455.6" class="cl" text-anchor="middle">280</text>
<line x1="504" y1="396.2" x2="506.6" y2="396.2" class="tk"/>
<text x="524.2" y="404.9" class="cl" text-anchor="middle">268</text>
<line x1="504" y1="345.4" x2="506.6" y2="345.4" class="tk"/>
<text x="524.2" y="354.1" class="cl" text-anchor="middle">256</text>
<line x1="504" y1="294.6" x2="506.6" y2="294.6" class="tk"/>
<text x="524.2" y="303.3" class="cl" text-anchor="middle">244</text>
<line x1="504" y1="243.8" x2="506.6" y2="243.8" class="tk"/>
<text x="524.2" y="252.5" class="cl" text-anchor="middle">232</text>
<line x1="504" y1="193.0" x2="506.6" y2="193.0" class="tk"/>
<text x="524.2" y="201.7" class="cl" text-anchor="middle">220</text>
<line x1="504" y1="142.3" x2="506.6" y2="142.3" class="tk"/>
<text x="524.2" y="151.0" class="cl" text-anchor="middle">208</text>
<line x1="504" y1="91.5" x2="506.6" y2="91.5" class="tk"/>
<text x="524.2" y="100.2" class="cl" text-anchor="middle">196</text>
</g>
<g transform="translate(590.7,1181.3)">
<g clip-path="url(#cp)">
<g transform="rotate(-36.76)"><path d="M-284.8 408.0h1.6v1.6h-1.6zM-281.6 408.0h1.6v1.6h-1.6zM-284.8 409.6h4.8v1.6h-4.8zM-283.2 411.2h1.6v1.6h-1.6zM-280.0 416.0h3.2v1.6h-3.2zM-281.6 417.6h1.6v1.6h-1.6zM-278.4 417.6h1.6v1.6h-1.6zM-280.0 419.2h1.6v1.6h-1.6zM-281.6 420.8h3.2v1.6h-3.2zM-299.2 422.4h1.6v1.6h-1.6zM-268.8 422.4h1.6v1.6h-1.6zM-264.0 424.0h1.6v1.6h-1.6zM-302.4 425.6h1.6v1.6h-1.6zM-291.2 425.6h1.6v1.6h-1.6zM-292.8 427.2h4.8v1.6h-4.8zM-281.6 427.2h1.6v1.6h-1.6zM-278.4 427.2h1.6v1.6h-1.6zM-300.8 428.8h1.6v1.6h-1.6zM-281.6 428.8h6.4v1.6h-6.4zM-283.2 430.4h6.4v1.6h-6.4zM-284.8 432.0h3.2v1.6h-3.2zM-273.6 433.6h3.2v1.6h-3.2zM-275.2 435.2h4.8v1.6h-4.8zM-254.4 435.2h6.4v1.6h-6.4zM-238.4 435.2h3.2v1.6h-3.2zM-272.0 436.8h1.6v1.6h-1.6zM-254.4 436.8h1.6v1.6h-1.6zM-249.6 436.8h1.6v1.6h-1.6zM-241.6 436.8h1.6v1.6h-1.6zM-236.8 436.8h1.6v1.6h-1.6zM-270.4 438.4h1.6v1.6h-1.6zM-252.8 438.4h1.6v1.6h-1.6zM-212.8 438.4h1.6v1.6h-1.6zM-270.4 440.0h1.6v1.6h-1.6zM-262.4 440.0h1.6v1.6h-1.6zM-212.8 440.0h3.2v1.6h-3.2zM-257.6 448.0h1.6v1.6h-1.6zM-236.8 448.0h1.6v1.6h-1.6zM-179.2 448.0h1.6v1.6h-1.6zM-171.2 448.0h1.6v1.6h-1.6zM-166.4 448.0h1.6v1.6h-1.6zM-252.8 449.6h1.6v1.6h-1.6zM-222.4 449.6h1.6v1.6h-1.6zM-208.0 449.6h1.6v1.6h-1.6zM-196.8 449.6h4.8v1.6h-4.8zM-172.8 449.6h1.6v1.6h-1.6zM-166.4 449.6h1.6v1.6h-1.6zM-254.4 451.2h4.8v1.6h-4.8zM-179.2 451.2h3.2v1.6h-3.2zM-166.4 451.2h1.6v1.6h-1.6zM-289.6 452.8h1.6v1.6h-1.6zM-254.4 452.8h3.2v1.6h-3.2zM-166.4 452.8h1.6v1.6h-1.6zM-252.8 454.4h6.4v1.6h-6.4zM-243.2 454.4h4.8v1.6h-4.8zM-225.6 454.4h4.8v1.6h-4.8zM-289.6 456.0h1.6v1.6h-1.6zM-251.2 456.0h4.8v1.6h-4.8zM-244.8 456.0h4.8v1.6h-4.8zM-225.6 456.0h4.8v1.6h-4.8zM-219.2 456.0h1.6v1.6h-1.6zM-243.2 457.6h3.2v1.6h-3.2zM-225.6 457.6h4.8v1.6h-4.8zM-240.0 459.2h3.2v1.6h-3.2zM-220.8 459.2h1.6v1.6h-1.6zM-241.6 460.8h3.2v1.6h-3.2zM-243.2 462.4h4.8v1.6h-4.8zM-184.0 462.4h1.6v1.6h-1.6zM-243.2 464.0h3.2v1.6h-3.2zM-233.6 465.6h3.2v1.6h-3.2zM-190.4 465.6h1.6v1.6h-1.6zM-233.6 467.2h3.2v1.6h-3.2zM-246.4 468.8h1.6v1.6h-1.6zM-260.8 470.4h1.6v1.6h-1.6zM-251.2 470.4h1.6v1.6h-1.6zM-254.4 472.0h4.8v1.6h-4.8zM-233.6 472.0h3.2v1.6h-3.2zM-220.8 472.0h1.6v1.6h-1.6zM-254.4 473.6h3.2v1.6h-3.2zM-233.6 473.6h1.6v1.6h-1.6zM-230.4 473.6h1.6v1.6h-1.6zM-257.6 475.2h6.4v1.6h-6.4zM-233.6 475.2h3.2v1.6h-3.2zM-256.0 476.8h3.2v1.6h-3.2zM-233.6 476.8h1.6v1.6h-1.6zM-222.4 476.8h1.6v1.6h-1.6zM-244.8 478.4h1.6v1.6h-1.6zM-220.8 478.4h1.6v1.6h-1.6zM-216.0 478.4h1.6v1.6h-1.6z" fill="#ff4400"/><path d="M-283.2 408.0h1.6v1.6h-1.6zM-280.0 408.0h1.6v1.6h-1.6zM-280.0 409.6h1.6v1.6h-1.6zM-281.6 411.2h3.2v1.6h-3.2zM-270.4 416.0h3.2v1.6h-3.2zM-296.0 417.6h1.6v1.6h-1.6zM-280.0 417.6h1.6v1.6h-1.6zM-270.4 417.6h4.8v1.6h-4.8zM-296.0 419.2h1.6v1.6h-1.6zM-281.6 419.2h1.6v1.6h-1.6zM-278.4 419.2h1.6v1.6h-1.6zM-268.8 419.2h3.2v1.6h-3.2zM-268.8 420.8h1.6v1.6h-1.6zM-267.2 422.4h1.6v1.6h-1.6zM-300.8 424.0h1.6v1.6h-1.6zM-297.6 424.0h1.6v1.6h-1.6zM-262.4 424.0h1.6v1.6h-1.6zM-300.8 425.6h4.8v1.6h-4.8zM-292.8 425.6h1.6v1.6h-1.6zM-289.6 425.6h1.6v1.6h-1.6zM-302.4 427.2h4.8v1.6h-4.8zM-288.0 427.2h1.6v1.6h-1.6zM-280.0 427.2h1.6v1.6h-1.6zM-276.8 427.2h1.6v1.6h-1.6zM-304.0 428.8h3.2v1.6h-3.2zM-291.2 428.8h1.6v1.6h-1.6zM-288.0 428.8h4.8v1.6h-4.8zM-305.6 430.4h4.8v1.6h-4.8zM-288.0 430.4h4.8v1.6h-4.8zM-292.8 432.0h3.2v1.6h-3.2zM-281.6 432.0h1.6v1.6h-1.6zM-273.6 432.0h3.2v1.6h-3.2zM-256.0 432.0h1.6v1.6h-1.6zM-292.8 433.6h3.2v1.6h-3.2zM-284.8 433.6h1.6v1.6h-1.6zM-256.0 433.6h3.2v1.6h-3.2zM-292.8 435.2h1.6v1.6h-1.6zM-270.4 435.2h1.6v1.6h-1.6zM-256.0 435.2h1.6v1.6h-1.6zM-240.0 435.2h1.6v1.6h-1.6zM-270.4 436.8h3.2v1.6h-3.2zM-252.8 436.8h1.6v1.6h-1.6zM-248.0 436.8h1.6v1.6h-1.6zM-240.0 436.8h3.2v1.6h-3.2zM-235.2 436.8h1.6v1.6h-1.6zM-273.6 438.4h3.2v1.6h-3.2zM-268.8 438.4h1.6v1.6h-1.6zM-249.6 438.4h1.6v1.6h-1.6zM-240.0 438.4h1.6v1.6h-1.6zM-236.8 438.4h1.6v1.6h-1.6zM-214.4 438.4h1.6v1.6h-1.6zM-211.2 438.4h1.6v1.6h-1.6zM-272.0 440.0h1.6v1.6h-1.6zM-268.8 440.0h1.6v1.6h-1.6zM-214.4 440.0h1.6v1.6h-1.6zM-272.0 441.6h3.2v1.6h-3.2zM-214.4 441.6h4.8v1.6h-4.8zM-294.4 443.2h1.6v1.6h-1.6zM-257.6 443.2h1.6v1.6h-1.6zM-236.8 443.2h6.4v1.6h-6.4zM-259.2 444.8h4.8v1.6h-4.8zM-249.6 444.8h1.6v1.6h-1.6zM-235.2 444.8h6.4v1.6h-6.4zM-219.2 444.8h3.2v1.6h-3.2zM-259.2 446.4h4.8v1.6h-4.8zM-236.8 446.4h8.0v1.6h-8.0zM-220.8 446.4h4.8v1.6h-4.8zM-203.2 446.4h1.6v1.6h-1.6zM-192.0 446.4h4.8v1.6h-4.8zM-260.8 448.0h3.2v1.6h-3.2zM-254.4 448.0h1.6v1.6h-1.6zM-241.6 448.0h3.2v1.6h-3.2zM-235.2 448.0h1.6v1.6h-1.6zM-222.4 448.0h3.2v1.6h-3.2zM-217.6 448.0h1.6v1.6h-1.6zM-193.6 448.0h1.6v1.6h-1.6zM-190.4 448.0h6.4v1.6h-6.4zM-172.8 448.0h1.6v1.6h-1.6zM-281.6 449.6h1.6v1.6h-1.6zM-259.2 449.6h6.4v1.6h-6.4zM-251.2 449.6h3.2v1.6h-3.2zM-236.8 449.6h1.6v1.6h-1.6zM-220.8 449.6h1.6v1.6h-1.6zM-192.0 449.6h6.4v1.6h-6.4zM-179.2 449.6h1.6v1.6h-1.6zM-171.2 449.6h1.6v1.6h-1.6zM-289.6 451.2h1.6v1.6h-1.6zM-257.6 451.2h3.2v1.6h-3.2zM-248.0 451.2h1.6v1.6h-1.6zM-212.8 451.2h3.2v1.6h-3.2zM-196.8 451.2h4.8v1.6h-4.8zM-174.4 451.2h3.2v1.6h-3.2zM-294.4 452.8h3.2v1.6h-3.2zM-257.6 452.8h3.2v1.6h-3.2zM-244.8 452.8h8.0v1.6h-8.0zM-232.0 452.8h1.6v1.6h-1.6zM-224.0 452.8h3.2v1.6h-3.2zM-294.4 454.4h6.4v1.6h-6.4zM-257.6 454.4h4.8v1.6h-4.8zM-246.4 454.4h1.6v1.6h-1.6zM-238.4 454.4h1.6v1.6h-1.6zM-233.6 454.4h3.2v1.6h-3.2zM-219.2 454.4h1.6v1.6h-1.6zM-292.8 456.0h3.2v1.6h-3.2zM-288.0 456.0h1.6v1.6h-1.6zM-272.0 456.0h3.2v1.6h-3.2zM-257.6 456.0h6.4v1.6h-6.4zM-246.4 456.0h1.6v1.6h-1.6zM-240.0 456.0h3.2v1.6h-3.2zM-220.8 456.0h1.6v1.6h-1.6zM-291.2 457.6h3.2v1.6h-3.2zM-272.0 457.6h3.2v1.6h-3.2zM-251.2 457.6h8.0v1.6h-8.0zM-240.0 457.6h1.6v1.6h-1.6zM-235.2 457.6h1.6v1.6h-1.6zM-220.8 457.6h3.2v1.6h-3.2zM-267.2 459.2h4.8v1.6h-4.8zM-249.6 459.2h9.6v1.6h-9.6zM-224.0 459.2h3.2v1.6h-3.2zM-267.2 460.8h4.8v1.6h-4.8zM-248.0 460.8h6.4v1.6h-6.4zM-238.4 460.8h1.6v1.6h-1.6zM-267.2 462.4h3.2v1.6h-3.2zM-246.4 462.4h3.2v1.6h-3.2zM-220.8 462.4h1.6v1.6h-1.6zM-280.0 464.0h1.6v1.6h-1.6zM-244.8 464.0h1.6v1.6h-1.6zM-240.0 464.0h1.6v1.6h-1.6zM-220.8 464.0h3.2v1.6h-3.2zM-275.2 465.6h3.2v1.6h-3.2zM-256.0 465.6h3.2v1.6h-3.2zM-243.2 465.6h3.2v1.6h-3.2zM-222.4 465.6h6.4v1.6h-6.4zM-273.6 467.2h3.2v1.6h-3.2zM-259.2 467.2h6.4v1.6h-6.4zM-244.8 467.2h3.2v1.6h-3.2zM-220.8 467.2h1.6v1.6h-1.6zM-275.2 468.8h6.4v1.6h-6.4zM-260.8 468.8h11.2v1.6h-11.2zM-236.8 468.8h1.6v1.6h-1.6zM-232.0 468.8h1.6v1.6h-1.6zM-273.6 470.4h4.8v1.6h-4.8zM-262.4 470.4h1.6v1.6h-1.6zM-259.2 470.4h1.6v1.6h-1.6zM-256.0 470.4h4.8v1.6h-4.8zM-249.6 470.4h4.8v1.6h-4.8zM-233.6 470.4h4.8v1.6h-4.8zM-270.4 472.0h1.6v1.6h-1.6zM-264.0 472.0h8.0v1.6h-8.0zM-249.6 472.0h4.8v1.6h-4.8zM-230.4 472.0h3.2v1.6h-3.2zM-267.2 473.6h4.8v1.6h-4.8zM-259.2 473.6h4.8v1.6h-4.8zM-251.2 473.6h6.4v1.6h-6.4zM-232.0 473.6h1.6v1.6h-1.6zM-268.8 475.2h3.2v1.6h-3.2zM-251.2 475.2h9.6v1.6h-9.6zM-230.4 475.2h1.6v1.6h-1.6zM-252.8 476.8h1.6v1.6h-1.6zM-246.4 476.8h8.0v1.6h-8.0zM-230.4 476.8h1.6v1.6h-1.6zM-220.8 476.8h3.2v1.6h-3.2zM-254.4 478.4h3.2v1.6h-3.2zM-248.0 478.4h3.2v1.6h-3.2zM-243.2 478.4h4.8v1.6h-4.8zM-232.0 478.4h1.6v1.6h-1.6zM-224.0 478.4h3.2v1.6h-3.2zM-219.2 478.4h3.2v1.6h-3.2zM-254.4 480.0h3.2v1.6h-3.2zM-225.6 480.0h1.6v1.6h-1.6zM-222.4 480.0h3.2v1.6h-3.2z" fill="#0000ff"/></g>
<ellipse cx="185.4" cy="350.3" rx="1.69" ry="1.08" transform="rotate(-35 185.4 350.3)" fill="#ff4400"/>
<ellipse cx="163.9" cy="361.0" rx="1.21" ry="0.77" transform="rotate(-35 163.9 361.0)" fill="#ff4400"/>
<ellipse cx="169.8" cy="362.1" rx="2.17" ry="1.39" transform="rotate(-35 169.8 362.1)" fill="#ff4400"/>
<ellipse cx="169.8" cy="369.1" rx="1.21" ry="0.77" transform="rotate(-35 169.8 369.1)" fill="#0000ff"/>
<ellipse cx="176.3" cy="374.4" rx="2.66" ry="1.7" transform="rotate(-35 176.3 374.4)" fill="#0000ff"/>
<ellipse cx="181.1" cy="375.0" rx="0.97" ry="0.62" transform="rotate(-35 181.1 375.0)" fill="#0000ff"/>
<ellipse cx="183.3" cy="378.2" rx="1.21" ry="0.77" transform="rotate(-35 183.3 378.2)" fill="#0000ff"/>
<ellipse cx="187.0" cy="380.9" rx="2.41" ry="1.54" transform="rotate(-35 187.0 380.9)" fill="#0000ff"/>
<ellipse cx="192.4" cy="380.4" rx="1.45" ry="0.93" transform="rotate(-35 192.4 380.4)" fill="#0000ff"/>
<ellipse cx="201.3" cy="370.7" rx="2.41" ry="1.54" transform="rotate(-35 201.3 370.7)" fill="#0000ff"/>
<ellipse cx="210.1" cy="377.1" rx="2.17" ry="1.39" transform="rotate(-35 210.1 377.1)" fill="#0000ff"/>
<ellipse cx="211.2" cy="359.4" rx="1.45" ry="0.93" transform="rotate(-35 211.2 359.4)" fill="#ff4400"/>
<ellipse cx="219.7" cy="353.5" rx="0.97" ry="0.62" transform="rotate(-35 219.7 353.5)" fill="#ff4400"/>
<ellipse cx="220.3" cy="357.3" rx="0.9" ry="0.58" transform="rotate(-35 220.3 357.3)" fill="#ff4400"/>
<ellipse cx="221.9" cy="372.3" rx="2.9" ry="1.85" transform="rotate(-35 221.9 372.3)" fill="#0000ff"/>
<ellipse cx="224.0" cy="368.0" rx="2.41" ry="1.54" transform="rotate(-35 224.0 368.0)" fill="#0000ff"/>
<ellipse cx="228.9" cy="362.6" rx="2.66" ry="1.7" transform="rotate(-35 228.9 362.6)" fill="#0000ff"/>
<ellipse cx="229.4" cy="353.5" rx="0.97" ry="0.62" transform="rotate(-35 229.4 353.5)" fill="#ff4400"/>
<ellipse cx="235.8" cy="356.2" rx="2.66" ry="1.7" transform="rotate(-35 235.8 356.2)" fill="#ff4400"/>
<ellipse cx="240.7" cy="349.2" rx="1.21" ry="0.77" transform="rotate(-35 240.7 349.2)" fill="#ff4400"/>
<ellipse cx="246.0" cy="359.4" rx="0.9" ry="0.58" transform="rotate(-35 246.0 359.4)" fill="#ff4400"/>
<ellipse cx="215.4" cy="382.0" rx="0.9" ry="0.58" transform="rotate(-35 215.4 382.0)" fill="#0000ff"/>
<ellipse cx="221.3" cy="377.7" rx="0.9" ry="0.58" transform="rotate(-35 221.3 377.7)" fill="#0000ff"/>
<ellipse cx="198.3" cy="376.6" rx="0.9" ry="0.58" transform="rotate(-35 198.3 376.6)" fill="#0000ff"/>
<ellipse cx="203.1" cy="376.1" rx="0.9" ry="0.58" transform="rotate(-35 203.1 376.1)" fill="#0000ff"/>
<ellipse cx="178.4" cy="404.0" rx="3.02" ry="1.93" transform="rotate(-35 178.4 404.0)" fill="#0000ff"/>
<ellipse cx="184.3" cy="400.7" rx="2.17" ry="1.39" transform="rotate(-35 184.3 400.7)" fill="#ff4400"/>
<ellipse cx="167.2" cy="409.3" rx="0.9" ry="0.58" transform="rotate(-35 167.2 409.3)" fill="#0000ff"/>
<ellipse cx="290.5" cy="267.7" rx="2.66" ry="1.7" transform="rotate(-35 290.5 267.7)" fill="#0000ff"/>
<ellipse cx="293.2" cy="270.4" rx="1.69" ry="1.08" transform="rotate(-35 293.2 270.4)" fill="#0000ff"/>
<ellipse cx="305.0" cy="270.7" rx="0.9" ry="0.58" transform="rotate(-35 305.0 270.7)" fill="#ff4400"/>
<ellipse cx="299.7" cy="278.8" rx="1.21" ry="0.77" transform="rotate(-35 299.7 278.8)" fill="#ff4400"/>
<ellipse cx="304.5" cy="282.7" rx="1.21" ry="0.77" transform="rotate(-35 304.5 282.7)" fill="#ff4400"/>
<ellipse cx="308.6" cy="287.0" rx="2.41" ry="1.54" transform="rotate(-35 308.6 287.0)" fill="#0000ff"/>
<ellipse cx="309.3" cy="293.5" rx="1.69" ry="1.08" transform="rotate(-35 309.3 293.5)" fill="#0000ff"/>
<ellipse cx="314.1" cy="293.5" rx="1.69" ry="1.08" transform="rotate(-35 314.1 293.5)" fill="#0000ff"/>
<ellipse cx="322.7" cy="290.8" rx="3.02" ry="1.93" transform="rotate(-35 322.7 290.8)" fill="#ff4400"/>
<ellipse cx="320.0" cy="302.6" rx="2.41" ry="1.54" transform="rotate(-35 320.0 302.6)" fill="#ff4400"/>
<ellipse cx="321.7" cy="307.4" rx="1.69" ry="1.08" transform="rotate(-35 321.7 307.4)" fill="#ff4400"/>
<ellipse cx="309.3" cy="308.5" rx="1.45" ry="0.93" transform="rotate(-35 309.3 308.5)" fill="#ff4400"/>
<ellipse cx="316.3" cy="313.8" rx="0.97" ry="0.62" transform="rotate(-35 316.3 313.8)" fill="#ff4400"/>
<ellipse cx="325.9" cy="313.8" rx="1.21" ry="0.77" transform="rotate(-35 325.9 313.8)" fill="#ff4400"/>
<ellipse cx="289.5" cy="312.2" rx="2.41" ry="1.54" transform="rotate(-35 289.5 312.2)" fill="#ff4400"/>
<ellipse cx="291.6" cy="314.9" rx="1.45" ry="0.93" transform="rotate(-35 291.6 314.9)" fill="#ff4400"/>
<ellipse cx="280.4" cy="314.9" rx="0.9" ry="0.58" transform="rotate(-35 280.4 314.9)" fill="#ff4400"/>
<ellipse cx="278.2" cy="299.6" rx="0.97" ry="0.62" transform="rotate(-35 278.2 299.6)" fill="#ff4400"/>
<ellipse cx="289.3" cy="294.0" rx="0.9" ry="0.58" transform="rotate(-35 289.3 294.0)" fill="#ff4400"/>
<ellipse cx="277.1" cy="326.7" rx="1.93" ry="1.24" transform="rotate(-35 277.1 326.7)" fill="#0000ff"/>
<ellipse cx="275.0" cy="356.0" rx="0.97" ry="0.62" transform="rotate(-35 275.0 356.0)" fill="#ff4400"/>
<ellipse cx="313.6" cy="299.6" rx="0.9" ry="0.58" transform="rotate(-35 313.6 299.6)" fill="#ff4400"/>
<ellipse cx="401.5" cy="196.5" rx="1.48" ry="0.95" transform="rotate(-35 401.5 196.5)" fill="#ff4400"/>
<ellipse cx="382.8" cy="221.2" rx="1.12" ry="0.72" transform="rotate(-35 382.8 221.2)" fill="#ff4400"/>
<ellipse cx="409.9" cy="227.7" rx="1.12" ry="0.72" transform="rotate(-35 409.9 227.7)" fill="#ff4400"/>
<ellipse cx="475.0" cy="215.8" rx="1.12" ry="0.72" transform="rotate(-35 475.0 215.8)" fill="#ff4400"/>
</g>
<line x1="51.80" y1="41" x2="51.80" y2="548.5" class="g"/>
<line x1="130.80" y1="41" x2="130.80" y2="548.5" class="g"/>
<line x1="208.80" y1="41" x2="208.80" y2="548.5" class="g"/>
<line x1="287.80" y1="41" x2="287.80" y2="548.5" class="g"/>
<line x1="366.80" y1="41" x2="366.80" y2="548.5" class="g"/>
<line x1="445.80" y1="41" x2="445.80" y2="548.5" class="g"/>
<line x1="13" y1="92.20" x2="487" y2="92.20" class="g"/>
<line x1="13" y1="177.20" x2="487" y2="177.20" class="g"/>
<line x1="13" y1="261.20" x2="487" y2="261.20" class="g"/>
<line x1="13" y1="346.20" x2="487" y2="346.20" class="g"/>
<line x1="13" y1="430.20" x2="487" y2="430.20" class="g"/>
<line x1="13" y1="515.20" x2="487" y2="515.20" class="g"/>
<polyline points="12.6,477.9 59.5,442.4 96.7,413 134,384.2 171.3,356 199.7,334.3 246.3,299.6 303.8,257.2 360.6,215.7 418.2,175.1 476.6,134.9" class="sw"/>
<polyline points="71.3,548.4 127.2,504.5 154.9,483.6 192.2,454.2 239.5,418.2 286.9,383.4 343.7,341.1 400.4,299.6 458,258.9 477.5,245.7" class="sw"/>
<text x="51.3" y="283.3" class="gl" text-anchor="middle">-50</text>
<text x="130.3" y="283.3" class="gl" text-anchor="middle">-48</text>
<text x="209" y="283.3" class="gl" text-anchor="middle">-46</text>
<text x="287.7" y="283.3" class="gl" text-anchor="middle">-44</text>
<text x="366.6" y="283.3" class="gl" text-anchor="middle">-42</text>
<text x="445.5" y="283.3" class="gl" text-anchor="middle">-40</text>
<text x="268.3" y="91.7" class="gl" text-anchor="middle">18</text>
<text x="268.3" y="176.2" class="gl" text-anchor="middle">16</text>
<text x="268.3" y="260.8" class="gl" text-anchor="middle">14</text>
<text x="268.3" y="345.3" class="gl" text-anchor="middle">12</text>
<text x="268.3" y="429.9" class="gl" text-anchor="middle">10</text>
<text x="268.3" y="514.4" class="gl" text-anchor="middle">8</text>
<path d="M242.9 294.5H255.9M249.4 288V301" stroke="#000" stroke-width="5.2" fill="none"/>
<text x="36.6" y="65.9" class="tt">2A23 rain types</text>
<text x="437.9" y="523.0" class="pl">(h)</text>
<rect x="495.2" y="40.7" width="8.8" height="169.3" fill="#ff4400"/>
<rect x="495.2" y="210" width="8.8" height="169.3" fill="#0000ff"/>
<rect x="495.5" y="379.2" width="8.2" height="169" fill="#fff" stroke="#444" stroke-width="0.6"/>
<line x1="504" y1="40.7" x2="506.5" y2="40.7" class="tk"/>
<text x="507.5" y="48.9" class="cl">Conv</text>
<line x1="504" y1="210" x2="506.5" y2="210" class="tk"/>
<text x="507.5" y="218.2" class="cl">Strat</text>
<line x1="504" y1="379.2" x2="506.5" y2="379.2" class="tk"/>
<text x="507.5" y="387.4" class="cl">N/A</text>
</g>
<g transform="translate(1181.3,1181.3)">
<g clip-path="url(#cp)">
<g transform="rotate(-36.76)"><path d="M-284.8 408.0h1.6v1.6h-1.6zM-280.0 409.6h1.6v1.6h-1.6zM-280.0 416.0h1.6v1.6h-1.6zM-268.8 416.0h1.6v1.6h-1.6zM-296.0 417.6h1.6v1.6h-1.6zM-278.4 417.6h1.6v1.6h-1.6zM-268.8 417.6h1.6v1.6h-1.6zM-278.4 419.2h1.6v1.6h-1.6zM-299.2 422.4h1.6v1.6h-1.6zM-300.8 424.0h1.6v1.6h-1.6zM-297.6 425.6h1.6v1.6h-1.6zM-304.0 428.8h1.6v1.6h-1.6zM-300.8 428.8h1.6v1.6h-1.6zM-289.6 428.8h1.6v1.6h-1.6zM-283.2 428.8h1.6v1.6h-1.6zM-304.0 430.4h3.2v1.6h-3.2zM-284.8 432.0h1.6v1.6h-1.6zM-292.8 433.6h1.6v1.6h-1.6zM-256.0 433.6h1.6v1.6h-1.6zM-273.6 435.2h1.6v1.6h-1.6zM-256.0 435.2h3.2v1.6h-3.2zM-270.4 436.8h1.6v1.6h-1.6zM-248.0 436.8h1.6v1.6h-1.6zM-241.6 436.8h1.6v1.6h-1.6zM-236.8 436.8h3.2v1.6h-3.2zM-252.8 438.4h1.6v1.6h-1.6zM-249.6 438.4h1.6v1.6h-1.6zM-212.8 438.4h1.6v1.6h-1.6zM-270.4 440.0h1.6v1.6h-1.6zM-262.4 440.0h1.6v1.6h-1.6zM-214.4 441.6h1.6v1.6h-1.6zM-294.4 443.2h1.6v1.6h-1.6zM-257.6 443.2h1.6v1.6h-1.6zM-236.8 443.2h1.6v1.6h-1.6zM-232.0 443.2h1.6v1.6h-1.6zM-256.0 444.8h1.6v1.6h-1.6zM-235.2 444.8h1.6v1.6h-1.6zM-219.2 444.8h1.6v1.6h-1.6zM-217.6 446.4h1.6v1.6h-1.6zM-192.0 446.4h3.2v1.6h-3.2zM-259.2 448.0h4.8v1.6h-4.8zM-235.2 448.0h1.6v1.6h-1.6zM-232.0 448.0h1.6v1.6h-1.6zM-193.6 448.0h3.2v1.6h-3.2zM-257.6 449.6h4.8v1.6h-4.8zM-251.2 449.6h3.2v1.6h-3.2zM-220.8 449.6h1.6v1.6h-1.6zM-196.8 449.6h3.2v1.6h-3.2zM-192.0 449.6h3.2v1.6h-3.2zM-187.2 449.6h1.6v1.6h-1.6zM-172.8 449.6h1.6v1.6h-1.6zM-289.6 451.2h1.6v1.6h-1.6zM-251.2 451.2h1.6v1.6h-1.6zM-212.8 451.2h1.6v1.6h-1.6zM-195.2 451.2h3.2v1.6h-3.2zM-177.6 451.2h1.6v1.6h-1.6zM-257.6 452.8h1.6v1.6h-1.6zM-251.2 452.8h1.6v1.6h-1.6zM-241.6 452.8h1.6v1.6h-1.6zM-236.8 452.8h1.6v1.6h-1.6zM-222.4 452.8h1.6v1.6h-1.6zM-166.4 452.8h1.6v1.6h-1.6zM-294.4 454.4h1.6v1.6h-1.6zM-254.4 454.4h1.6v1.6h-1.6zM-244.8 454.4h1.6v1.6h-1.6zM-232.0 454.4h1.6v1.6h-1.6zM-220.8 454.4h1.6v1.6h-1.6zM-272.0 456.0h3.2v1.6h-3.2zM-244.8 456.0h1.6v1.6h-1.6zM-240.0 456.0h3.2v1.6h-3.2zM-224.0 456.0h1.6v1.6h-1.6zM-244.8 457.6h1.6v1.6h-1.6zM-235.2 457.6h1.6v1.6h-1.6zM-246.4 459.2h1.6v1.6h-1.6zM-240.0 459.2h1.6v1.6h-1.6zM-244.8 460.8h3.2v1.6h-3.2zM-280.0 464.0h1.6v1.6h-1.6zM-275.2 465.6h1.6v1.6h-1.6zM-243.2 465.6h1.6v1.6h-1.6zM-219.2 465.6h1.6v1.6h-1.6zM-188.8 465.6h1.6v1.6h-1.6zM-254.4 467.2h1.6v1.6h-1.6zM-243.2 467.2h1.6v1.6h-1.6zM-260.8 468.8h4.8v1.6h-4.8zM-236.8 468.8h1.6v1.6h-1.6zM-272.0 470.4h1.6v1.6h-1.6zM-260.8 470.4h3.2v1.6h-3.2zM-246.4 470.4h1.6v1.6h-1.6zM-230.4 470.4h1.6v1.6h-1.6zM-270.4 472.0h1.6v1.6h-1.6zM-264.0 472.0h1.6v1.6h-1.6zM-259.2 472.0h3.2v1.6h-3.2zM-251.2 472.0h1.6v1.6h-1.6zM-230.4 472.0h1.6v1.6h-1.6zM-267.2 473.6h1.6v1.6h-1.6zM-257.6 473.6h1.6v1.6h-1.6zM-251.2 473.6h1.6v1.6h-1.6zM-268.8 475.2h1.6v1.6h-1.6zM-254.4 475.2h1.6v1.6h-1.6zM-251.2 475.2h3.2v1.6h-3.2zM-244.8 475.2h1.6v1.6h-1.6zM-232.0 475.2h1.6v1.6h-1.6zM-252.8 476.8h1.6v1.6h-1.6zM-232.0 476.8h1.6v1.6h-1.6zM-222.4 476.8h1.6v1.6h-1.6zM-248.0 478.4h1.6v1.6h-1.6zM-232.0 478.4h1.6v1.6h-1.6zM-220.8 480.0h1.6v1.6h-1.6z" fill="#b8b8b8"/><path d="M-283.2 408.0h1.6v1.6h-1.6zM-281.6 411.2h3.2v1.6h-3.2zM-268.8 420.8h1.6v1.6h-1.6zM-284.8 428.8h1.6v1.6h-1.6zM-284.8 430.4h3.2v1.6h-3.2zM-292.8 432.0h1.6v1.6h-1.6zM-283.2 432.0h3.2v1.6h-3.2zM-273.6 433.6h3.2v1.6h-3.2zM-254.4 433.6h1.6v1.6h-1.6zM-240.0 435.2h1.6v1.6h-1.6zM-273.6 436.8h1.6v1.6h-1.6zM-251.2 436.8h3.2v1.6h-3.2zM-273.6 438.4h1.6v1.6h-1.6zM-241.6 438.4h4.8v1.6h-4.8zM-214.4 438.4h1.6v1.6h-1.6zM-214.4 440.0h1.6v1.6h-1.6zM-270.4 441.6h1.6v1.6h-1.6zM-235.2 443.2h3.2v1.6h-3.2zM-259.2 444.8h3.2v1.6h-3.2zM-233.6 444.8h3.2v1.6h-3.2zM-256.0 446.4h1.6v1.6h-1.6zM-222.4 448.0h1.6v1.6h-1.6zM-219.2 448.0h1.6v1.6h-1.6zM-179.2 448.0h1.6v1.6h-1.6zM-281.6 449.6h1.6v1.6h-1.6zM-236.8 449.6h1.6v1.6h-1.6zM-252.8 451.2h1.6v1.6h-1.6zM-211.2 451.2h1.6v1.6h-1.6zM-196.8 451.2h1.6v1.6h-1.6zM-172.8 451.2h1.6v1.6h-1.6zM-252.8 452.8h1.6v1.6h-1.6zM-240.0 452.8h3.2v1.6h-3.2zM-256.0 454.4h1.6v1.6h-1.6zM-219.2 454.4h1.6v1.6h-1.6zM-289.6 456.0h3.2v1.6h-3.2zM-243.2 456.0h1.6v1.6h-1.6zM-233.6 456.0h1.6v1.6h-1.6zM-270.4 457.6h1.6v1.6h-1.6zM-265.6 459.2h1.6v1.6h-1.6zM-243.2 459.2h3.2v1.6h-3.2zM-267.2 462.4h1.6v1.6h-1.6zM-246.4 462.4h1.6v1.6h-1.6zM-240.0 462.4h1.6v1.6h-1.6zM-275.2 467.2h1.6v1.6h-1.6zM-259.2 467.2h1.6v1.6h-1.6zM-273.6 470.4h1.6v1.6h-1.6zM-260.8 472.0h1.6v1.6h-1.6zM-233.6 472.0h1.6v1.6h-1.6zM-228.8 472.0h1.6v1.6h-1.6zM-259.2 473.6h1.6v1.6h-1.6zM-246.4 473.6h1.6v1.6h-1.6zM-232.0 473.6h1.6v1.6h-1.6zM-246.4 475.2h1.6v1.6h-1.6zM-254.4 476.8h1.6v1.6h-1.6zM-243.2 476.8h1.6v1.6h-1.6zM-233.6 476.8h1.6v1.6h-1.6zM-243.2 478.4h1.6v1.6h-1.6zM-254.4 480.0h3.2v1.6h-3.2z" fill="#d0d0d0"/><path d="M-281.6 408.0h3.2v1.6h-3.2zM-284.8 409.6h4.8v1.6h-4.8zM-283.2 411.2h1.6v1.6h-1.6zM-270.4 416.0h1.6v1.6h-1.6zM-281.6 417.6h1.6v1.6h-1.6zM-267.2 417.6h1.6v1.6h-1.6zM-296.0 419.2h1.6v1.6h-1.6zM-281.6 419.2h1.6v1.6h-1.6zM-268.8 419.2h3.2v1.6h-3.2zM-281.6 420.8h3.2v1.6h-3.2zM-267.2 422.4h1.6v1.6h-1.6zM-299.2 424.0h1.6v1.6h-1.6zM-264.0 424.0h1.6v1.6h-1.6zM-302.4 425.6h1.6v1.6h-1.6zM-299.2 425.6h1.6v1.6h-1.6zM-292.8 425.6h4.8v1.6h-4.8zM-289.6 427.2h1.6v1.6h-1.6zM-281.6 427.2h1.6v1.6h-1.6zM-276.8 427.2h1.6v1.6h-1.6zM-286.4 428.8h1.6v1.6h-1.6zM-281.6 428.8h1.6v1.6h-1.6zM-288.0 430.4h3.2v1.6h-3.2zM-281.6 430.4h4.8v1.6h-4.8zM-273.6 432.0h3.2v1.6h-3.2zM-291.2 433.6h1.6v1.6h-1.6zM-284.8 433.6h1.6v1.6h-1.6zM-275.2 435.2h1.6v1.6h-1.6zM-272.0 435.2h3.2v1.6h-3.2zM-249.6 435.2h1.6v1.6h-1.6zM-238.4 435.2h3.2v1.6h-3.2zM-272.0 436.8h1.6v1.6h-1.6zM-268.8 436.8h1.6v1.6h-1.6zM-254.4 436.8h1.6v1.6h-1.6zM-238.4 436.8h1.6v1.6h-1.6zM-272.0 438.4h3.2v1.6h-3.2zM-236.8 438.4h1.6v1.6h-1.6zM-211.2 438.4h1.6v1.6h-1.6zM-272.0 440.0h1.6v1.6h-1.6zM-268.8 440.0h1.6v1.6h-1.6zM-236.8 444.8h1.6v1.6h-1.6zM-230.4 444.8h1.6v1.6h-1.6zM-217.6 444.8h1.6v1.6h-1.6zM-259.2 446.4h1.6v1.6h-1.6zM-236.8 446.4h1.6v1.6h-1.6zM-233.6 446.4h4.8v1.6h-4.8zM-220.8 446.4h3.2v1.6h-3.2zM-260.8 448.0h1.6v1.6h-1.6zM-254.4 448.0h1.6v1.6h-1.6zM-241.6 448.0h1.6v1.6h-1.6zM-217.6 448.0h1.6v1.6h-1.6zM-195.2 448.0h1.6v1.6h-1.6zM-190.4 448.0h3.2v1.6h-3.2zM-185.6 448.0h1.6v1.6h-1.6zM-172.8 448.0h3.2v1.6h-3.2zM-166.4 448.0h1.6v1.6h-1.6zM-259.2 449.6h1.6v1.6h-1.6zM-222.4 449.6h1.6v1.6h-1.6zM-208.0 449.6h1.6v1.6h-1.6zM-193.6 449.6h1.6v1.6h-1.6zM-179.2 449.6h1.6v1.6h-1.6zM-166.4 449.6h1.6v1.6h-1.6zM-257.6 451.2h4.8v1.6h-4.8zM-249.6 451.2h3.2v1.6h-3.2zM-179.2 451.2h1.6v1.6h-1.6zM-174.4 451.2h1.6v1.6h-1.6zM-294.4 452.8h1.6v1.6h-1.6zM-256.0 452.8h3.2v1.6h-3.2zM-244.8 452.8h3.2v1.6h-3.2zM-232.0 452.8h1.6v1.6h-1.6zM-224.0 452.8h1.6v1.6h-1.6zM-292.8 454.4h1.6v1.6h-1.6zM-257.6 454.4h1.6v1.6h-1.6zM-252.8 454.4h1.6v1.6h-1.6zM-249.6 454.4h1.6v1.6h-1.6zM-243.2 454.4h1.6v1.6h-1.6zM-240.0 454.4h1.6v1.6h-1.6zM-233.6 454.4h1.6v1.6h-1.6zM-292.8 456.0h1.6v1.6h-1.6zM-257.6 456.0h6.4v1.6h-6.4zM-248.0 456.0h3.2v1.6h-3.2zM-241.6 456.0h1.6v1.6h-1.6zM-225.6 456.0h1.6v1.6h-1.6zM-291.2 457.6h1.6v1.6h-1.6zM-251.2 457.6h1.6v1.6h-1.6zM-243.2 457.6h1.6v1.6h-1.6zM-240.0 457.6h1.6v1.6h-1.6zM-224.0 457.6h1.6v1.6h-1.6zM-264.0 459.2h1.6v1.6h-1.6zM-249.6 459.2h3.2v1.6h-3.2zM-244.8 459.2h1.6v1.6h-1.6zM-264.0 460.8h1.6v1.6h-1.6zM-248.0 460.8h3.2v1.6h-3.2zM-240.0 460.8h1.6v1.6h-1.6zM-244.8 462.4h4.8v1.6h-4.8zM-220.8 462.4h1.6v1.6h-1.6zM-184.0 462.4h1.6v1.6h-1.6zM-244.8 464.0h6.4v1.6h-6.4zM-220.8 464.0h3.2v1.6h-3.2zM-244.8 465.6h1.6v1.6h-1.6zM-233.6 465.6h1.6v1.6h-1.6zM-190.4 465.6h1.6v1.6h-1.6zM-272.0 467.2h1.6v1.6h-1.6zM-252.8 467.2h1.6v1.6h-1.6zM-244.8 467.2h1.6v1.6h-1.6zM-270.4 468.8h1.6v1.6h-1.6zM-233.6 468.8h3.2v1.6h-3.2zM-262.4 470.4h1.6v1.6h-1.6zM-251.2 470.4h3.2v1.6h-3.2zM-232.0 470.4h1.6v1.6h-1.6zM-246.4 472.0h1.6v1.6h-1.6zM-232.0 472.0h1.6v1.6h-1.6zM-220.8 472.0h1.6v1.6h-1.6zM-264.0 473.6h1.6v1.6h-1.6zM-256.0 473.6h1.6v1.6h-1.6zM-248.0 473.6h1.6v1.6h-1.6zM-230.4 473.6h1.6v1.6h-1.6zM-257.6 475.2h3.2v1.6h-3.2zM-248.0 475.2h1.6v1.6h-1.6zM-243.2 475.2h1.6v1.6h-1.6zM-256.0 476.8h1.6v1.6h-1.6zM-240.0 476.8h1.6v1.6h-1.6zM-230.4 476.8h1.6v1.6h-1.6zM-252.8 478.4h1.6v1.6h-1.6zM-246.4 478.4h1.6v1.6h-1.6zM-240.0 478.4h1.6v1.6h-1.6zM-224.0 478.4h4.8v1.6h-4.8zM-225.6 480.0h3.2v1.6h-3.2z" fill="#a4a4a4"/><path d="M-280.0 417.6h1.6v1.6h-1.6zM-280.0 419.2h1.6v1.6h-1.6zM-302.4 427.2h4.8v1.6h-4.8zM-280.0 427.2h3.2v1.6h-3.2zM-280.0 428.8h4.8v1.6h-4.8zM-251.2 438.4h1.6v1.6h-1.6zM-212.8 440.0h1.6v1.6h-1.6zM-212.8 441.6h3.2v1.6h-3.2zM-240.0 448.0h1.6v1.6h-1.6zM-292.8 452.8h3.2v1.6h-3.2zM-249.6 452.8h4.8v1.6h-4.8zM-291.2 454.4h3.2v1.6h-3.2zM-251.2 454.4h1.6v1.6h-1.6zM-248.0 454.4h3.2v1.6h-3.2zM-224.0 454.4h1.6v1.6h-1.6zM-251.2 456.0h1.6v1.6h-1.6zM-222.4 456.0h1.6v1.6h-1.6zM-219.2 456.0h1.6v1.6h-1.6zM-289.6 457.6h1.6v1.6h-1.6zM-249.6 457.6h1.6v1.6h-1.6zM-238.4 457.6h1.6v1.6h-1.6zM-222.4 457.6h4.8v1.6h-4.8zM-267.2 459.2h1.6v1.6h-1.6zM-238.4 459.2h1.6v1.6h-1.6zM-224.0 459.2h1.6v1.6h-1.6zM-220.8 459.2h1.6v1.6h-1.6zM-238.4 460.8h1.6v1.6h-1.6zM-265.6 462.4h1.6v1.6h-1.6zM-254.4 465.6h1.6v1.6h-1.6zM-222.4 465.6h1.6v1.6h-1.6zM-273.6 467.2h1.6v1.6h-1.6zM-257.6 467.2h3.2v1.6h-3.2zM-220.8 467.2h1.6v1.6h-1.6zM-272.0 468.8h1.6v1.6h-1.6zM-246.4 468.8h1.6v1.6h-1.6zM-248.0 472.0h1.6v1.6h-1.6zM-265.6 473.6h1.6v1.6h-1.6zM-267.2 475.2h1.6v1.6h-1.6zM-241.6 476.8h1.6v1.6h-1.6zM-220.8 476.8h1.6v1.6h-1.6zM-241.6 478.4h1.6v1.6h-1.6zM-219.2 478.4h3.2v1.6h-3.2z" fill="#80dc80"/><path d="M-292.8 427.2h3.2v1.6h-3.2zM-291.2 428.8h1.6v1.6h-1.6zM-254.4 468.8h1.6v1.6h-1.6zM-254.4 470.4h1.6v1.6h-1.6zM-256.0 472.0h1.6v1.6h-1.6zM-252.8 472.0h1.6v1.6h-1.6z" fill="#0a1cf0"/><path d="M-305.6 430.4h1.6v1.6h-1.6zM-241.6 465.6h1.6v1.6h-1.6zM-256.0 470.4h1.6v1.6h-1.6zM-252.8 470.4h1.6v1.6h-1.6zM-254.4 472.0h1.6v1.6h-1.6zM-254.4 473.6h1.6v1.6h-1.6zM-233.6 473.6h1.6v1.6h-1.6zM-233.6 475.2h1.6v1.6h-1.6z" fill="#58a8ff"/><path d="M-257.6 446.4h1.6v1.6h-1.6zM-257.6 470.4h1.6v1.6h-1.6z" fill="#b8d0ff"/></g>
<ellipse cx="185.4" cy="350.3" rx="1.69" ry="1.08" transform="rotate(-35 185.4 350.3)" fill="#c4c4c4"/>
<ellipse cx="163.9" cy="361.0" rx="1.21" ry="0.77" transform="rotate(-35 163.9 361.0)" fill="#80dc80"/>
<ellipse cx="169.8" cy="362.1" rx="2.17" ry="1.39" transform="rotate(-35 169.8 362.1)" fill="#dedede"/>
<ellipse cx="169.8" cy="369.1" rx="1.21" ry="0.77" transform="rotate(-35 169.8 369.1)" fill="#dedede"/>
<ellipse cx="176.3" cy="374.4" rx="2.66" ry="1.7" transform="rotate(-35 176.3 374.4)" fill="#c4c4c4"/>
<ellipse cx="181.1" cy="375.0" rx="0.97" ry="0.62" transform="rotate(-35 181.1 375.0)" fill="#c4c4c4"/>
<ellipse cx="183.3" cy="378.2" rx="1.21" ry="0.77" transform="rotate(-35 183.3 378.2)" fill="#dedede"/>
<ellipse cx="187.0" cy="380.9" rx="2.41" ry="1.54" transform="rotate(-35 187.0 380.9)" fill="#c4c4c4"/>
<ellipse cx="192.4" cy="380.4" rx="1.45" ry="0.93" transform="rotate(-35 192.4 380.4)" fill="#dedede"/>
<ellipse cx="201.3" cy="370.7" rx="2.41" ry="1.54" transform="rotate(-35 201.3 370.7)" fill="#c4c4c4"/>
<ellipse cx="210.1" cy="377.1" rx="2.17" ry="1.39" transform="rotate(-35 210.1 377.1)" fill="#c4c4c4"/>
<ellipse cx="211.2" cy="359.4" rx="1.45" ry="0.93" transform="rotate(-35 211.2 359.4)" fill="#dedede"/>
<ellipse cx="219.7" cy="353.5" rx="0.97" ry="0.62" transform="rotate(-35 219.7 353.5)" fill="#c4c4c4"/>
<ellipse cx="220.3" cy="357.3" rx="0.9" ry="0.58" transform="rotate(-35 220.3 357.3)" fill="#dedede"/>
<ellipse cx="221.9" cy="372.3" rx="2.9" ry="1.85" transform="rotate(-35 221.9 372.3)" fill="#c4c4c4"/>
<ellipse cx="224.0" cy="368.0" rx="2.41" ry="1.54" transform="rotate(-35 224.0 368.0)" fill="#80dc80"/>
<ellipse cx="228.9" cy="362.6" rx="2.66" ry="1.7" transform="rotate(-35 228.9 362.6)" fill="#c4c4c4"/>
<ellipse cx="229.4" cy="353.5" rx="0.97" ry="0.62" transform="rotate(-35 229.4 353.5)" fill="#dedede"/>
<ellipse cx="235.8" cy="356.2" rx="2.66" ry="1.7" transform="rotate(-35 235.8 356.2)" fill="#dedede"/>
<ellipse cx="240.7" cy="349.2" rx="1.21" ry="0.77" transform="rotate(-35 240.7 349.2)" fill="#dedede"/>
<ellipse cx="246.0" cy="359.4" rx="0.9" ry="0.58" transform="rotate(-35 246.0 359.4)" fill="#c4c4c4"/>
<ellipse cx="215.4" cy="382.0" rx="0.9" ry="0.58" transform="rotate(-35 215.4 382.0)" fill="#dedede"/>
<ellipse cx="221.3" cy="377.7" rx="0.9" ry="0.58" transform="rotate(-35 221.3 377.7)" fill="#dedede"/>
<ellipse cx="198.3" cy="376.6" rx="0.9" ry="0.58" transform="rotate(-35 198.3 376.6)" fill="#dedede"/>
<ellipse cx="203.1" cy="376.1" rx="0.9" ry="0.58" transform="rotate(-35 203.1 376.1)" fill="#dedede"/>
<ellipse cx="178.4" cy="404.0" rx="3.02" ry="1.93" transform="rotate(-35 178.4 404.0)" fill="#c4c4c4"/>
<ellipse cx="184.3" cy="400.7" rx="2.17" ry="1.39" transform="rotate(-35 184.3 400.7)" fill="#c4c4c4"/>
<ellipse cx="167.2" cy="409.3" rx="0.9" ry="0.58" transform="rotate(-35 167.2 409.3)" fill="#c4c4c4"/>
<ellipse cx="290.5" cy="267.7" rx="2.66" ry="1.7" transform="rotate(-35 290.5 267.7)" fill="#c4c4c4"/>
<ellipse cx="293.2" cy="270.4" rx="1.69" ry="1.08" transform="rotate(-35 293.2 270.4)" fill="#dedede"/>
<ellipse cx="305.0" cy="270.7" rx="0.9" ry="0.58" transform="rotate(-35 305.0 270.7)" fill="#c4c4c4"/>
<ellipse cx="299.7" cy="278.8" rx="1.21" ry="0.77" transform="rotate(-35 299.7 278.8)" fill="#c4c4c4"/>
<ellipse cx="304.5" cy="282.7" rx="1.21" ry="0.77" transform="rotate(-35 304.5 282.7)" fill="#dedede"/>
<ellipse cx="308.6" cy="287.0" rx="2.41" ry="1.54" transform="rotate(-35 308.6 287.0)" fill="#c4c4c4"/>
<ellipse cx="309.3" cy="293.5" rx="1.69" ry="1.08" transform="rotate(-35 309.3 293.5)" fill="#dedede"/>
<ellipse cx="314.1" cy="293.5" rx="1.69" ry="1.08" transform="rotate(-35 314.1 293.5)" fill="#dedede"/>
<ellipse cx="322.7" cy="290.8" rx="3.02" ry="1.93" transform="rotate(-35 322.7 290.8)" fill="#c4c4c4"/>
<ellipse cx="320.0" cy="302.6" rx="2.41" ry="1.54" transform="rotate(-35 320.0 302.6)" fill="#c4c4c4"/>
<ellipse cx="321.7" cy="307.4" rx="1.69" ry="1.08" transform="rotate(-35 321.7 307.4)" fill="#c4c4c4"/>
<ellipse cx="309.3" cy="308.5" rx="1.45" ry="0.93" transform="rotate(-35 309.3 308.5)" fill="#dedede"/>
<ellipse cx="316.3" cy="313.8" rx="0.97" ry="0.62" transform="rotate(-35 316.3 313.8)" fill="#dedede"/>
<ellipse cx="325.9" cy="313.8" rx="1.21" ry="0.77" transform="rotate(-35 325.9 313.8)" fill="#dedede"/>
<ellipse cx="289.5" cy="312.2" rx="2.41" ry="1.54" transform="rotate(-35 289.5 312.2)" fill="#dedede"/>
<ellipse cx="291.6" cy="314.9" rx="1.45" ry="0.93" transform="rotate(-35 291.6 314.9)" fill="#dedede"/>
<ellipse cx="280.4" cy="314.9" rx="0.9" ry="0.58" transform="rotate(-35 280.4 314.9)" fill="#dedede"/>
<ellipse cx="278.2" cy="299.6" rx="0.97" ry="0.62" transform="rotate(-35 278.2 299.6)" fill="#dedede"/>
<ellipse cx="289.3" cy="294.0" rx="0.9" ry="0.58" transform="rotate(-35 289.3 294.0)" fill="#dedede"/>
<ellipse cx="277.1" cy="326.7" rx="1.93" ry="1.24" transform="rotate(-35 277.1 326.7)" fill="#80dc80"/>
<ellipse cx="275.0" cy="356.0" rx="0.97" ry="0.62" transform="rotate(-35 275.0 356.0)" fill="#dedede"/>
<ellipse cx="313.6" cy="299.6" rx="0.9" ry="0.58" transform="rotate(-35 313.6 299.6)" fill="#dedede"/>
<ellipse cx="401.5" cy="196.5" rx="1.48" ry="0.95" transform="rotate(-35 401.5 196.5)" fill="#d0d0d0"/>
<ellipse cx="382.8" cy="221.2" rx="1.12" ry="0.72" transform="rotate(-35 382.8 221.2)" fill="#d0d0d0"/>
<ellipse cx="409.9" cy="227.7" rx="1.12" ry="0.72" transform="rotate(-35 409.9 227.7)" fill="#d0d0d0"/>
<ellipse cx="475.0" cy="215.8" rx="1.12" ry="0.72" transform="rotate(-35 475.0 215.8)" fill="#d0d0d0"/>
<path d="M118.5 411.8h1.6v1.6h-1.6z" fill="#58a8ff"/>
</g>
<line x1="51.15" y1="41" x2="51.15" y2="548.5" class="g"/>
<line x1="130.15" y1="41" x2="130.15" y2="548.5" class="g"/>
<line x1="209.15" y1="41" x2="209.15" y2="548.5" class="g"/>
<line x1="288.15" y1="41" x2="288.15" y2="548.5" class="g"/>
<line x1="366.15" y1="41" x2="366.15" y2="548.5" class="g"/>
<line x1="445.15" y1="41" x2="445.15" y2="548.5" class="g"/>
<line x1="13" y1="92.20" x2="487" y2="92.20" class="g"/>
<line x1="13" y1="177.20" x2="487" y2="177.20" class="g"/>
<line x1="13" y1="261.20" x2="487" y2="261.20" class="g"/>
<line x1="13" y1="346.20" x2="487" y2="346.20" class="g"/>
<line x1="13" y1="430.20" x2="487" y2="430.20" class="g"/>
<line x1="13" y1="515.20" x2="487" y2="515.20" class="g"/>
<polyline points="12.6,477.9 59.5,442.4 96.7,413 134,384.2 171.3,356 199.7,334.3 246.3,299.6 303.8,257.2 360.6,215.7 418.2,175.1 476.6,134.9" class="sw"/>
<polyline points="71.3,548.4 127.2,504.5 154.9,483.6 192.2,454.2 239.5,418.2 286.9,383.4 343.7,341.1 400.4,299.6 458,258.9 477.5,245.7" class="sw"/>
<text x="51.3" y="283.3" class="gl" text-anchor="middle">-50</text>
<text x="130.3" y="283.3" class="gl" text-anchor="middle">-48</text>
<text x="209" y="283.3" class="gl" text-anchor="middle">-46</text>
<text x="287.7" y="283.3" class="gl" text-anchor="middle">-44</text>
<text x="366.6" y="283.3" class="gl" text-anchor="middle">-42</text>
<text x="445.5" y="283.3" class="gl" text-anchor="middle">-40</text>
<text x="268.3" y="91.7" class="gl" text-anchor="middle">18</text>
<text x="268.3" y="176.2" class="gl" text-anchor="middle">16</text>
<text x="268.3" y="260.8" class="gl" text-anchor="middle">14</text>
<text x="268.3" y="345.3" class="gl" text-anchor="middle">12</text>
<text x="268.3" y="429.9" class="gl" text-anchor="middle">10</text>
<text x="268.3" y="514.4" class="gl" text-anchor="middle">8</text>
<path d="M242.9 294.5H255.9M249.4 288V301" stroke="#000" stroke-width="5.2" fill="none"/>
<text x="36.6" y="65.9" class="tt">2A23 storm height (km)</text>
<text x="437.9" y="523.0" class="pl">(i)</text>
<rect x="495.2" y="531.57" width="8.8" height="8.76" fill="#f8f8f8"/>
<rect x="495.2" y="523.11" width="8.8" height="8.76" fill="#f1f1f1"/>
<rect x="495.2" y="514.65" width="8.8" height="8.76" fill="#eaeaea"/>
<rect x="495.2" y="506.18" width="8.8" height="8.76" fill="#e3e3e3"/>
<rect x="495.2" y="497.72" width="8.8" height="8.76" fill="#dcdcdc"/>
<rect x="495.2" y="489.26" width="8.8" height="8.76" fill="#d4d4d4"/>
<rect x="495.2" y="480.79" width="8.8" height="8.76" fill="#cdcdcd"/>
<rect x="495.2" y="472.33" width="8.8" height="8.76" fill="#c6c6c6"/>
<rect x="495.2" y="463.87" width="8.8" height="8.76" fill="#bfbfbe"/>
<rect x="495.2" y="455.40" width="8.8" height="8.76" fill="#b8b8b7"/>
<rect x="495.2" y="446.94" width="8.8" height="8.76" fill="#b1b1b0"/>
<rect x="495.2" y="438.48" width="8.8" height="8.76" fill="#aaaaa9"/>
<rect x="495.2" y="430.01" width="8.8" height="8.76" fill="#a3a3a2"/>
<rect x="495.2" y="421.55" width="8.8" height="8.76" fill="#9c9c9b"/>
<rect x="495.2" y="413.09" width="8.8" height="8.76" fill="#88e888"/>
<rect x="495.2" y="404.62" width="8.8" height="8.76" fill="#80dc80"/>
<rect x="495.2" y="396.16" width="8.8" height="8.76" fill="#78d478"/>
<rect x="495.2" y="387.70" width="8.8" height="8.76" fill="#70c870"/>
<rect x="495.2" y="379.23" width="8.8" height="8.76" fill="#68c068"/>
<rect x="495.2" y="370.77" width="8.8" height="8.76" fill="#d0d8ff"/>
<rect x="495.2" y="362.31" width="8.8" height="8.76" fill="#b8d0ff"/>
<rect x="495.2" y="353.84" width="8.8" height="8.76" fill="#a0c8ff"/>
<rect x="495.2" y="345.38" width="8.8" height="8.76" fill="#88c0ff"/>
<rect x="495.2" y="336.92" width="8.8" height="8.76" fill="#70b8ff"/>
<rect x="495.2" y="328.45" width="8.8" height="8.76" fill="#58b0ff"/>
<rect x="495.2" y="319.99" width="8.8" height="8.76" fill="#4888ff"/>
<rect x="495.2" y="311.53" width="8.8" height="8.76" fill="#4070ff"/>
<rect x="495.2" y="303.06" width="8.8" height="8.76" fill="#3850ff"/>
<rect x="495.2" y="294.60" width="8.8" height="8.76" fill="#3030ff"/>
<rect x="495.2" y="286.14" width="8.8" height="8.76" fill="#0000ff"/>
<rect x="495.2" y="277.67" width="8.8" height="8.76" fill="#0000f0"/>
<rect x="495.2" y="269.21" width="8.8" height="8.76" fill="#0000e0"/>
<rect x="495.2" y="260.75" width="8.8" height="8.76" fill="#0000d4"/>
<rect x="495.2" y="252.28" width="8.8" height="8.76" fill="#0000c8"/>
<rect x="495.2" y="243.82" width="8.8" height="8.76" fill="#ffff00"/>
<rect x="495.2" y="235.36" width="8.8" height="8.76" fill="#fff000"/>
<rect x="495.2" y="226.89" width="8.8" height="8.76" fill="#ffe800"/>
<rect x="495.2" y="218.43" width="8.8" height="8.76" fill="#ffdc00"/>
<rect x="495.2" y="209.97" width="8.8" height="8.76" fill="#ffd000"/>
<rect x="495.2" y="201.50" width="8.8" height="8.76" fill="#ff9000"/>
<rect x="495.2" y="193.04" width="8.8" height="8.76" fill="#ff8800"/>
<rect x="495.2" y="184.58" width="8.8" height="8.76" fill="#ff8000"/>
<rect x="495.2" y="176.11" width="8.8" height="8.76" fill="#ff7800"/>
<rect x="495.2" y="167.65" width="8.8" height="8.76" fill="#ff7000"/>
<rect x="495.2" y="159.19" width="8.8" height="8.76" fill="#ff4800"/>
<rect x="495.2" y="150.72" width="8.8" height="8.76" fill="#ff3c00"/>
<rect x="495.2" y="142.26" width="8.8" height="8.76" fill="#ff3000"/>
<rect x="495.2" y="133.80" width="8.8" height="8.76" fill="#ff2000"/>
<rect x="495.2" y="125.33" width="8.8" height="8.76" fill="#ff1400"/>
<rect x="495.2" y="116.87" width="8.8" height="8.76" fill="#cc0000"/>
<rect x="495.2" y="108.41" width="8.8" height="8.76" fill="#c40000"/>
<rect x="495.2" y="99.94" width="8.8" height="8.76" fill="#b80000"/>
<rect x="495.2" y="91.48" width="8.8" height="8.76" fill="#b00400"/>
<rect x="495.2" y="83.02" width="8.8" height="8.76" fill="#a40c00"/>
<rect x="495.2" y="74.55" width="8.8" height="8.76" fill="#680c04"/>
<rect x="495.2" y="66.09" width="8.8" height="8.76" fill="#641008"/>
<rect x="495.2" y="57.63" width="8.8" height="8.76" fill="#5c140c"/>
<rect x="495.2" y="49.16" width="8.8" height="8.76" fill="#5a1810"/>
<rect x="495.2" y="40.70" width="8.8" height="8.76" fill="#581814"/>
<line x1="504" y1="548.5" x2="506.6" y2="548.5" class="tk"/>
<text x="533.4" y="557.2" class="cl" text-anchor="middle">0.0</text>
<line x1="504" y1="497.7" x2="506.6" y2="497.7" class="tk"/>
<text x="533.4" y="506.4" class="cl" text-anchor="middle">2.0</text>
<line x1="504" y1="446.9" x2="506.6" y2="446.9" class="tk"/>
<text x="533.4" y="455.6" class="cl" text-anchor="middle">4.0</text>
<line x1="504" y1="396.2" x2="506.6" y2="396.2" class="tk"/>
<text x="533.4" y="404.9" class="cl" text-anchor="middle">6.0</text>
<line x1="504" y1="345.4" x2="506.6" y2="345.4" class="tk"/>
<text x="533.4" y="354.1" class="cl" text-anchor="middle">8.0</text>
<line x1="504" y1="294.6" x2="506.6" y2="294.6" class="tk"/>
<text x="533.4" y="303.3" class="cl" text-anchor="middle">10.0</text>
<line x1="504" y1="243.8" x2="506.6" y2="243.8" class="tk"/>
<text x="533.4" y="252.5" class="cl" text-anchor="middle">12.0</text>
<line x1="504" y1="193.0" x2="506.6" y2="193.0" class="tk"/>
<text x="533.4" y="201.7" class="cl" text-anchor="middle">14.0</text>
<line x1="504" y1="142.3" x2="506.6" y2="142.3" class="tk"/>
<text x="533.4" y="151.0" class="cl" text-anchor="middle">16.0</text>
<line x1="504" y1="91.5" x2="506.6" y2="91.5" class="tk"/>
<text x="533.4" y="100.2" class="cl" text-anchor="middle">18.0</text>
</g>
<text x="246.8" y="35.9" class="hd" text-anchor="middle">27335 2002-8-31 18:12:44 UTC</text>
<text x="839.5" y="35.9" class="hd" text-anchor="middle">ATL 200204 DOLLY</text>
</svg></body></html>
